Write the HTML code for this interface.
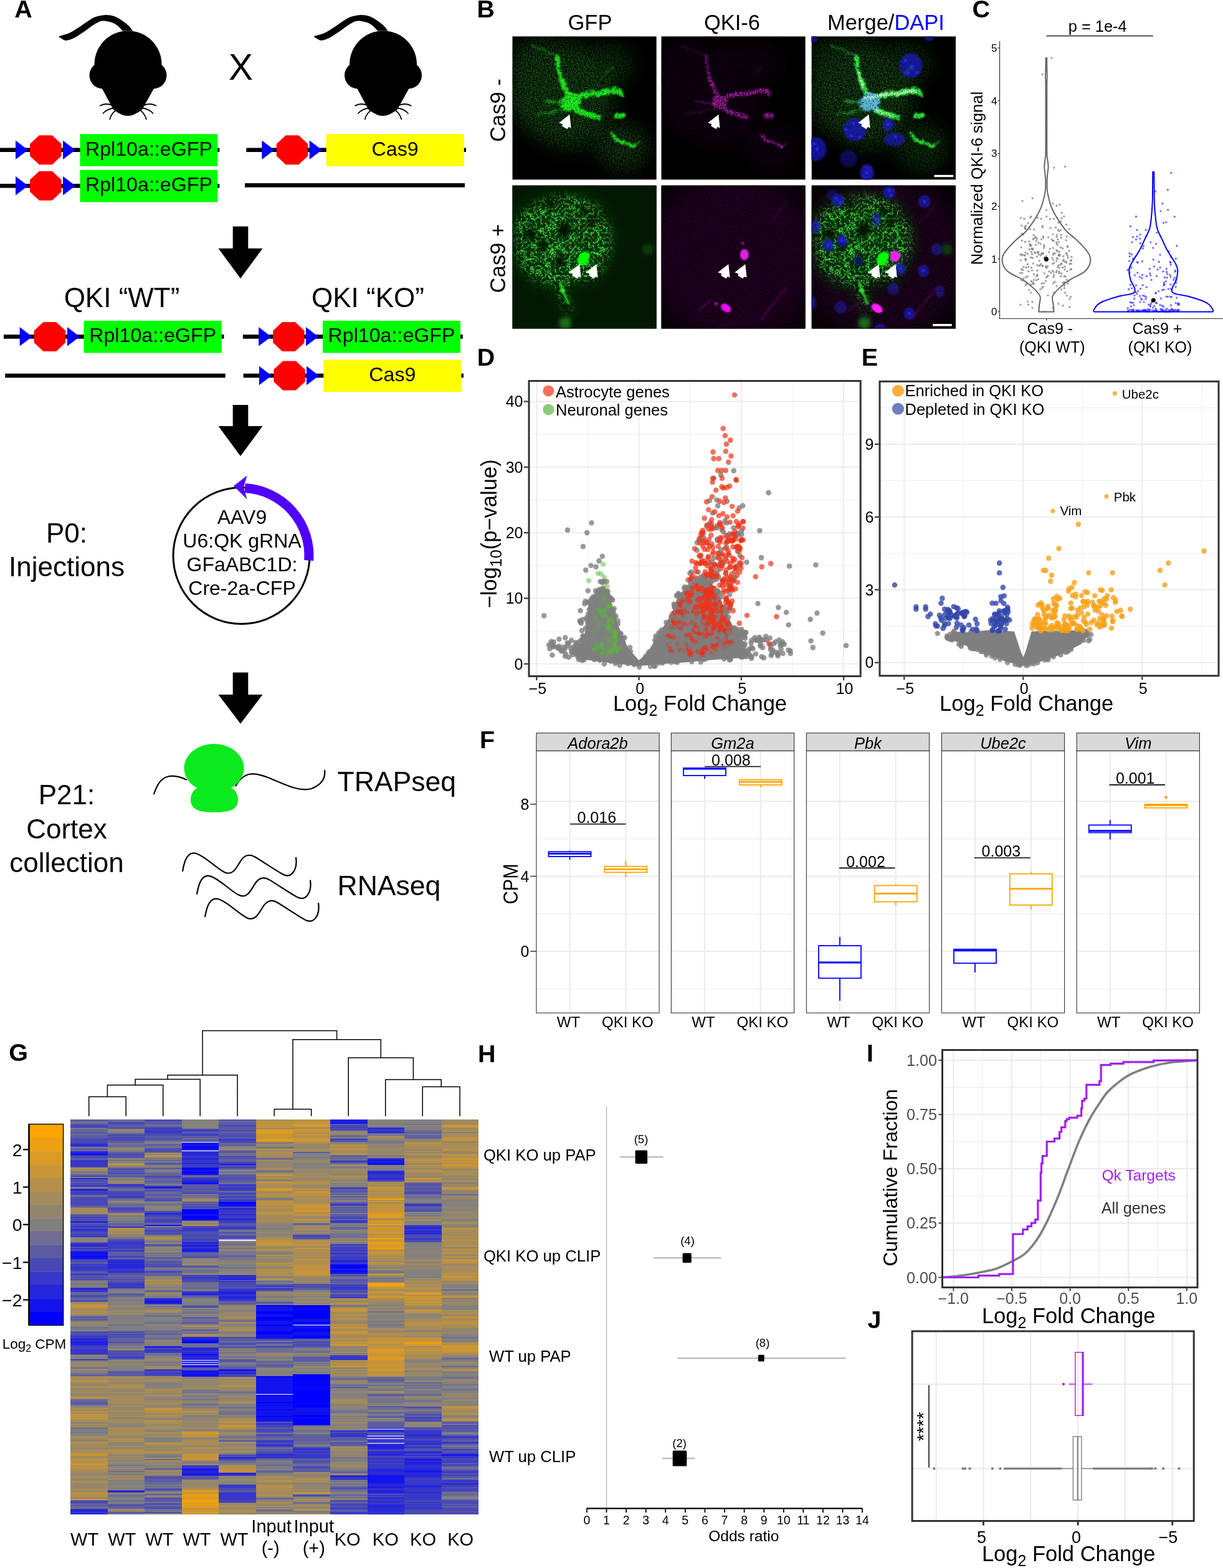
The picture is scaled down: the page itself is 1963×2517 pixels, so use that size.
<!DOCTYPE html>
<html><head><meta charset="utf-8"><title>Figure</title>
<style>html,body{margin:0;padding:0;background:#fff;}svg{display:block;}text{font-family:'Liberation Sans', Arial, Helvetica, sans-serif;}</style>
</head><body>
<svg width="1963" height="2517" viewBox="0 0 1963 2517">
<rect width="1963" height="2517" fill="#fff"/>
<defs>
<filter id="hazeF" x="-30%" y="-30%" width="160%" height="160%">
<feGaussianBlur in="SourceGraphic" stdDeviation="14" result="b"/>
<feTurbulence type="fractalNoise" baseFrequency="0.5" numOctaves="2" seed="4" result="n"/>
<feColorMatrix in="n" type="matrix" values="0 0 0 0 0  0 0 0 0 0  0 0 0 0 0  3.4 0 0 0 -1.15" result="m"/>
<feComposite in="b" in2="m" operator="in" result="c"/>
<feGaussianBlur in="c" stdDeviation="0.35"/>
</filter>
<filter id="softF" x="-30%" y="-30%" width="160%" height="160%">
<feGaussianBlur in="SourceGraphic" stdDeviation="14"/>
</filter>
<filter id="procF" x="-20%" y="-20%" width="140%" height="140%">
<feTurbulence type="fractalNoise" baseFrequency="0.18" numOctaves="2" seed="9" result="n"/>
<feDisplacementMap in="SourceGraphic" in2="n" scale="10" xChannelSelector="R" yChannelSelector="G" result="d"/>
<feGaussianBlur in="d" stdDeviation="1.1" result="bl"/>
<feTurbulence type="fractalNoise" baseFrequency="0.5" numOctaves="1" seed="13" result="n2"/>
<feColorMatrix in="n2" type="matrix" values="0 0 0 0 0  0 0 0 0 0  0 0 0 0 0  4 0 0 0 -0.9" result="m2"/>
<feComposite in="bl" in2="m2" operator="in"/>
</filter>
<filter id="procM" x="-20%" y="-20%" width="140%" height="140%">
<feTurbulence type="fractalNoise" baseFrequency="0.25" numOctaves="2" seed="9" result="n"/>
<feDisplacementMap in="SourceGraphic" in2="n" scale="7" xChannelSelector="R" yChannelSelector="G" result="d"/>
<feGaussianBlur in="d" stdDeviation="1.0" result="bl"/>
<feTurbulence type="fractalNoise" baseFrequency="0.55" numOctaves="1" seed="17" result="n2"/>
<feColorMatrix in="n2" type="matrix" values="0 0 0 0 0  0 0 0 0 0  0 0 0 0 0  5 0 0 0 -1.9" result="m2"/>
<feComposite in="bl" in2="m2" operator="in"/>
</filter>
<filter id="meshF" x="-10%" y="-10%" width="120%" height="120%">
<feGaussianBlur in="SourceGraphic" stdDeviation="7" result="sb"/>
<feTurbulence type="turbulence" baseFrequency="0.13" numOctaves="2" seed="7" result="n"/>
<feColorMatrix in="n" type="matrix" values="0 0 0 0 0  0 0 0 0 0  0 0 0 0 0  -6 0 0 0 1.5" result="m"/>
<feTurbulence type="fractalNoise" baseFrequency="0.45" numOctaves="1" seed="9" result="n2"/>
<feColorMatrix in="n2" type="matrix" values="0 0 0 0 0  0 0 0 0 0  0 0 0 0 0  6 0 0 0 -2.3" result="m2"/>
<feComposite in="m" in2="m2" operator="arithmetic" k1="1" k2="0" k3="0" k4="0" result="mm"/>
<feComposite in="sb" in2="mm" operator="in"/>
<feGaussianBlur stdDeviation="0.45"/>
</filter>
<filter id="nucF" x="-20%" y="-20%" width="140%" height="140%">
<feGaussianBlur in="SourceGraphic" stdDeviation="1.8" result="b"/>
<feTurbulence type="fractalNoise" baseFrequency="0.35" numOctaves="2" seed="21" result="n"/>
<feColorMatrix in="n" type="matrix" values="0 0 0 0 0  0 0 0 0 0  0 0 0 0 0  1.2 0 0 0 0.3" result="m"/>
<feComposite in="b" in2="m" operator="in"/>
</filter>
<filter id="blur1" x="-30%" y="-30%" width="160%" height="160%"><feGaussianBlur stdDeviation="1.2"/></filter>
<filter id="blur3" x="-50%" y="-50%" width="200%" height="200%"><feGaussianBlur stdDeviation="3"/></filter>
</defs>
<!-- panel_a -->
<text x="23.2" y="27.8" font-size="39.5" font-weight="bold">A</text>
<g transform="translate(0,0)"><path d="M95.5,57.8 C96.4,57.6 97.9,57.4 100.7,56.5 C103.5,55.6 107.6,55 112.3,52.6 C117,50.2 124.1,45.5 129.1,42.3 C134,39.1 138.1,35.8 142,33.3 C145.9,30.8 147.8,28.9 152.3,27.4 C156.8,25.8 163.9,24.2 169.1,24 C174.3,23.8 178.8,24.6 183.3,26.1 C187.8,27.7 192.4,30.7 196.3,33.3 C200.2,35.9 203.8,38.9 206.6,41.6 C209.4,44.3 212,48.2 213.1,49.5 L196.3,49.5 C195.4,48.5 193.5,45.7 191.1,43.6 C188.7,41.5 185.5,38.7 182.1,37.1 C178.7,35.5 174.1,34.3 170.4,33.9 C166.7,33.5 163.8,33.3 160.1,34.5 C156.4,35.7 152.8,38.2 148.5,41 C144.2,43.8 139.2,48 134.3,51.3 C129.4,54.6 123.5,58.7 118.8,61 C114,63.3 109.5,65 105.8,64.9 C102.1,64.8 98.3,61.1 96.8,60.4 Q93.5,60.5 95.5,57.8 Z" fill="#000"/><circle cx="205.5" cy="103.5" r="54" fill="#000"/><circle cx="165" cy="121" r="21.5" fill="#000"/><circle cx="246" cy="121" r="21.5" fill="#000"/><path d="M160,135 L251,135 L228,176 Q215,186 205,186 Q195,186 182,176 Z" fill="#000"/><path d="M183,170 Q170,164 160,170 M186,173 Q172,174 165,182.5 M190,174.5 Q179,180 176,192 M228,170 Q241,164 251,170 M225,173 Q239,174 246,182.5 M221,174.5 Q232,180 235,192" fill="none" stroke="#000" stroke-width="1.8"/></g>
<g transform="translate(409.5,0)"><path d="M95.5,57.8 C96.4,57.6 97.9,57.4 100.7,56.5 C103.5,55.6 107.6,55 112.3,52.6 C117,50.2 124.1,45.5 129.1,42.3 C134,39.1 138.1,35.8 142,33.3 C145.9,30.8 147.8,28.9 152.3,27.4 C156.8,25.8 163.9,24.2 169.1,24 C174.3,23.8 178.8,24.6 183.3,26.1 C187.8,27.7 192.4,30.7 196.3,33.3 C200.2,35.9 203.8,38.9 206.6,41.6 C209.4,44.3 212,48.2 213.1,49.5 L196.3,49.5 C195.4,48.5 193.5,45.7 191.1,43.6 C188.7,41.5 185.5,38.7 182.1,37.1 C178.7,35.5 174.1,34.3 170.4,33.9 C166.7,33.5 163.8,33.3 160.1,34.5 C156.4,35.7 152.8,38.2 148.5,41 C144.2,43.8 139.2,48 134.3,51.3 C129.4,54.6 123.5,58.7 118.8,61 C114,63.3 109.5,65 105.8,64.9 C102.1,64.8 98.3,61.1 96.8,60.4 Q93.5,60.5 95.5,57.8 Z" fill="#000"/><circle cx="205.5" cy="103.5" r="54" fill="#000"/><circle cx="165" cy="121" r="21.5" fill="#000"/><circle cx="246" cy="121" r="21.5" fill="#000"/><path d="M160,135 L251,135 L228,176 Q215,186 205,186 Q195,186 182,176 Z" fill="#000"/><path d="M183,170 Q170,164 160,170 M186,173 Q172,174 165,182.5 M190,174.5 Q179,180 176,192 M228,170 Q241,164 251,170 M225,173 Q239,174 246,182.5 M221,174.5 Q232,180 235,192" fill="none" stroke="#000" stroke-width="1.8"/></g>
<text x="386.5" y="128" font-size="58.5" text-anchor="middle">X</text>
<rect x="0" y="237.4" width="352.3" height="6.6" fill="#000"/><polygon points="25,225.4 45,240.7 25,255.9" fill="#0000FF"/><polygon points="62.9,217.2 83.7,217.2 98.5,231 98.5,250.4 83.7,264.2 62.9,264.2 48.1,250.4 48.1,231" fill="#FF0000"/><polygon points="101,225.4 121,240.7 101,255.9" fill="#0000FF"/><rect x="128.5" y="215.2" width="220.8" height="51.6" fill="#00FF00"/><text x="238.9" y="249.6" font-size="32.2" text-anchor="middle">Rpl10a::eGFP</text>
<rect x="0" y="295" width="352.3" height="6.6" fill="#000"/><polygon points="25,283.1 45,298.3 25,313.6" fill="#0000FF"/><polygon points="62.9,274.8 83.7,274.8 98.5,288.6 98.5,308 83.7,321.8 62.9,321.8 48.1,308 48.1,288.6" fill="#FF0000"/><polygon points="101,283.1 121,298.3 101,313.6" fill="#0000FF"/><rect x="128.5" y="272.8" width="220.8" height="51.6" fill="#00FF00"/><text x="238.9" y="307.2" font-size="32.2" text-anchor="middle">Rpl10a::eGFP</text>
<rect x="395.3" y="237.4" width="352.7" height="6.6" fill="#000"/><polygon points="420.4,225.4 440.4,240.7 420.4,255.9" fill="#0000FF"/><polygon points="458.6,217.2 479.4,217.2 494.2,231 494.2,250.4 479.4,264.2 458.6,264.2 443.8,250.4 443.8,231" fill="#FF0000"/><polygon points="496.7,225.4 516.7,240.7 496.7,255.9" fill="#0000FF"/><rect x="523.7" y="215.2" width="221.1" height="51.6" fill="#FFFF00"/><text x="634.2" y="249.6" font-size="32.2" text-anchor="middle">Cas9</text>
<rect x="393" y="294.1" width="353" height="6.6" fill="#000"/>
<polygon points="373.7,363.5 398.3,363.5 398.3,398.7 421.5,398.7 386,446.9 350.5,398.7 373.7,398.7" fill="#000"/>
<text x="195.5" y="492.7" font-size="44" text-anchor="middle">QKI “WT”</text>
<text x="590.5" y="492.7" font-size="44" text-anchor="middle">QKI “KO”</text>
<rect x="5.9" y="537.1" width="353.5" height="6.6" fill="#000"/><polygon points="31.7,525.1 51.7,540.4 31.7,555.6" fill="#0000FF"/><polygon points="69.5,516.9 90.3,516.9 105.1,530.7 105.1,550.1 90.3,563.9 69.5,563.9 54.7,550.1 54.7,530.7" fill="#FF0000"/><polygon points="108,525.1 128,540.4 108,555.6" fill="#0000FF"/><rect x="134.6" y="514.9" width="221.2" height="51.6" fill="#00FF00"/><text x="245.2" y="549.3" font-size="32.2" text-anchor="middle">Rpl10a::eGFP</text>
<rect x="8.2" y="599.7" width="353.5" height="6.6" fill="#000"/>
<rect x="389.9" y="537.1" width="353" height="6.6" fill="#000"/><polygon points="415.2,525.1 435.2,540.4 415.2,555.6" fill="#0000FF"/><polygon points="453,516.9 473.8,516.9 488.6,530.7 488.6,550.1 473.8,563.9 453,563.9 438.2,550.1 438.2,530.7" fill="#FF0000"/><polygon points="491,525.1 511,540.4 491,555.6" fill="#0000FF"/><rect x="518" y="514.9" width="221" height="51.6" fill="#00FF00"/><text x="628.5" y="549.3" font-size="32.2" text-anchor="middle">Rpl10a::eGFP</text>
<rect x="390.6" y="599.7" width="353.4" height="6.6" fill="#000"/><polygon points="416,587.8 436,603 416,618.2" fill="#0000FF"/><polygon points="454.1,579.5 474.9,579.5 489.7,593.3 489.7,612.7 474.9,626.5 454.1,626.5 439.3,612.7 439.3,593.3" fill="#FF0000"/><polygon points="492,587.8 512,603 492,618.2" fill="#0000FF"/><rect x="519.3" y="577.5" width="221.2" height="51.6" fill="#FFFF00"/><text x="629.9" y="611.9" font-size="32.2" text-anchor="middle">Cas9</text>
<polygon points="373.7,650 398.3,650 398.3,684 421.5,684 386,732.3 350.5,684 373.7,684" fill="#000"/>
<circle cx="387.5" cy="892" r="109.5" fill="none" stroke="#000" stroke-width="3"/>
<path d="M393.2,783.6 A108.5,108.5 0 0 1 495.7,899.6" fill="none" stroke="#5000FF" stroke-width="15"/>
<polygon points="375,780 396.5,763.5 391,782 396.5,801.5" fill="#5000FF"/>
<text x="388.5" y="840.8" font-size="32" text-anchor="middle">AAV9</text>
<text x="388.5" y="879" font-size="32" text-anchor="middle">U6:QK gRNA</text>
<text x="388.5" y="917.2" font-size="32" text-anchor="middle">GFaABC1D:</text>
<text x="388.5" y="955.4" font-size="32" text-anchor="middle">Cre-2a-CFP</text>
<text x="107" y="870.8" font-size="44" text-anchor="middle">P0:</text>
<text x="107" y="924.7" font-size="44" text-anchor="middle">Injections</text>
<polygon points="373.7,1079.5 398.3,1079.5 398.3,1115 421.5,1115 386,1161.7 350.5,1115 373.7,1115" fill="#000"/>
<path d="M247,1275 C255,1248 270,1238 300,1252" fill="none" stroke="#000" stroke-width="2.2"/>
<path d="M378,1262 C390,1240 405,1238 430,1248 C455,1258 480,1272 500,1266 C515,1260 523,1250 521,1236" fill="none" stroke="#000" stroke-width="2.2"/>
<ellipse cx="343.5" cy="1233" rx="48" ry="39" fill="#0BEA1F"/>
<path d="M306,1283 C306,1268 320,1258 344,1258 C368,1258 382,1268 382,1283 C382,1298 372,1304 344,1304 C316,1304 306,1298 306,1283 Z" fill="#0BEA1F"/>
<text x="541.5" y="1269.8" font-size="44.5">TRAPseq</text>
<text x="107" y="1291.3" font-size="44" text-anchor="middle">P21:</text>
<text x="107" y="1346" font-size="44" text-anchor="middle">Cortex</text>
<text x="107" y="1399.8" font-size="44" text-anchor="middle">collection</text>
<path transform="translate(0,0)" d="M293,1399 C296,1380 302,1366 315,1370 C330,1375 345,1392 360,1400 C372,1406 378,1396 385,1384 C392,1372 400,1370 410,1376 C425,1385 440,1396 455,1404 C468,1410 478,1396 475,1376" fill="none" stroke="#000" stroke-width="2.2"/>
<path transform="translate(23,36.6)" d="M293,1399 C296,1380 302,1366 315,1370 C330,1375 345,1392 360,1400 C372,1406 378,1396 385,1384 C392,1372 400,1370 410,1376 C425,1385 440,1396 455,1404 C468,1410 478,1396 475,1376" fill="none" stroke="#000" stroke-width="2.2"/>
<path transform="translate(36,73.2)" d="M293,1399 C296,1380 302,1366 315,1370 C330,1375 345,1392 360,1400 C372,1406 378,1396 385,1384 C392,1372 400,1370 410,1376 C425,1385 440,1396 455,1404 C468,1410 478,1396 475,1376" fill="none" stroke="#000" stroke-width="2.2"/>
<text x="541.5" y="1436.5" font-size="44.5">RNAseq</text>
<!-- panel_b -->
<text x="765.6" y="28.2" font-size="39.5" font-weight="bold">B</text>
<text x="947" y="48.4" font-size="34.5" text-anchor="middle">GFP</text>
<text x="1175" y="48.4" font-size="34.5" text-anchor="middle">QKI-6</text>
<text x="1422" y="48.4" font-size="34.5" text-anchor="middle">Merge/<tspan fill="#0000FF">DAPI</tspan></text>
<text x="0" y="0" font-size="34.5" text-anchor="middle" transform="translate(811,177) rotate(-90)">Cas9 -</text>
<text x="0" y="0" font-size="34.5" text-anchor="middle" transform="translate(811,415) rotate(-90)">Cas9 +</text>
<clipPath id="clipB00"><rect x="0" y="0" width="231.5" height="230.3"/></clipPath>
<g transform="translate(822.3,58.3)"><g clip-path="url(#clipB00)">
<rect x="0" y="0" width="231.5" height="230.3" fill="#000"/>
<g filter="url(#hazeF)"><ellipse cx="80" cy="95" rx="85" ry="75" fill="#154c15" opacity="1"/><ellipse cx="30" cy="60" rx="35" ry="50" fill="#154c15" opacity="0.8"/><ellipse cx="150" cy="45" rx="45" ry="35" fill="#154c15" opacity="0.7"/><ellipse cx="178" cy="178" rx="42" ry="40" fill="#154c15" opacity="0.8"/><ellipse cx="95" cy="160" rx="45" ry="25" fill="#154c15" opacity="0.6"/><ellipse cx="60" cy="20" rx="60" ry="20" fill="#154c15" opacity="0.6"/></g>
<g filter="url(#procF)"><polyline points="90,95 84,82 78,70" fill="none" stroke="#1ee81e" stroke-width="9" stroke-linecap="round" stroke-linejoin="round"/><polyline points="78,70 75,56 73.5,45 72.5,33" fill="none" stroke="#1ee81e" stroke-width="6" stroke-linecap="round" stroke-linejoin="round"/><polyline points="106,96 119,93.5 130,93 138.6,92.1 147,90 155.5,88 163,87.5 169.6,88 174,92" fill="none" stroke="#1ee81e" stroke-width="10" stroke-linecap="round" stroke-linejoin="round"/><polyline points="100,116 110,121 119,124.5 128,126.5 137,130" fill="none" stroke="#1ee81e" stroke-width="9" stroke-linecap="round" stroke-linejoin="round"/><polyline points="161,158 166.8,166.8 178,169.6 188,174 195,178" fill="none" stroke="#1ee81e" stroke-width="6" stroke-linecap="round" stroke-linejoin="round"/><polyline points="72.5,33 62,27 54,23 42,19 34,16" fill="none" stroke="#1ee81e" stroke-width="4" stroke-linecap="round" stroke-linejoin="round" opacity="0.3"/><polyline points="82,108 66,106 54,104" fill="none" stroke="#1ee81e" stroke-width="4.5" stroke-linecap="round" stroke-linejoin="round" opacity="0.5"/><polyline points="80,118 62,122 42,125" fill="none" stroke="#1ee81e" stroke-width="3.5" stroke-linecap="round" stroke-linejoin="round" opacity="0.4"/><polyline points="195,178 203,170" fill="none" stroke="#1ee81e" stroke-width="3" stroke-linecap="round" stroke-linejoin="round" opacity="0.6"/><polyline points="150,60 160,50" fill="none" stroke="#1ee81e" stroke-width="3" stroke-linecap="round" stroke-linejoin="round" opacity="0.3"/><ellipse cx="94" cy="106" rx="17" ry="15" fill="#1ee81e"/><ellipse cx="172.4" cy="127.4" rx="9" ry="5" fill="#1ee81e"/></g>
</g></g>
<polygon points="914.3,183.8 916.6,205.5 912.8,203.8 910.3,207.2 902.1,202.2 903.3,199.3 897.2,197.2" fill="#fff"/>
<clipPath id="clipB01"><rect x="0" y="0" width="231.5" height="230.3"/></clipPath>
<g transform="translate(1061.3,58.3)"><g clip-path="url(#clipB01)">
<rect x="0" y="0" width="231.5" height="230.3" fill="#000"/>
<g filter="url(#hazeF)"><ellipse cx="80" cy="95" rx="85" ry="75" fill="#180518" opacity="1"/><ellipse cx="30" cy="60" rx="35" ry="50" fill="#180518" opacity="0.8"/><ellipse cx="150" cy="45" rx="45" ry="35" fill="#180518" opacity="0.7"/><ellipse cx="178" cy="178" rx="42" ry="40" fill="#180518" opacity="0.8"/><ellipse cx="95" cy="160" rx="45" ry="25" fill="#180518" opacity="0.6"/><ellipse cx="60" cy="20" rx="60" ry="20" fill="#180518" opacity="0.6"/></g>
<g filter="url(#procM)"><polyline points="90,95 84,82 78,70" fill="none" stroke="#b41cb4" stroke-width="6.8" stroke-linecap="round" stroke-linejoin="round"/><polyline points="78,70 75,56 73.5,45 72.5,33" fill="none" stroke="#b41cb4" stroke-width="4.5" stroke-linecap="round" stroke-linejoin="round"/><polyline points="106,96 119,93.5 130,93 138.6,92.1 147,90 155.5,88 163,87.5 169.6,88 174,92" fill="none" stroke="#b41cb4" stroke-width="7.5" stroke-linecap="round" stroke-linejoin="round"/><polyline points="100,116 110,121 119,124.5 128,126.5 137,130" fill="none" stroke="#b41cb4" stroke-width="6.8" stroke-linecap="round" stroke-linejoin="round"/><polyline points="161,158 166.8,166.8 178,169.6 188,174 195,178" fill="none" stroke="#b41cb4" stroke-width="4.5" stroke-linecap="round" stroke-linejoin="round"/><polyline points="72.5,33 62,27 54,23 42,19 34,16" fill="none" stroke="#b41cb4" stroke-width="3" stroke-linecap="round" stroke-linejoin="round" opacity="0.3"/><polyline points="82,108 66,106 54,104" fill="none" stroke="#b41cb4" stroke-width="3.4" stroke-linecap="round" stroke-linejoin="round" opacity="0.5"/><polyline points="80,118 62,122 42,125" fill="none" stroke="#b41cb4" stroke-width="2.6" stroke-linecap="round" stroke-linejoin="round" opacity="0.4"/><polyline points="195,178 203,170" fill="none" stroke="#b41cb4" stroke-width="2.2" stroke-linecap="round" stroke-linejoin="round" opacity="0.6"/><polyline points="150,60 160,50" fill="none" stroke="#b41cb4" stroke-width="2.2" stroke-linecap="round" stroke-linejoin="round" opacity="0.3"/><ellipse cx="94" cy="106" rx="12.8" ry="11.2" fill="#b41cb4"/><ellipse cx="172.4" cy="127.4" rx="9" ry="5" fill="#b41cb4"/></g>
</g></g>
<polygon points="1153.3,183.8 1155.6,205.5 1151.8,203.8 1149.3,207.2 1141.1,202.2 1142.3,199.3 1136.2,197.2" fill="#fff"/>
<clipPath id="clipB02"><rect x="0" y="0" width="231.5" height="230.3"/></clipPath>
<g transform="translate(1302.5,58.3)"><g clip-path="url(#clipB02)">
<rect x="0" y="0" width="231.5" height="230.3" fill="#000"/>
<g filter="url(#hazeF)"><ellipse cx="80" cy="95" rx="85" ry="75" fill="#134613" opacity="1"/><ellipse cx="30" cy="60" rx="35" ry="50" fill="#134613" opacity="0.8"/><ellipse cx="150" cy="45" rx="45" ry="35" fill="#134613" opacity="0.7"/><ellipse cx="178" cy="178" rx="42" ry="40" fill="#134613" opacity="0.8"/><ellipse cx="95" cy="160" rx="45" ry="25" fill="#134613" opacity="0.6"/><ellipse cx="60" cy="20" rx="60" ry="20" fill="#134613" opacity="0.6"/></g>
<g filter="url(#nucF)"><ellipse cx="159.5" cy="47" rx="18.3" ry="19.7" fill="#1a1ab4" opacity="0.9"/><ellipse cx="69.4" cy="149.9" rx="18" ry="18" fill="#1a1ab4" opacity="0.9"/><ellipse cx="122.9" cy="141.4" rx="9" ry="10" fill="#1a1ab4" opacity="1"/><ellipse cx="133.5" cy="165.4" rx="17" ry="11" fill="#1a1ab4" opacity="0.8"/><ellipse cx="6" cy="180.9" rx="18" ry="19" fill="#1a1ab4" opacity="0.9"/><ellipse cx="59.5" cy="196.4" rx="14" ry="14" fill="#1a1ab4" opacity="0.5"/><ellipse cx="89.1" cy="219" rx="11" ry="14" fill="#1a1ab4" opacity="1"/><ellipse cx="1.7" cy="3.3" rx="8" ry="6" fill="#1a1ab4" opacity="0.9"/><ellipse cx="189" cy="2" rx="8" ry="6" fill="#1a1ab4" opacity="0.7"/></g><g filter="url(#blur1)"><circle cx="150.5" cy="39" r="2.4" fill="#2a2aff"/><circle cx="161.5" cy="48" r="2.4" fill="#2a2aff"/><circle cx="169.5" cy="58" r="2.4" fill="#2a2aff"/><circle cx="155.5" cy="59" r="2.4" fill="#2a2aff"/><circle cx="67.4" cy="139.9" r="2.4" fill="#2a2aff"/><circle cx="64.4" cy="159.9" r="2.4" fill="#2a2aff"/><circle cx="77.4" cy="161.9" r="2.4" fill="#2a2aff"/><circle cx="55.4" cy="149.9" r="2.4" fill="#2a2aff"/><circle cx="122.9" cy="141.4" r="2.4" fill="#2a2aff"/><circle cx="134.5" cy="161.4" r="2.4" fill="#2a2aff"/><circle cx="9" cy="180.9" r="2.4" fill="#2a2aff"/><circle cx="4" cy="172.9" r="2.4" fill="#2a2aff"/><circle cx="89.1" cy="219" r="2.4" fill="#2a2aff"/></g>
<g filter="url(#procF)"><polyline points="90,95 84,82 78,70" fill="none" stroke="#30e840" stroke-width="9" stroke-linecap="round" stroke-linejoin="round"/><polyline points="78,70 75,56 73.5,45 72.5,33" fill="none" stroke="#30e840" stroke-width="6" stroke-linecap="round" stroke-linejoin="round"/><polyline points="106,96 119,93.5 130,93 138.6,92.1 147,90 155.5,88 163,87.5 169.6,88 174,92" fill="none" stroke="#30e840" stroke-width="10" stroke-linecap="round" stroke-linejoin="round"/><polyline points="100,116 110,121 119,124.5 128,126.5 137,130" fill="none" stroke="#30e840" stroke-width="9" stroke-linecap="round" stroke-linejoin="round"/><polyline points="161,158 166.8,166.8 178,169.6 188,174 195,178" fill="none" stroke="#30e840" stroke-width="6" stroke-linecap="round" stroke-linejoin="round"/><polyline points="72.5,33 62,27 54,23 42,19 34,16" fill="none" stroke="#30e840" stroke-width="4" stroke-linecap="round" stroke-linejoin="round" opacity="0.3"/><polyline points="82,108 66,106 54,104" fill="none" stroke="#30e840" stroke-width="4.5" stroke-linecap="round" stroke-linejoin="round" opacity="0.5"/><polyline points="80,118 62,122 42,125" fill="none" stroke="#30e840" stroke-width="3.5" stroke-linecap="round" stroke-linejoin="round" opacity="0.4"/><polyline points="195,178 203,170" fill="none" stroke="#30e840" stroke-width="3" stroke-linecap="round" stroke-linejoin="round" opacity="0.6"/><polyline points="150,60 160,50" fill="none" stroke="#30e840" stroke-width="3" stroke-linecap="round" stroke-linejoin="round" opacity="0.3"/><ellipse cx="94" cy="106" rx="17" ry="15" fill="#5ab8d8"/><ellipse cx="172.4" cy="127.4" rx="9" ry="5" fill="#30e840"/></g>
<g filter="url(#procM)"><polyline points="86,100 100,97 119,93.5 138,92 156,88 166,88" fill="none" stroke="#eeffee" stroke-width="4.5" stroke-linecap="round" stroke-linejoin="round"/><polyline points="84,82 78,70 76,58" fill="none" stroke="#ddffdd" stroke-width="3.5" stroke-linecap="round" stroke-linejoin="round"/><polyline points="104,118 118,124 130,127" fill="none" stroke="#ddffdd" stroke-width="3.5" stroke-linecap="round" stroke-linejoin="round"/></g>
</g></g>
<polygon points="1394.5,183.8 1396.8,205.5 1393,203.8 1390.5,207.2 1382.3,202.2 1383.5,199.3 1377.4,197.2" fill="#fff"/>
<clipPath id="clipB10"><rect x="0" y="0" width="231.5" height="230.3"/></clipPath>
<g transform="translate(822.3,297.4)"><g clip-path="url(#clipB10)">
<rect x="0" y="0" width="231.5" height="230.3" fill="#000"/>
<rect x="0" y="0" width="231.5" height="230.3" fill="#031803"/><g filter="url(#softF)"><polygon points="6,55 26,34 61,20 82,15 118,20 139,34 160,69 160,104 146,132 132,154 96,154 86,165 92,190 100,205 88,205 76,180 70,158 40,158 20,140 6,110" fill="#0a300a"/></g><g filter="url(#meshF)"><polygon points="6,55 26,34 61,20 82,15 118,20 139,34 160,69 160,104 146,132 132,154 96,154 86,165 92,190 100,205 88,205 76,180 70,158 40,158 20,140 6,110" fill="#3af03a"/></g><g filter="url(#blur3)"><circle cx="29.5" cy="78.4" r="10" fill="#020a02" opacity="0.9"/><circle cx="83.4" cy="72.4" r="11" fill="#020a02" opacity="0.9"/><circle cx="49.5" cy="94.4" r="9" fill="#020a02" opacity="0.9"/><circle cx="75.5" cy="122.3" r="9" fill="#020a02" opacity="0.9"/><circle cx="127.4" cy="58.5" r="7" fill="#020a02" opacity="0.9"/><circle cx="61.5" cy="32.5" r="7" fill="#020a02" opacity="0.9"/><circle cx="113.4" cy="40.5" r="6" fill="#020a02" opacity="0.9"/></g><g filter="url(#blur1)"><polygon points="104,124 108,110 118,106 124,110 122,122 113,128" fill="#00ff00"/><polyline points="76.6,156.4 80.8,169 86,180 89.3,189" fill="none" stroke="#22bb22" stroke-width="4" stroke-linecap="round" stroke-linejoin="round"/><circle cx="80.8" cy="169" r="4" fill="#33dd33"/></g><g filter="url(#blur3)"><circle cx="85" cy="221" r="10" fill="#1a6a1a"/><circle cx="217.5" cy="103" r="9" fill="#0e3a0e"/></g>
</g></g>
<polygon points="930.3,423.9 932.6,445.6 928.8,443.9 926.3,447.3 918.1,442.3 919.3,439.4 913.2,437.3" fill="#fff"/>
<polygon points="957.3,423.9 959.6,445.6 955.8,443.9 953.3,447.3 945.1,442.3 946.3,439.4 940.2,437.3" fill="#fff"/>
<clipPath id="clipB11"><rect x="0" y="0" width="231.5" height="230.3"/></clipPath>
<g transform="translate(1061.3,297.4)"><g clip-path="url(#clipB11)">
<rect x="0" y="0" width="231.5" height="230.3" fill="#000"/>
<rect x="0" y="0" width="231.5" height="230.3" fill="#0a000a"/>
<g filter="url(#hazeF)"><ellipse cx="115" cy="115" rx="130" ry="130" fill="#2a002a" opacity="0.9"/></g><g filter="url(#blur1)"><ellipse cx="133.5" cy="111.3" rx="7" ry="9" fill="#dd22dd"/><circle cx="131" cy="93" r="2" fill="#bb22bb"/><ellipse cx="104" cy="197" rx="9" ry="6" fill="#ee11ee" transform="rotate(35 104 197)"/><circle cx="88" cy="190" r="2.5" fill="#aa11aa"/><polyline points="160,215 200,165" fill="none" stroke="#4a004a" stroke-width="2.5" stroke-linecap="round" stroke-linejoin="round"/><polyline points="175,60 200,30" fill="none" stroke="#3a003a" stroke-width="2" stroke-linecap="round" stroke-linejoin="round"/><polyline points="60,200 80,185" fill="none" stroke="#5a005a" stroke-width="2" stroke-linecap="round" stroke-linejoin="round"/></g>
</g></g>
<polygon points="1169.3,423.9 1171.6,445.6 1167.8,443.9 1165.3,447.3 1157.1,442.3 1158.3,439.4 1152.2,437.3" fill="#fff"/>
<polygon points="1196.3,423.9 1198.6,445.6 1194.8,443.9 1192.3,447.3 1184.1,442.3 1185.3,439.4 1179.2,437.3" fill="#fff"/>
<clipPath id="clipB12"><rect x="0" y="0" width="231.5" height="230.3"/></clipPath>
<g transform="translate(1302.5,297.4)"><g clip-path="url(#clipB12)">
<rect x="0" y="0" width="231.5" height="230.3" fill="#000"/>
<rect x="0" y="0" width="231.5" height="230.3" fill="#060206"/>
<g filter="url(#hazeF)"><ellipse cx="115" cy="115" rx="130" ry="130" fill="#2a002a" opacity="0.9"/></g><g filter="url(#blur1)"><ellipse cx="133.5" cy="111.3" rx="7" ry="9" fill="#dd22dd"/><circle cx="131" cy="93" r="2" fill="#bb22bb"/><ellipse cx="104" cy="197" rx="9" ry="6" fill="#ee11ee" transform="rotate(35 104 197)"/><circle cx="88" cy="190" r="2.5" fill="#aa11aa"/><polyline points="160,215 200,165" fill="none" stroke="#4a004a" stroke-width="2.5" stroke-linecap="round" stroke-linejoin="round"/><polyline points="175,60 200,30" fill="none" stroke="#3a003a" stroke-width="2" stroke-linecap="round" stroke-linejoin="round"/><polyline points="60,200 80,185" fill="none" stroke="#5a005a" stroke-width="2" stroke-linecap="round" stroke-linejoin="round"/></g>
<g filter="url(#softF)"><polygon points="6,55 26,34 61,20 82,15 118,20 139,34 160,69 160,104 146,132 132,154 96,154 86,165 92,190 100,205 88,205 76,180 70,158 40,158 20,140 6,110" fill="#0a300a"/></g><g filter="url(#meshF)"><polygon points="6,55 26,34 61,20 82,15 118,20 139,34 160,69 160,104 146,132 132,154 96,154 86,165 92,190 100,205 88,205 76,180 70,158 40,158 20,140 6,110" fill="#3af03a"/></g><g filter="url(#blur3)"><circle cx="29.5" cy="78.4" r="10" fill="#020a02" opacity="0.9"/><circle cx="83.4" cy="72.4" r="11" fill="#020a02" opacity="0.9"/><circle cx="49.5" cy="94.4" r="9" fill="#020a02" opacity="0.9"/><circle cx="75.5" cy="122.3" r="9" fill="#020a02" opacity="0.9"/><circle cx="127.4" cy="58.5" r="7" fill="#020a02" opacity="0.9"/><circle cx="61.5" cy="32.5" r="7" fill="#020a02" opacity="0.9"/><circle cx="113.4" cy="40.5" r="6" fill="#020a02" opacity="0.9"/></g><g filter="url(#blur1)"><polygon points="104,124 108,110 118,106 124,110 122,122 113,128" fill="#00ff00"/><polyline points="76.6,156.4 80.8,169 86,180 89.3,189" fill="none" stroke="#22bb22" stroke-width="4" stroke-linecap="round" stroke-linejoin="round"/><circle cx="80.8" cy="169" r="4" fill="#33dd33"/></g><g filter="url(#blur3)"><circle cx="85" cy="221" r="10" fill="#1a6a1a"/><circle cx="217.5" cy="103" r="9" fill="#0e3a0e"/></g>
<g filter="url(#nucF)"><ellipse cx="42.3" cy="24" rx="10" ry="10" fill="#1a1ab4" opacity="0.9"/><ellipse cx="124.8" cy="11.3" rx="10" ry="10" fill="#1a1ab4" opacity="0.9"/><ellipse cx="181.1" cy="26.1" rx="10" ry="10" fill="#1a1ab4" opacity="0.8"/><ellipse cx="6" cy="66.2" rx="9" ry="10" fill="#1a1ab4" opacity="0.8"/><ellipse cx="27.1" cy="95.8" rx="9" ry="10" fill="#1a1ab4" opacity="0.9"/><ellipse cx="48.9" cy="88.8" rx="9" ry="10" fill="#1a1ab4" opacity="0.9"/><ellipse cx="104.3" cy="55" rx="7" ry="11" fill="#1a1ab4" opacity="0.7"/><ellipse cx="142.4" cy="133.9" rx="9" ry="10" fill="#1a1ab4" opacity="0.8"/><ellipse cx="179.7" cy="137.4" rx="9" ry="10" fill="#1a1ab4" opacity="0.8"/><ellipse cx="200.9" cy="102.9" rx="9" ry="10" fill="#1a1ab4" opacity="0.6"/><ellipse cx="131.4" cy="166.3" rx="9" ry="10" fill="#1a1ab4" opacity="0.6"/><ellipse cx="157.2" cy="205.8" rx="9" ry="10" fill="#1a1ab4" opacity="0.8"/><ellipse cx="46.8" cy="195.9" rx="10" ry="10" fill="#1a1ab4" opacity="0.6"/><ellipse cx="205.8" cy="170.5" rx="7" ry="10" fill="#1a1ab4" opacity="0.6"/><ellipse cx="1.7" cy="188.9" rx="6" ry="10" fill="#1a1ab4" opacity="0.8"/><ellipse cx="75" cy="121" rx="8" ry="9" fill="#1a1ab4" opacity="0.5"/><ellipse cx="110" cy="230" rx="8" ry="8" fill="#1a1ab4" opacity="0.8"/><ellipse cx="33" cy="15" rx="9" ry="9" fill="#1a1ab4" opacity="0.4"/></g><g filter="url(#blur1)"><circle cx="39.3" cy="21" r="2.4" fill="#2a2aff"/><circle cx="46.3" cy="28" r="2.4" fill="#2a2aff"/><circle cx="124.8" cy="8.3" r="2.4" fill="#2a2aff"/><circle cx="127.8" cy="16.3" r="2.4" fill="#2a2aff"/><circle cx="181.1" cy="26.1" r="2.4" fill="#2a2aff"/><circle cx="27.1" cy="95.8" r="2.4" fill="#2a2aff"/><circle cx="48.9" cy="88.8" r="2.4" fill="#2a2aff"/><circle cx="104.3" cy="55" r="2.4" fill="#2a2aff"/><circle cx="142.4" cy="133.9" r="2.4" fill="#2a2aff"/><circle cx="179.7" cy="137.4" r="2.4" fill="#2a2aff"/><circle cx="157.2" cy="205.8" r="2.4" fill="#2a2aff"/></g>
<g filter="url(#blur1)"><ellipse cx="134" cy="114" rx="8" ry="9" fill="#ee22ee"/><ellipse cx="106" cy="198" rx="9" ry="6" fill="#ff22ff" transform="rotate(35 106 198)"/></g>
</g></g>
<polygon points="1410.5,423.9 1412.8,445.6 1409,443.9 1406.5,447.3 1398.3,442.3 1399.5,439.4 1393.4,437.3" fill="#fff"/>
<polygon points="1437.5,423.9 1439.8,445.6 1436,443.9 1433.5,447.3 1425.3,442.3 1426.5,439.4 1420.4,437.3" fill="#fff"/>
<rect x="1499.5" y="280.8" width="30.7" height="3.4" fill="#fff"/>
<rect x="1497.2" y="520" width="30.6" height="3.5" fill="#fff"/>
<!-- panel_c -->
<text x="1560.6" y="27.5" font-size="39.5" font-weight="bold">C</text>
<text x="1761.7" y="51" font-size="25.4" text-anchor="middle">p = 1e-4</text>
<line x1="1679.4" y1="57.6" x2="1850.7" y2="57.6" stroke="#000" stroke-width="1.3"/>
<line x1="1604.5" y1="66" x2="1604.5" y2="511.5" stroke="#333" stroke-width="1.2"/>
<line x1="1604" y1="511.5" x2="1963" y2="511.5" stroke="#333" stroke-width="1.2"/>
<line x1="1601.5" y1="500.4" x2="1604.5" y2="500.4" stroke="#333" stroke-width="1.2"/>
<text x="1600.5" y="506.4" font-size="17" text-anchor="end">0</text>
<line x1="1601.5" y1="415.7" x2="1604.5" y2="415.7" stroke="#333" stroke-width="1.2"/>
<text x="1600.5" y="421.7" font-size="17" text-anchor="end">1</text>
<line x1="1601.5" y1="331" x2="1604.5" y2="331" stroke="#333" stroke-width="1.2"/>
<text x="1600.5" y="337" font-size="17" text-anchor="end">2</text>
<line x1="1601.5" y1="246.3" x2="1604.5" y2="246.3" stroke="#333" stroke-width="1.2"/>
<text x="1600.5" y="252.3" font-size="17" text-anchor="end">3</text>
<line x1="1601.5" y1="161.6" x2="1604.5" y2="161.6" stroke="#333" stroke-width="1.2"/>
<text x="1600.5" y="167.6" font-size="17" text-anchor="end">4</text>
<line x1="1601.5" y1="76.9" x2="1604.5" y2="76.9" stroke="#333" stroke-width="1.2"/>
<text x="1600.5" y="82.9" font-size="17" text-anchor="end">5</text>
<line x1="1679.9" y1="511.5" x2="1679.9" y2="514.5" stroke="#333" stroke-width="1.2"/>
<line x1="1851.5" y1="511.5" x2="1851.5" y2="514.5" stroke="#333" stroke-width="1.2"/>
<text x="0" y="0" font-size="25.7" text-anchor="middle" transform="translate(1577,286) rotate(-90)">Normalized QKI-6 signal</text>
<text x="1685.3" y="535.8" font-size="25" text-anchor="middle">Cas9 -</text>
<text x="1688.8" y="566.3" font-size="25" text-anchor="middle">(QKI WT)</text>
<text x="1857.4" y="535.8" font-size="25" text-anchor="middle">Cas9 +</text>
<text x="1862" y="566.3" font-size="25" text-anchor="middle">(QKI KO)</text>
<g fill="#808080" fill-opacity="0.75"><circle cx="1691.6" cy="441.4" r="1.7"/><circle cx="1674.7" cy="381.9" r="1.7"/><circle cx="1716.1" cy="402.8" r="1.7"/><circle cx="1699" cy="487.7" r="1.7"/><circle cx="1658.3" cy="423.1" r="1.7"/><circle cx="1713.3" cy="395.3" r="1.7"/><circle cx="1641.1" cy="322.6" r="1.7"/><circle cx="1682" cy="474.1" r="1.7"/><circle cx="1671.5" cy="384.1" r="1.7"/><circle cx="1657.4" cy="400.7" r="1.7"/><circle cx="1642.3" cy="376.5" r="1.7"/><circle cx="1702.8" cy="443.2" r="1.7"/><circle cx="1638.4" cy="417.9" r="1.7"/><circle cx="1683.7" cy="404.8" r="1.7"/><circle cx="1716.4" cy="367.6" r="1.7"/><circle cx="1649.4" cy="424.3" r="1.7"/><circle cx="1654.2" cy="394.8" r="1.7"/><circle cx="1688.5" cy="414.1" r="1.7"/><circle cx="1680" cy="430.1" r="1.7"/><circle cx="1691.3" cy="469.8" r="1.7"/><circle cx="1705.7" cy="429.2" r="1.7"/><circle cx="1652.1" cy="400.3" r="1.7"/><circle cx="1663.4" cy="449.7" r="1.7"/><circle cx="1662.6" cy="393.1" r="1.7"/><circle cx="1641.5" cy="433.2" r="1.7"/><circle cx="1712.1" cy="406.5" r="1.7"/><circle cx="1703.2" cy="377.3" r="1.7"/><circle cx="1697.5" cy="428.9" r="1.7"/><circle cx="1637.9" cy="489.1" r="1.7"/><circle cx="1708.3" cy="462.4" r="1.7"/><circle cx="1700" cy="438.5" r="1.7"/><circle cx="1676.5" cy="500.4" r="1.7"/><circle cx="1699.7" cy="388.6" r="1.7"/><circle cx="1675.4" cy="454.5" r="1.7"/><circle cx="1656.4" cy="434.1" r="1.7"/><circle cx="1646.2" cy="415.5" r="1.7"/><circle cx="1656.9" cy="484.8" r="1.7"/><circle cx="1640.7" cy="438" r="1.7"/><circle cx="1665.6" cy="349.5" r="1.7"/><circle cx="1700.4" cy="404.2" r="1.7"/><circle cx="1695.8" cy="401.5" r="1.7"/><circle cx="1708.4" cy="452.8" r="1.7"/><circle cx="1697.2" cy="403.4" r="1.7"/><circle cx="1659.7" cy="440.4" r="1.7"/><circle cx="1683.9" cy="435.7" r="1.7"/><circle cx="1674" cy="460.3" r="1.7"/><circle cx="1703.6" cy="464.6" r="1.7"/><circle cx="1681.4" cy="427.3" r="1.7"/><circle cx="1659.7" cy="368.4" r="1.7"/><circle cx="1691.3" cy="436.6" r="1.7"/><circle cx="1718.5" cy="476.5" r="1.7"/><circle cx="1655.6" cy="404.5" r="1.7"/><circle cx="1711.3" cy="421.4" r="1.7"/><circle cx="1638.7" cy="350" r="1.7"/><circle cx="1659.3" cy="454.5" r="1.7"/><circle cx="1657.2" cy="453.2" r="1.7"/><circle cx="1699.9" cy="436" r="1.7"/><circle cx="1716.8" cy="423.8" r="1.7"/><circle cx="1700.1" cy="409" r="1.7"/><circle cx="1664.9" cy="405.1" r="1.7"/><circle cx="1711.3" cy="420.3" r="1.7"/><circle cx="1665" cy="441" r="1.7"/><circle cx="1657.5" cy="399.3" r="1.7"/><circle cx="1713.6" cy="455.1" r="1.7"/><circle cx="1690.4" cy="398.1" r="1.7"/><circle cx="1695.6" cy="388.9" r="1.7"/><circle cx="1693.3" cy="407.1" r="1.7"/><circle cx="1719.6" cy="418" r="1.7"/><circle cx="1676.8" cy="413.3" r="1.7"/><circle cx="1707.9" cy="347.4" r="1.7"/><circle cx="1696" cy="380.2" r="1.7"/><circle cx="1709.4" cy="427.9" r="1.7"/><circle cx="1674.1" cy="406.5" r="1.7"/><circle cx="1698.3" cy="368.9" r="1.7"/><circle cx="1685.3" cy="399.5" r="1.7"/><circle cx="1663.3" cy="386.8" r="1.7"/><circle cx="1655.2" cy="451.2" r="1.7"/><circle cx="1689.7" cy="423.5" r="1.7"/><circle cx="1643.9" cy="351.3" r="1.7"/><circle cx="1713.9" cy="396.5" r="1.7"/><circle cx="1649.5" cy="484.1" r="1.7"/><circle cx="1639.7" cy="375.1" r="1.7"/><circle cx="1646.4" cy="417.8" r="1.7"/><circle cx="1715.4" cy="451.6" r="1.7"/><circle cx="1666.4" cy="404.4" r="1.7"/><circle cx="1649.3" cy="443.6" r="1.7"/><circle cx="1639.8" cy="362.1" r="1.7"/><circle cx="1640.9" cy="409.3" r="1.7"/><circle cx="1695.6" cy="437.2" r="1.7"/><circle cx="1690.6" cy="454.8" r="1.7"/><circle cx="1695.9" cy="330.2" r="1.7"/><circle cx="1699.3" cy="410.3" r="1.7"/><circle cx="1642.9" cy="428.8" r="1.7"/><circle cx="1687" cy="438" r="1.7"/><circle cx="1667.9" cy="426.7" r="1.7"/><circle cx="1706.1" cy="490.5" r="1.7"/><circle cx="1706.2" cy="453.9" r="1.7"/><circle cx="1712.3" cy="449.1" r="1.7"/><circle cx="1642.9" cy="447" r="1.7"/><circle cx="1710.3" cy="444" r="1.7"/><circle cx="1714.2" cy="414" r="1.7"/><circle cx="1716.7" cy="492.8" r="1.7"/><circle cx="1646.4" cy="445" r="1.7"/><circle cx="1654.7" cy="393.8" r="1.7"/><circle cx="1646.8" cy="429.5" r="1.7"/><circle cx="1640.3" cy="408.6" r="1.7"/><circle cx="1708.6" cy="458.5" r="1.7"/><circle cx="1705.6" cy="398.7" r="1.7"/><circle cx="1690.7" cy="386.4" r="1.7"/><circle cx="1706.7" cy="411.3" r="1.7"/><circle cx="1690.4" cy="408.8" r="1.7"/><circle cx="1661.5" cy="380.3" r="1.7"/><circle cx="1645.8" cy="366.2" r="1.7"/><circle cx="1645.6" cy="367.6" r="1.7"/><circle cx="1701" cy="410.4" r="1.7"/><circle cx="1654.6" cy="413.2" r="1.7"/><circle cx="1664.2" cy="383.3" r="1.7"/><circle cx="1673" cy="365.1" r="1.7"/><circle cx="1639.2" cy="397" r="1.7"/><circle cx="1659" cy="377.4" r="1.7"/><circle cx="1661.1" cy="406.3" r="1.7"/><circle cx="1697.5" cy="415.5" r="1.7"/><circle cx="1668.3" cy="418.6" r="1.7"/><circle cx="1664.3" cy="411.9" r="1.7"/><circle cx="1718.4" cy="418.3" r="1.7"/><circle cx="1679.7" cy="347.6" r="1.7"/><circle cx="1708.9" cy="432.6" r="1.7"/><circle cx="1689.3" cy="434.7" r="1.7"/><circle cx="1640" cy="450.3" r="1.7"/><circle cx="1672.1" cy="455" r="1.7"/><circle cx="1674.1" cy="407.4" r="1.7"/><circle cx="1702.3" cy="369.4" r="1.7"/><circle cx="1666.5" cy="448.3" r="1.7"/><circle cx="1696.6" cy="414.4" r="1.7"/><circle cx="1682.6" cy="380.9" r="1.7"/><circle cx="1655.6" cy="398.9" r="1.7"/><circle cx="1709.8" cy="469.9" r="1.7"/><circle cx="1645" cy="409.9" r="1.7"/><circle cx="1706.3" cy="418.5" r="1.7"/><circle cx="1651.7" cy="465.4" r="1.7"/><circle cx="1637.5" cy="438.1" r="1.7"/><circle cx="1654.4" cy="456.9" r="1.7"/><circle cx="1701.4" cy="425" r="1.7"/><circle cx="1719.5" cy="431.8" r="1.7"/><circle cx="1637.8" cy="408.7" r="1.7"/><circle cx="1678.6" cy="451" r="1.7"/><circle cx="1678.7" cy="427.6" r="1.7"/><circle cx="1704.3" cy="341.4" r="1.7"/><circle cx="1652.9" cy="393.5" r="1.7"/><circle cx="1678.9" cy="429.1" r="1.7"/><circle cx="1666.6" cy="405.3" r="1.7"/><circle cx="1707.3" cy="417.1" r="1.7"/><circle cx="1659.3" cy="382.9" r="1.7"/><circle cx="1716.7" cy="480" r="1.7"/><circle cx="1661.2" cy="404.9" r="1.7"/><circle cx="1655.4" cy="429.7" r="1.7"/><circle cx="1696.2" cy="390.9" r="1.7"/><circle cx="1679.3" cy="445.5" r="1.7"/><circle cx="1646.6" cy="457.6" r="1.7"/><circle cx="1690.9" cy="444.4" r="1.7"/><circle cx="1644.2" cy="409.7" r="1.7"/><circle cx="1703.6" cy="423.9" r="1.7"/><circle cx="1696" cy="459.1" r="1.7"/><circle cx="1703.5" cy="438.8" r="1.7"/><circle cx="1690.1" cy="376.1" r="1.7"/><circle cx="1667.3" cy="408.5" r="1.7"/><circle cx="1671.1" cy="351.1" r="1.7"/><circle cx="1670.5" cy="410.1" r="1.7"/><circle cx="1712.2" cy="474.6" r="1.7"/><circle cx="1644.6" cy="364.5" r="1.7"/><circle cx="1712" cy="379.4" r="1.7"/><circle cx="1639.5" cy="432.3" r="1.7"/><circle cx="1654.7" cy="469.6" r="1.7"/><circle cx="1659.5" cy="449.4" r="1.7"/><circle cx="1713.1" cy="435.5" r="1.7"/><circle cx="1679.5" cy="337.1" r="1.7"/><circle cx="1669.3" cy="425.6" r="1.7"/><circle cx="1711.7" cy="360.8" r="1.7"/><circle cx="1657" cy="494.1" r="1.7"/><circle cx="1676.1" cy="438.7" r="1.7"/><circle cx="1682" cy="442.8" r="1.7"/><circle cx="1700.8" cy="328.6" r="1.7"/><circle cx="1700.7" cy="430" r="1.7"/><circle cx="1691.7" cy="422.1" r="1.7"/><circle cx="1666.7" cy="389.8" r="1.7"/><circle cx="1664.8" cy="442.2" r="1.7"/><circle cx="1650.4" cy="357.9" r="1.7"/><circle cx="1708.2" cy="455.4" r="1.7"/><circle cx="1693" cy="452.2" r="1.7"/><circle cx="1699.7" cy="371.1" r="1.7"/><circle cx="1651.6" cy="387.4" r="1.7"/><circle cx="1674.3" cy="379.4" r="1.7"/><circle cx="1702.4" cy="397.2" r="1.7"/><circle cx="1686.1" cy="366" r="1.7"/><circle cx="1648" cy="455.3" r="1.7"/><circle cx="1676.2" cy="395.1" r="1.7"/><circle cx="1711.8" cy="408" r="1.7"/><circle cx="1657.4" cy="413.9" r="1.7"/><circle cx="1653.5" cy="391.8" r="1.7"/><circle cx="1662.7" cy="381.7" r="1.7"/><circle cx="1696.5" cy="376.9" r="1.7"/><circle cx="1708.3" cy="443.5" r="1.7"/><circle cx="1650.4" cy="488.9" r="1.7"/><circle cx="1650.5" cy="428.4" r="1.7"/><circle cx="1658.2" cy="384" r="1.7"/><circle cx="1664.8" cy="425.8" r="1.7"/><circle cx="1681.3" cy="443.5" r="1.7"/><circle cx="1650.9" cy="435.4" r="1.7"/><circle cx="1665" cy="434.2" r="1.7"/><circle cx="1653.3" cy="367.8" r="1.7"/><circle cx="1719.3" cy="423.2" r="1.7"/><circle cx="1698.6" cy="426.4" r="1.7"/><circle cx="1646" cy="416.5" r="1.7"/><circle cx="1718.2" cy="432.9" r="1.7"/><circle cx="1645.9" cy="405.5" r="1.7"/><circle cx="1669.7" cy="464.5" r="1.7"/><circle cx="1720" cy="412.5" r="1.7"/><circle cx="1704.2" cy="350.2" r="1.7"/><circle cx="1699" cy="357.3" r="1.7"/><circle cx="1673.9" cy="426.7" r="1.7"/><circle cx="1653.9" cy="349.4" r="1.7"/><circle cx="1691" cy="406.1" r="1.7"/><circle cx="1646.4" cy="362.5" r="1.7"/><circle cx="1654.7" cy="347.8" r="1.7"/><circle cx="1670" cy="391.2" r="1.7"/><circle cx="1640.3" cy="386.2" r="1.7"/><circle cx="1670.9" cy="423.9" r="1.7"/><circle cx="1703.8" cy="422.9" r="1.7"/><circle cx="1695.6" cy="419" r="1.7"/><circle cx="1679.4" cy="411.3" r="1.7"/><circle cx="1690.5" cy="416.9" r="1.7"/><circle cx="1676.3" cy="414.2" r="1.7"/><circle cx="1649.3" cy="407.5" r="1.7"/><circle cx="1688.1" cy="384.5" r="1.7"/><circle cx="1671.4" cy="407.3" r="1.7"/><circle cx="1699.6" cy="408.6" r="1.7"/><circle cx="1713.7" cy="410.8" r="1.7"/><circle cx="1673.5" cy="362.7" r="1.7"/><circle cx="1685.6" cy="351.9" r="1.7"/><circle cx="1700.3" cy="408.9" r="1.7"/><circle cx="1672.8" cy="462.5" r="1.7"/><circle cx="1656.6" cy="408.3" r="1.7"/><circle cx="1698.1" cy="384.5" r="1.7"/><circle cx="1711.3" cy="385.7" r="1.7"/><circle cx="1702.4" cy="355.1" r="1.7"/><circle cx="1696.2" cy="434.8" r="1.7"/><circle cx="1709" cy="419.9" r="1.7"/><circle cx="1694.5" cy="365" r="1.7"/><circle cx="1691.3" cy="351.1" r="1.7"/><circle cx="1675.5" cy="393.7" r="1.7"/><circle cx="1663.7" cy="443.5" r="1.7"/><circle cx="1690.2" cy="494.2" r="1.7"/><circle cx="1645.6" cy="388.2" r="1.7"/><circle cx="1672.6" cy="407" r="1.7"/><circle cx="1703.1" cy="381.5" r="1.7"/><circle cx="1697.3" cy="393.1" r="1.7"/><circle cx="1690.3" cy="386.8" r="1.7"/><circle cx="1658.4" cy="456" r="1.7"/><circle cx="1673" cy="427.2" r="1.7"/><circle cx="1675.6" cy="398" r="1.7"/><circle cx="1687.9" cy="93" r="1.7"/><circle cx="1673.1" cy="119.2" r="1.7"/><circle cx="1691.7" cy="269.2" r="1.7"/><circle cx="1709.5" cy="267.5" r="1.7"/><circle cx="1657.2" cy="318.3" r="1.7"/><circle cx="1690.2" cy="326.8" r="1.7"/></g>
<g fill="#3333ff" fill-opacity="0.7"><circle cx="1879.4" cy="490.2" r="1.7"/><circle cx="1874.5" cy="476.2" r="1.7"/><circle cx="1833.4" cy="419.5" r="1.7"/><circle cx="1812.9" cy="437.6" r="1.7"/><circle cx="1881" cy="495.7" r="1.7"/><circle cx="1860.3" cy="420.3" r="1.7"/><circle cx="1813.3" cy="411.4" r="1.7"/><circle cx="1829.8" cy="376.6" r="1.7"/><circle cx="1818.6" cy="414.9" r="1.7"/><circle cx="1875.8" cy="403.8" r="1.7"/><circle cx="1827" cy="498.1" r="1.7"/><circle cx="1886.1" cy="436.1" r="1.7"/><circle cx="1872.3" cy="431.5" r="1.7"/><circle cx="1816.5" cy="486" r="1.7"/><circle cx="1867.7" cy="357.7" r="1.7"/><circle cx="1842.4" cy="496.1" r="1.7"/><circle cx="1872.1" cy="476.1" r="1.7"/><circle cx="1878.9" cy="421.5" r="1.7"/><circle cx="1832.9" cy="446.5" r="1.7"/><circle cx="1816.9" cy="388.9" r="1.7"/><circle cx="1888.8" cy="394.7" r="1.7"/><circle cx="1844.9" cy="497.2" r="1.7"/><circle cx="1887.4" cy="415.2" r="1.7"/><circle cx="1867.4" cy="492.4" r="1.7"/><circle cx="1871.3" cy="451.8" r="1.7"/><circle cx="1879" cy="425" r="1.7"/><circle cx="1862.1" cy="489.8" r="1.7"/><circle cx="1847.3" cy="487.6" r="1.7"/><circle cx="1813.9" cy="497.3" r="1.7"/><circle cx="1868" cy="458.3" r="1.7"/><circle cx="1845.3" cy="431.4" r="1.7"/><circle cx="1852.3" cy="427.8" r="1.7"/><circle cx="1887.3" cy="486.5" r="1.7"/><circle cx="1820" cy="489.9" r="1.7"/><circle cx="1873.3" cy="495.6" r="1.7"/><circle cx="1813" cy="406.8" r="1.7"/><circle cx="1868.3" cy="464.9" r="1.7"/><circle cx="1877" cy="497.6" r="1.7"/><circle cx="1831.2" cy="479.1" r="1.7"/><circle cx="1855.2" cy="470" r="1.7"/><circle cx="1890.7" cy="487.5" r="1.7"/><circle cx="1862.9" cy="338.9" r="1.7"/><circle cx="1855" cy="495.4" r="1.7"/><circle cx="1830.3" cy="390.4" r="1.7"/><circle cx="1814.3" cy="485.2" r="1.7"/><circle cx="1839.4" cy="498.3" r="1.7"/><circle cx="1843.9" cy="489.3" r="1.7"/><circle cx="1826.2" cy="421.4" r="1.7"/><circle cx="1835.4" cy="395.1" r="1.7"/><circle cx="1820.8" cy="479.2" r="1.7"/><circle cx="1868.7" cy="456.6" r="1.7"/><circle cx="1865.6" cy="465.5" r="1.7"/><circle cx="1829.3" cy="475.1" r="1.7"/><circle cx="1829.6" cy="383" r="1.7"/><circle cx="1852.6" cy="491.2" r="1.7"/><circle cx="1846.7" cy="442.1" r="1.7"/><circle cx="1887.9" cy="453.9" r="1.7"/><circle cx="1838.8" cy="480.1" r="1.7"/><circle cx="1834.4" cy="398.8" r="1.7"/><circle cx="1883.6" cy="449.3" r="1.7"/><circle cx="1821.2" cy="441.7" r="1.7"/><circle cx="1856.6" cy="486.3" r="1.7"/><circle cx="1837.3" cy="475.2" r="1.7"/><circle cx="1877.8" cy="441.5" r="1.7"/><circle cx="1855.4" cy="391.5" r="1.7"/><circle cx="1873.2" cy="445.6" r="1.7"/><circle cx="1823.5" cy="347.8" r="1.7"/><circle cx="1865.3" cy="490.7" r="1.7"/><circle cx="1859.6" cy="467.6" r="1.7"/><circle cx="1848" cy="449.3" r="1.7"/><circle cx="1873.7" cy="439.4" r="1.7"/><circle cx="1879.1" cy="464" r="1.7"/><circle cx="1818.9" cy="486" r="1.7"/><circle cx="1833.6" cy="441.3" r="1.7"/><circle cx="1839.6" cy="477" r="1.7"/><circle cx="1826.6" cy="467.5" r="1.7"/><circle cx="1814.4" cy="457.3" r="1.7"/><circle cx="1832.9" cy="481" r="1.7"/><circle cx="1825.9" cy="437.7" r="1.7"/><circle cx="1868.2" cy="453.6" r="1.7"/><circle cx="1846.9" cy="388.9" r="1.7"/><circle cx="1818.8" cy="416.9" r="1.7"/><circle cx="1836.6" cy="497.7" r="1.7"/><circle cx="1848.7" cy="485.1" r="1.7"/><circle cx="1839.8" cy="379" r="1.7"/><circle cx="1823.4" cy="458.1" r="1.7"/><circle cx="1815.3" cy="492" r="1.7"/><circle cx="1810.2" cy="494.8" r="1.7"/><circle cx="1892.6" cy="488.6" r="1.7"/><circle cx="1872.3" cy="436.4" r="1.7"/><circle cx="1816.4" cy="408.3" r="1.7"/><circle cx="1869.5" cy="445.2" r="1.7"/><circle cx="1891.6" cy="486.8" r="1.7"/><circle cx="1856.6" cy="443.2" r="1.7"/><circle cx="1818.4" cy="380.5" r="1.7"/><circle cx="1850.4" cy="494.1" r="1.7"/><circle cx="1845.8" cy="438.9" r="1.7"/><circle cx="1825.2" cy="379.8" r="1.7"/><circle cx="1854.9" cy="471.1" r="1.7"/><circle cx="1810" cy="433.3" r="1.7"/><circle cx="1886.5" cy="434.5" r="1.7"/><circle cx="1863.4" cy="479.1" r="1.7"/><circle cx="1862" cy="429.5" r="1.7"/><circle cx="1887.9" cy="449.3" r="1.7"/><circle cx="1864.1" cy="496.1" r="1.7"/><circle cx="1830.4" cy="463.4" r="1.7"/><circle cx="1830" cy="484.9" r="1.7"/><circle cx="1820.9" cy="474.4" r="1.7"/><circle cx="1811.6" cy="464.3" r="1.7"/><circle cx="1874.4" cy="304.7" r="1.7"/><circle cx="1879.8" cy="413.1" r="1.7"/><circle cx="1834.2" cy="457.7" r="1.7"/><circle cx="1824.9" cy="369.2" r="1.7"/><circle cx="1862.9" cy="496.3" r="1.7"/><circle cx="1880.3" cy="476.7" r="1.7"/><circle cx="1887.1" cy="460.7" r="1.7"/><circle cx="1823.5" cy="384.5" r="1.7"/><circle cx="1875.2" cy="463.9" r="1.7"/><circle cx="1879.1" cy="456.8" r="1.7"/><circle cx="1871.7" cy="356.9" r="1.7"/><circle cx="1836.7" cy="497.8" r="1.7"/><circle cx="1824.8" cy="471.6" r="1.7"/><circle cx="1878.6" cy="476.4" r="1.7"/><circle cx="1836.2" cy="484.9" r="1.7"/><circle cx="1840.3" cy="461" r="1.7"/><circle cx="1855.6" cy="486.5" r="1.7"/><circle cx="1840.3" cy="443.2" r="1.7"/><circle cx="1879.1" cy="444.6" r="1.7"/><circle cx="1829.4" cy="444.5" r="1.7"/><circle cx="1812.8" cy="418.9" r="1.7"/><circle cx="1856.9" cy="373.6" r="1.7"/><circle cx="1862.1" cy="408.9" r="1.7"/><circle cx="1878.2" cy="420.5" r="1.7"/><circle cx="1868.6" cy="456.1" r="1.7"/><circle cx="1885.3" cy="445.9" r="1.7"/><circle cx="1888.7" cy="478.1" r="1.7"/><circle cx="1850.8" cy="397.9" r="1.7"/><circle cx="1851.3" cy="416.7" r="1.7"/><circle cx="1822.5" cy="411.8" r="1.7"/><circle cx="1834.5" cy="474.4" r="1.7"/><circle cx="1858.1" cy="432.6" r="1.7"/><circle cx="1816" cy="429.4" r="1.7"/><circle cx="1867.1" cy="435.8" r="1.7"/><circle cx="1823" cy="469.3" r="1.7"/><circle cx="1846.5" cy="492.1" r="1.7"/><circle cx="1890.8" cy="489.7" r="1.7"/><circle cx="1816.8" cy="462.6" r="1.7"/><circle cx="1812.7" cy="431.2" r="1.7"/><circle cx="1846.2" cy="490" r="1.7"/><circle cx="1825.3" cy="421" r="1.7"/><circle cx="1870" cy="500.4" r="1.7"/><circle cx="1879.9" cy="497.5" r="1.7"/><circle cx="1875.4" cy="499" r="1.7"/><circle cx="1833.1" cy="498.2" r="1.7"/><circle cx="1852.5" cy="499" r="1.7"/><circle cx="1837.7" cy="498.9" r="1.7"/><circle cx="1865.3" cy="497.6" r="1.7"/><circle cx="1885.2" cy="499.8" r="1.7"/><circle cx="1834.1" cy="498.9" r="1.7"/><circle cx="1856.6" cy="499.2" r="1.7"/><circle cx="1825.7" cy="500.1" r="1.7"/><circle cx="1836.5" cy="498.8" r="1.7"/><circle cx="1890.9" cy="497.3" r="1.7"/><circle cx="1882" cy="497.1" r="1.7"/><circle cx="1890.1" cy="498.3" r="1.7"/><circle cx="1877.4" cy="500.2" r="1.7"/><circle cx="1866.1" cy="498.3" r="1.7"/><circle cx="1834.3" cy="498.5" r="1.7"/><circle cx="1889.3" cy="498.8" r="1.7"/><circle cx="1863.7" cy="499.4" r="1.7"/><circle cx="1838.1" cy="497.4" r="1.7"/><circle cx="1811.6" cy="499.8" r="1.7"/><circle cx="1866.3" cy="498.9" r="1.7"/><circle cx="1816.5" cy="498.2" r="1.7"/><circle cx="1840.5" cy="498.4" r="1.7"/><circle cx="1844.3" cy="498.6" r="1.7"/><circle cx="1856.7" cy="499.1" r="1.7"/><circle cx="1818.9" cy="499.8" r="1.7"/><circle cx="1884.1" cy="498.5" r="1.7"/><circle cx="1818.7" cy="497.5" r="1.7"/><circle cx="1830.6" cy="500.1" r="1.7"/><circle cx="1853.9" cy="499.5" r="1.7"/><circle cx="1850.4" cy="498.5" r="1.7"/><circle cx="1828.3" cy="498.5" r="1.7"/><circle cx="1818.8" cy="498.7" r="1.7"/><circle cx="1858.7" cy="500.1" r="1.7"/><circle cx="1843.6" cy="500.2" r="1.7"/><circle cx="1846.2" cy="497.5" r="1.7"/><circle cx="1855.5" cy="498" r="1.7"/><circle cx="1872.9" cy="500" r="1.7"/><circle cx="1892.5" cy="498" r="1.7"/><circle cx="1817.9" cy="497.6" r="1.7"/><circle cx="1842.2" cy="499.8" r="1.7"/><circle cx="1889.9" cy="498.5" r="1.7"/><circle cx="1874.4" cy="499.9" r="1.7"/><circle cx="1874.5" cy="500.2" r="1.7"/><circle cx="1829.2" cy="499.1" r="1.7"/><circle cx="1810.6" cy="498.4" r="1.7"/><circle cx="1827.2" cy="499.4" r="1.7"/><circle cx="1868.7" cy="499" r="1.7"/><circle cx="1883.9" cy="498.3" r="1.7"/><circle cx="1882.6" cy="498.5" r="1.7"/><circle cx="1886.4" cy="497.4" r="1.7"/><circle cx="1823.4" cy="497.9" r="1.7"/><circle cx="1838" cy="497.8" r="1.7"/><circle cx="1866.5" cy="497.6" r="1.7"/><circle cx="1819.6" cy="499.1" r="1.7"/><circle cx="1871.2" cy="497.2" r="1.7"/><circle cx="1869.9" cy="500.3" r="1.7"/><circle cx="1860" cy="500.1" r="1.7"/><circle cx="1855.4" cy="497.7" r="1.7"/><circle cx="1818.8" cy="497.3" r="1.7"/><circle cx="1866" cy="499.5" r="1.7"/><circle cx="1825.5" cy="498.9" r="1.7"/><circle cx="1879.7" cy="498.4" r="1.7"/><circle cx="1818.8" cy="500.3" r="1.7"/><circle cx="1818.6" cy="497.7" r="1.7"/><circle cx="1824.9" cy="498.5" r="1.7"/><circle cx="1833.7" cy="498.1" r="1.7"/><circle cx="1841.3" cy="499.9" r="1.7"/><circle cx="1879.8" cy="277.6" r="1.7"/><circle cx="1854.2" cy="307.3" r="1.7"/><circle cx="1865.7" cy="326.8" r="1.7"/><circle cx="1874.7" cy="336.9" r="1.7"/><circle cx="1885.4" cy="347.9" r="1.7"/><circle cx="1814.3" cy="363.2" r="1.7"/><circle cx="1839.3" cy="369.1" r="1.7"/></g>
<path d="M1691.5,500.4 C1691.4,498.6 1691,493.5 1690.7,489.4 C1690.4,485.3 1688,480.2 1689.4,475.8 C1690.9,471.5 1694.9,467.5 1699.4,463.1 C1703.9,458.8 1709.7,454 1716.4,449.6 C1723.1,445.2 1734.4,441.1 1739.8,436.9 C1745.3,432.6 1747.6,428.5 1749.1,424.2 C1750.7,419.8 1750.6,415 1749.1,410.6 C1747.7,406.2 1744.1,402.3 1740.4,397.9 C1736.8,393.5 1731.9,388.7 1727.2,384.4 C1722.5,380 1716.6,376 1712.4,371.7 C1708.2,367.3 1705.1,362.5 1702,358.1 C1698.9,353.7 1696.4,349.8 1694,345.4 C1691.6,341 1689.2,336.4 1687.4,331.8 C1685.6,327.3 1684.5,322.7 1683.4,318.3 C1682.3,313.9 1681.4,310.5 1680.9,305.6 C1680.4,300.6 1680.5,293.2 1680.6,288.6 C1680.7,284.1 1681.1,282 1681.4,278.5 C1681.7,275 1682.6,271.1 1682.6,267.5 C1682.6,263.8 1681.8,260 1681.4,256.5 C1681,252.9 1680.6,255.1 1680.4,246.3 C1680.2,237.5 1680.3,222.3 1680.3,203.9 C1680.3,185.6 1680.2,149.6 1680.3,136.2 C1680.4,122.8 1680.7,127.7 1680.7,123.5 C1680.7,119.2 1680.5,115.9 1680.4,110.8 C1680.3,105.7 1680.2,96 1680.2,93 L1678.6,93 C1678.6,96 1678.5,105.7 1678.4,110.8 C1678.3,115.9 1678.1,119.2 1678.1,123.5 C1678.1,127.7 1678.4,122.8 1678.5,136.2 C1678.6,149.6 1678.5,185.6 1678.5,203.9 C1678.5,222.3 1678.6,237.5 1678.4,246.3 C1678.2,255.1 1677.8,252.9 1677.4,256.5 C1677,260 1676.2,263.8 1676.2,267.5 C1676.2,271.1 1677.1,275 1677.4,278.5 C1677.7,282 1678.1,284.1 1678.2,288.6 C1678.3,293.2 1678.4,300.6 1677.9,305.6 C1677.4,310.5 1676.5,313.9 1675.4,318.3 C1674.3,322.7 1673.2,327.3 1671.4,331.8 C1669.6,336.4 1667.2,341 1664.8,345.4 C1662.4,349.8 1659.9,353.7 1656.8,358.1 C1653.7,362.5 1650.6,367.3 1646.4,371.7 C1642.2,376 1636.3,380 1631.6,384.4 C1626.9,388.7 1622.1,393.5 1618.4,397.9 C1614.8,402.3 1611.2,406.2 1609.7,410.6 C1608.2,415 1608.2,419.8 1609.7,424.2 C1611.2,428.5 1613.5,432.6 1619,436.9 C1624.5,441.1 1635.7,445.2 1642.4,449.6 C1649.1,454 1654.9,458.8 1659.4,463.1 C1663.9,467.5 1668,471.5 1669.4,475.8 C1670.9,480.2 1668.5,485.3 1668.1,489.4 C1667.8,493.5 1667.4,498.6 1667.3,500.4 Z" fill="none" stroke="#666" stroke-width="2"/>
<path d="M1946.3,500.4 C1946.5,500.1 1947.3,499.4 1947.3,498.7 C1947.3,498 1947.3,497.7 1946.3,496.2 C1945.3,494.6 1943.8,491.5 1941.3,489.4 C1938.8,487.3 1937,485.7 1931.3,483.5 C1925.6,481.2 1915.1,478 1907.3,475.8 C1899.5,473.7 1888.6,472.9 1884.3,470.8 C1880,468.6 1880.7,466.7 1881.3,463.1 C1881.9,459.6 1886.3,454.4 1887.8,449.6 C1889.3,444.8 1890.4,438.6 1890.3,434.3 C1890.2,430.1 1890,429.4 1887.3,424.2 C1884.6,418.9 1878,409.6 1874.3,403 C1870.6,396.4 1868.1,390.4 1865.3,384.4 C1862.5,378.3 1859.1,373.1 1857.3,366.6 C1855.5,360.1 1855,352.7 1854.3,345.4 C1853.5,338.1 1853.1,330.6 1852.8,322.5 C1852.5,314.5 1852.6,304.9 1852.5,297.1 C1852.4,289.4 1852.3,279.5 1852.3,275.9 L1850.3,275.9 C1850.3,279.5 1850.2,289.4 1850.1,297.1 C1850,304.9 1850.1,314.5 1849.8,322.5 C1849.5,330.6 1849,338.1 1848.3,345.4 C1847.5,352.7 1847.1,360.1 1845.3,366.6 C1843.5,373.1 1840.1,378.3 1837.3,384.4 C1834.5,390.4 1832,396.4 1828.3,403 C1824.6,409.6 1818,418.9 1815.3,424.2 C1812.6,429.4 1812.4,430.1 1812.3,434.3 C1812.2,438.6 1813.3,444.8 1814.8,449.6 C1816.3,454.4 1820.7,459.6 1821.3,463.1 C1821.9,466.7 1822.6,468.6 1818.3,470.8 C1814,472.9 1803.1,473.7 1795.3,475.8 C1787.5,478 1777,481.2 1771.3,483.5 C1765.6,485.7 1763.8,487.3 1761.3,489.4 C1758.8,491.5 1757.3,494.6 1756.3,496.2 C1755.3,497.7 1755.3,498 1755.3,498.7 C1755.3,499.4 1756.1,500.1 1756.3,500.4 Z" fill="none" stroke="#0000FF" stroke-width="2"/>
<circle cx="1679.4" cy="416.1" r="3.6" fill="#000"/>
<circle cx="1851.3" cy="482" r="3.6" fill="#000"/>
<!-- panel_de -->
<rect x="849" y="611.5" width="532.2" height="474" fill="#fff"/>
<line x1="943.5" y1="611.5" x2="943.5" y2="1085.5" stroke="#EBEBEB" stroke-width="0.9"/>
<line x1="1107.7" y1="611.5" x2="1107.7" y2="1085.5" stroke="#EBEBEB" stroke-width="0.9"/>
<line x1="1272" y1="611.5" x2="1272" y2="1085.5" stroke="#EBEBEB" stroke-width="0.9"/>
<line x1="849" y1="1013.1" x2="1381.2" y2="1013.1" stroke="#EBEBEB" stroke-width="0.9"/>
<line x1="849" y1="907.8" x2="1381.2" y2="907.8" stroke="#EBEBEB" stroke-width="0.9"/>
<line x1="849" y1="802.5" x2="1381.2" y2="802.5" stroke="#EBEBEB" stroke-width="0.9"/>
<line x1="849" y1="697.2" x2="1381.2" y2="697.2" stroke="#EBEBEB" stroke-width="0.9"/>
<line x1="861.3" y1="611.5" x2="861.3" y2="1085.5" stroke="#EBEBEB" stroke-width="1.8"/>
<line x1="1025.6" y1="611.5" x2="1025.6" y2="1085.5" stroke="#EBEBEB" stroke-width="1.8"/>
<line x1="1189.8" y1="611.5" x2="1189.8" y2="1085.5" stroke="#EBEBEB" stroke-width="1.8"/>
<line x1="1354.1" y1="611.5" x2="1354.1" y2="1085.5" stroke="#EBEBEB" stroke-width="1.8"/>
<line x1="849" y1="1065.7" x2="1381.2" y2="1065.7" stroke="#EBEBEB" stroke-width="1.8"/>
<line x1="849" y1="960.4" x2="1381.2" y2="960.4" stroke="#EBEBEB" stroke-width="1.8"/>
<line x1="849" y1="855.1" x2="1381.2" y2="855.1" stroke="#EBEBEB" stroke-width="1.8"/>
<line x1="849" y1="749.8" x2="1381.2" y2="749.8" stroke="#EBEBEB" stroke-width="1.8"/>
<line x1="849" y1="644.5" x2="1381.2" y2="644.5" stroke="#EBEBEB" stroke-width="1.8"/>
<clipPath id="clipD"><rect x="849" y="611.5" width="532.2" height="474"/></clipPath>
<g clip-path="url(#clipD)">
<path d="M1025.6,1060.1 L1007.9,1040.1 L1000,1022.5 L992.1,1003.6 L985.5,984.6 L980.9,963.6 L976,950.9 L966.5,947.8 L958.6,949.9 L952,957.2 L945.4,971.4 L941.5,995.1 L938.2,1019.4 L935.3,1032 L920.8,1036.2 L919.2,1049.7 L931.3,1057.7 L959.9,1061.7 L992.1,1065.7 L1024,1068.9 Z" fill="#7f7f7f"/>
<path d="M1025.6,1060.1 L1040.1,1046.5 L1055.8,1019.4 L1071.9,995.1 L1083.1,973 L1088,955.1 L1101.2,944.6 L1114.3,934.1 L1127.4,928.8 L1140.6,934.1 L1153.7,955.1 L1167.2,986.7 L1183.9,1019.4 L1192.1,1036.2 L1200.7,1049.9 L1183.9,1056.5 L1134,1059.9 L1100.5,1063.2 L1058.4,1066.2 L1027.2,1068.9 Z" fill="#7f7f7f"/>
<g fill="#ee2a14" fill-opacity="0.5"><circle cx="1118.9" cy="1014.6" r="4.2"/><circle cx="1093.1" cy="1008.4" r="4.2"/><circle cx="1110.3" cy="1024" r="4.2"/><circle cx="1164.1" cy="1008.5" r="4.2"/><circle cx="1168.6" cy="1003.9" r="4.2"/><circle cx="1163.5" cy="1029" r="4.2"/><circle cx="1080.6" cy="995.7" r="4.2"/><circle cx="1129.8" cy="1022.6" r="4.2"/><circle cx="1152" cy="1029.4" r="4.2"/><circle cx="1115.3" cy="1030.2" r="4.2"/><circle cx="1116.1" cy="1013.6" r="4.2"/><circle cx="1106.7" cy="1049" r="4.2"/><circle cx="1150.6" cy="1025.3" r="4.2"/><circle cx="1092.1" cy="983.1" r="4.2"/><circle cx="1150.2" cy="1015.7" r="4.2"/><circle cx="1082.2" cy="988.9" r="4.2"/><circle cx="1130.3" cy="1038.7" r="4.2"/><circle cx="1163.8" cy="1005.7" r="4.2"/><circle cx="1096.3" cy="976.8" r="4.2"/><circle cx="1154.5" cy="1033.1" r="4.2"/><circle cx="1097.7" cy="976.2" r="4.2"/><circle cx="1109.2" cy="960.9" r="4.2"/><circle cx="1157.1" cy="994.1" r="4.2"/><circle cx="1144.4" cy="1010.9" r="4.2"/><circle cx="1137.4" cy="1015" r="4.2"/><circle cx="1138.4" cy="963.4" r="4.2"/><circle cx="1119" cy="976" r="4.2"/><circle cx="1127.4" cy="994" r="4.2"/><circle cx="1152.9" cy="1007.7" r="4.2"/><circle cx="1127.7" cy="959.6" r="4.2"/><circle cx="1107.3" cy="1018.8" r="4.2"/><circle cx="1160.6" cy="994.2" r="4.2"/><circle cx="1077.7" cy="989" r="4.2"/><circle cx="1092.3" cy="967.8" r="4.2"/><circle cx="1153.1" cy="1011.8" r="4.2"/><circle cx="1127.5" cy="1002" r="4.2"/><circle cx="1141" cy="957.2" r="4.2"/><circle cx="1158.7" cy="974.7" r="4.2"/><circle cx="1093.8" cy="971.6" r="4.2"/><circle cx="1082.8" cy="974.7" r="4.2"/><circle cx="1135.1" cy="974.8" r="4.2"/><circle cx="1134.5" cy="979.1" r="4.2"/><circle cx="1171.4" cy="1011.3" r="4.2"/><circle cx="1172.2" cy="1030.9" r="4.2"/><circle cx="1109" cy="1047.7" r="4.2"/><circle cx="1119" cy="976.7" r="4.2"/><circle cx="1148.4" cy="961.3" r="4.2"/><circle cx="1132.2" cy="993.9" r="4.2"/><circle cx="1127.2" cy="1050.3" r="4.2"/><circle cx="1134.8" cy="948.1" r="4.2"/><circle cx="1136.7" cy="976.2" r="4.2"/><circle cx="1143.7" cy="984" r="4.2"/><circle cx="1148.1" cy="1010.5" r="4.2"/><circle cx="1149.8" cy="1034.7" r="4.2"/><circle cx="1166.1" cy="1012" r="4.2"/><circle cx="1122.5" cy="1017.3" r="4.2"/><circle cx="1135.4" cy="1002.4" r="4.2"/><circle cx="1124.8" cy="980" r="4.2"/><circle cx="1097.8" cy="967.6" r="4.2"/><circle cx="1077.6" cy="1045.5" r="4.2"/><circle cx="1115.8" cy="991.6" r="4.2"/><circle cx="1164.4" cy="982.7" r="4.2"/><circle cx="1144" cy="1012.5" r="4.2"/><circle cx="1074.7" cy="1021.3" r="4.2"/><circle cx="1126.8" cy="1048.5" r="4.2"/><circle cx="1168.8" cy="1008.5" r="4.2"/><circle cx="1118.8" cy="961.6" r="4.2"/><circle cx="1100" cy="1034.8" r="4.2"/><circle cx="1152.4" cy="1036.3" r="4.2"/><circle cx="1094.9" cy="983.9" r="4.2"/><circle cx="1154.8" cy="994.6" r="4.2"/><circle cx="1097.5" cy="1001.2" r="4.2"/><circle cx="1129.8" cy="942.1" r="4.2"/><circle cx="1169" cy="1017.5" r="4.2"/><circle cx="1084.2" cy="988.7" r="4.2"/><circle cx="1128.6" cy="955.4" r="4.2"/><circle cx="1132.5" cy="958.5" r="4.2"/><circle cx="1150.1" cy="971.7" r="4.2"/><circle cx="1091.9" cy="971.7" r="4.2"/><circle cx="1144" cy="1038" r="4.2"/><circle cx="1126" cy="1050.7" r="4.2"/><circle cx="1092.2" cy="1044.2" r="4.2"/><circle cx="1127.7" cy="961.3" r="4.2"/><circle cx="1071.6" cy="1021.3" r="4.2"/><circle cx="1174.5" cy="1032.4" r="4.2"/><circle cx="1165.7" cy="1019.9" r="4.2"/><circle cx="1104.7" cy="1040.2" r="4.2"/><circle cx="1135.1" cy="1041.4" r="4.2"/><circle cx="1149.6" cy="1042.1" r="4.2"/><circle cx="1135.3" cy="984.7" r="4.2"/><circle cx="1075.1" cy="1041.1" r="4.2"/><circle cx="1150" cy="1011.3" r="4.2"/><circle cx="1140.4" cy="1036.2" r="4.2"/><circle cx="1144.6" cy="952.3" r="4.2"/><circle cx="1147.4" cy="1034.5" r="4.2"/><circle cx="1154.7" cy="967.6" r="4.2"/><circle cx="1163.1" cy="1025.8" r="4.2"/><circle cx="1098" cy="1044.3" r="4.2"/><circle cx="1128" cy="991.6" r="4.2"/><circle cx="1112.9" cy="998.2" r="4.2"/><circle cx="1119.3" cy="956.8" r="4.2"/><circle cx="1156.9" cy="1027.8" r="4.2"/><circle cx="1113.4" cy="1010" r="4.2"/><circle cx="1132.5" cy="1010" r="4.2"/><circle cx="1161.8" cy="1014.1" r="4.2"/><circle cx="1106.7" cy="972.3" r="4.2"/><circle cx="1137.5" cy="951.7" r="4.2"/><circle cx="1112.5" cy="1034.5" r="4.2"/><circle cx="1150.5" cy="966.3" r="4.2"/><circle cx="1128" cy="984.9" r="4.2"/><circle cx="1107.8" cy="1051" r="4.2"/><circle cx="1087.5" cy="1023.9" r="4.2"/><circle cx="1139.4" cy="987" r="4.2"/><circle cx="1127.4" cy="1043" r="4.2"/><circle cx="1158.5" cy="975.2" r="4.2"/><circle cx="1157.6" cy="1010.5" r="4.2"/><circle cx="1139.3" cy="961" r="4.2"/><circle cx="1157.6" cy="1037.4" r="4.2"/><circle cx="1132.2" cy="964.7" r="4.2"/><circle cx="1119.3" cy="1045.9" r="4.2"/><circle cx="1086.6" cy="983" r="4.2"/><circle cx="1149.6" cy="976.3" r="4.2"/><circle cx="1144.4" cy="1038.2" r="4.2"/><circle cx="1112.1" cy="1027.5" r="4.2"/><circle cx="1153" cy="961.8" r="4.2"/><circle cx="1153.2" cy="1027.7" r="4.2"/><circle cx="1138" cy="979.1" r="4.2"/><circle cx="1090.1" cy="998.7" r="4.2"/><circle cx="1133.5" cy="1039.6" r="4.2"/><circle cx="1141.4" cy="949.5" r="4.2"/><circle cx="1137" cy="980.7" r="4.2"/><circle cx="1166.9" cy="1030.3" r="4.2"/><circle cx="1130.2" cy="1048.7" r="4.2"/><circle cx="1081.1" cy="1022.7" r="4.2"/><circle cx="1136.9" cy="1017.4" r="4.2"/><circle cx="1162" cy="993.8" r="4.2"/><circle cx="1086.9" cy="970.1" r="4.2"/><circle cx="1130.3" cy="966.5" r="4.2"/><circle cx="1139.6" cy="1000.6" r="4.2"/><circle cx="1120.9" cy="1008.3" r="4.2"/><circle cx="1164.3" cy="1037.2" r="4.2"/><circle cx="1102.1" cy="1019.9" r="4.2"/><circle cx="1088.1" cy="980.9" r="4.2"/><circle cx="1128.7" cy="977.6" r="4.2"/><circle cx="1088" cy="1034.4" r="4.2"/><circle cx="1137.5" cy="946.4" r="4.2"/><circle cx="1095.8" cy="963.8" r="4.2"/><circle cx="1140.9" cy="950.5" r="4.2"/><circle cx="1113.3" cy="1007.1" r="4.2"/><circle cx="1082.4" cy="999.1" r="4.2"/><circle cx="1131.1" cy="1020.9" r="4.2"/><circle cx="1149.4" cy="987.6" r="4.2"/><circle cx="1123.1" cy="1016.2" r="4.2"/><circle cx="1078.9" cy="1006.3" r="4.2"/><circle cx="1091.4" cy="996.9" r="4.2"/><circle cx="1164.5" cy="1012.2" r="4.2"/><circle cx="1169.6" cy="1006" r="4.2"/><circle cx="1119.5" cy="1025.4" r="4.2"/><circle cx="1154.9" cy="989.2" r="4.2"/><circle cx="1110.2" cy="999.6" r="4.2"/><circle cx="1105.3" cy="1003.4" r="4.2"/><circle cx="1123.6" cy="961.1" r="4.2"/><circle cx="1113.9" cy="983.4" r="4.2"/><circle cx="1146.6" cy="971" r="4.2"/><circle cx="1166.7" cy="1008.2" r="4.2"/><circle cx="1114.5" cy="1013.9" r="4.2"/><circle cx="1142.8" cy="1048.3" r="4.2"/><circle cx="1173.2" cy="1018.1" r="4.2"/><circle cx="1097.1" cy="988.5" r="4.2"/><circle cx="1139.7" cy="973.2" r="4.2"/><circle cx="1144" cy="1013.1" r="4.2"/><circle cx="1088.6" cy="982.5" r="4.2"/><circle cx="1141.2" cy="1017.8" r="4.2"/><circle cx="1073.1" cy="1034.8" r="4.2"/><circle cx="1172.5" cy="1026.6" r="4.2"/><circle cx="1151.7" cy="1016.2" r="4.2"/><circle cx="1148.7" cy="992.6" r="4.2"/><circle cx="1132.8" cy="1023.1" r="4.2"/><circle cx="1079" cy="985.1" r="4.2"/><circle cx="1161.5" cy="1040.6" r="4.2"/><circle cx="1139.6" cy="951" r="4.2"/><circle cx="1081.9" cy="999.7" r="4.2"/><circle cx="1157.2" cy="1031.8" r="4.2"/><circle cx="1147.7" cy="1000.4" r="4.2"/><circle cx="1128.6" cy="1019" r="4.2"/><circle cx="1085.1" cy="1006.6" r="4.2"/><circle cx="1168.1" cy="1021.9" r="4.2"/><circle cx="1106.5" cy="1042" r="4.2"/><circle cx="1160.8" cy="991.8" r="4.2"/><circle cx="1117" cy="972.4" r="4.2"/><circle cx="1125.8" cy="966.6" r="4.2"/><circle cx="1147.3" cy="1005.1" r="4.2"/><circle cx="1117.6" cy="1003.6" r="4.2"/><circle cx="1162.8" cy="1003.3" r="4.2"/><circle cx="1166.9" cy="1017.3" r="4.2"/><circle cx="1152.3" cy="989.6" r="4.2"/><circle cx="1113.6" cy="982" r="4.2"/><circle cx="1103.3" cy="981.6" r="4.2"/><circle cx="1161.7" cy="1033.5" r="4.2"/><circle cx="1113.8" cy="980" r="4.2"/></g>
<g fill="#7f7f7f" fill-opacity="0.6"><circle cx="1084.7" cy="1013" r="4.2"/><circle cx="1084.9" cy="1062.1" r="4.2"/><circle cx="1189.8" cy="1031.9" r="4.2"/><circle cx="1188.3" cy="1054.3" r="4.2"/><circle cx="1162.2" cy="995.1" r="4.2"/><circle cx="1096.9" cy="974.8" r="4.2"/><circle cx="1085.6" cy="1039.7" r="4.2"/><circle cx="1110.3" cy="1035" r="4.2"/><circle cx="1124" cy="936.5" r="4.2"/><circle cx="1130.5" cy="971.9" r="4.2"/><circle cx="1097.8" cy="1039.6" r="4.2"/><circle cx="1103.3" cy="988.9" r="4.2"/><circle cx="1104.5" cy="976.7" r="4.2"/><circle cx="1182.4" cy="1029" r="4.2"/><circle cx="1106.5" cy="977.4" r="4.2"/><circle cx="1169.9" cy="1049.6" r="4.2"/><circle cx="1065.1" cy="1058.2" r="4.2"/><circle cx="1111.2" cy="972.7" r="4.2"/><circle cx="1182.3" cy="1043" r="4.2"/><circle cx="1158.8" cy="1024.8" r="4.2"/><circle cx="1113" cy="975.1" r="4.2"/><circle cx="1059.2" cy="1026.5" r="4.2"/><circle cx="1116.4" cy="1023.5" r="4.2"/><circle cx="1150.2" cy="1028.9" r="4.2"/><circle cx="1171.7" cy="1023.4" r="4.2"/><circle cx="1151.1" cy="995" r="4.2"/><circle cx="1142.8" cy="1054.1" r="4.2"/><circle cx="1032.9" cy="1062.2" r="4.2"/><circle cx="1139.1" cy="944.9" r="4.2"/><circle cx="1128.4" cy="949.7" r="4.2"/><circle cx="1188.4" cy="1043.1" r="4.2"/><circle cx="1161.6" cy="1041.1" r="4.2"/><circle cx="1077.5" cy="1033.9" r="4.2"/><circle cx="1151.5" cy="971" r="4.2"/><circle cx="1133.8" cy="1052.8" r="4.2"/><circle cx="1146" cy="986.8" r="4.2"/><circle cx="1074.6" cy="1033.2" r="4.2"/><circle cx="1148.2" cy="1029.2" r="4.2"/><circle cx="1127.4" cy="929" r="4.2"/><circle cx="1054.4" cy="1051" r="4.2"/><circle cx="1162.7" cy="1021" r="4.2"/><circle cx="1085.1" cy="988.4" r="4.2"/><circle cx="1113.8" cy="954.8" r="4.2"/><circle cx="1124.2" cy="983.3" r="4.2"/><circle cx="1104.8" cy="954.1" r="4.2"/><circle cx="1160.7" cy="1040.4" r="4.2"/><circle cx="1110.6" cy="965.1" r="4.2"/><circle cx="1105.7" cy="968.8" r="4.2"/><circle cx="1171.3" cy="1017.8" r="4.2"/><circle cx="1101.8" cy="961.6" r="4.2"/><circle cx="1123.4" cy="1055.3" r="4.2"/><circle cx="1132.3" cy="1027.9" r="4.2"/><circle cx="1122.6" cy="1002.1" r="4.2"/><circle cx="1128.2" cy="933.2" r="4.2"/><circle cx="1093.8" cy="994.7" r="4.2"/><circle cx="1144.7" cy="981.1" r="4.2"/><circle cx="1079.8" cy="1051.7" r="4.2"/><circle cx="1148.3" cy="1013.8" r="4.2"/><circle cx="1128.1" cy="977.6" r="4.2"/><circle cx="1074" cy="1003.3" r="4.2"/><circle cx="1120.2" cy="952.8" r="4.2"/><circle cx="1114" cy="954.4" r="4.2"/><circle cx="1096.6" cy="1032.7" r="4.2"/><circle cx="1152.1" cy="988.3" r="4.2"/><circle cx="1087.8" cy="1022.8" r="4.2"/><circle cx="1150.5" cy="1050.3" r="4.2"/><circle cx="1123.6" cy="946.8" r="4.2"/><circle cx="1089.9" cy="1029.8" r="4.2"/><circle cx="1103.3" cy="1026.9" r="4.2"/><circle cx="1117.2" cy="979.1" r="4.2"/><circle cx="1105.8" cy="1007" r="4.2"/><circle cx="1110.1" cy="1005.9" r="4.2"/><circle cx="1173.9" cy="1051.7" r="4.2"/><circle cx="1115.1" cy="984.7" r="4.2"/><circle cx="1134.2" cy="982.1" r="4.2"/><circle cx="1130.7" cy="997.3" r="4.2"/><circle cx="1124.5" cy="1010.9" r="4.2"/><circle cx="1099.1" cy="969.1" r="4.2"/><circle cx="1128.8" cy="1022.5" r="4.2"/><circle cx="1149" cy="1017.8" r="4.2"/><circle cx="1143" cy="943.8" r="4.2"/><circle cx="1137.6" cy="1027.6" r="4.2"/><circle cx="1063.8" cy="1024.7" r="4.2"/><circle cx="1166.8" cy="1037" r="4.2"/><circle cx="1126.3" cy="1033.5" r="4.2"/><circle cx="1036.5" cy="1052.7" r="4.2"/><circle cx="1122.4" cy="940.6" r="4.2"/><circle cx="1133.3" cy="980" r="4.2"/><circle cx="1120.4" cy="1024.7" r="4.2"/><circle cx="1133.8" cy="1056.7" r="4.2"/><circle cx="1128.1" cy="966.6" r="4.2"/><circle cx="1139.4" cy="999.8" r="4.2"/><circle cx="1113.9" cy="996.8" r="4.2"/><circle cx="1165.2" cy="1046.5" r="4.2"/><circle cx="1137.6" cy="1037.2" r="4.2"/><circle cx="1093.9" cy="1056.2" r="4.2"/><circle cx="1149.2" cy="961.5" r="4.2"/><circle cx="1107.6" cy="1038.4" r="4.2"/><circle cx="1158.1" cy="1018.3" r="4.2"/><circle cx="1058.8" cy="1032.7" r="4.2"/><circle cx="1145" cy="976.8" r="4.2"/><circle cx="1070.4" cy="1026.9" r="4.2"/><circle cx="1117.6" cy="966.5" r="4.2"/><circle cx="1129.3" cy="964.1" r="4.2"/><circle cx="1117.4" cy="1011" r="4.2"/><circle cx="1057.8" cy="1024.1" r="4.2"/><circle cx="1185.3" cy="1039.9" r="4.2"/><circle cx="1084.8" cy="1039.7" r="4.2"/><circle cx="1069.2" cy="1039.7" r="4.2"/><circle cx="1156.1" cy="1027.8" r="4.2"/><circle cx="1092.4" cy="1035.5" r="4.2"/><circle cx="1109.9" cy="989.1" r="4.2"/><circle cx="1150.2" cy="977.5" r="4.2"/><circle cx="1077.3" cy="1063.7" r="4.2"/><circle cx="1156.4" cy="971.2" r="4.2"/><circle cx="1137.7" cy="953.7" r="4.2"/><circle cx="1097.2" cy="1046.3" r="4.2"/><circle cx="1175.3" cy="1035.4" r="4.2"/><circle cx="1087.6" cy="1024.6" r="4.2"/><circle cx="1104.2" cy="969.1" r="4.2"/><circle cx="1035.8" cy="1055.2" r="4.2"/><circle cx="1114" cy="1035.6" r="4.2"/><circle cx="1142.1" cy="986.5" r="4.2"/><circle cx="1127.1" cy="1005.8" r="4.2"/><circle cx="1140.1" cy="1012.4" r="4.2"/><circle cx="1156.4" cy="1032.7" r="4.2"/><circle cx="1084.7" cy="992.8" r="4.2"/><circle cx="1093.4" cy="1048.4" r="4.2"/><circle cx="1108.7" cy="940.4" r="4.2"/><circle cx="1099.4" cy="972.2" r="4.2"/><circle cx="1070.7" cy="1004.8" r="4.2"/><circle cx="1145.6" cy="1029.8" r="4.2"/><circle cx="1061.4" cy="1037.7" r="4.2"/><circle cx="1116.1" cy="992.5" r="4.2"/><circle cx="1099.4" cy="990.5" r="4.2"/><circle cx="1082.8" cy="1008.3" r="4.2"/><circle cx="1056.5" cy="1065.3" r="4.2"/><circle cx="1144.9" cy="1048.7" r="4.2"/><circle cx="1152.8" cy="1041.1" r="4.2"/><circle cx="1100.4" cy="1027.8" r="4.2"/><circle cx="1187.8" cy="1046.5" r="4.2"/><circle cx="1111.9" cy="991.5" r="4.2"/><circle cx="1108.4" cy="1003.5" r="4.2"/><circle cx="1048.1" cy="1040.5" r="4.2"/><circle cx="1078.1" cy="1051.8" r="4.2"/><circle cx="1153.2" cy="959.6" r="4.2"/><circle cx="1151.9" cy="1018" r="4.2"/><circle cx="1114.3" cy="964.6" r="4.2"/><circle cx="1063" cy="1047.9" r="4.2"/><circle cx="1122.1" cy="993.6" r="4.2"/><circle cx="1145.3" cy="959.6" r="4.2"/><circle cx="1119.4" cy="936" r="4.2"/><circle cx="1156.7" cy="1036.6" r="4.2"/><circle cx="1105.5" cy="960.2" r="4.2"/><circle cx="1190.9" cy="1039.3" r="4.2"/><circle cx="1150.3" cy="977.7" r="4.2"/><circle cx="1155.9" cy="1003" r="4.2"/><circle cx="1162.2" cy="1027.5" r="4.2"/><circle cx="1168.4" cy="1006.3" r="4.2"/><circle cx="1168.5" cy="1014.4" r="4.2"/></g>
<g fill="#55bb33" fill-opacity="0.5"><circle cx="960.6" cy="1002.6" r="4.2"/><circle cx="984.9" cy="1012.5" r="4.2"/><circle cx="989.4" cy="1045.6" r="4.2"/><circle cx="970.1" cy="987.8" r="4.2"/><circle cx="987.9" cy="1030.3" r="4.2"/><circle cx="977" cy="1008.2" r="4.2"/><circle cx="982.3" cy="1021.1" r="4.2"/><circle cx="974.4" cy="962" r="4.2"/><circle cx="951.8" cy="1029.5" r="4.2"/><circle cx="983.6" cy="998.8" r="4.2"/><circle cx="978" cy="1005.5" r="4.2"/><circle cx="954.5" cy="1016.8" r="4.2"/><circle cx="966.1" cy="989.8" r="4.2"/><circle cx="975.6" cy="969.8" r="4.2"/><circle cx="976.3" cy="1003.2" r="4.2"/><circle cx="954.4" cy="1035.7" r="4.2"/><circle cx="958.8" cy="1008.4" r="4.2"/><circle cx="987.3" cy="1017.8" r="4.2"/><circle cx="972.7" cy="1024.4" r="4.2"/><circle cx="986.5" cy="1021.5" r="4.2"/><circle cx="982.5" cy="1046.2" r="4.2"/><circle cx="971.1" cy="950.7" r="4.2"/><circle cx="964" cy="967.5" r="4.2"/><circle cx="986.7" cy="1023.1" r="4.2"/><circle cx="970.4" cy="955.8" r="4.2"/><circle cx="978.8" cy="973.5" r="4.2"/><circle cx="958.7" cy="957.9" r="4.2"/><circle cx="973.6" cy="1036.3" r="4.2"/><circle cx="966.5" cy="1049.2" r="4.2"/><circle cx="983.2" cy="1028" r="4.2"/><circle cx="967.9" cy="957.4" r="4.2"/><circle cx="956.4" cy="1010" r="4.2"/><circle cx="980.6" cy="1016.6" r="4.2"/><circle cx="975.7" cy="1044.8" r="4.2"/><circle cx="956" cy="1030.1" r="4.2"/><circle cx="954.3" cy="1026.6" r="4.2"/><circle cx="976.4" cy="1010.8" r="4.2"/><circle cx="968.4" cy="953.1" r="4.2"/><circle cx="966.9" cy="982.5" r="4.2"/><circle cx="964.8" cy="979.6" r="4.2"/><circle cx="970.5" cy="962.6" r="4.2"/><circle cx="994.5" cy="1039.5" r="4.2"/><circle cx="980.1" cy="1042.6" r="4.2"/><circle cx="988.5" cy="1020.1" r="4.2"/><circle cx="963.2" cy="955" r="4.2"/><circle cx="963.2" cy="999.6" r="4.2"/><circle cx="986.9" cy="1038" r="4.2"/><circle cx="981.9" cy="1024.1" r="4.2"/><circle cx="988.6" cy="1042.2" r="4.2"/><circle cx="976.6" cy="979.7" r="4.2"/><circle cx="969.5" cy="980.9" r="4.2"/><circle cx="972.8" cy="990.6" r="4.2"/><circle cx="958.1" cy="995.7" r="4.2"/><circle cx="987.6" cy="1026.7" r="4.2"/><circle cx="975.3" cy="976.9" r="4.2"/><circle cx="973.5" cy="990.8" r="4.2"/><circle cx="968.7" cy="1035.2" r="4.2"/><circle cx="975.7" cy="1051.6" r="4.2"/><circle cx="966.7" cy="1034.7" r="4.2"/><circle cx="977.6" cy="1038.8" r="4.2"/><circle cx="980.1" cy="1043.4" r="4.2"/><circle cx="974.4" cy="1003.5" r="4.2"/><circle cx="979.4" cy="1013.3" r="4.2"/><circle cx="963.5" cy="967.1" r="4.2"/><circle cx="969.1" cy="1040.3" r="4.2"/><circle cx="970.2" cy="995.5" r="4.2"/><circle cx="961.3" cy="993.5" r="4.2"/><circle cx="970.8" cy="993.4" r="4.2"/><circle cx="963.2" cy="997.6" r="4.2"/><circle cx="980.3" cy="1015.9" r="4.2"/><circle cx="954.1" cy="981.3" r="4.2"/><circle cx="987.1" cy="1013.5" r="4.2"/><circle cx="954.8" cy="1043.1" r="4.2"/><circle cx="954.7" cy="994.3" r="4.2"/><circle cx="974.6" cy="1034.6" r="4.2"/><circle cx="976.1" cy="994" r="4.2"/><circle cx="989.3" cy="1045.3" r="4.2"/><circle cx="982.7" cy="991.5" r="4.2"/><circle cx="985.8" cy="1032.7" r="4.2"/><circle cx="974.3" cy="997.8" r="4.2"/><circle cx="984.4" cy="989.1" r="4.2"/><circle cx="951.9" cy="1015" r="4.2"/><circle cx="958.5" cy="1040.6" r="4.2"/><circle cx="965.8" cy="982" r="4.2"/><circle cx="959.2" cy="989.9" r="4.2"/><circle cx="968.2" cy="987.1" r="4.2"/><circle cx="972.5" cy="958.7" r="4.2"/><circle cx="980.2" cy="973.7" r="4.2"/><circle cx="981.6" cy="1047.5" r="4.2"/><circle cx="970.2" cy="978.9" r="4.2"/><circle cx="966.4" cy="970.7" r="4.2"/><circle cx="975.9" cy="1036.9" r="4.2"/><circle cx="977.2" cy="1030.1" r="4.2"/><circle cx="974.6" cy="996.5" r="4.2"/><circle cx="963.5" cy="984.7" r="4.2"/><circle cx="954" cy="1020.4" r="4.2"/><circle cx="950.6" cy="1041.6" r="4.2"/><circle cx="950.8" cy="1031.9" r="4.2"/><circle cx="968.1" cy="985.4" r="4.2"/><circle cx="966.2" cy="965.5" r="4.2"/><circle cx="983.3" cy="992.3" r="4.2"/><circle cx="980.5" cy="974.6" r="4.2"/><circle cx="958.9" cy="979.8" r="4.2"/><circle cx="972.8" cy="965.5" r="4.2"/><circle cx="963" cy="1039.4" r="4.2"/><circle cx="978.3" cy="1026.4" r="4.2"/><circle cx="968.2" cy="1000" r="4.2"/><circle cx="979" cy="1044.2" r="4.2"/><circle cx="971" cy="958.6" r="4.2"/><circle cx="963.8" cy="967.4" r="4.2"/><circle cx="968.1" cy="905.6" r="4.2"/><circle cx="959.9" cy="920.4" r="4.2"/><circle cx="964.8" cy="921.4" r="4.2"/><circle cx="969.8" cy="926.7" r="4.2"/><circle cx="945.1" cy="932" r="4.2"/><circle cx="969.8" cy="938.3" r="4.2"/><circle cx="966.5" cy="944.6" r="4.2"/><circle cx="974.7" cy="941.4" r="4.2"/><circle cx="959.9" cy="958.3" r="4.2"/></g>
<g fill="#7f7f7f" fill-opacity="0.5"><circle cx="974.5" cy="968.8" r="4.2"/><circle cx="979" cy="1035.6" r="4.2"/><circle cx="976.9" cy="981.1" r="4.2"/><circle cx="955" cy="1055.3" r="4.2"/><circle cx="964.2" cy="1013.8" r="4.2"/><circle cx="967.5" cy="983.6" r="4.2"/><circle cx="984.2" cy="1028.5" r="4.2"/><circle cx="986.4" cy="1047.9" r="4.2"/><circle cx="987.3" cy="1006.1" r="4.2"/><circle cx="959.8" cy="957.2" r="4.2"/><circle cx="960.8" cy="992.9" r="4.2"/><circle cx="981.5" cy="1020.2" r="4.2"/><circle cx="966.5" cy="968.8" r="4.2"/><circle cx="973.7" cy="989" r="4.2"/><circle cx="978.7" cy="1052.7" r="4.2"/><circle cx="973.4" cy="1023.8" r="4.2"/><circle cx="953.5" cy="1009.6" r="4.2"/><circle cx="979.3" cy="1015" r="4.2"/><circle cx="956.3" cy="999.7" r="4.2"/><circle cx="994.9" cy="1035.6" r="4.2"/><circle cx="966.4" cy="966.2" r="4.2"/><circle cx="993.5" cy="1030.5" r="4.2"/><circle cx="978.2" cy="1042.2" r="4.2"/><circle cx="957.6" cy="996.1" r="4.2"/><circle cx="960.5" cy="1043.1" r="4.2"/><circle cx="968.9" cy="973.8" r="4.2"/><circle cx="980.6" cy="1016.9" r="4.2"/><circle cx="970.5" cy="1035.9" r="4.2"/><circle cx="973.6" cy="1000.9" r="4.2"/><circle cx="976.5" cy="1013.8" r="4.2"/><circle cx="980.7" cy="991.2" r="4.2"/><circle cx="956.2" cy="1054.7" r="4.2"/><circle cx="978.3" cy="1025.2" r="4.2"/><circle cx="973.6" cy="1037.1" r="4.2"/><circle cx="974.3" cy="1034.1" r="4.2"/><circle cx="960.1" cy="1048.7" r="4.2"/><circle cx="973.7" cy="1027.5" r="4.2"/><circle cx="969.9" cy="1058.6" r="4.2"/><circle cx="977.8" cy="984.5" r="4.2"/><circle cx="962.5" cy="967.2" r="4.2"/></g>
<g fill="#7f7f7f" fill-opacity="0.8"><circle cx="885.3" cy="1034" r="4.3"/><circle cx="916.2" cy="1041.1" r="4.3"/><circle cx="888.7" cy="1030.6" r="4.3"/><circle cx="927.6" cy="1040" r="4.3"/><circle cx="907.7" cy="1049.3" r="4.3"/><circle cx="912.9" cy="1054.9" r="4.3"/><circle cx="926.6" cy="1049.5" r="4.3"/><circle cx="932" cy="1036.5" r="4.3"/><circle cx="907.2" cy="1053.4" r="4.3"/><circle cx="937" cy="1044.9" r="4.3"/><circle cx="884.7" cy="1029.7" r="4.3"/><circle cx="904.3" cy="1038.7" r="4.3"/><circle cx="897" cy="1040.9" r="4.3"/><circle cx="931.4" cy="1049.4" r="4.3"/><circle cx="925.8" cy="1050.2" r="4.3"/><circle cx="924.1" cy="1031.6" r="4.3"/><circle cx="912.6" cy="1032.7" r="4.3"/><circle cx="882.5" cy="1041.2" r="4.3"/><circle cx="928.8" cy="1050.5" r="4.3"/><circle cx="901.4" cy="1045" r="4.3"/><circle cx="904.1" cy="1044.3" r="4.3"/><circle cx="907.1" cy="1040.7" r="4.3"/><circle cx="910.7" cy="1032.1" r="4.3"/><circle cx="889.1" cy="1036.8" r="4.3"/><circle cx="911.1" cy="1036.3" r="4.3"/><circle cx="886.4" cy="1051.5" r="4.3"/><circle cx="897.4" cy="1026" r="4.3"/><circle cx="897.3" cy="1037.2" r="4.3"/><circle cx="946.5" cy="1042.1" r="4.3"/><circle cx="966.3" cy="969.8" r="4.3"/><circle cx="950.1" cy="1023.9" r="4.3"/><circle cx="971" cy="994.1" r="4.3"/><circle cx="943.9" cy="1018.5" r="4.3"/><circle cx="952.4" cy="1033.6" r="4.3"/><circle cx="934" cy="1012.4" r="4.3"/><circle cx="969.5" cy="994.6" r="4.3"/><circle cx="958" cy="963.1" r="4.3"/><circle cx="931.8" cy="1028.4" r="4.3"/><circle cx="974.4" cy="954.7" r="4.3"/><circle cx="976.7" cy="979.2" r="4.3"/><circle cx="952.7" cy="981.7" r="4.3"/><circle cx="958.4" cy="1020.3" r="4.3"/><circle cx="966.4" cy="934.6" r="4.3"/><circle cx="931.6" cy="980.2" r="4.3"/><circle cx="964.2" cy="947.6" r="4.3"/><circle cx="961" cy="1022.7" r="4.3"/><circle cx="935.3" cy="1043.3" r="4.3"/><circle cx="931.7" cy="998.7" r="4.3"/><circle cx="958.6" cy="1014.2" r="4.3"/><circle cx="956.3" cy="1027.4" r="4.3"/><circle cx="939.1" cy="1031.9" r="4.3"/><circle cx="950.2" cy="965.5" r="4.3"/><circle cx="967.7" cy="944.7" r="4.3"/><circle cx="971" cy="955.3" r="4.3"/><circle cx="930.7" cy="996.6" r="4.3"/><circle cx="939.5" cy="965.3" r="4.3"/><circle cx="943.6" cy="967.1" r="4.3"/><circle cx="950.8" cy="1016.1" r="4.3"/><circle cx="956.8" cy="985.8" r="4.3"/><circle cx="961.9" cy="991" r="4.3"/><circle cx="968.9" cy="933" r="4.3"/><circle cx="946.6" cy="966.8" r="4.3"/><circle cx="958" cy="984.3" r="4.3"/><circle cx="936" cy="1045.6" r="4.3"/><circle cx="970.3" cy="998.6" r="4.3"/><circle cx="964.2" cy="999.2" r="4.3"/><circle cx="957.5" cy="1006" r="4.3"/><circle cx="951.4" cy="1026.7" r="4.3"/><circle cx="932.9" cy="1000.3" r="4.3"/><circle cx="943.3" cy="966.2" r="4.3"/><circle cx="973.3" cy="963.7" r="4.3"/><circle cx="954.3" cy="1025.3" r="4.3"/><circle cx="950.6" cy="993.7" r="4.3"/><circle cx="963.5" cy="933.5" r="4.3"/><circle cx="934.8" cy="994.6" r="4.3"/><circle cx="956.2" cy="964.5" r="4.3"/><circle cx="977.1" cy="956.7" r="4.3"/><circle cx="963.3" cy="959.3" r="4.3"/><circle cx="965.4" cy="946.6" r="4.3"/><circle cx="967.1" cy="968.9" r="4.3"/><circle cx="950.6" cy="977.5" r="4.3"/><circle cx="973.7" cy="933.4" r="4.3"/><circle cx="946.8" cy="1015.8" r="4.3"/><circle cx="950.9" cy="1036.8" r="4.3"/><circle cx="969.4" cy="996.7" r="4.3"/><circle cx="948" cy="974.1" r="4.3"/><circle cx="943.7" cy="948.3" r="4.3"/><circle cx="938.4" cy="969.1" r="4.3"/><circle cx="1188.5" cy="1026.2" r="4.3"/><circle cx="1197.3" cy="1051.2" r="4.3"/><circle cx="1225.9" cy="1055.9" r="4.3"/><circle cx="1256" cy="1030.3" r="4.3"/><circle cx="1187.2" cy="1037.7" r="4.3"/><circle cx="1253.6" cy="1041.6" r="4.3"/><circle cx="1187.4" cy="1045.6" r="4.3"/><circle cx="1237.7" cy="1052.2" r="4.3"/><circle cx="1256.5" cy="1048.9" r="4.3"/><circle cx="1185.7" cy="1019.6" r="4.3"/><circle cx="1206.1" cy="1056.6" r="4.3"/><circle cx="1206.1" cy="1053.8" r="4.3"/><circle cx="1212.7" cy="1027.3" r="4.3"/><circle cx="1239" cy="1049.1" r="4.3"/><circle cx="1222.6" cy="1054.2" r="4.3"/><circle cx="1194.3" cy="1036.1" r="4.3"/><circle cx="1221" cy="1034.3" r="4.3"/><circle cx="1182.7" cy="1012.5" r="4.3"/><circle cx="1240.8" cy="1044" r="4.3"/><circle cx="1190.5" cy="1021" r="4.3"/><circle cx="1237.2" cy="1039.8" r="4.3"/><circle cx="1191.1" cy="1014.9" r="4.3"/><circle cx="1236.6" cy="1034.7" r="4.3"/><circle cx="1230.5" cy="1027.1" r="4.3"/><circle cx="1202.3" cy="1042.1" r="4.3"/><circle cx="1172.1" cy="1050.5" r="4.3"/><circle cx="1190.8" cy="1054.9" r="4.3"/><circle cx="1188.9" cy="1020.2" r="4.3"/><circle cx="1176.1" cy="1047.2" r="4.3"/><circle cx="1177.3" cy="1049.5" r="4.3"/><circle cx="1250.5" cy="1027.3" r="4.3"/><circle cx="1244.9" cy="1030.2" r="4.3"/><circle cx="1172.6" cy="1044.5" r="4.3"/><circle cx="1248.5" cy="1052.7" r="4.3"/><circle cx="1179" cy="1022.5" r="4.3"/><circle cx="1218.2" cy="1028.7" r="4.3"/><circle cx="1188.4" cy="1032.3" r="4.3"/><circle cx="1213" cy="1049.7" r="4.3"/><circle cx="1190.1" cy="1010.3" r="4.3"/><circle cx="1224.1" cy="1039.4" r="4.3"/><circle cx="1241.8" cy="1033.2" r="4.3"/><circle cx="1198.8" cy="1053.9" r="4.3"/><circle cx="1172.1" cy="1023.9" r="4.3"/><circle cx="1197.1" cy="1015.3" r="4.3"/><circle cx="1203.8" cy="1051.6" r="4.3"/><circle cx="1185.2" cy="1016.6" r="4.3"/><circle cx="1245.9" cy="1047.1" r="4.3"/><circle cx="1184.9" cy="1029.1" r="4.3"/><circle cx="1170.2" cy="1043.2" r="4.3"/><circle cx="1235.7" cy="1024.3" r="4.3"/><circle cx="1214.6" cy="1027.6" r="4.3"/><circle cx="1248.1" cy="1050.5" r="4.3"/><circle cx="1249.6" cy="1048.2" r="4.3"/><circle cx="1200.8" cy="1046.1" r="4.3"/><circle cx="1172.4" cy="1056.8" r="4.3"/><circle cx="1192.9" cy="1041.3" r="4.3"/><circle cx="1177.1" cy="1018.8" r="4.3"/><circle cx="1195.1" cy="1020.7" r="4.3"/><circle cx="1168.5" cy="1044.3" r="4.3"/><circle cx="1206.1" cy="1039.4" r="4.3"/><circle cx="1192.2" cy="1050.5" r="4.3"/><circle cx="1255.8" cy="1034.1" r="4.3"/><circle cx="1189" cy="1031.2" r="4.3"/><circle cx="1179.1" cy="1041.6" r="4.3"/><circle cx="1253.1" cy="1033.3" r="4.3"/><circle cx="1205.6" cy="1032.1" r="4.3"/><circle cx="1211.5" cy="1023.5" r="4.3"/><circle cx="1195.6" cy="1033.6" r="4.3"/><circle cx="1195" cy="1015.3" r="4.3"/><circle cx="1188.6" cy="1024.4" r="4.3"/><circle cx="1182.6" cy="1014.1" r="4.3"/><circle cx="1220.3" cy="1037" r="4.3"/><circle cx="1196.8" cy="1049.3" r="4.3"/><circle cx="1208.4" cy="1041.1" r="4.3"/><circle cx="1218.6" cy="1022.9" r="4.3"/><circle cx="1226.7" cy="1026.7" r="4.3"/><circle cx="1196.1" cy="1024.4" r="4.3"/><circle cx="1181.2" cy="1026.3" r="4.3"/><circle cx="1193.3" cy="1022.3" r="4.3"/><circle cx="1184.7" cy="1030.2" r="4.3"/><circle cx="1182.4" cy="1046.1" r="4.3"/><circle cx="1181" cy="1041" r="4.3"/><circle cx="1189.3" cy="1013.2" r="4.3"/><circle cx="1236.9" cy="1042.9" r="4.3"/><circle cx="1183.9" cy="1021.8" r="4.3"/><circle cx="1182.9" cy="1010" r="4.3"/><circle cx="1268.4" cy="1044.7" r="4.3"/><circle cx="1220" cy="1025.5" r="4.3"/><circle cx="1175.6" cy="1039.2" r="4.3"/><circle cx="1185.1" cy="1019.1" r="4.3"/><circle cx="873.2" cy="988.4" r="4.3"/><circle cx="911" cy="850.9" r="4.3"/><circle cx="949.4" cy="839.3" r="4.3"/><circle cx="942.2" cy="855.1" r="4.3"/><circle cx="935.9" cy="877.2" r="4.3"/><circle cx="966.8" cy="893" r="4.3"/><circle cx="961.5" cy="900.4" r="4.3"/><circle cx="948.4" cy="907.8" r="4.3"/><circle cx="940.2" cy="915.1" r="4.3"/><circle cx="956.6" cy="909.9" r="4.3"/><circle cx="1233.5" cy="790.9" r="4.3"/><circle cx="1192.1" cy="811.9" r="4.3"/><circle cx="1219.4" cy="851.9" r="4.3"/><circle cx="1182" cy="878.3" r="4.3"/><circle cx="1198.4" cy="902.5" r="4.3"/><circle cx="1222" cy="895.1" r="4.3"/><circle cx="1267" cy="908.8" r="4.3"/><circle cx="1309.4" cy="906.7" r="4.3"/><circle cx="1311.4" cy="984.1" r="4.3"/><circle cx="1300.6" cy="994.1" r="4.3"/><circle cx="1320.6" cy="1016.2" r="4.3"/><circle cx="1358" cy="1036.2" r="4.3"/><circle cx="1249.3" cy="975.1" r="4.3"/><circle cx="1262.1" cy="983" r="4.3"/><circle cx="1265.7" cy="1003" r="4.3"/><circle cx="1216.5" cy="968.8" r="4.3"/><circle cx="1229.3" cy="1021.5" r="4.3"/><circle cx="1252.3" cy="1036.2" r="4.3"/><circle cx="1265.4" cy="1043.6" r="4.3"/><circle cx="1268.7" cy="1048.9" r="4.3"/><circle cx="1301.5" cy="1028.8" r="4.3"/><circle cx="1304.8" cy="1039.4" r="4.3"/><circle cx="1206.3" cy="1027.8" r="4.3"/><circle cx="1196.4" cy="1015.2" r="4.3"/><circle cx="1222.7" cy="1027.8" r="4.3"/><circle cx="1258.8" cy="1034.1" r="4.3"/><circle cx="881.1" cy="1035.2" r="4.3"/><circle cx="887.6" cy="1038.3" r="4.3"/><circle cx="894.2" cy="1039.4" r="4.3"/><circle cx="900.8" cy="1044.6" r="4.3"/><circle cx="907.3" cy="1023.6" r="4.3"/><circle cx="917.2" cy="1027.8" r="4.3"/><circle cx="1151.1" cy="865.5" r="4.3"/><circle cx="1165.7" cy="839.5" r="4.3"/><circle cx="1128.8" cy="855" r="4.3"/><circle cx="1126.6" cy="974.3" r="4.3"/><circle cx="1176.6" cy="867.3" r="4.3"/><circle cx="1132.1" cy="938.5" r="4.3"/><circle cx="1171" cy="954.5" r="4.3"/><circle cx="1153.1" cy="887.8" r="4.3"/><circle cx="1154.2" cy="983.4" r="4.3"/><circle cx="1131.6" cy="940.8" r="4.3"/><circle cx="1172.2" cy="975.3" r="4.3"/><circle cx="1120.6" cy="918.2" r="4.3"/><circle cx="1150.3" cy="980.5" r="4.3"/><circle cx="1127.9" cy="991.6" r="4.3"/><circle cx="1149.1" cy="1009.1" r="4.3"/><circle cx="1117.2" cy="952.6" r="4.3"/><circle cx="1165.1" cy="919.7" r="4.3"/><circle cx="1170.7" cy="942" r="4.3"/><circle cx="1145.9" cy="931.5" r="4.3"/><circle cx="1123.5" cy="937.7" r="4.3"/><circle cx="1168.6" cy="976.7" r="4.3"/><circle cx="1124.1" cy="893.6" r="4.3"/><circle cx="1118.7" cy="976.8" r="4.3"/><circle cx="1130" cy="932.4" r="4.3"/><circle cx="1157.3" cy="988.4" r="4.3"/><circle cx="1125.5" cy="864.2" r="4.3"/><circle cx="1144" cy="912.9" r="4.3"/><circle cx="1161.2" cy="1004.4" r="4.3"/><circle cx="1140.9" cy="997.2" r="4.3"/><circle cx="1122.1" cy="987.3" r="4.3"/><circle cx="1177.4" cy="847.2" r="4.3"/><circle cx="1148.4" cy="968.6" r="4.3"/><circle cx="1189.9" cy="852.4" r="4.3"/><circle cx="1119.3" cy="937.8" r="4.3"/><circle cx="1129.6" cy="863.5" r="4.3"/><circle cx="1139.5" cy="839.5" r="4.3"/><circle cx="1153.5" cy="925.8" r="4.3"/><circle cx="1128" cy="972.9" r="4.3"/><circle cx="1134.2" cy="985.9" r="4.3"/><circle cx="1156" cy="904.1" r="4.3"/><circle cx="1154.3" cy="976.8" r="4.3"/><circle cx="1142" cy="902.6" r="4.3"/><circle cx="1184.1" cy="855.9" r="4.3"/><circle cx="1182.3" cy="909.1" r="4.3"/><circle cx="1135.8" cy="871.7" r="4.3"/><circle cx="1179.3" cy="917.1" r="4.3"/><circle cx="1167" cy="861.9" r="4.3"/><circle cx="1190.3" cy="857.9" r="4.3"/><circle cx="1150.8" cy="920.8" r="4.3"/><circle cx="1165.2" cy="999.9" r="4.3"/><circle cx="1132.1" cy="927.9" r="4.3"/><circle cx="1119" cy="871.1" r="4.3"/><circle cx="1159.5" cy="907.9" r="4.3"/><circle cx="1157.2" cy="882.5" r="4.3"/><circle cx="1178.3" cy="929.1" r="4.3"/><circle cx="1180.5" cy="860.8" r="4.3"/><circle cx="1159.9" cy="976.8" r="4.3"/><circle cx="1148.5" cy="965.8" r="4.3"/><circle cx="1123.7" cy="977.4" r="4.3"/><circle cx="1109.6" cy="918.2" r="4.3"/><circle cx="1178.9" cy="926.8" r="4.3"/><circle cx="1150.4" cy="929.7" r="4.3"/><circle cx="1151.3" cy="867.5" r="4.3"/><circle cx="1183.9" cy="884.9" r="4.3"/><circle cx="1161.1" cy="854" r="4.3"/><circle cx="1146.8" cy="906" r="4.3"/><circle cx="1144.8" cy="896.8" r="4.3"/><circle cx="1124.9" cy="953.5" r="4.3"/><circle cx="1125.2" cy="971.5" r="4.3"/><circle cx="1169.3" cy="981.2" r="4.3"/><circle cx="1118.7" cy="883.4" r="4.3"/><circle cx="1148.8" cy="923.7" r="4.3"/><circle cx="1145.5" cy="972.9" r="4.3"/><circle cx="1150.9" cy="847.1" r="4.3"/><circle cx="1158.7" cy="850.1" r="4.3"/><circle cx="1116.1" cy="957" r="4.3"/><circle cx="1167.3" cy="934.2" r="4.3"/><circle cx="1187.6" cy="891.7" r="4.3"/><circle cx="1111.2" cy="974" r="4.3"/><circle cx="1124" cy="941.5" r="4.3"/><circle cx="1157.7" cy="902.4" r="4.3"/><circle cx="1160.8" cy="903.1" r="4.3"/><circle cx="1188.5" cy="906.8" r="4.3"/><circle cx="1107.1" cy="957.9" r="4.3"/><circle cx="1152" cy="893.4" r="4.3"/><circle cx="1185.3" cy="858.4" r="4.3"/><circle cx="1151.3" cy="916.4" r="4.3"/><circle cx="1169.2" cy="968.2" r="4.3"/><circle cx="1121.6" cy="868.4" r="4.3"/><circle cx="1146.4" cy="926.6" r="4.3"/><circle cx="1139.1" cy="927.8" r="4.3"/><circle cx="1159.2" cy="931.8" r="4.3"/><circle cx="1181.3" cy="858" r="4.3"/><circle cx="1140.6" cy="913" r="4.3"/><circle cx="1107.4" cy="920.2" r="4.3"/><circle cx="1115.9" cy="956.1" r="4.3"/><circle cx="1136.5" cy="922.7" r="4.3"/><circle cx="1140.1" cy="987.1" r="4.3"/><circle cx="1109.2" cy="929.5" r="4.3"/><circle cx="1166.4" cy="878.4" r="4.3"/><circle cx="1172.4" cy="970.5" r="4.3"/><circle cx="1150.8" cy="844.3" r="4.3"/><circle cx="1157.5" cy="890.7" r="4.3"/><circle cx="1127.3" cy="934.6" r="4.3"/><circle cx="1123.4" cy="953.2" r="4.3"/><circle cx="1148.5" cy="983.3" r="4.3"/><circle cx="1113.6" cy="959.3" r="4.3"/><circle cx="1151.3" cy="994" r="4.3"/><circle cx="1171.4" cy="856.7" r="4.3"/><circle cx="1122.6" cy="964.7" r="4.3"/><circle cx="1163.6" cy="974.1" r="4.3"/><circle cx="1147.5" cy="962.5" r="4.3"/><circle cx="1177.7" cy="755.6" r="4.3"/><circle cx="1157" cy="762.4" r="4.3"/><circle cx="1145.8" cy="767.7" r="4.3"/><circle cx="1138.9" cy="803.5" r="4.3"/><circle cx="1150.4" cy="802.5" r="4.3"/><circle cx="1166.9" cy="804.6" r="4.3"/><circle cx="1152.1" cy="811.9" r="4.3"/><circle cx="1186.6" cy="815.1" r="4.3"/><circle cx="1143.9" cy="823.5" r="4.3"/><circle cx="1163.6" cy="836.1" r="4.3"/><circle cx="1134" cy="844.6" r="4.3"/></g>
<g fill="#ee3318" fill-opacity="0.7"><circle cx="1107" cy="955.3" r="4.3"/><circle cx="1158.6" cy="863.2" r="4.3"/><circle cx="1179.7" cy="911.2" r="4.3"/><circle cx="1131" cy="868.1" r="4.3"/><circle cx="1155" cy="867.4" r="4.3"/><circle cx="1190.9" cy="895.2" r="4.3"/><circle cx="1125" cy="891.3" r="4.3"/><circle cx="1188.7" cy="867.9" r="4.3"/><circle cx="1155.7" cy="869.9" r="4.3"/><circle cx="1176.9" cy="932.4" r="4.3"/><circle cx="1140" cy="969.1" r="4.3"/><circle cx="1179.6" cy="853.3" r="4.3"/><circle cx="1123.6" cy="904.9" r="4.3"/><circle cx="1142.4" cy="980.1" r="4.3"/><circle cx="1142.4" cy="920.2" r="4.3"/><circle cx="1173.2" cy="970.3" r="4.3"/><circle cx="1190" cy="866.8" r="4.3"/><circle cx="1155.7" cy="863.3" r="4.3"/><circle cx="1169.8" cy="946.8" r="4.3"/><circle cx="1176.3" cy="877.7" r="4.3"/><circle cx="1173" cy="929.4" r="4.3"/><circle cx="1176.7" cy="900.8" r="4.3"/><circle cx="1102.5" cy="953.2" r="4.3"/><circle cx="1104.6" cy="930.8" r="4.3"/><circle cx="1164.7" cy="896.7" r="4.3"/><circle cx="1170.4" cy="865.5" r="4.3"/><circle cx="1176.1" cy="947.5" r="4.3"/><circle cx="1119.1" cy="983.9" r="4.3"/><circle cx="1140.2" cy="955.7" r="4.3"/><circle cx="1173.6" cy="867" r="4.3"/><circle cx="1138.1" cy="865.7" r="4.3"/><circle cx="1165.6" cy="961.4" r="4.3"/><circle cx="1174.4" cy="858.4" r="4.3"/><circle cx="1147.3" cy="960.4" r="4.3"/><circle cx="1145.6" cy="998" r="4.3"/><circle cx="1145.3" cy="919" r="4.3"/><circle cx="1164.7" cy="967.1" r="4.3"/><circle cx="1152.3" cy="950.7" r="4.3"/><circle cx="1176.5" cy="867.6" r="4.3"/><circle cx="1189.4" cy="911.9" r="4.3"/><circle cx="1133.8" cy="966.6" r="4.3"/><circle cx="1186.7" cy="841" r="4.3"/><circle cx="1137" cy="972" r="4.3"/><circle cx="1185.5" cy="843.6" r="4.3"/><circle cx="1166.5" cy="869" r="4.3"/><circle cx="1135.3" cy="908.2" r="4.3"/><circle cx="1154.8" cy="939.4" r="4.3"/><circle cx="1182.9" cy="923.6" r="4.3"/><circle cx="1125.7" cy="944.1" r="4.3"/><circle cx="1139.4" cy="996.4" r="4.3"/><circle cx="1159.5" cy="975.4" r="4.3"/><circle cx="1190.4" cy="866.3" r="4.3"/><circle cx="1107.3" cy="965.6" r="4.3"/><circle cx="1152.9" cy="888.5" r="4.3"/><circle cx="1109.9" cy="952.9" r="4.3"/><circle cx="1151.1" cy="980.9" r="4.3"/><circle cx="1146.5" cy="944.8" r="4.3"/><circle cx="1128.3" cy="876.9" r="4.3"/><circle cx="1150.6" cy="1002.5" r="4.3"/><circle cx="1145.1" cy="885.7" r="4.3"/><circle cx="1164" cy="938.9" r="4.3"/><circle cx="1144.9" cy="956.9" r="4.3"/><circle cx="1141.6" cy="908.5" r="4.3"/><circle cx="1157.2" cy="1006.5" r="4.3"/><circle cx="1174.5" cy="921.4" r="4.3"/><circle cx="1145.4" cy="847.9" r="4.3"/><circle cx="1124.5" cy="971.1" r="4.3"/><circle cx="1165.8" cy="979.5" r="4.3"/><circle cx="1126.7" cy="900.4" r="4.3"/><circle cx="1137.7" cy="953.2" r="4.3"/><circle cx="1114.9" cy="880.6" r="4.3"/><circle cx="1136.8" cy="895.1" r="4.3"/><circle cx="1155" cy="1000.1" r="4.3"/><circle cx="1185.5" cy="877.8" r="4.3"/><circle cx="1172.3" cy="904.3" r="4.3"/><circle cx="1161.4" cy="947.3" r="4.3"/><circle cx="1141" cy="917.1" r="4.3"/><circle cx="1166" cy="949" r="4.3"/><circle cx="1124.9" cy="903.6" r="4.3"/><circle cx="1128.1" cy="851.2" r="4.3"/><circle cx="1134.8" cy="947.2" r="4.3"/><circle cx="1144" cy="980" r="4.3"/><circle cx="1159.5" cy="846.9" r="4.3"/><circle cx="1172.4" cy="910.1" r="4.3"/><circle cx="1103.7" cy="951" r="4.3"/><circle cx="1159.4" cy="982.6" r="4.3"/><circle cx="1139.5" cy="948.9" r="4.3"/><circle cx="1187" cy="918.3" r="4.3"/><circle cx="1128.5" cy="948.4" r="4.3"/><circle cx="1155.1" cy="1003.3" r="4.3"/><circle cx="1120.9" cy="963.1" r="4.3"/><circle cx="1120.9" cy="946" r="4.3"/><circle cx="1171.7" cy="926.3" r="4.3"/><circle cx="1146.3" cy="970" r="4.3"/><circle cx="1142.3" cy="984.6" r="4.3"/><circle cx="1118.7" cy="904.8" r="4.3"/><circle cx="1175" cy="868.7" r="4.3"/><circle cx="1170.3" cy="891" r="4.3"/><circle cx="1161.1" cy="977" r="4.3"/><circle cx="1173.9" cy="942.7" r="4.3"/><circle cx="1147.7" cy="924.9" r="4.3"/><circle cx="1174.1" cy="945.5" r="4.3"/><circle cx="1138.8" cy="876.4" r="4.3"/><circle cx="1183.4" cy="876.7" r="4.3"/><circle cx="1150.8" cy="950.3" r="4.3"/><circle cx="1145.5" cy="944.3" r="4.3"/><circle cx="1118" cy="974.3" r="4.3"/><circle cx="1164.7" cy="920.8" r="4.3"/><circle cx="1103.2" cy="962.4" r="4.3"/><circle cx="1135.1" cy="842.6" r="4.3"/><circle cx="1116.8" cy="903.1" r="4.3"/><circle cx="1151.1" cy="925.4" r="4.3"/><circle cx="1130.1" cy="971.8" r="4.3"/><circle cx="1115.7" cy="974.7" r="4.3"/><circle cx="1129.4" cy="978.7" r="4.3"/><circle cx="1182.8" cy="879.1" r="4.3"/><circle cx="1131.9" cy="904.2" r="4.3"/><circle cx="1157.7" cy="899" r="4.3"/><circle cx="1156.8" cy="1005.8" r="4.3"/><circle cx="1165.6" cy="959.7" r="4.3"/><circle cx="1125.4" cy="974.9" r="4.3"/><circle cx="1160.6" cy="952.5" r="4.3"/><circle cx="1170" cy="932.3" r="4.3"/><circle cx="1173.3" cy="940.4" r="4.3"/><circle cx="1171.5" cy="939.1" r="4.3"/><circle cx="1127.8" cy="927" r="4.3"/><circle cx="1131.8" cy="924.6" r="4.3"/><circle cx="1130.2" cy="989.9" r="4.3"/><circle cx="1180.6" cy="865.1" r="4.3"/><circle cx="1127.9" cy="983.1" r="4.3"/><circle cx="1143.9" cy="997.2" r="4.3"/><circle cx="1159.5" cy="889.2" r="4.3"/><circle cx="1165.9" cy="859.3" r="4.3"/><circle cx="1157.9" cy="907.9" r="4.3"/><circle cx="1169.2" cy="888.5" r="4.3"/><circle cx="1122.5" cy="864.4" r="4.3"/><circle cx="1123.6" cy="871.6" r="4.3"/><circle cx="1167.1" cy="901.1" r="4.3"/><circle cx="1189.6" cy="904.2" r="4.3"/><circle cx="1137.6" cy="849.3" r="4.3"/><circle cx="1166.4" cy="1001.5" r="4.3"/><circle cx="1144" cy="889.3" r="4.3"/><circle cx="1159.6" cy="980" r="4.3"/><circle cx="1167.5" cy="927" r="4.3"/><circle cx="1120.6" cy="944.8" r="4.3"/><circle cx="1146.1" cy="1007.3" r="4.3"/><circle cx="1148.7" cy="973.4" r="4.3"/><circle cx="1133.2" cy="949.8" r="4.3"/><circle cx="1130.3" cy="990.5" r="4.3"/><circle cx="1181.9" cy="837.4" r="4.3"/><circle cx="1165.5" cy="914.7" r="4.3"/><circle cx="1125" cy="858.4" r="4.3"/><circle cx="1136.9" cy="893.6" r="4.3"/><circle cx="1175.2" cy="964.7" r="4.3"/><circle cx="1176" cy="896.1" r="4.3"/><circle cx="1136.1" cy="881.9" r="4.3"/><circle cx="1158.8" cy="974.7" r="4.3"/><circle cx="1168.6" cy="883.7" r="4.3"/><circle cx="1156.8" cy="912.9" r="4.3"/><circle cx="1154.7" cy="842.3" r="4.3"/><circle cx="1134.1" cy="871" r="4.3"/><circle cx="1159.4" cy="904.8" r="4.3"/><circle cx="1142" cy="840.9" r="4.3"/><circle cx="1185.9" cy="884.7" r="4.3"/><circle cx="1134.7" cy="924.1" r="4.3"/><circle cx="1137.8" cy="954.5" r="4.3"/><circle cx="1116.8" cy="941.2" r="4.3"/><circle cx="1165.6" cy="962" r="4.3"/><circle cx="1122.2" cy="891.9" r="4.3"/><circle cx="1130.9" cy="882" r="4.3"/><circle cx="1140.4" cy="936.1" r="4.3"/><circle cx="1136.1" cy="1001.2" r="4.3"/><circle cx="1129.1" cy="871.1" r="4.3"/><circle cx="1176.4" cy="932.8" r="4.3"/><circle cx="1171" cy="910.9" r="4.3"/><circle cx="1118.3" cy="928.2" r="4.3"/><circle cx="1124.5" cy="962.9" r="4.3"/><circle cx="1171.2" cy="945.8" r="4.3"/><circle cx="1117.5" cy="917.7" r="4.3"/><circle cx="1152.7" cy="877" r="4.3"/><circle cx="1154" cy="907.4" r="4.3"/><circle cx="1126.2" cy="854.1" r="4.3"/><circle cx="1131.7" cy="917.7" r="4.3"/><circle cx="1108.1" cy="932.3" r="4.3"/><circle cx="1168.2" cy="869.5" r="4.3"/><circle cx="1149.6" cy="908.8" r="4.3"/><circle cx="1138.7" cy="975.9" r="4.3"/><circle cx="1155.2" cy="838.7" r="4.3"/><circle cx="1125" cy="903.1" r="4.3"/><circle cx="1116.3" cy="911.2" r="4.3"/><circle cx="1143" cy="979.8" r="4.3"/><circle cx="1107.6" cy="955.7" r="4.3"/><circle cx="1153" cy="895.9" r="4.3"/><circle cx="1131.2" cy="904.2" r="4.3"/><circle cx="1160" cy="933.3" r="4.3"/><circle cx="1168.7" cy="965.8" r="4.3"/><circle cx="1141.5" cy="849.7" r="4.3"/><circle cx="1133.9" cy="921.3" r="4.3"/><circle cx="1165" cy="990.5" r="4.3"/><circle cx="1177" cy="857" r="4.3"/><circle cx="1110.7" cy="900.7" r="4.3"/><circle cx="1158.1" cy="1006.8" r="4.3"/><circle cx="1164.9" cy="871.7" r="4.3"/><circle cx="1164.5" cy="892.4" r="4.3"/><circle cx="1142.2" cy="846" r="4.3"/><circle cx="1134.1" cy="952.1" r="4.3"/><circle cx="1183.7" cy="934.7" r="4.3"/><circle cx="1163.7" cy="880.4" r="4.3"/><circle cx="1161.9" cy="995.3" r="4.3"/><circle cx="1182.2" cy="913.6" r="4.3"/><circle cx="1146.9" cy="905.9" r="4.3"/><circle cx="1167" cy="999.2" r="4.3"/><circle cx="1137.2" cy="977" r="4.3"/><circle cx="1130.4" cy="900.2" r="4.3"/><circle cx="1162.4" cy="929.1" r="4.3"/><circle cx="1132.1" cy="976.9" r="4.3"/><circle cx="1159.4" cy="991.4" r="4.3"/><circle cx="1117.8" cy="935.9" r="4.3"/><circle cx="1142.3" cy="926.6" r="4.3"/><circle cx="1171.5" cy="974.1" r="4.3"/><circle cx="1138.6" cy="922.9" r="4.3"/><circle cx="1159.1" cy="940.1" r="4.3"/><circle cx="1145.2" cy="1007.5" r="4.3"/><circle cx="1128.5" cy="924.1" r="4.3"/><circle cx="1138.1" cy="992.7" r="4.3"/><circle cx="1179.6" cy="860.9" r="4.3"/><circle cx="1141.3" cy="859.3" r="4.3"/><circle cx="1110.1" cy="944.8" r="4.3"/><circle cx="1184.4" cy="845.4" r="4.3"/><circle cx="1115.7" cy="940.5" r="4.3"/><circle cx="1179.1" cy="897.9" r="4.3"/><circle cx="1144.1" cy="878.7" r="4.3"/><circle cx="1180.5" cy="945.2" r="4.3"/><circle cx="1149.7" cy="969.8" r="4.3"/><circle cx="1109.6" cy="927.5" r="4.3"/><circle cx="1112" cy="924.5" r="4.3"/><circle cx="1188.2" cy="880.6" r="4.3"/><circle cx="1137.8" cy="902.6" r="4.3"/><circle cx="1170.8" cy="968.4" r="4.3"/><circle cx="1186.7" cy="878.4" r="4.3"/><circle cx="1140.7" cy="945.4" r="4.3"/><circle cx="1135.9" cy="972.4" r="4.3"/><circle cx="1139" cy="989.2" r="4.3"/><circle cx="1160.3" cy="931.6" r="4.3"/><circle cx="1132.4" cy="969.8" r="4.3"/><circle cx="1146.1" cy="990.7" r="4.3"/><circle cx="1132" cy="958.3" r="4.3"/><circle cx="1142.6" cy="873.2" r="4.3"/><circle cx="1127.6" cy="857.5" r="4.3"/><circle cx="1141.6" cy="914.5" r="4.3"/><circle cx="1163.9" cy="699.3" r="4.3"/><circle cx="1172.4" cy="706.6" r="4.3"/><circle cx="1165.9" cy="712.9" r="4.3"/><circle cx="1144.5" cy="725.6" r="4.3"/><circle cx="1145.5" cy="736.1" r="4.3"/><circle cx="1153.7" cy="736.1" r="4.3"/><circle cx="1164.9" cy="724.5" r="4.3"/><circle cx="1173.4" cy="731.9" r="4.3"/><circle cx="1169.2" cy="741.9" r="4.3"/><circle cx="1152.1" cy="755.1" r="4.3"/><circle cx="1158.3" cy="755.1" r="4.3"/><circle cx="1164.9" cy="755.1" r="4.3"/><circle cx="1143.9" cy="767.7" r="4.3"/><circle cx="1143.5" cy="774" r="4.3"/><circle cx="1159" cy="767.7" r="4.3"/><circle cx="1181.3" cy="769.8" r="4.3"/><circle cx="1158.6" cy="781.4" r="4.3"/><circle cx="1161.3" cy="783.5" r="4.3"/><circle cx="1166.5" cy="782.4" r="4.3"/><circle cx="1171.1" cy="780.3" r="4.3"/><circle cx="1149.1" cy="786.7" r="4.3"/><circle cx="1142.9" cy="797.2" r="4.3"/><circle cx="1164.2" cy="799.3" r="4.3"/><circle cx="1134" cy="805.6" r="4.3"/><circle cx="1155.4" cy="804.6" r="4.3"/><circle cx="1161.9" cy="806.7" r="4.3"/><circle cx="1175.1" cy="813" r="4.3"/><circle cx="1183.9" cy="820.4" r="4.3"/><circle cx="1192.5" cy="837.2" r="4.3"/><circle cx="1192.5" cy="847.7" r="4.3"/><circle cx="1137.3" cy="818.2" r="4.3"/><circle cx="1147.1" cy="821.4" r="4.3"/><circle cx="1153.7" cy="827.7" r="4.3"/><circle cx="1160.3" cy="824.6" r="4.3"/><circle cx="1166.9" cy="829.8" r="4.3"/><circle cx="1130.7" cy="831.9" r="4.3"/><circle cx="1142.2" cy="834" r="4.3"/><circle cx="1157" cy="841.4" r="4.3"/><circle cx="1171.8" cy="838.3" r="4.3"/><circle cx="1176.7" cy="827.7" r="4.3"/><circle cx="1179" cy="634" r="4.3"/><circle cx="1160.6" cy="687.7" r="4.3"/><circle cx="1182" cy="770.9" r="4.3"/><circle cx="1192.8" cy="837.2" r="4.3"/><circle cx="1192.8" cy="866.7" r="4.3"/><circle cx="1237.2" cy="904.6" r="4.3"/><circle cx="1222.7" cy="909.9" r="4.3"/><circle cx="1212.8" cy="925.7" r="4.3"/><circle cx="1246.4" cy="989.9" r="4.3"/><circle cx="1234.2" cy="1033.1" r="4.3"/><circle cx="1199" cy="987.8" r="4.3"/><circle cx="1186.6" cy="903.5" r="4.3"/><circle cx="1180" cy="909.9" r="4.3"/><circle cx="1186.6" cy="1000.4" r="4.3"/><circle cx="1176.7" cy="980.4" r="4.3"/><circle cx="1140.6" cy="923.5" r="4.3"/></g>
<g fill="#7f7f7f" fill-opacity="0.8"><circle cx="1012.1" cy="1045.8" r="4.2"/><circle cx="1011.1" cy="1039.3" r="4.2"/><circle cx="1000.4" cy="1024.1" r="4.2"/><circle cx="1002.7" cy="1023.5" r="4.2"/><circle cx="1005.2" cy="1042.4" r="4.2"/><circle cx="1000.2" cy="1030.4" r="4.2"/><circle cx="991.6" cy="1001.6" r="4.2"/><circle cx="995" cy="1016.3" r="4.2"/><circle cx="996.7" cy="1017.5" r="4.2"/><circle cx="995.4" cy="1018.1" r="4.2"/><circle cx="985.2" cy="984.6" r="4.2"/><circle cx="986.3" cy="991.1" r="4.2"/><circle cx="988.7" cy="989.3" r="4.2"/><circle cx="991.9" cy="996.6" r="4.2"/><circle cx="983.8" cy="978.9" r="4.2"/><circle cx="983.2" cy="963.3" r="4.2"/><circle cx="984.1" cy="980.6" r="4.2"/><circle cx="985.9" cy="976.9" r="4.2"/><circle cx="978.3" cy="960" r="4.2"/><circle cx="975.6" cy="949.1" r="4.2"/><circle cx="979.8" cy="959.6" r="4.2"/><circle cx="982" cy="961.6" r="4.2"/><circle cx="972.9" cy="949.3" r="4.2"/><circle cx="973.4" cy="950.1" r="4.2"/><circle cx="969.7" cy="946.8" r="4.2"/><circle cx="974.8" cy="952.4" r="4.2"/><circle cx="961.6" cy="946.3" r="4.2"/><circle cx="958.7" cy="951" r="4.2"/><circle cx="964.2" cy="951.9" r="4.2"/><circle cx="960.5" cy="949.5" r="4.2"/><circle cx="952.4" cy="957.8" r="4.2"/><circle cx="959.2" cy="951.8" r="4.2"/><circle cx="957.5" cy="953.8" r="4.2"/><circle cx="955.9" cy="948.2" r="4.2"/><circle cx="947.9" cy="967.4" r="4.2"/><circle cx="949.3" cy="962.3" r="4.2"/><circle cx="950.1" cy="960.6" r="4.2"/><circle cx="952.4" cy="959" r="4.2"/><circle cx="943.9" cy="985.6" r="4.2"/><circle cx="945.7" cy="978.5" r="4.2"/><circle cx="942.9" cy="993.7" r="4.2"/><circle cx="940.9" cy="992" r="4.2"/><circle cx="935.8" cy="1020.8" r="4.2"/><circle cx="943.4" cy="1000.2" r="4.2"/><circle cx="940.1" cy="1008" r="4.2"/><circle cx="942.6" cy="996.4" r="4.2"/><circle cx="933.7" cy="1028.3" r="4.2"/><circle cx="935.9" cy="1027.9" r="4.2"/><circle cx="935.6" cy="1022" r="4.2"/><circle cx="936.3" cy="1021.6" r="4.2"/><circle cx="927.7" cy="1031.5" r="4.2"/><circle cx="924.4" cy="1036.2" r="4.2"/><circle cx="930" cy="1036.3" r="4.2"/><circle cx="925.4" cy="1035.1" r="4.2"/><circle cx="918.2" cy="1046.5" r="4.2"/><circle cx="918.3" cy="1045.1" r="4.2"/><circle cx="919.9" cy="1038.4" r="4.2"/><circle cx="917.3" cy="1047.2" r="4.2"/><circle cx="928.7" cy="1058.8" r="4.2"/><circle cx="927.2" cy="1054.2" r="4.2"/><circle cx="928.4" cy="1052.5" r="4.2"/><circle cx="919.4" cy="1051" r="4.2"/><circle cx="937.5" cy="1059.2" r="4.2"/><circle cx="931.9" cy="1056.7" r="4.2"/><circle cx="953.8" cy="1058.7" r="4.2"/><circle cx="934.4" cy="1060.4" r="4.2"/><circle cx="969.8" cy="1065.9" r="4.2"/><circle cx="987.6" cy="1065.1" r="4.2"/><circle cx="980.7" cy="1061.4" r="4.2"/><circle cx="962.7" cy="1060" r="4.2"/><circle cx="994.7" cy="1068" r="4.2"/><circle cx="1016.7" cy="1065.2" r="4.2"/><circle cx="1017.9" cy="1067" r="4.2"/><circle cx="1007.9" cy="1065.4" r="4.2"/><circle cx="1024.7" cy="1065.9" r="4.2"/><circle cx="1024.1" cy="1063.7" r="4.2"/><circle cx="1040.6" cy="1048.4" r="4.2"/><circle cx="1042.3" cy="1046" r="4.2"/><circle cx="1052.4" cy="1029.9" r="4.2"/><circle cx="1051.1" cy="1027.6" r="4.2"/><circle cx="1052.4" cy="1021.2" r="4.2"/><circle cx="1054.7" cy="1021.8" r="4.2"/><circle cx="1069.2" cy="998.9" r="4.2"/><circle cx="1057.3" cy="1016.1" r="4.2"/><circle cx="1062.1" cy="1010.9" r="4.2"/><circle cx="1059.7" cy="1014.7" r="4.2"/><circle cx="1077.5" cy="989.5" r="4.2"/><circle cx="1082.1" cy="972.3" r="4.2"/><circle cx="1082.9" cy="975.4" r="4.2"/><circle cx="1084.3" cy="974.6" r="4.2"/><circle cx="1083.5" cy="971.3" r="4.2"/><circle cx="1085.7" cy="956.3" r="4.2"/><circle cx="1090.4" cy="955" r="4.2"/><circle cx="1081.8" cy="969.6" r="4.2"/><circle cx="1098.3" cy="944.9" r="4.2"/><circle cx="1088.8" cy="952.4" r="4.2"/><circle cx="1098.7" cy="942.3" r="4.2"/><circle cx="1087.7" cy="955.3" r="4.2"/><circle cx="1103.2" cy="942.7" r="4.2"/><circle cx="1108.3" cy="936.8" r="4.2"/><circle cx="1112.6" cy="936.3" r="4.2"/><circle cx="1103.7" cy="943.8" r="4.2"/><circle cx="1124" cy="926.6" r="4.2"/><circle cx="1120.9" cy="932.1" r="4.2"/><circle cx="1114.6" cy="932.6" r="4.2"/><circle cx="1118.1" cy="930" r="4.2"/><circle cx="1130.7" cy="931.7" r="4.2"/><circle cx="1127.6" cy="926.7" r="4.2"/><circle cx="1136.9" cy="930.2" r="4.2"/><circle cx="1137.6" cy="934.3" r="4.2"/><circle cx="1154.2" cy="951.7" r="4.2"/><circle cx="1152" cy="948.2" r="4.2"/><circle cx="1141.1" cy="933.8" r="4.2"/><circle cx="1149.6" cy="948.2" r="4.2"/><circle cx="1163.1" cy="977.3" r="4.2"/><circle cx="1165.7" cy="984" r="4.2"/><circle cx="1157.7" cy="958.2" r="4.2"/><circle cx="1163.8" cy="984.6" r="4.2"/><circle cx="1169.3" cy="990.8" r="4.2"/><circle cx="1181.8" cy="1018" r="4.2"/><circle cx="1179.3" cy="1008.5" r="4.2"/><circle cx="1178" cy="1007.9" r="4.2"/><circle cx="1192.1" cy="1033.4" r="4.2"/><circle cx="1190.4" cy="1034.2" r="4.2"/><circle cx="1187.1" cy="1030.5" r="4.2"/><circle cx="1182.6" cy="1020.5" r="4.2"/><circle cx="1200.6" cy="1044.5" r="4.2"/><circle cx="1197.7" cy="1047.8" r="4.2"/><circle cx="1194.2" cy="1037.5" r="4.2"/><circle cx="1195.8" cy="1045.3" r="4.2"/><circle cx="1186.2" cy="1052.3" r="4.2"/><circle cx="1193.6" cy="1054" r="4.2"/><circle cx="1191.7" cy="1052.8" r="4.2"/><circle cx="1195" cy="1053.4" r="4.2"/><circle cx="1166" cy="1055.2" r="4.2"/><circle cx="1170.7" cy="1059.3" r="4.2"/><circle cx="1162" cy="1057.7" r="4.2"/><circle cx="1172.5" cy="1058.8" r="4.2"/><circle cx="1110.3" cy="1062.3" r="4.2"/><circle cx="1129.6" cy="1058.6" r="4.2"/><circle cx="1124.7" cy="1062.7" r="4.2"/><circle cx="1131.5" cy="1058.1" r="4.2"/><circle cx="1063.3" cy="1064.2" r="4.2"/><circle cx="1061" cy="1062.9" r="4.2"/><circle cx="1083.4" cy="1062" r="4.2"/><circle cx="1087" cy="1063.3" r="4.2"/><circle cx="1044" cy="1069.7" r="4.2"/><circle cx="1050" cy="1068.1" r="4.2"/><circle cx="1051.2" cy="1069.6" r="4.2"/><circle cx="1049.8" cy="1069.4" r="4.2"/><circle cx="1025.1" cy="1065.9" r="4.2"/><circle cx="1026" cy="1070.7" r="4.2"/></g>
</g>
<rect x="849" y="611.5" width="532.2" height="474" fill="none" stroke="#333" stroke-width="3"/>
<line x1="841" y1="1065.7" x2="847.5" y2="1065.7" stroke="#333" stroke-width="2.2"/>
<text x="839.5" y="1074.5" font-size="25" text-anchor="end">0</text>
<line x1="841" y1="960.4" x2="847.5" y2="960.4" stroke="#333" stroke-width="2.2"/>
<text x="839.5" y="969.2" font-size="25" text-anchor="end">10</text>
<line x1="841" y1="855.1" x2="847.5" y2="855.1" stroke="#333" stroke-width="2.2"/>
<text x="839.5" y="863.9" font-size="25" text-anchor="end">20</text>
<line x1="841" y1="749.8" x2="847.5" y2="749.8" stroke="#333" stroke-width="2.2"/>
<text x="839.5" y="758.6" font-size="25" text-anchor="end">30</text>
<line x1="841" y1="644.5" x2="847.5" y2="644.5" stroke="#333" stroke-width="2.2"/>
<text x="839.5" y="653.3" font-size="25" text-anchor="end">40</text>
<line x1="861.3" y1="1087" x2="861.3" y2="1092" stroke="#333" stroke-width="2.2"/>
<text x="862.8" y="1114" font-size="25" text-anchor="middle">−5</text>
<line x1="1025.6" y1="1087" x2="1025.6" y2="1092" stroke="#333" stroke-width="2.2"/>
<text x="1027.1" y="1114" font-size="25" text-anchor="middle">0</text>
<line x1="1189.8" y1="1087" x2="1189.8" y2="1092" stroke="#333" stroke-width="2.2"/>
<text x="1191.3" y="1114" font-size="25" text-anchor="middle">5</text>
<line x1="1354.1" y1="1087" x2="1354.1" y2="1092" stroke="#333" stroke-width="2.2"/>
<text x="1355.6" y="1114" font-size="25" text-anchor="middle">10</text>
<text x="1123.5" y="1141.1" font-size="34.6" text-anchor="middle">Log<tspan font-size="25" dy="8">2</tspan><tspan dy="-8"> Fold Change</tspan></text>
<text transform="translate(796.5,856.9) rotate(-90)" font-size="34.6" text-anchor="middle">−log<tspan font-size="25" dy="8.7">10</tspan><tspan dy="-8.7">(p−value)</tspan></text>
<circle cx="880.3" cy="627.5" r="9" fill="#F2705A"/>
<circle cx="880.3" cy="657.4" r="9" fill="#8FCB77"/>
<text x="892" y="637.6" font-size="25.5">Astrocyte genes</text>
<text x="892" y="666.6" font-size="25.5">Neuronal genes</text>
<text x="765.8" y="586.6" font-size="39.5" font-weight="bold">D</text>
<rect x="1412" y="612.3" width="544" height="472.5" fill="#fff"/>
<line x1="1546.8" y1="612.3" x2="1546.8" y2="1084.8" stroke="#EBEBEB" stroke-width="0.9"/>
<line x1="1737.8" y1="612.3" x2="1737.8" y2="1084.8" stroke="#EBEBEB" stroke-width="0.9"/>
<line x1="1928.8" y1="612.3" x2="1928.8" y2="1084.8" stroke="#EBEBEB" stroke-width="0.9"/>
<line x1="1412" y1="1005.2" x2="1956" y2="1005.2" stroke="#EBEBEB" stroke-width="0.9"/>
<line x1="1412" y1="888.3" x2="1956" y2="888.3" stroke="#EBEBEB" stroke-width="0.9"/>
<line x1="1412" y1="771.5" x2="1956" y2="771.5" stroke="#EBEBEB" stroke-width="0.9"/>
<line x1="1412" y1="654.6" x2="1956" y2="654.6" stroke="#EBEBEB" stroke-width="0.9"/>
<line x1="1451.3" y1="612.3" x2="1451.3" y2="1084.8" stroke="#EBEBEB" stroke-width="1.8"/>
<line x1="1642.3" y1="612.3" x2="1642.3" y2="1084.8" stroke="#EBEBEB" stroke-width="1.8"/>
<line x1="1833.3" y1="612.3" x2="1833.3" y2="1084.8" stroke="#EBEBEB" stroke-width="1.8"/>
<line x1="1412" y1="1063.6" x2="1956" y2="1063.6" stroke="#EBEBEB" stroke-width="1.8"/>
<line x1="1412" y1="946.7" x2="1956" y2="946.7" stroke="#EBEBEB" stroke-width="1.8"/>
<line x1="1412" y1="829.9" x2="1956" y2="829.9" stroke="#EBEBEB" stroke-width="1.8"/>
<line x1="1412" y1="713" x2="1956" y2="713" stroke="#EBEBEB" stroke-width="1.8"/>
<clipPath id="clipE"><rect x="1412" y="612.3" width="544" height="472.5"/></clipPath>
<g clip-path="url(#clipE)">
<path d="M1642.3,1055 L1638.5,1046.1 L1627.8,1013.4 L1585.8,1011.4 L1551,1014.9 L1530.4,1013.4 L1519.7,1023.5 L1544.1,1034 L1561.3,1041 L1578.9,1048 L1613.6,1061.7 L1642.3,1068.7 L1666,1063.6 L1700.7,1051.5 L1735.5,1034 L1745.4,1018.4 L1738.9,1011.4 L1655.7,1013.4 L1646.1,1046.1 Z" fill="#7f7f7f"/>
<g fill="#7f7f7f" fill-opacity="0.8"><circle cx="1521.6" cy="1024" r="4.2"/><circle cx="1520.3" cy="1022.5" r="4.2"/><circle cx="1530.2" cy="1014.8" r="4.2"/><circle cx="1521.8" cy="1023.8" r="4.2"/><circle cx="1525" cy="1018.1" r="4.2"/><circle cx="1520.4" cy="1023.8" r="4.2"/><circle cx="1520.6" cy="1024" r="4.2"/><circle cx="1528.7" cy="1026.8" r="4.2"/><circle cx="1527.3" cy="1026.2" r="4.2"/><circle cx="1523.2" cy="1025.6" r="4.2"/><circle cx="1558.6" cy="1040.8" r="4.2"/><circle cx="1557.1" cy="1039.3" r="4.2"/><circle cx="1542.2" cy="1035.1" r="4.2"/><circle cx="1559.2" cy="1039.9" r="4.2"/><circle cx="1562.1" cy="1041" r="4.2"/><circle cx="1567.7" cy="1042.6" r="4.2"/><circle cx="1564.4" cy="1040.8" r="4.2"/><circle cx="1574.3" cy="1045.6" r="4.2"/><circle cx="1562.2" cy="1041.3" r="4.2"/><circle cx="1576.7" cy="1046.1" r="4.2"/><circle cx="1597" cy="1056" r="4.2"/><circle cx="1583.1" cy="1051.5" r="4.2"/><circle cx="1605.1" cy="1058.5" r="4.2"/><circle cx="1582.8" cy="1048.6" r="4.2"/><circle cx="1591.8" cy="1053.3" r="4.2"/><circle cx="1637.1" cy="1067.7" r="4.2"/><circle cx="1617.2" cy="1063.5" r="4.2"/><circle cx="1629.3" cy="1066.3" r="4.2"/><circle cx="1636.7" cy="1066.4" r="4.2"/><circle cx="1634.4" cy="1067.4" r="4.2"/><circle cx="1647.4" cy="1068.5" r="4.2"/><circle cx="1655.3" cy="1065.3" r="4.2"/><circle cx="1665.2" cy="1063.8" r="4.2"/><circle cx="1659.5" cy="1065.6" r="4.2"/><circle cx="1650.2" cy="1067" r="4.2"/><circle cx="1702.5" cy="1051.3" r="4.2"/><circle cx="1682.6" cy="1058.9" r="4.2"/><circle cx="1676.7" cy="1059.2" r="4.2"/><circle cx="1679.9" cy="1058.4" r="4.2"/><circle cx="1690.9" cy="1054.4" r="4.2"/><circle cx="1714.3" cy="1045.8" r="4.2"/><circle cx="1718.9" cy="1042.4" r="4.2"/><circle cx="1713" cy="1045.9" r="4.2"/><circle cx="1718.7" cy="1041.2" r="4.2"/><circle cx="1710.2" cy="1047.2" r="4.2"/><circle cx="1744.3" cy="1020.3" r="4.2"/><circle cx="1739.6" cy="1027.8" r="4.2"/><circle cx="1743" cy="1020" r="4.2"/><circle cx="1745" cy="1019" r="4.2"/><circle cx="1745.1" cy="1019" r="4.2"/><circle cx="1745.9" cy="1015.9" r="4.2"/><circle cx="1743.2" cy="1014.4" r="4.2"/><circle cx="1739.2" cy="1012.4" r="4.2"/><circle cx="1742.4" cy="1014.6" r="4.2"/><circle cx="1742.6" cy="1013.6" r="4.2"/><circle cx="1504.8" cy="1016.9" r="4.2"/><circle cx="1520.1" cy="1020.8" r="4.2"/><circle cx="1525.8" cy="1026.6" r="4.2"/><circle cx="1539.2" cy="1034.4" r="4.2"/><circle cx="1543" cy="1037.5" r="4.2"/><circle cx="1751.2" cy="1018.8" r="4.2"/><circle cx="1749.3" cy="1026.6" r="4.2"/><circle cx="1747.3" cy="1028.5" r="4.2"/><circle cx="1531.5" cy="1013" r="4.2"/><circle cx="1558.3" cy="1013.7" r="4.2"/></g>
<g fill="#f7a11a" fill-opacity="0.8"><circle cx="1669.6" cy="970.5" r="4.3"/><circle cx="1710" cy="1001.9" r="4.3"/><circle cx="1738.9" cy="965" r="4.3"/><circle cx="1719.2" cy="995.3" r="4.3"/><circle cx="1790.1" cy="966.6" r="4.3"/><circle cx="1728" cy="990.7" r="4.3"/><circle cx="1770.7" cy="993.8" r="4.3"/><circle cx="1661" cy="993.3" r="4.3"/><circle cx="1757.8" cy="979.2" r="4.3"/><circle cx="1728.9" cy="987.2" r="4.3"/><circle cx="1741.8" cy="949.7" r="4.3"/><circle cx="1772.1" cy="961.3" r="4.3"/><circle cx="1760.4" cy="1002.5" r="4.3"/><circle cx="1662.1" cy="1004.5" r="4.3"/><circle cx="1666.3" cy="1008.5" r="4.3"/><circle cx="1694.4" cy="970" r="4.3"/><circle cx="1766.1" cy="972.7" r="4.3"/><circle cx="1669.1" cy="1003.2" r="4.3"/><circle cx="1755.8" cy="995.6" r="4.3"/><circle cx="1707.8" cy="994.7" r="4.3"/><circle cx="1745.9" cy="985.8" r="4.3"/><circle cx="1669.9" cy="1010.4" r="4.3"/><circle cx="1726.4" cy="953.7" r="4.3"/><circle cx="1718.7" cy="976.7" r="4.3"/><circle cx="1678.4" cy="1000.6" r="4.3"/><circle cx="1678" cy="993.2" r="4.3"/><circle cx="1679.4" cy="990.6" r="4.3"/><circle cx="1762.9" cy="1000.2" r="4.3"/><circle cx="1659.3" cy="995" r="4.3"/><circle cx="1709.2" cy="988.7" r="4.3"/><circle cx="1656.6" cy="1008.2" r="4.3"/><circle cx="1716" cy="1009.5" r="4.3"/><circle cx="1707.1" cy="1005.7" r="4.3"/><circle cx="1663.6" cy="994" r="4.3"/><circle cx="1714.1" cy="1008.3" r="4.3"/><circle cx="1715.6" cy="989.1" r="4.3"/><circle cx="1682.1" cy="973.3" r="4.3"/><circle cx="1733.8" cy="1006.4" r="4.3"/><circle cx="1688.6" cy="1004" r="4.3"/><circle cx="1776.2" cy="988.6" r="4.3"/><circle cx="1667.7" cy="993.9" r="4.3"/><circle cx="1718.7" cy="968" r="4.3"/><circle cx="1662.7" cy="997.4" r="4.3"/><circle cx="1710.6" cy="1005.3" r="4.3"/><circle cx="1711.9" cy="1002.8" r="4.3"/><circle cx="1737.6" cy="1010.8" r="4.3"/><circle cx="1689.7" cy="979.6" r="4.3"/><circle cx="1704.3" cy="1012" r="4.3"/><circle cx="1777.3" cy="956.3" r="4.3"/><circle cx="1772.6" cy="1003.8" r="4.3"/><circle cx="1687.4" cy="991.4" r="4.3"/><circle cx="1691.2" cy="985.6" r="4.3"/><circle cx="1727.8" cy="1010" r="4.3"/><circle cx="1742" cy="998.6" r="4.3"/><circle cx="1702.3" cy="1010.9" r="4.3"/><circle cx="1755.6" cy="972.3" r="4.3"/><circle cx="1667.1" cy="1006.2" r="4.3"/><circle cx="1696.1" cy="957.2" r="4.3"/><circle cx="1764.3" cy="965.4" r="4.3"/><circle cx="1713.5" cy="1012.7" r="4.3"/><circle cx="1786.1" cy="996.4" r="4.3"/><circle cx="1688.7" cy="1008.1" r="4.3"/><circle cx="1683.2" cy="1010.6" r="4.3"/><circle cx="1738.4" cy="966" r="4.3"/><circle cx="1757.2" cy="956.2" r="4.3"/><circle cx="1670.5" cy="997.9" r="4.3"/><circle cx="1669.3" cy="1001.1" r="4.3"/><circle cx="1670.8" cy="1007.9" r="4.3"/><circle cx="1764.9" cy="1006.4" r="4.3"/><circle cx="1735.6" cy="983.7" r="4.3"/><circle cx="1672.9" cy="975.6" r="4.3"/><circle cx="1771.7" cy="968.1" r="4.3"/><circle cx="1732" cy="1009" r="4.3"/><circle cx="1690.6" cy="961.1" r="4.3"/><circle cx="1695.5" cy="1005.5" r="4.3"/><circle cx="1708.8" cy="1011.7" r="4.3"/><circle cx="1720.8" cy="976.2" r="4.3"/><circle cx="1756.7" cy="973.4" r="4.3"/><circle cx="1749.2" cy="1010.2" r="4.3"/><circle cx="1717.6" cy="991.9" r="4.3"/><circle cx="1697.8" cy="961" r="4.3"/><circle cx="1680.6" cy="977.3" r="4.3"/><circle cx="1785.9" cy="997.7" r="4.3"/><circle cx="1743.8" cy="1002.3" r="4.3"/><circle cx="1660.2" cy="998.6" r="4.3"/><circle cx="1769.7" cy="1001.1" r="4.3"/><circle cx="1668.9" cy="1004.3" r="4.3"/><circle cx="1691.1" cy="968.7" r="4.3"/><circle cx="1735.9" cy="956" r="4.3"/><circle cx="1726.4" cy="958" r="4.3"/><circle cx="1745.5" cy="951.2" r="4.3"/><circle cx="1729.3" cy="1010" r="4.3"/><circle cx="1706.5" cy="1011.3" r="4.3"/><circle cx="1801" cy="989.5" r="4.3"/><circle cx="1676" cy="985.6" r="4.3"/><circle cx="1738.9" cy="996.8" r="4.3"/><circle cx="1664.5" cy="1006.1" r="4.3"/><circle cx="1675.9" cy="1008.9" r="4.3"/><circle cx="1738.2" cy="1012.2" r="4.3"/><circle cx="1745.6" cy="965.3" r="4.3"/><circle cx="1669.3" cy="1007.8" r="4.3"/><circle cx="1693.7" cy="989.7" r="4.3"/><circle cx="1724.1" cy="1000.9" r="4.3"/><circle cx="1685.9" cy="1006.1" r="4.3"/><circle cx="1751.4" cy="999.3" r="4.3"/><circle cx="1698.9" cy="1004.6" r="4.3"/><circle cx="1768.9" cy="986.8" r="4.3"/><circle cx="1694" cy="981.2" r="4.3"/><circle cx="1669.8" cy="1007.9" r="4.3"/><circle cx="1716" cy="945.2" r="4.3"/><circle cx="1730.1" cy="1004.8" r="4.3"/><circle cx="1688.9" cy="1010.9" r="4.3"/><circle cx="1698.3" cy="1004.6" r="4.3"/><circle cx="1672.6" cy="971.1" r="4.3"/><circle cx="1798.8" cy="979.6" r="4.3"/><circle cx="1774.9" cy="971.8" r="4.3"/><circle cx="1740.1" cy="974" r="4.3"/><circle cx="1765.1" cy="993" r="4.3"/><circle cx="1767.2" cy="965.8" r="4.3"/><circle cx="1675.3" cy="999.9" r="4.3"/><circle cx="1671.1" cy="967.8" r="4.3"/><circle cx="1675.2" cy="980.2" r="4.3"/><circle cx="1772.7" cy="1000.6" r="4.3"/><circle cx="1769.1" cy="947.8" r="4.3"/><circle cx="1734.4" cy="975.7" r="4.3"/><circle cx="1689.4" cy="991.6" r="4.3"/><circle cx="1729.8" cy="979.1" r="4.3"/><circle cx="1677.4" cy="1008.5" r="4.3"/><circle cx="1768.3" cy="1004.7" r="4.3"/><circle cx="1665.4" cy="986.5" r="4.3"/><circle cx="1710" cy="1006" r="4.3"/><circle cx="1787.2" cy="959.3" r="4.3"/><circle cx="1683.7" cy="987.5" r="4.3"/><circle cx="1709" cy="1001.8" r="4.3"/><circle cx="1656.7" cy="1001.4" r="4.3"/><circle cx="1671.1" cy="1012.5" r="4.3"/><circle cx="1667.4" cy="1001.2" r="4.3"/><circle cx="1745.1" cy="971.1" r="4.3"/><circle cx="1666.1" cy="971.1" r="4.3"/><circle cx="1753.5" cy="966.7" r="4.3"/><circle cx="1763.1" cy="981.2" r="4.3"/><circle cx="1701.2" cy="960.2" r="4.3"/><circle cx="1732" cy="1006.5" r="4.3"/><circle cx="1790.4" cy="963.4" r="4.3"/><circle cx="1677.9" cy="991.3" r="4.3"/><circle cx="1691.5" cy="990.4" r="4.3"/><circle cx="1698.6" cy="1005.5" r="4.3"/><circle cx="1783.9" cy="1008.4" r="4.3"/><circle cx="1718.4" cy="1002.7" r="4.3"/><circle cx="1784.9" cy="989.1" r="4.3"/><circle cx="1744.4" cy="967" r="4.3"/><circle cx="1721.3" cy="955.8" r="4.3"/><circle cx="1697.5" cy="961.8" r="4.3"/><circle cx="1722.8" cy="1000.4" r="4.3"/><circle cx="1681.8" cy="976" r="4.3"/><circle cx="1696.5" cy="999.5" r="4.3"/><circle cx="1792.7" cy="981.6" r="4.3"/><circle cx="1722.5" cy="990.7" r="4.3"/><circle cx="1776" cy="961.6" r="4.3"/><circle cx="1695.9" cy="972" r="4.3"/><circle cx="1771.6" cy="995.7" r="4.3"/><circle cx="1660.4" cy="1003.5" r="4.3"/><circle cx="1800.4" cy="988.7" r="4.3"/><circle cx="1770.8" cy="993.1" r="4.3"/><circle cx="1695.4" cy="1007.9" r="4.3"/><circle cx="1761.5" cy="974.7" r="4.3"/><circle cx="1740" cy="991" r="4.3"/><circle cx="1693.9" cy="977.3" r="4.3"/><circle cx="1667.5" cy="993.7" r="4.3"/><circle cx="1699.1" cy="1001.3" r="4.3"/><circle cx="1683.2" cy="896.1" r="4.3"/><circle cx="1699.6" cy="880.5" r="4.3"/><circle cx="1730.9" cy="841.6" r="4.3"/><circle cx="1674.8" cy="915.6" r="4.3"/><circle cx="1678.6" cy="915.6" r="4.3"/><circle cx="1688.1" cy="923.4" r="4.3"/><circle cx="1686.2" cy="933.1" r="4.3"/><circle cx="1932.6" cy="884.4" r="4.3"/><circle cx="1875.3" cy="903.9" r="4.3"/><circle cx="1862" cy="915.6" r="4.3"/><circle cx="1869.6" cy="939" r="4.3"/><circle cx="1814.2" cy="977.9" r="4.3"/><circle cx="1785.5" cy="919.5" r="4.3"/><circle cx="1783.6" cy="946.7" r="4.3"/><circle cx="1747.3" cy="919.5" r="4.3"/><circle cx="1724.4" cy="935.1" r="4.3"/><circle cx="1720.6" cy="942.9" r="4.3"/><circle cx="1766.5" cy="946.7" r="4.3"/><circle cx="1714.9" cy="948.7" r="4.3"/></g>
<g fill="#3347aa" fill-opacity="0.8"><circle cx="1542.6" cy="1003.2" r="4.3"/><circle cx="1516.1" cy="1004.2" r="4.3"/><circle cx="1548.5" cy="987.9" r="4.3"/><circle cx="1520" cy="981.7" r="4.3"/><circle cx="1507.9" cy="987.6" r="4.3"/><circle cx="1535.3" cy="975.6" r="4.3"/><circle cx="1545.9" cy="983.4" r="4.3"/><circle cx="1504.9" cy="1005" r="4.3"/><circle cx="1533.7" cy="989.6" r="4.3"/><circle cx="1524.9" cy="992.6" r="4.3"/><circle cx="1537.9" cy="977" r="4.3"/><circle cx="1521.6" cy="989" r="4.3"/><circle cx="1544.2" cy="984.9" r="4.3"/><circle cx="1522.3" cy="1001" r="4.3"/><circle cx="1534.1" cy="987.2" r="4.3"/><circle cx="1547.1" cy="1007.2" r="4.3"/><circle cx="1532.3" cy="989" r="4.3"/><circle cx="1513.6" cy="1008.6" r="4.3"/><circle cx="1568.2" cy="1012.1" r="4.3"/><circle cx="1536.2" cy="1000.3" r="4.3"/><circle cx="1501.4" cy="1001.4" r="4.3"/><circle cx="1511.1" cy="995.8" r="4.3"/><circle cx="1566.8" cy="1009.6" r="4.3"/><circle cx="1525.2" cy="983.2" r="4.3"/><circle cx="1545.6" cy="1012.1" r="4.3"/><circle cx="1516.1" cy="1000.9" r="4.3"/><circle cx="1565.7" cy="994" r="4.3"/><circle cx="1518.2" cy="992.4" r="4.3"/><circle cx="1535.2" cy="1006.6" r="4.3"/><circle cx="1548.7" cy="982.1" r="4.3"/><circle cx="1534.6" cy="989.9" r="4.3"/><circle cx="1544.7" cy="1011.1" r="4.3"/><circle cx="1536.7" cy="984.6" r="4.3"/><circle cx="1523.7" cy="983.6" r="4.3"/><circle cx="1526.4" cy="986.6" r="4.3"/><circle cx="1544.8" cy="984.3" r="4.3"/><circle cx="1551.9" cy="982.8" r="4.3"/><circle cx="1516.2" cy="986.7" r="4.3"/><circle cx="1545.3" cy="1010.4" r="4.3"/><circle cx="1555.2" cy="1003.2" r="4.3"/><circle cx="1535.7" cy="990.5" r="4.3"/><circle cx="1532" cy="988.7" r="4.3"/><circle cx="1547.6" cy="989.8" r="4.3"/><circle cx="1510" cy="992.1" r="4.3"/><circle cx="1544.9" cy="983" r="4.3"/><circle cx="1560.8" cy="1010.2" r="4.3"/><circle cx="1530.8" cy="973.8" r="4.3"/><circle cx="1523.9" cy="980" r="4.3"/><circle cx="1538.7" cy="984.4" r="4.3"/><circle cx="1535.8" cy="991.8" r="4.3"/><circle cx="1548" cy="988.9" r="4.3"/><circle cx="1522.8" cy="991.6" r="4.3"/><circle cx="1502.2" cy="1004.8" r="4.3"/><circle cx="1568.2" cy="1001.1" r="4.3"/><circle cx="1521.3" cy="978.2" r="4.3"/><circle cx="1606" cy="992.5" r="4.3"/><circle cx="1601.5" cy="1013" r="4.3"/><circle cx="1592.9" cy="993.4" r="4.3"/><circle cx="1596.9" cy="994.7" r="4.3"/><circle cx="1606.1" cy="1005.6" r="4.3"/><circle cx="1597.7" cy="1004" r="4.3"/><circle cx="1603.9" cy="1012.8" r="4.3"/><circle cx="1609.1" cy="994" r="4.3"/><circle cx="1604" cy="980.5" r="4.3"/><circle cx="1606" cy="993.8" r="4.3"/><circle cx="1596.7" cy="986.6" r="4.3"/><circle cx="1611.8" cy="980.3" r="4.3"/><circle cx="1613.9" cy="980.5" r="4.3"/><circle cx="1592.8" cy="1011.1" r="4.3"/><circle cx="1603.2" cy="1012.3" r="4.3"/><circle cx="1600.4" cy="998.4" r="4.3"/><circle cx="1606.7" cy="999.9" r="4.3"/><circle cx="1606.3" cy="1008.7" r="4.3"/><circle cx="1598.6" cy="968.5" r="4.3"/><circle cx="1613.6" cy="1009.8" r="4.3"/><circle cx="1595.3" cy="998.4" r="4.3"/><circle cx="1607.8" cy="1001.7" r="4.3"/><circle cx="1606.6" cy="964.1" r="4.3"/><circle cx="1606.3" cy="957.7" r="4.3"/><circle cx="1589.9" cy="995.5" r="4.3"/><circle cx="1600.8" cy="1002.3" r="4.3"/><circle cx="1607.6" cy="989.7" r="4.3"/><circle cx="1590.7" cy="1000.7" r="4.3"/><circle cx="1617.1" cy="974.7" r="4.3"/><circle cx="1615.9" cy="986.3" r="4.3"/><circle cx="1595.7" cy="1005.9" r="4.3"/><circle cx="1600.9" cy="987.3" r="4.3"/><circle cx="1618.2" cy="982.3" r="4.3"/><circle cx="1601.3" cy="994.4" r="4.3"/><circle cx="1611.3" cy="981.6" r="4.3"/><circle cx="1615.5" cy="1000.9" r="4.3"/><circle cx="1593.2" cy="1011.7" r="4.3"/><circle cx="1600.1" cy="997.1" r="4.3"/><circle cx="1601.3" cy="985.8" r="4.3"/><circle cx="1612.7" cy="995.1" r="4.3"/><circle cx="1611.4" cy="968.7" r="4.3"/><circle cx="1620.3" cy="995.1" r="4.3"/><circle cx="1616.5" cy="992.9" r="4.3"/><circle cx="1613.3" cy="983.6" r="4.3"/><circle cx="1613.2" cy="996.6" r="4.3"/><circle cx="1603.8" cy="983.6" r="4.3"/><circle cx="1617.4" cy="977.1" r="4.3"/><circle cx="1616.9" cy="978.9" r="4.3"/><circle cx="1604.1" cy="903.9" r="4.3"/><circle cx="1604.1" cy="919.5" r="4.3"/><circle cx="1436" cy="939" r="4.3"/><circle cx="1470.4" cy="974" r="4.3"/><circle cx="1470.4" cy="977.9" r="4.3"/><circle cx="1485.7" cy="974" r="4.3"/><circle cx="1485.7" cy="977.9" r="4.3"/><circle cx="1512.4" cy="960.4" r="4.3"/><circle cx="1510.5" cy="968.2" r="4.3"/><circle cx="1609.8" cy="942.9" r="4.3"/><circle cx="1611.7" cy="956.5" r="4.3"/><circle cx="1592.6" cy="968.2" r="4.3"/><circle cx="1596.5" cy="985.7" r="4.3"/><circle cx="1550.6" cy="981.8" r="4.3"/><circle cx="1493.3" cy="985.7" r="4.3"/><circle cx="1489.5" cy="989.6" r="4.3"/><circle cx="1516.2" cy="977.9" r="4.3"/></g>
<g fill="#f7a11a" fill-opacity="0.8"><circle cx="1690" cy="820.2" r="3.6"/><circle cx="1776" cy="796.8" r="3.6"/><circle cx="1789.4" cy="631.3" r="3.6"/></g>
</g>
<rect x="1412" y="612.3" width="544" height="472.5" fill="none" stroke="#333" stroke-width="3"/>
<line x1="1404" y1="1063.6" x2="1410.5" y2="1063.6" stroke="#333" stroke-width="2.2"/>
<text x="1402.5" y="1072.4" font-size="25" text-anchor="end">0</text>
<line x1="1404" y1="946.7" x2="1410.5" y2="946.7" stroke="#333" stroke-width="2.2"/>
<text x="1402.5" y="955.5" font-size="25" text-anchor="end">3</text>
<line x1="1404" y1="829.9" x2="1410.5" y2="829.9" stroke="#333" stroke-width="2.2"/>
<text x="1402.5" y="838.7" font-size="25" text-anchor="end">6</text>
<line x1="1404" y1="713" x2="1410.5" y2="713" stroke="#333" stroke-width="2.2"/>
<text x="1402.5" y="721.8" font-size="25" text-anchor="end">9</text>
<line x1="1451.3" y1="1086.3" x2="1451.3" y2="1091.3" stroke="#333" stroke-width="2.2"/>
<text x="1452.8" y="1114" font-size="25" text-anchor="middle">−5</text>
<line x1="1642.3" y1="1086.3" x2="1642.3" y2="1091.3" stroke="#333" stroke-width="2.2"/>
<text x="1643.8" y="1114" font-size="25" text-anchor="middle">0</text>
<line x1="1833.3" y1="1086.3" x2="1833.3" y2="1091.3" stroke="#333" stroke-width="2.2"/>
<text x="1834.8" y="1114" font-size="25" text-anchor="middle">5</text>
<text x="1647.7" y="1141.1" font-size="34.6" text-anchor="middle">Log<tspan font-size="25" dy="8">2</tspan><tspan dy="-8"> Fold Change</tspan></text>
<circle cx="1441.4" cy="627.3" r="9.5" fill="#F7B040"/>
<circle cx="1441.4" cy="656.2" r="9.5" fill="#6F7CC0"/>
<text x="1452.5" y="636.4" font-size="25.5">Enriched in QKI KO</text>
<text x="1452.5" y="666" font-size="25.5">Depleted in QKI KO</text>
<text x="1800.7" y="639.8" font-size="20.5">Ube2c</text>
<text x="1787.8" y="804.8" font-size="20.5">Pbk</text>
<text x="1701.5" y="826.7" font-size="20.5">Vim</text>
<text x="1382.8" y="586.6" font-size="39.5" font-weight="bold">E</text>
<!-- panel_f -->
<text x="769.9" y="1200.5" font-size="39.5" font-weight="bold">F</text>
<rect x="860.9" y="1205.2" width="197.2" height="420.8" fill="#fff"/>
<line x1="860.9" y1="1587.2" x2="1058.1" y2="1587.2" stroke="#EBEBEB" stroke-width="1.1"/>
<line x1="860.9" y1="1466.8" x2="1058.1" y2="1466.8" stroke="#EBEBEB" stroke-width="1.1"/>
<line x1="860.9" y1="1346.5" x2="1058.1" y2="1346.5" stroke="#EBEBEB" stroke-width="1.1"/>
<line x1="860.9" y1="1527" x2="1058.1" y2="1527" stroke="#EBEBEB" stroke-width="2.2"/>
<line x1="860.9" y1="1406.6" x2="1058.1" y2="1406.6" stroke="#EBEBEB" stroke-width="2.2"/>
<line x1="860.9" y1="1286.3" x2="1058.1" y2="1286.3" stroke="#EBEBEB" stroke-width="2.2"/>
<line x1="914.5" y1="1205.2" x2="914.5" y2="1626" stroke="#EBEBEB" stroke-width="2.2"/>
<line x1="1004.3" y1="1205.2" x2="1004.3" y2="1626" stroke="#EBEBEB" stroke-width="2.2"/>
<line x1="914.5" y1="1365.5" x2="914.5" y2="1367.2" stroke="#0000FF" stroke-width="1.8"/>
<line x1="914.5" y1="1374.9" x2="914.5" y2="1380.2" stroke="#0000FF" stroke-width="1.8"/>
<rect x="880.5" y="1367.2" width="68" height="7.7" fill="#fff" stroke="#0000FF" stroke-width="1.8"/>
<line x1="880.5" y1="1370.3" x2="948.5" y2="1370.3" stroke="#0000FF" stroke-width="2.8"/>
<line x1="1004.3" y1="1382" x2="1004.3" y2="1390.8" stroke="#FFA500" stroke-width="1.8"/>
<line x1="1004.3" y1="1400.3" x2="1004.3" y2="1408.4" stroke="#FFA500" stroke-width="1.8"/>
<rect x="970.3" y="1390.8" width="68" height="9.5" fill="#fff" stroke="#FFA500" stroke-width="1.8"/>
<line x1="970.3" y1="1395.4" x2="1038.3" y2="1395.4" stroke="#FFA500" stroke-width="2.8"/>
<line x1="915.2" y1="1322.8" x2="1004.6" y2="1322.8" stroke="#000" stroke-width="1.6"/>
<text x="957.8" y="1321.2" font-size="25" text-anchor="middle">0.016</text>
<rect x="860.9" y="1205.2" width="197.2" height="420.8" fill="none" stroke="#333" stroke-width="1.1"/>
<rect x="860.9" y="1176.7" width="197.2" height="28.5" fill="#D9D9D9" stroke="#333" stroke-width="1.1"/>
<text x="959.5" y="1201.8" font-size="25.5" text-anchor="middle" font-style="italic">Adora2b</text>
<text x="912.4" y="1649" font-size="24" text-anchor="middle">WT</text>
<text x="1007.4" y="1649" font-size="24" text-anchor="middle">QKI KO</text>
<rect x="1077.4" y="1205.2" width="197.2" height="420.8" fill="#fff"/>
<line x1="1077.4" y1="1587.2" x2="1274.6" y2="1587.2" stroke="#EBEBEB" stroke-width="1.1"/>
<line x1="1077.4" y1="1466.8" x2="1274.6" y2="1466.8" stroke="#EBEBEB" stroke-width="1.1"/>
<line x1="1077.4" y1="1346.5" x2="1274.6" y2="1346.5" stroke="#EBEBEB" stroke-width="1.1"/>
<line x1="1077.4" y1="1527" x2="1274.6" y2="1527" stroke="#EBEBEB" stroke-width="2.2"/>
<line x1="1077.4" y1="1406.6" x2="1274.6" y2="1406.6" stroke="#EBEBEB" stroke-width="2.2"/>
<line x1="1077.4" y1="1286.3" x2="1274.6" y2="1286.3" stroke="#EBEBEB" stroke-width="2.2"/>
<line x1="1131" y1="1205.2" x2="1131" y2="1626" stroke="#EBEBEB" stroke-width="2.2"/>
<line x1="1220.8" y1="1205.2" x2="1220.8" y2="1626" stroke="#EBEBEB" stroke-width="2.2"/>
<line x1="1131" y1="1232.9" x2="1131" y2="1232.9" stroke="#0000FF" stroke-width="1.8"/>
<line x1="1131" y1="1244.9" x2="1131" y2="1250.2" stroke="#0000FF" stroke-width="1.8"/>
<rect x="1097" y="1232.9" width="68" height="12" fill="#fff" stroke="#0000FF" stroke-width="1.8"/>
<line x1="1097" y1="1234" x2="1165" y2="1234" stroke="#0000FF" stroke-width="2.8"/>
<line x1="1220.8" y1="1250.5" x2="1220.8" y2="1251.6" stroke="#FFA500" stroke-width="1.8"/>
<line x1="1220.8" y1="1260" x2="1220.8" y2="1264" stroke="#FFA500" stroke-width="1.8"/>
<rect x="1186.8" y="1251.6" width="68" height="8.4" fill="#fff" stroke="#FFA500" stroke-width="1.8"/>
<line x1="1186.8" y1="1255.1" x2="1254.8" y2="1255.1" stroke="#FFA500" stroke-width="2.8"/>
<line x1="1131.1" y1="1230.5" x2="1221" y2="1230.5" stroke="#000" stroke-width="1.6"/>
<text x="1173.4" y="1228.9" font-size="25" text-anchor="middle">0.008</text>
<rect x="1077.4" y="1205.2" width="197.2" height="420.8" fill="none" stroke="#333" stroke-width="1.1"/>
<rect x="1077.4" y="1176.7" width="197.2" height="28.5" fill="#D9D9D9" stroke="#333" stroke-width="1.1"/>
<text x="1176" y="1201.8" font-size="25.5" text-anchor="middle" font-style="italic">Gm2a</text>
<text x="1128.9" y="1649" font-size="24" text-anchor="middle">WT</text>
<text x="1223.9" y="1649" font-size="24" text-anchor="middle">QKI KO</text>
<rect x="1294.4" y="1205.2" width="197.2" height="420.8" fill="#fff"/>
<line x1="1294.4" y1="1587.2" x2="1491.6" y2="1587.2" stroke="#EBEBEB" stroke-width="1.1"/>
<line x1="1294.4" y1="1466.8" x2="1491.6" y2="1466.8" stroke="#EBEBEB" stroke-width="1.1"/>
<line x1="1294.4" y1="1346.5" x2="1491.6" y2="1346.5" stroke="#EBEBEB" stroke-width="1.1"/>
<line x1="1294.4" y1="1527" x2="1491.6" y2="1527" stroke="#EBEBEB" stroke-width="2.2"/>
<line x1="1294.4" y1="1406.6" x2="1491.6" y2="1406.6" stroke="#EBEBEB" stroke-width="2.2"/>
<line x1="1294.4" y1="1286.3" x2="1491.6" y2="1286.3" stroke="#EBEBEB" stroke-width="2.2"/>
<line x1="1348" y1="1205.2" x2="1348" y2="1626" stroke="#EBEBEB" stroke-width="2.2"/>
<line x1="1437.8" y1="1205.2" x2="1437.8" y2="1626" stroke="#EBEBEB" stroke-width="2.2"/>
<line x1="1348" y1="1504.1" x2="1348" y2="1518.1" stroke="#0000FF" stroke-width="1.8"/>
<line x1="1348" y1="1570.3" x2="1348" y2="1606.4" stroke="#0000FF" stroke-width="1.8"/>
<rect x="1314" y="1518.1" width="68" height="52.2" fill="#fff" stroke="#0000FF" stroke-width="1.8"/>
<line x1="1314" y1="1545" x2="1382" y2="1545" stroke="#0000FF" stroke-width="2.8"/>
<line x1="1437.8" y1="1418.7" x2="1437.8" y2="1421.5" stroke="#FFA500" stroke-width="1.8"/>
<line x1="1437.8" y1="1447.6" x2="1437.8" y2="1452.8" stroke="#FFA500" stroke-width="1.8"/>
<rect x="1403.8" y="1421.5" width="68" height="26.1" fill="#fff" stroke="#FFA500" stroke-width="1.8"/>
<line x1="1403.8" y1="1434.3" x2="1471.8" y2="1434.3" stroke="#FFA500" stroke-width="2.8"/>
<line x1="1347" y1="1393.4" x2="1436.4" y2="1393.4" stroke="#000" stroke-width="1.6"/>
<text x="1389.5" y="1391.8" font-size="25" text-anchor="middle">0.002</text>
<rect x="1294.4" y="1205.2" width="197.2" height="420.8" fill="none" stroke="#333" stroke-width="1.1"/>
<rect x="1294.4" y="1176.7" width="197.2" height="28.5" fill="#D9D9D9" stroke="#333" stroke-width="1.1"/>
<text x="1393" y="1201.8" font-size="25.5" text-anchor="middle" font-style="italic">Pbk</text>
<text x="1345.9" y="1649" font-size="24" text-anchor="middle">WT</text>
<text x="1440.9" y="1649" font-size="24" text-anchor="middle">QKI KO</text>
<rect x="1511.4" y="1205.2" width="197.2" height="420.8" fill="#fff"/>
<line x1="1511.4" y1="1587.2" x2="1708.6" y2="1587.2" stroke="#EBEBEB" stroke-width="1.1"/>
<line x1="1511.4" y1="1466.8" x2="1708.6" y2="1466.8" stroke="#EBEBEB" stroke-width="1.1"/>
<line x1="1511.4" y1="1346.5" x2="1708.6" y2="1346.5" stroke="#EBEBEB" stroke-width="1.1"/>
<line x1="1511.4" y1="1527" x2="1708.6" y2="1527" stroke="#EBEBEB" stroke-width="2.2"/>
<line x1="1511.4" y1="1406.6" x2="1708.6" y2="1406.6" stroke="#EBEBEB" stroke-width="2.2"/>
<line x1="1511.4" y1="1286.3" x2="1708.6" y2="1286.3" stroke="#EBEBEB" stroke-width="2.2"/>
<line x1="1565" y1="1205.2" x2="1565" y2="1626" stroke="#EBEBEB" stroke-width="2.2"/>
<line x1="1654.8" y1="1205.2" x2="1654.8" y2="1626" stroke="#EBEBEB" stroke-width="2.2"/>
<line x1="1565" y1="1523.8" x2="1565" y2="1523.8" stroke="#0000FF" stroke-width="1.8"/>
<line x1="1565" y1="1546.2" x2="1565" y2="1561" stroke="#0000FF" stroke-width="1.8"/>
<rect x="1531" y="1523.8" width="68" height="22.4" fill="#fff" stroke="#0000FF" stroke-width="1.8"/>
<line x1="1531" y1="1525.8" x2="1599" y2="1525.8" stroke="#0000FF" stroke-width="2.8"/>
<line x1="1654.8" y1="1399.4" x2="1654.8" y2="1402.6" stroke="#FFA500" stroke-width="1.8"/>
<line x1="1654.8" y1="1452.8" x2="1654.8" y2="1460" stroke="#FFA500" stroke-width="1.8"/>
<rect x="1620.8" y="1402.6" width="68" height="50.2" fill="#fff" stroke="#FFA500" stroke-width="1.8"/>
<line x1="1620.8" y1="1426.7" x2="1688.8" y2="1426.7" stroke="#FFA500" stroke-width="2.8"/>
<line x1="1564" y1="1377" x2="1653.8" y2="1377" stroke="#000" stroke-width="1.6"/>
<text x="1606.9" y="1375.4" font-size="25" text-anchor="middle">0.003</text>
<rect x="1511.4" y="1205.2" width="197.2" height="420.8" fill="none" stroke="#333" stroke-width="1.1"/>
<rect x="1511.4" y="1176.7" width="197.2" height="28.5" fill="#D9D9D9" stroke="#333" stroke-width="1.1"/>
<text x="1610" y="1201.8" font-size="25.5" text-anchor="middle" font-style="italic">Ube2c</text>
<text x="1562.9" y="1649" font-size="24" text-anchor="middle">WT</text>
<text x="1657.9" y="1649" font-size="24" text-anchor="middle">QKI KO</text>
<rect x="1728.2" y="1205.2" width="197.2" height="420.8" fill="#fff"/>
<line x1="1728.2" y1="1587.2" x2="1925.4" y2="1587.2" stroke="#EBEBEB" stroke-width="1.1"/>
<line x1="1728.2" y1="1466.8" x2="1925.4" y2="1466.8" stroke="#EBEBEB" stroke-width="1.1"/>
<line x1="1728.2" y1="1346.5" x2="1925.4" y2="1346.5" stroke="#EBEBEB" stroke-width="1.1"/>
<line x1="1728.2" y1="1527" x2="1925.4" y2="1527" stroke="#EBEBEB" stroke-width="2.2"/>
<line x1="1728.2" y1="1406.6" x2="1925.4" y2="1406.6" stroke="#EBEBEB" stroke-width="2.2"/>
<line x1="1728.2" y1="1286.3" x2="1925.4" y2="1286.3" stroke="#EBEBEB" stroke-width="2.2"/>
<line x1="1781.8" y1="1205.2" x2="1781.8" y2="1626" stroke="#EBEBEB" stroke-width="2.2"/>
<line x1="1871.6" y1="1205.2" x2="1871.6" y2="1626" stroke="#EBEBEB" stroke-width="2.2"/>
<line x1="1781.8" y1="1316.4" x2="1781.8" y2="1324.4" stroke="#0000FF" stroke-width="1.8"/>
<line x1="1781.8" y1="1336.5" x2="1781.8" y2="1347.7" stroke="#0000FF" stroke-width="1.8"/>
<rect x="1747.8" y="1324.4" width="68" height="12.1" fill="#fff" stroke="#0000FF" stroke-width="1.8"/>
<line x1="1747.8" y1="1333.7" x2="1815.8" y2="1333.7" stroke="#0000FF" stroke-width="2.8"/>
<line x1="1871.6" y1="1291.1" x2="1871.6" y2="1291.1" stroke="#FFA500" stroke-width="1.8"/>
<line x1="1871.6" y1="1296.8" x2="1871.6" y2="1296.8" stroke="#FFA500" stroke-width="1.8"/>
<rect x="1837.6" y="1291.1" width="68" height="5.7" fill="#fff" stroke="#FFA500" stroke-width="1.8"/>
<line x1="1837.6" y1="1292.7" x2="1905.6" y2="1292.7" stroke="#FFA500" stroke-width="2.8"/>
<circle cx="1871.6" cy="1279.9" r="2.4" fill="#FFA500"/>
<line x1="1780.5" y1="1259.9" x2="1870" y2="1259.9" stroke="#000" stroke-width="1.6"/>
<text x="1822.2" y="1258.3" font-size="25" text-anchor="middle">0.001</text>
<rect x="1728.2" y="1205.2" width="197.2" height="420.8" fill="none" stroke="#333" stroke-width="1.1"/>
<rect x="1728.2" y="1176.7" width="197.2" height="28.5" fill="#D9D9D9" stroke="#333" stroke-width="1.1"/>
<text x="1826.8" y="1201.8" font-size="25.5" text-anchor="middle" font-style="italic">Vim</text>
<text x="1779.7" y="1649" font-size="24" text-anchor="middle">WT</text>
<text x="1874.7" y="1649" font-size="24" text-anchor="middle">QKI KO</text>
<line x1="851.2" y1="1527" x2="860.9" y2="1527" stroke="#333" stroke-width="1.5"/>
<text x="849.5" y="1536" font-size="25" text-anchor="end">0</text>
<line x1="851.2" y1="1406.6" x2="860.9" y2="1406.6" stroke="#333" stroke-width="1.5"/>
<text x="849.5" y="1415.6" font-size="25" text-anchor="end">4</text>
<line x1="851.2" y1="1290.9" x2="860.9" y2="1290.9" stroke="#333" stroke-width="1.5"/>
<text x="849.5" y="1299.9" font-size="25" text-anchor="end">8</text>
<text x="0" y="0" font-size="32.6" text-anchor="middle" transform="translate(831.3,1419) rotate(-90) scale(0.9,1)">CPM</text>
<!-- panel_g -->
<path fill="#ffa500" shape-rendering="crispEdges" d="M291.7 2409.6h59.7v1.5h-59.7zM589.5 1923.7h59.7v2.8h-59.7zM589.5 2060h59.7v2.8h-59.7zM589.5 2064.1h59.7v1.5h-59.7z"/>
<path fill="#eda012" shape-rendering="crispEdges" d="M291.7 2392.1h59.7v1.5h-59.7zM291.7 2398.8h59.7v2.8h-59.7zM291.7 2406.9h59.7v2.8h-59.7zM291.7 2411h59.7v1.5h-59.7zM291.7 2413.7h59.7v2.8h-59.7zM291.7 2417.7h59.7v1.5h-59.7zM410.8 1817h59.7v1.5h-59.7zM410.8 1829.2h59.7v1.5h-59.7zM410.8 1908.8h59.7v1.5h-59.7zM589.5 1950.7h59.7v1.5h-59.7zM589.5 1987.1h59.7v1.5h-59.7zM589.5 1993.9h59.7v2.8h-59.7zM589.5 2003.3h59.7v2.8h-59.7zM589.5 2058.7h59.7v1.5h-59.7zM589.5 2062.7h59.7v1.5h-59.7zM589.5 2181.5h59.7v1.5h-59.7zM649 2154.5h59.7v2.8h-59.7z"/>
<path fill="#db9a25" shape-rendering="crispEdges" d="M113.1 2406.9h59.7v1.5h-59.7zM291.7 2300.3h59.7v1.5h-59.7zM291.7 2393.4h59.7v1.5h-59.7zM291.7 2397.5h59.7v1.5h-59.7zM291.7 2401.5h59.7v5.5h-59.7zM291.7 2412.3h59.7v1.5h-59.7zM291.7 2416.4h59.7v1.5h-59.7zM291.7 2419.1h59.7v1.5h-59.7zM291.7 2427.2h59.7v2.8h-59.7zM410.8 1813h59.7v4.2h-59.7zM410.8 1818.4h59.7v1.5h-59.7zM410.8 1822.4h59.7v1.5h-59.7zM410.8 1827.8h59.7v1.5h-59.7zM410.8 1831.9h59.7v1.5h-59.7zM410.8 1885.9h59.7v1.5h-59.7zM410.8 1896.7h59.7v1.5h-59.7zM410.8 1996.6h59.7v1.5h-59.7zM470.4 1806.2h59.7v1.5h-59.7zM470.4 1821.1h59.7v1.5h-59.7zM470.4 1826.5h59.7v1.5h-59.7zM470.4 1831.9h59.7v1.5h-59.7zM470.4 1943.9h59.7v1.5h-59.7zM589.5 1935.8h59.7v1.5h-59.7zM589.5 1946.6h59.7v4.2h-59.7zM589.5 1952h59.7v2.8h-59.7zM589.5 1960.1h59.7v1.5h-59.7zM589.5 1964.2h59.7v2.8h-59.7zM589.5 1969.6h59.7v2.8h-59.7zM589.5 1977.7h59.7v1.5h-59.7zM589.5 1983.1h59.7v1.5h-59.7zM589.5 1988.5h59.7v1.5h-59.7zM589.5 1996.6h59.7v1.5h-59.7zM589.5 1999.3h59.7v4.2h-59.7zM589.5 2081.6h59.7v1.5h-59.7zM589.5 2154.5h59.7v1.5h-59.7zM589.5 2165.3h59.7v6.9h-59.7zM589.5 2177.4h59.7v4.2h-59.7zM589.5 2197.7h59.7v1.5h-59.7zM589.5 2205.8h59.7v1.5h-59.7zM649 2074.9h59.7v2.8h-59.7zM649 2093.8h59.7v1.5h-59.7zM649 2153.1h59.7v1.5h-59.7zM649 2157.2h59.7v1.5h-59.7zM708.6 1807.6h59.7v1.5h-59.7zM708.6 2161.2h59.7v1.5h-59.7z"/>
<path fill="#c99537" shape-rendering="crispEdges" d="M113.1 2093.8h59.7v4.2h-59.7zM113.1 2243.6h59.7v1.5h-59.7zM113.1 2270.6h59.7v1.5h-59.7zM113.1 2273.3h59.7v1.5h-59.7zM113.1 2276h59.7v1.5h-59.7zM113.1 2332.7h59.7v4.2h-59.7zM113.1 2348.9h59.7v2.8h-59.7zM113.1 2355.6h59.7v1.5h-59.7zM113.1 2405.6h59.7v1.5h-59.7zM172.6 1869.7h59.7v1.5h-59.7zM232.2 2261.1h59.7v1.5h-59.7zM291.7 2297.6h59.7v2.8h-59.7zM291.7 2301.6h59.7v1.5h-59.7zM291.7 2304.3h59.7v2.8h-59.7zM291.7 2334h59.7v2.8h-59.7zM291.7 2338.1h59.7v5.5h-59.7zM291.7 2394.8h59.7v2.8h-59.7zM291.7 2420.4h59.7v6.9h-59.7zM351.3 2288.1h59.7v2.8h-59.7zM351.3 2358.3h59.7v2.8h-59.7zM410.8 1799.5h59.7v1.5h-59.7zM410.8 1803.5h59.7v1.5h-59.7zM410.8 1806.2h59.7v1.5h-59.7zM410.8 1808.9h59.7v1.5h-59.7zM410.8 1819.7h59.7v2.8h-59.7zM410.8 1823.8h59.7v4.2h-59.7zM410.8 1830.5h59.7v1.5h-59.7zM410.8 1884.5h59.7v1.5h-59.7zM410.8 1898h59.7v1.5h-59.7zM410.8 1907.5h59.7v1.5h-59.7zM410.8 1910.2h59.7v1.5h-59.7zM410.8 1927.7h59.7v1.5h-59.7zM410.8 1930.4h59.7v1.5h-59.7zM410.8 1946.6h59.7v2.8h-59.7zM410.8 1992.5h59.7v1.5h-59.7zM410.8 1995.2h59.7v1.5h-59.7zM410.8 2027.6h59.7v1.5h-59.7zM470.4 1799.5h59.7v1.5h-59.7zM470.4 1802.2h59.7v4.2h-59.7zM470.4 1807.6h59.7v1.5h-59.7zM470.4 1811.6h59.7v5.5h-59.7zM470.4 1827.8h59.7v4.2h-59.7zM470.4 1899.4h59.7v1.5h-59.7zM470.4 1907.5h59.7v1.5h-59.7zM470.4 1911.5h59.7v4.2h-59.7zM470.4 1933.1h59.7v5.5h-59.7zM470.4 1939.9h59.7v4.2h-59.7zM470.4 1948h59.7v1.5h-59.7zM470.4 1950.7h59.7v1.5h-59.7zM470.4 1956.1h59.7v1.5h-59.7zM470.4 1996.6h59.7v1.5h-59.7zM470.4 2003.3h59.7v1.5h-59.7zM470.4 2031.7h59.7v1.5h-59.7zM470.4 2034.4h59.7v2.8h-59.7zM470.4 2038.4h59.7v5.5h-59.7zM470.4 2045.2h59.7v1.5h-59.7zM470.4 2396.1h59.7v1.5h-59.7zM529.9 1842.7h59.7v1.5h-59.7zM529.9 2100.5h59.7v4.2h-59.7zM529.9 2116.7h59.7v1.5h-59.7zM529.9 2130.2h59.7v2.8h-59.7zM529.9 2136.9h59.7v4.2h-59.7zM529.9 2149.1h59.7v1.5h-59.7zM529.9 2157.2h59.7v4.2h-59.7zM529.9 2188.2h59.7v1.5h-59.7zM529.9 2192.3h59.7v1.5h-59.7zM589.5 1896.7h59.7v1.5h-59.7zM589.5 1906.1h59.7v1.5h-59.7zM589.5 1908.8h59.7v1.5h-59.7zM589.5 1927.7h59.7v2.8h-59.7zM589.5 1933.1h59.7v1.5h-59.7zM589.5 1938.5h59.7v1.5h-59.7zM589.5 1941.2h59.7v1.5h-59.7zM589.5 1943.9h59.7v2.8h-59.7zM589.5 1954.7h59.7v1.5h-59.7zM589.5 1958.8h59.7v1.5h-59.7zM589.5 1961.5h59.7v1.5h-59.7zM589.5 1972.3h59.7v5.5h-59.7zM589.5 1979h59.7v1.5h-59.7zM589.5 1985.8h59.7v1.5h-59.7zM589.5 1989.8h59.7v4.2h-59.7zM589.5 1997.9h59.7v1.5h-59.7zM589.5 2007.4h59.7v1.5h-59.7zM589.5 2010.1h59.7v2.8h-59.7zM589.5 2029h59.7v1.5h-59.7zM589.5 2045.2h59.7v1.5h-59.7zM589.5 2065.4h59.7v2.8h-59.7zM589.5 2072.2h59.7v4.2h-59.7zM589.5 2080.3h59.7v1.5h-59.7zM589.5 2083h59.7v1.5h-59.7zM589.5 2146.4h59.7v4.2h-59.7zM589.5 2151.8h59.7v2.8h-59.7zM589.5 2155.8h59.7v1.5h-59.7zM589.5 2161.2h59.7v1.5h-59.7zM589.5 2163.9h59.7v1.5h-59.7zM589.5 2172h59.7v5.5h-59.7zM589.5 2182.8h59.7v4.2h-59.7zM589.5 2188.2h59.7v9.6h-59.7zM589.5 2199h59.7v2.8h-59.7zM589.5 2208.5h59.7v1.5h-59.7zM649 1834.6h59.7v1.5h-59.7zM649 1861.6h59.7v2.8h-59.7zM649 1871h59.7v1.5h-59.7zM649 1891.3h59.7v1.5h-59.7zM649 1895.3h59.7v1.5h-59.7zM649 2073.5h59.7v1.5h-59.7zM649 2077.6h59.7v1.5h-59.7zM649 2080.3h59.7v6.9h-59.7zM649 2088.4h59.7v2.8h-59.7zM649 2092.4h59.7v1.5h-59.7zM649 2103.2h59.7v1.5h-59.7zM649 2146.4h59.7v4.2h-59.7zM649 2151.8h59.7v1.5h-59.7zM649 2158.5h59.7v2.8h-59.7zM649 2166.6h59.7v2.8h-59.7zM708.6 1806.2h59.7v1.5h-59.7zM708.6 1808.9h59.7v1.5h-59.7zM708.6 1826.5h59.7v1.5h-59.7zM708.6 1829.2h59.7v1.5h-59.7zM708.6 1853.5h59.7v1.5h-59.7zM708.6 1858.9h59.7v2.8h-59.7zM708.6 1864.3h59.7v1.5h-59.7zM708.6 1868.3h59.7v4.2h-59.7zM708.6 1906.1h59.7v2.8h-59.7zM708.6 2022.2h59.7v1.5h-59.7zM708.6 2024.9h59.7v1.5h-59.7zM708.6 2049.2h59.7v1.5h-59.7zM708.6 2080.3h59.7v1.5h-59.7zM708.6 2112.7h59.7v1.5h-59.7zM708.6 2122.1h59.7v1.5h-59.7zM708.6 2124.8h59.7v1.5h-59.7zM708.6 2158.5h59.7v2.8h-59.7zM708.6 2162.6h59.7v8.2h-59.7zM708.6 2258.4h59.7v2.8h-59.7zM708.6 2277.3h59.7v2.8h-59.7z"/>
<path fill="#b69049" shape-rendering="crispEdges" d="M113.1 1873.7h59.7v1.5h-59.7zM113.1 1938.5h59.7v1.5h-59.7zM113.1 2097.8h59.7v2.8h-59.7zM113.1 2104.6h59.7v2.8h-59.7zM113.1 2108.6h59.7v1.5h-59.7zM113.1 2123.4h59.7v1.5h-59.7zM113.1 2197.7h59.7v1.5h-59.7zM113.1 2213.9h59.7v5.5h-59.7zM113.1 2226h59.7v1.5h-59.7zM113.1 2231.4h59.7v1.5h-59.7zM113.1 2242.2h59.7v1.5h-59.7zM113.1 2261.1h59.7v1.5h-59.7zM113.1 2265.2h59.7v1.5h-59.7zM113.1 2269.2h59.7v1.5h-59.7zM113.1 2271.9h59.7v1.5h-59.7zM113.1 2277.3h59.7v1.5h-59.7zM113.1 2285.4h59.7v1.5h-59.7zM113.1 2304.3h59.7v1.5h-59.7zM113.1 2313.8h59.7v2.8h-59.7zM113.1 2328.6h59.7v1.5h-59.7zM113.1 2331.3h59.7v1.5h-59.7zM113.1 2340.8h59.7v8.2h-59.7zM113.1 2351.6h59.7v4.2h-59.7zM113.1 2357h59.7v1.5h-59.7zM113.1 2359.7h59.7v1.5h-59.7zM113.1 2377.2h59.7v1.5h-59.7zM113.1 2389.4h59.7v2.8h-59.7zM113.1 2394.8h59.7v4.2h-59.7zM113.1 2400.2h59.7v2.8h-59.7zM172.6 1867h59.7v2.8h-59.7zM172.6 1970.9h59.7v2.8h-59.7zM172.6 2108.6h59.7v1.5h-59.7zM172.6 2224.7h59.7v2.8h-59.7zM172.6 2251.7h59.7v1.5h-59.7zM172.6 2263.8h59.7v1.5h-59.7zM172.6 2293.5h59.7v1.5h-59.7zM172.6 2297.6h59.7v1.5h-59.7zM172.6 2301.6h59.7v1.5h-59.7zM172.6 2308.4h59.7v2.8h-59.7zM172.6 2312.4h59.7v2.8h-59.7zM172.6 2327.3h59.7v2.8h-59.7zM172.6 2331.3h59.7v1.5h-59.7zM172.6 2336.7h59.7v1.5h-59.7zM172.6 2373.2h59.7v1.5h-59.7zM232.2 1853.5h59.7v4.2h-59.7zM232.2 1987.1h59.7v1.5h-59.7zM232.2 2054.6h59.7v2.8h-59.7zM232.2 2058.7h59.7v2.8h-59.7zM232.2 2239.5h59.7v1.5h-59.7zM232.2 2249h59.7v1.5h-59.7zM232.2 2251.7h59.7v1.5h-59.7zM232.2 2259.8h59.7v1.5h-59.7zM232.2 2262.5h59.7v5.5h-59.7zM232.2 2271.9h59.7v1.5h-59.7zM232.2 2280h59.7v2.8h-59.7zM232.2 2298.9h59.7v1.5h-59.7zM232.2 2315.1h59.7v4.2h-59.7zM232.2 2330h59.7v2.8h-59.7zM291.7 1965.5h59.7v1.5h-59.7zM291.7 2029h59.7v1.5h-59.7zM291.7 2127.5h59.7v2.8h-59.7zM291.7 2143.7h59.7v1.5h-59.7zM291.7 2265.2h59.7v2.8h-59.7zM291.7 2303h59.7v1.5h-59.7zM291.7 2312.4h59.7v1.5h-59.7zM291.7 2316.5h59.7v1.5h-59.7zM291.7 2323.2h59.7v2.8h-59.7zM291.7 2331.3h59.7v1.5h-59.7zM291.7 2336.7h59.7v1.5h-59.7zM291.7 2389.4h59.7v2.8h-59.7zM291.7 2429.9h59.7v1.5h-59.7zM351.3 2134.2h59.7v1.5h-59.7zM351.3 2209.8h59.7v1.5h-59.7zM351.3 2223.3h59.7v4.2h-59.7zM351.3 2250.3h59.7v1.5h-59.7zM351.3 2277.3h59.7v1.5h-59.7zM351.3 2280h59.7v4.2h-59.7zM351.3 2286.8h59.7v1.5h-59.7zM351.3 2290.8h59.7v2.8h-59.7zM351.3 2308.4h59.7v1.5h-59.7zM351.3 2328.6h59.7v1.5h-59.7zM351.3 2351.6h59.7v6.9h-59.7zM351.3 2361h59.7v2.8h-59.7zM351.3 2416.4h59.7v1.5h-59.7zM351.3 2424.5h59.7v2.8h-59.7zM410.8 1798.1h59.7v1.5h-59.7zM410.8 1800.8h59.7v2.8h-59.7zM410.8 1804.9h59.7v1.5h-59.7zM410.8 1807.6h59.7v1.5h-59.7zM410.8 1844h59.7v2.8h-59.7zM410.8 1849.4h59.7v2.8h-59.7zM410.8 1875.1h59.7v1.5h-59.7zM410.8 1891.3h59.7v1.5h-59.7zM410.8 1899.4h59.7v1.5h-59.7zM410.8 1902.1h59.7v1.5h-59.7zM410.8 1906.1h59.7v1.5h-59.7zM410.8 1915.6h59.7v5.5h-59.7zM410.8 1926.4h59.7v1.5h-59.7zM410.8 1929.1h59.7v1.5h-59.7zM410.8 1931.8h59.7v4.2h-59.7zM410.8 1937.2h59.7v2.8h-59.7zM410.8 1945.3h59.7v1.5h-59.7zM410.8 1953.4h59.7v1.5h-59.7zM410.8 1987.1h59.7v1.5h-59.7zM410.8 1989.8h59.7v2.8h-59.7zM410.8 1993.9h59.7v1.5h-59.7zM410.8 1997.9h59.7v2.8h-59.7zM410.8 2004.7h59.7v2.8h-59.7zM410.8 2014.1h59.7v1.5h-59.7zM410.8 2030.3h59.7v2.8h-59.7zM410.8 2037.1h59.7v2.8h-59.7zM410.8 2041.1h59.7v1.5h-59.7zM410.8 2046.5h59.7v1.5h-59.7zM410.8 2051.9h59.7v2.8h-59.7zM410.8 2073.5h59.7v1.5h-59.7zM410.8 2370.5h59.7v1.5h-59.7zM410.8 2375.9h59.7v2.8h-59.7zM410.8 2384h59.7v5.5h-59.7zM410.8 2390.7h59.7v2.8h-59.7zM410.8 2400.2h59.7v1.5h-59.7zM410.8 2417.7h59.7v1.5h-59.7zM470.4 1796.8h59.7v2.8h-59.7zM470.4 1800.8h59.7v1.5h-59.7zM470.4 1808.9h59.7v1.5h-59.7zM470.4 1817h59.7v4.2h-59.7zM470.4 1822.4h59.7v4.2h-59.7zM470.4 1834.6h59.7v1.5h-59.7zM470.4 1896.7h59.7v2.8h-59.7zM470.4 1908.8h59.7v1.5h-59.7zM470.4 1915.6h59.7v5.5h-59.7zM470.4 1922.3h59.7v2.8h-59.7zM470.4 1930.4h59.7v1.5h-59.7zM470.4 1938.5h59.7v1.5h-59.7zM470.4 1945.3h59.7v1.5h-59.7zM470.4 1949.3h59.7v1.5h-59.7zM470.4 1957.4h59.7v2.8h-59.7zM470.4 1961.5h59.7v1.5h-59.7zM470.4 1975h59.7v1.5h-59.7zM470.4 1991.2h59.7v5.5h-59.7zM470.4 1997.9h59.7v2.8h-59.7zM470.4 2004.7h59.7v1.5h-59.7zM470.4 2008.7h59.7v2.8h-59.7zM470.4 2012.8h59.7v1.5h-59.7zM470.4 2015.5h59.7v2.8h-59.7zM470.4 2019.5h59.7v5.5h-59.7zM470.4 2026.3h59.7v1.5h-59.7zM470.4 2029h59.7v2.8h-59.7zM470.4 2033h59.7v1.5h-59.7zM470.4 2037.1h59.7v1.5h-59.7zM470.4 2043.8h59.7v1.5h-59.7zM470.4 2046.5h59.7v2.8h-59.7zM470.4 2056h59.7v1.5h-59.7zM470.4 2373.2h59.7v1.5h-59.7zM470.4 2394.8h59.7v1.5h-59.7zM470.4 2405.6h59.7v1.5h-59.7zM470.4 2421.8h59.7v2.8h-59.7zM470.4 2429.9h59.7v1.5h-59.7zM529.9 1837.3h59.7v4.2h-59.7zM529.9 1844h59.7v2.8h-59.7zM529.9 1850.8h59.7v1.5h-59.7zM529.9 1869.7h59.7v1.5h-59.7zM529.9 1887.2h59.7v1.5h-59.7zM529.9 2084.3h59.7v1.5h-59.7zM529.9 2091.1h59.7v2.8h-59.7zM529.9 2099.2h59.7v1.5h-59.7zM529.9 2104.6h59.7v1.5h-59.7zM529.9 2110h59.7v2.8h-59.7zM529.9 2115.3h59.7v1.5h-59.7zM529.9 2124.8h59.7v5.5h-59.7zM529.9 2135.6h59.7v1.5h-59.7zM529.9 2141h59.7v1.5h-59.7zM529.9 2147.7h59.7v1.5h-59.7zM529.9 2151.8h59.7v5.5h-59.7zM529.9 2169.3h59.7v1.5h-59.7zM529.9 2190.9h59.7v1.5h-59.7zM529.9 2193.6h59.7v1.5h-59.7zM529.9 2197.7h59.7v1.5h-59.7zM529.9 2282.7h59.7v1.5h-59.7zM589.5 1899.4h59.7v1.5h-59.7zM589.5 1904.8h59.7v1.5h-59.7zM589.5 1907.5h59.7v1.5h-59.7zM589.5 1910.2h59.7v1.5h-59.7zM589.5 1912.9h59.7v2.8h-59.7zM589.5 1918.3h59.7v5.5h-59.7zM589.5 1926.4h59.7v1.5h-59.7zM589.5 1931.8h59.7v1.5h-59.7zM589.5 1934.5h59.7v1.5h-59.7zM589.5 1937.2h59.7v1.5h-59.7zM589.5 1939.9h59.7v1.5h-59.7zM589.5 1942.6h59.7v1.5h-59.7zM589.5 1957.4h59.7v1.5h-59.7zM589.5 1962.8h59.7v1.5h-59.7zM589.5 1966.9h59.7v2.8h-59.7zM589.5 1980.4h59.7v2.8h-59.7zM589.5 1984.4h59.7v1.5h-59.7zM589.5 2008.7h59.7v1.5h-59.7zM589.5 2012.8h59.7v2.8h-59.7zM589.5 2018.2h59.7v1.5h-59.7zM589.5 2020.9h59.7v1.5h-59.7zM589.5 2026.3h59.7v2.8h-59.7zM589.5 2037.1h59.7v1.5h-59.7zM589.5 2068.1h59.7v1.5h-59.7zM589.5 2076.2h59.7v1.5h-59.7zM589.5 2078.9h59.7v1.5h-59.7zM589.5 2131.5h59.7v1.5h-59.7zM589.5 2141h59.7v2.8h-59.7zM589.5 2150.4h59.7v1.5h-59.7zM589.5 2157.2h59.7v4.2h-59.7zM589.5 2162.6h59.7v1.5h-59.7zM589.5 2186.9h59.7v1.5h-59.7zM589.5 2201.7h59.7v4.2h-59.7zM589.5 2207.1h59.7v1.5h-59.7zM649 1833.2h59.7v1.5h-59.7zM649 1837.3h59.7v1.5h-59.7zM649 1848.1h59.7v1.5h-59.7zM649 1850.8h59.7v2.8h-59.7zM649 1858.9h59.7v2.8h-59.7zM649 1865.6h59.7v1.5h-59.7zM649 1873.7h59.7v1.5h-59.7zM649 1877.8h59.7v4.2h-59.7zM649 1892.6h59.7v1.5h-59.7zM649 1896.7h59.7v1.5h-59.7zM649 1957.4h59.7v1.5h-59.7zM649 2034.4h59.7v1.5h-59.7zM649 2051.9h59.7v1.5h-59.7zM649 2061.4h59.7v2.8h-59.7zM649 2065.4h59.7v4.2h-59.7zM649 2087h59.7v1.5h-59.7zM649 2091.1h59.7v1.5h-59.7zM649 2101.9h59.7v1.5h-59.7zM649 2104.6h59.7v2.8h-59.7zM649 2122.1h59.7v6.9h-59.7zM649 2150.4h59.7v1.5h-59.7zM649 2162.6h59.7v4.2h-59.7zM649 2169.3h59.7v5.5h-59.7zM649 2178.8h59.7v1.5h-59.7zM649 2197.7h59.7v1.5h-59.7zM649 2216.6h59.7v1.5h-59.7zM708.6 1804.9h59.7v1.5h-59.7zM708.6 1815.7h59.7v1.5h-59.7zM708.6 1825.1h59.7v1.5h-59.7zM708.6 1827.8h59.7v1.5h-59.7zM708.6 1834.6h59.7v1.5h-59.7zM708.6 1838.6h59.7v1.5h-59.7zM708.6 1842.7h59.7v4.2h-59.7zM708.6 1852.1h59.7v1.5h-59.7zM708.6 1854.8h59.7v4.2h-59.7zM708.6 1861.6h59.7v2.8h-59.7zM708.6 1865.6h59.7v2.8h-59.7zM708.6 1872.4h59.7v4.2h-59.7zM708.6 1880.5h59.7v1.5h-59.7zM708.6 1885.9h59.7v1.5h-59.7zM708.6 1895.3h59.7v1.5h-59.7zM708.6 1904.8h59.7v1.5h-59.7zM708.6 1908.8h59.7v1.5h-59.7zM708.6 1961.5h59.7v2.8h-59.7zM708.6 1970.9h59.7v4.2h-59.7zM708.6 1983.1h59.7v1.5h-59.7zM708.6 1985.8h59.7v1.5h-59.7zM708.6 1988.5h59.7v4.2h-59.7zM708.6 1993.9h59.7v1.5h-59.7zM708.6 1997.9h59.7v2.8h-59.7zM708.6 2003.3h59.7v4.2h-59.7zM708.6 2008.7h59.7v4.2h-59.7zM708.6 2016.8h59.7v1.5h-59.7zM708.6 2020.9h59.7v1.5h-59.7zM708.6 2023.6h59.7v1.5h-59.7zM708.6 2026.3h59.7v1.5h-59.7zM708.6 2031.7h59.7v1.5h-59.7zM708.6 2034.4h59.7v1.5h-59.7zM708.6 2042.5h59.7v6.9h-59.7zM708.6 2050.6h59.7v5.5h-59.7zM708.6 2060h59.7v1.5h-59.7zM708.6 2081.6h59.7v1.5h-59.7zM708.6 2091.1h59.7v1.5h-59.7zM708.6 2103.2h59.7v1.5h-59.7zM708.6 2107.3h59.7v1.5h-59.7zM708.6 2114h59.7v2.8h-59.7zM708.6 2119.4h59.7v2.8h-59.7zM708.6 2123.4h59.7v1.5h-59.7zM708.6 2127.5h59.7v1.5h-59.7zM708.6 2154.5h59.7v4.2h-59.7zM708.6 2170.7h59.7v1.5h-59.7zM708.6 2173.4h59.7v1.5h-59.7zM708.6 2197.7h59.7v2.8h-59.7zM708.6 2257.1h59.7v1.5h-59.7zM708.6 2263.8h59.7v1.5h-59.7zM708.6 2266.5h59.7v1.5h-59.7zM708.6 2269.2h59.7v1.5h-59.7zM708.6 2280h59.7v1.5h-59.7z"/>
<path fill="#a48b5b" shape-rendering="crispEdges" d="M113.1 1875.1h59.7v4.2h-59.7zM113.1 1939.9h59.7v8.2h-59.7zM113.1 2091.1h59.7v2.8h-59.7zM113.1 2100.5h59.7v1.5h-59.7zM113.1 2103.2h59.7v1.5h-59.7zM113.1 2107.3h59.7v1.5h-59.7zM113.1 2186.9h59.7v1.5h-59.7zM113.1 2190.9h59.7v1.5h-59.7zM113.1 2208.5h59.7v4.2h-59.7zM113.1 2219.3h59.7v1.5h-59.7zM113.1 2224.7h59.7v1.5h-59.7zM113.1 2227.4h59.7v1.5h-59.7zM113.1 2234.1h59.7v2.8h-59.7zM113.1 2240.9h59.7v1.5h-59.7zM113.1 2258.4h59.7v2.8h-59.7zM113.1 2263.8h59.7v1.5h-59.7zM113.1 2266.5h59.7v2.8h-59.7zM113.1 2274.6h59.7v1.5h-59.7zM113.1 2278.7h59.7v4.2h-59.7zM113.1 2286.8h59.7v1.5h-59.7zM113.1 2289.5h59.7v1.5h-59.7zM113.1 2305.7h59.7v4.2h-59.7zM113.1 2316.5h59.7v6.9h-59.7zM113.1 2325.9h59.7v2.8h-59.7zM113.1 2330h59.7v1.5h-59.7zM113.1 2336.7h59.7v4.2h-59.7zM113.1 2358.3h59.7v1.5h-59.7zM113.1 2361h59.7v2.8h-59.7zM113.1 2369.1h59.7v4.2h-59.7zM113.1 2378.6h59.7v2.8h-59.7zM113.1 2382.6h59.7v1.5h-59.7zM113.1 2385.3h59.7v1.5h-59.7zM113.1 2393.4h59.7v1.5h-59.7zM113.1 2398.8h59.7v1.5h-59.7zM172.6 1895.3h59.7v1.5h-59.7zM172.6 1948h59.7v2.8h-59.7zM172.6 1973.6h59.7v8.2h-59.7zM172.6 2083h59.7v1.5h-59.7zM172.6 2096.5h59.7v1.5h-59.7zM172.6 2104.6h59.7v1.5h-59.7zM172.6 2165.3h59.7v1.5h-59.7zM172.6 2208.5h59.7v5.5h-59.7zM172.6 2215.2h59.7v2.8h-59.7zM172.6 2220.6h59.7v4.2h-59.7zM172.6 2227.4h59.7v1.5h-59.7zM172.6 2234.1h59.7v2.8h-59.7zM172.6 2239.5h59.7v12.3h-59.7zM172.6 2255.7h59.7v2.8h-59.7zM172.6 2259.8h59.7v1.5h-59.7zM172.6 2265.2h59.7v1.5h-59.7zM172.6 2269.2h59.7v1.5h-59.7zM172.6 2271.9h59.7v2.8h-59.7zM172.6 2278.7h59.7v5.5h-59.7zM172.6 2290.8h59.7v2.8h-59.7zM172.6 2296.2h59.7v1.5h-59.7zM172.6 2298.9h59.7v2.8h-59.7zM172.6 2303h59.7v1.5h-59.7zM172.6 2311.1h59.7v1.5h-59.7zM172.6 2316.5h59.7v1.5h-59.7zM172.6 2320.5h59.7v2.8h-59.7zM172.6 2325.9h59.7v1.5h-59.7zM172.6 2330h59.7v1.5h-59.7zM172.6 2332.7h59.7v2.8h-59.7zM172.6 2340.8h59.7v1.5h-59.7zM172.6 2347.5h59.7v1.5h-59.7zM172.6 2355.6h59.7v2.8h-59.7zM172.6 2369.1h59.7v1.5h-59.7zM172.6 2423.1h59.7v1.5h-59.7zM232.2 1850.8h59.7v1.5h-59.7zM232.2 1984.4h59.7v2.8h-59.7zM232.2 1988.5h59.7v1.5h-59.7zM232.2 2002h59.7v1.5h-59.7zM232.2 2053.3h59.7v1.5h-59.7zM232.2 2062.7h59.7v1.5h-59.7zM232.2 2074.9h59.7v1.5h-59.7zM232.2 2093.8h59.7v1.5h-59.7zM232.2 2103.2h59.7v4.2h-59.7zM232.2 2151.8h59.7v1.5h-59.7zM232.2 2178.8h59.7v1.5h-59.7zM232.2 2181.5h59.7v2.8h-59.7zM232.2 2192.3h59.7v1.5h-59.7zM232.2 2195h59.7v2.8h-59.7zM232.2 2208.5h59.7v2.8h-59.7zM232.2 2213.9h59.7v4.2h-59.7zM232.2 2228.7h59.7v6.9h-59.7zM232.2 2238.2h59.7v1.5h-59.7zM232.2 2253h59.7v1.5h-59.7zM232.2 2258.4h59.7v1.5h-59.7zM232.2 2267.9h59.7v4.2h-59.7zM232.2 2273.3h59.7v2.8h-59.7zM232.2 2278.7h59.7v1.5h-59.7zM232.2 2282.7h59.7v4.2h-59.7zM232.2 2288.1h59.7v5.5h-59.7zM232.2 2300.3h59.7v2.8h-59.7zM232.2 2304.3h59.7v2.8h-59.7zM232.2 2319.2h59.7v1.5h-59.7zM232.2 2321.9h59.7v1.5h-59.7zM232.2 2324.6h59.7v2.8h-59.7zM232.2 2328.6h59.7v1.5h-59.7zM232.2 2339.4h59.7v2.8h-59.7zM232.2 2343.5h59.7v2.8h-59.7zM232.2 2361h59.7v1.5h-59.7zM232.2 2365.1h59.7v1.5h-59.7zM232.2 2393.4h59.7v1.5h-59.7zM291.7 1925h59.7v2.8h-59.7zM291.7 1960.1h59.7v1.5h-59.7zM291.7 1966.9h59.7v1.5h-59.7zM291.7 2019.5h59.7v1.5h-59.7zM291.7 2108.6h59.7v1.5h-59.7zM291.7 2141h59.7v2.8h-59.7zM291.7 2145h59.7v1.5h-59.7zM291.7 2213.9h59.7v1.5h-59.7zM291.7 2217.9h59.7v1.5h-59.7zM291.7 2223.3h59.7v2.8h-59.7zM291.7 2227.4h59.7v2.8h-59.7zM291.7 2261.1h59.7v1.5h-59.7zM291.7 2263.8h59.7v1.5h-59.7zM291.7 2269.2h59.7v1.5h-59.7zM291.7 2281.4h59.7v1.5h-59.7zM291.7 2285.4h59.7v1.5h-59.7zM291.7 2292.2h59.7v1.5h-59.7zM291.7 2311.1h59.7v1.5h-59.7zM291.7 2313.8h59.7v2.8h-59.7zM291.7 2317.8h59.7v2.8h-59.7zM291.7 2327.3h59.7v2.8h-59.7zM291.7 2332.7h59.7v1.5h-59.7zM291.7 2343.5h59.7v1.5h-59.7zM291.7 2350.2h59.7v1.5h-59.7zM291.7 2377.2h59.7v1.5h-59.7zM291.7 2379.9h59.7v1.5h-59.7zM291.7 2384h59.7v1.5h-59.7zM291.7 2386.7h59.7v2.8h-59.7zM351.3 2004.7h59.7v1.5h-59.7zM351.3 2097.8h59.7v1.5h-59.7zM351.3 2108.6h59.7v1.5h-59.7zM351.3 2111.3h59.7v5.5h-59.7zM351.3 2122.1h59.7v2.8h-59.7zM351.3 2130.2h59.7v2.8h-59.7zM351.3 2135.6h59.7v1.5h-59.7zM351.3 2211.2h59.7v2.8h-59.7zM351.3 2215.2h59.7v2.8h-59.7zM351.3 2219.3h59.7v1.5h-59.7zM351.3 2222h59.7v1.5h-59.7zM351.3 2228.7h59.7v1.5h-59.7zM351.3 2240.9h59.7v1.5h-59.7zM351.3 2251.7h59.7v1.5h-59.7zM351.3 2276h59.7v1.5h-59.7zM351.3 2278.7h59.7v1.5h-59.7zM351.3 2284.1h59.7v2.8h-59.7zM351.3 2293.5h59.7v1.5h-59.7zM351.3 2298.9h59.7v2.8h-59.7zM351.3 2315.1h59.7v2.8h-59.7zM351.3 2323.2h59.7v2.8h-59.7zM351.3 2330h59.7v1.5h-59.7zM351.3 2374.5h59.7v1.5h-59.7zM351.3 2415h59.7v1.5h-59.7zM351.3 2417.7h59.7v2.8h-59.7zM351.3 2421.8h59.7v2.8h-59.7zM351.3 2427.2h59.7v1.5h-59.7zM410.8 1796.8h59.7v1.5h-59.7zM410.8 1810.3h59.7v2.8h-59.7zM410.8 1837.3h59.7v1.5h-59.7zM410.8 1840h59.7v1.5h-59.7zM410.8 1848.1h59.7v1.5h-59.7zM410.8 1852.1h59.7v2.8h-59.7zM410.8 1856.2h59.7v1.5h-59.7zM410.8 1861.6h59.7v2.8h-59.7zM410.8 1868.3h59.7v1.5h-59.7zM410.8 1876.4h59.7v1.5h-59.7zM410.8 1883.2h59.7v1.5h-59.7zM410.8 1887.2h59.7v4.2h-59.7zM410.8 1900.7h59.7v1.5h-59.7zM410.8 1903.4h59.7v2.8h-59.7zM410.8 1911.5h59.7v4.2h-59.7zM410.8 1921h59.7v1.5h-59.7zM410.8 1935.8h59.7v1.5h-59.7zM410.8 1939.9h59.7v5.5h-59.7zM410.8 1949.3h59.7v4.2h-59.7zM410.8 1956.1h59.7v5.5h-59.7zM410.8 1979h59.7v1.5h-59.7zM410.8 1988.5h59.7v1.5h-59.7zM410.8 2000.6h59.7v1.5h-59.7zM410.8 2003.3h59.7v1.5h-59.7zM410.8 2007.4h59.7v1.5h-59.7zM410.8 2018.2h59.7v1.5h-59.7zM410.8 2026.3h59.7v1.5h-59.7zM410.8 2029h59.7v1.5h-59.7zM410.8 2039.8h59.7v1.5h-59.7zM410.8 2042.5h59.7v4.2h-59.7zM410.8 2047.9h59.7v1.5h-59.7zM410.8 2173.4h59.7v1.5h-59.7zM410.8 2369.1h59.7v1.5h-59.7zM410.8 2371.8h59.7v2.8h-59.7zM410.8 2378.6h59.7v1.5h-59.7zM410.8 2382.6h59.7v1.5h-59.7zM410.8 2389.4h59.7v1.5h-59.7zM410.8 2393.4h59.7v6.9h-59.7zM410.8 2409.6h59.7v4.2h-59.7zM410.8 2416.4h59.7v1.5h-59.7zM410.8 2420.4h59.7v1.5h-59.7zM410.8 2429.9h59.7v1.5h-59.7zM470.4 1810.3h59.7v1.5h-59.7zM470.4 1833.2h59.7v1.5h-59.7zM470.4 1838.6h59.7v1.5h-59.7zM470.4 1844h59.7v5.5h-59.7zM470.4 1861.6h59.7v1.5h-59.7zM470.4 1877.8h59.7v1.5h-59.7zM470.4 1883.2h59.7v1.5h-59.7zM470.4 1885.9h59.7v5.5h-59.7zM470.4 1894h59.7v2.8h-59.7zM470.4 1900.7h59.7v1.5h-59.7zM470.4 1903.4h59.7v1.5h-59.7zM470.4 1906.1h59.7v1.5h-59.7zM470.4 1910.2h59.7v1.5h-59.7zM470.4 1921h59.7v1.5h-59.7zM470.4 1925h59.7v5.5h-59.7zM470.4 1931.8h59.7v1.5h-59.7zM470.4 1946.6h59.7v1.5h-59.7zM470.4 1952h59.7v1.5h-59.7zM470.4 1960.1h59.7v1.5h-59.7zM470.4 1968.2h59.7v1.5h-59.7zM470.4 1970.9h59.7v2.8h-59.7zM470.4 1977.7h59.7v1.5h-59.7zM470.4 2000.6h59.7v2.8h-59.7zM470.4 2006h59.7v2.8h-59.7zM470.4 2011.4h59.7v1.5h-59.7zM470.4 2014.1h59.7v1.5h-59.7zM470.4 2018.2h59.7v1.5h-59.7zM470.4 2024.9h59.7v1.5h-59.7zM470.4 2027.6h59.7v1.5h-59.7zM470.4 2050.6h59.7v1.5h-59.7zM470.4 2060h59.7v1.5h-59.7zM470.4 2074.9h59.7v1.5h-59.7zM470.4 2078.9h59.7v1.5h-59.7zM470.4 2083h59.7v1.5h-59.7zM470.4 2089.7h59.7v1.5h-59.7zM470.4 2092.4h59.7v2.8h-59.7zM470.4 2193.6h59.7v1.5h-59.7zM470.4 2289.5h59.7v1.5h-59.7zM470.4 2362.4h59.7v2.8h-59.7zM470.4 2374.5h59.7v5.5h-59.7zM470.4 2390.7h59.7v1.5h-59.7zM470.4 2406.9h59.7v2.8h-59.7zM470.4 2415h59.7v2.8h-59.7zM529.9 1818.4h59.7v1.5h-59.7zM529.9 1841.3h59.7v1.5h-59.7zM529.9 1846.7h59.7v4.2h-59.7zM529.9 1852.1h59.7v1.5h-59.7zM529.9 1871h59.7v1.5h-59.7zM529.9 1876.4h59.7v2.8h-59.7zM529.9 1880.5h59.7v1.5h-59.7zM529.9 1888.6h59.7v4.2h-59.7zM529.9 1896.7h59.7v1.5h-59.7zM529.9 1926.4h59.7v1.5h-59.7zM529.9 1992.5h59.7v1.5h-59.7zM529.9 2085.7h59.7v2.8h-59.7zM529.9 2089.7h59.7v1.5h-59.7zM529.9 2093.8h59.7v1.5h-59.7zM529.9 2105.9h59.7v4.2h-59.7zM529.9 2114h59.7v1.5h-59.7zM529.9 2118h59.7v2.8h-59.7zM529.9 2132.9h59.7v2.8h-59.7zM529.9 2142.3h59.7v5.5h-59.7zM529.9 2150.4h59.7v1.5h-59.7zM529.9 2162.6h59.7v1.5h-59.7zM529.9 2173.4h59.7v1.5h-59.7zM529.9 2182.8h59.7v5.5h-59.7zM529.9 2200.4h59.7v4.2h-59.7zM529.9 2205.8h59.7v2.8h-59.7zM529.9 2216.6h59.7v1.5h-59.7zM529.9 2246.3h59.7v5.5h-59.7zM529.9 2253h59.7v1.5h-59.7zM529.9 2270.6h59.7v1.5h-59.7zM529.9 2278.7h59.7v1.5h-59.7zM529.9 2321.9h59.7v2.8h-59.7zM529.9 2327.3h59.7v1.5h-59.7zM529.9 2351.6h59.7v2.8h-59.7zM529.9 2366.4h59.7v1.5h-59.7zM589.5 1822.4h59.7v5.5h-59.7zM589.5 1842.7h59.7v1.5h-59.7zM589.5 1845.4h59.7v1.5h-59.7zM589.5 1852.1h59.7v1.5h-59.7zM589.5 1898h59.7v1.5h-59.7zM589.5 1900.7h59.7v4.2h-59.7zM589.5 1911.5h59.7v1.5h-59.7zM589.5 1915.6h59.7v2.8h-59.7zM589.5 1930.4h59.7v1.5h-59.7zM589.5 1956.1h59.7v1.5h-59.7zM589.5 2006h59.7v1.5h-59.7zM589.5 2015.5h59.7v2.8h-59.7zM589.5 2022.2h59.7v1.5h-59.7zM589.5 2024.9h59.7v1.5h-59.7zM589.5 2031.7h59.7v1.5h-59.7zM589.5 2043.8h59.7v1.5h-59.7zM589.5 2046.5h59.7v1.5h-59.7zM589.5 2069.5h59.7v1.5h-59.7zM589.5 2077.6h59.7v1.5h-59.7zM589.5 2084.3h59.7v5.5h-59.7zM589.5 2091.1h59.7v1.5h-59.7zM589.5 2096.5h59.7v2.8h-59.7zM589.5 2101.9h59.7v1.5h-59.7zM589.5 2132.9h59.7v2.8h-59.7zM589.5 2138.3h59.7v2.8h-59.7zM589.5 2143.7h59.7v2.8h-59.7zM589.5 2226h59.7v1.5h-59.7zM589.5 2232.8h59.7v2.8h-59.7zM649 1835.9h59.7v1.5h-59.7zM649 1838.6h59.7v6.9h-59.7zM649 1846.7h59.7v1.5h-59.7zM649 1854.8h59.7v1.5h-59.7zM649 1864.3h59.7v1.5h-59.7zM649 1867h59.7v1.5h-59.7zM649 1869.7h59.7v1.5h-59.7zM649 1872.4h59.7v1.5h-59.7zM649 1876.4h59.7v1.5h-59.7zM649 1881.8h59.7v1.5h-59.7zM649 1884.5h59.7v2.8h-59.7zM649 1889.9h59.7v1.5h-59.7zM649 1894h59.7v1.5h-59.7zM649 1953.4h59.7v1.5h-59.7zM649 1958.8h59.7v1.5h-59.7zM649 2022.2h59.7v2.8h-59.7zM649 2027.6h59.7v2.8h-59.7zM649 2054.6h59.7v6.9h-59.7zM649 2064.1h59.7v1.5h-59.7zM649 2069.5h59.7v4.2h-59.7zM649 2078.9h59.7v1.5h-59.7zM649 2095.1h59.7v2.8h-59.7zM649 2100.5h59.7v1.5h-59.7zM649 2107.3h59.7v1.5h-59.7zM649 2111.3h59.7v1.5h-59.7zM649 2115.3h59.7v1.5h-59.7zM649 2118h59.7v4.2h-59.7zM649 2128.8h59.7v6.9h-59.7zM649 2138.3h59.7v6.9h-59.7zM649 2161.2h59.7v1.5h-59.7zM649 2174.7h59.7v4.2h-59.7zM649 2180.1h59.7v1.5h-59.7zM649 2189.6h59.7v1.5h-59.7zM649 2196.3h59.7v1.5h-59.7zM649 2204.4h59.7v1.5h-59.7zM649 2207.1h59.7v1.5h-59.7zM649 2242.2h59.7v1.5h-59.7zM708.6 1796.8h59.7v4.2h-59.7zM708.6 1802.2h59.7v1.5h-59.7zM708.6 1811.6h59.7v4.2h-59.7zM708.6 1818.4h59.7v6.9h-59.7zM708.6 1830.5h59.7v1.5h-59.7zM708.6 1835.9h59.7v2.8h-59.7zM708.6 1840h59.7v2.8h-59.7zM708.6 1846.7h59.7v2.8h-59.7zM708.6 1877.8h59.7v2.8h-59.7zM708.6 1881.8h59.7v4.2h-59.7zM708.6 1889.9h59.7v1.5h-59.7zM708.6 1894h59.7v1.5h-59.7zM708.6 1900.7h59.7v1.5h-59.7zM708.6 1919.6h59.7v1.5h-59.7zM708.6 1922.3h59.7v2.8h-59.7zM708.6 1945.3h59.7v1.5h-59.7zM708.6 1953.4h59.7v1.5h-59.7zM708.6 1969.6h59.7v1.5h-59.7zM708.6 1975h59.7v6.9h-59.7zM708.6 1984.4h59.7v1.5h-59.7zM708.6 1987.1h59.7v1.5h-59.7zM708.6 1995.2h59.7v2.8h-59.7zM708.6 2000.6h59.7v1.5h-59.7zM708.6 2007.4h59.7v1.5h-59.7zM708.6 2012.8h59.7v1.5h-59.7zM708.6 2015.5h59.7v1.5h-59.7zM708.6 2018.2h59.7v1.5h-59.7zM708.6 2027.6h59.7v1.5h-59.7zM708.6 2033h59.7v1.5h-59.7zM708.6 2035.7h59.7v6.9h-59.7zM708.6 2057.3h59.7v1.5h-59.7zM708.6 2078.9h59.7v1.5h-59.7zM708.6 2085.7h59.7v1.5h-59.7zM708.6 2105.9h59.7v1.5h-59.7zM708.6 2108.6h59.7v1.5h-59.7zM708.6 2111.3h59.7v1.5h-59.7zM708.6 2116.7h59.7v2.8h-59.7zM708.6 2126.1h59.7v1.5h-59.7zM708.6 2128.8h59.7v2.8h-59.7zM708.6 2172h59.7v1.5h-59.7zM708.6 2186.9h59.7v1.5h-59.7zM708.6 2189.6h59.7v1.5h-59.7zM708.6 2200.4h59.7v1.5h-59.7zM708.6 2216.6h59.7v1.5h-59.7zM708.6 2261.1h59.7v2.8h-59.7zM708.6 2267.9h59.7v1.5h-59.7zM708.6 2276h59.7v1.5h-59.7z"/>
<path fill="#92856e" shape-rendering="crispEdges" d="M113.1 1879.1h59.7v1.5h-59.7zM113.1 1889.9h59.7v1.5h-59.7zM113.1 1948h59.7v1.5h-59.7zM113.1 1987.1h59.7v2.8h-59.7zM113.1 1991.2h59.7v1.5h-59.7zM113.1 2058.7h59.7v1.5h-59.7zM113.1 2061.4h59.7v1.5h-59.7zM113.1 2089.7h59.7v1.5h-59.7zM113.1 2101.9h59.7v1.5h-59.7zM113.1 2110h59.7v1.5h-59.7zM113.1 2122.1h59.7v1.5h-59.7zM113.1 2126.1h59.7v2.8h-59.7zM113.1 2135.6h59.7v1.5h-59.7zM113.1 2174.7h59.7v2.8h-59.7zM113.1 2185.5h59.7v1.5h-59.7zM113.1 2188.2h59.7v2.8h-59.7zM113.1 2192.3h59.7v1.5h-59.7zM113.1 2196.3h59.7v1.5h-59.7zM113.1 2199h59.7v1.5h-59.7zM113.1 2201.7h59.7v1.5h-59.7zM113.1 2212.5h59.7v1.5h-59.7zM113.1 2220.6h59.7v4.2h-59.7zM113.1 2228.7h59.7v2.8h-59.7zM113.1 2232.8h59.7v1.5h-59.7zM113.1 2238.2h59.7v1.5h-59.7zM113.1 2255.7h59.7v1.5h-59.7zM113.1 2284.1h59.7v1.5h-59.7zM113.1 2288.1h59.7v1.5h-59.7zM113.1 2309.7h59.7v2.8h-59.7zM113.1 2323.2h59.7v1.5h-59.7zM113.1 2363.7h59.7v5.5h-59.7zM113.1 2373.2h59.7v1.5h-59.7zM113.1 2375.9h59.7v1.5h-59.7zM113.1 2381.3h59.7v1.5h-59.7zM113.1 2384h59.7v1.5h-59.7zM113.1 2386.7h59.7v2.8h-59.7zM113.1 2392.1h59.7v1.5h-59.7zM113.1 2402.9h59.7v2.8h-59.7zM172.6 1811.6h59.7v4.2h-59.7zM172.6 1817h59.7v1.5h-59.7zM172.6 1842.7h59.7v4.2h-59.7zM172.6 1848.1h59.7v1.5h-59.7zM172.6 1858.9h59.7v2.8h-59.7zM172.6 1871h59.7v1.5h-59.7zM172.6 1891.3h59.7v1.5h-59.7zM172.6 1894h59.7v1.5h-59.7zM172.6 1896.7h59.7v2.8h-59.7zM172.6 1927.7h59.7v2.8h-59.7zM172.6 1946.6h59.7v1.5h-59.7zM172.6 1983.1h59.7v2.8h-59.7zM172.6 2074.9h59.7v1.5h-59.7zM172.6 2091.1h59.7v1.5h-59.7zM172.6 2095.1h59.7v1.5h-59.7zM172.6 2097.8h59.7v1.5h-59.7zM172.6 2100.5h59.7v1.5h-59.7zM172.6 2103.2h59.7v1.5h-59.7zM172.6 2105.9h59.7v2.8h-59.7zM172.6 2120.7h59.7v1.5h-59.7zM172.6 2182.8h59.7v2.8h-59.7zM172.6 2188.2h59.7v4.2h-59.7zM172.6 2193.6h59.7v1.5h-59.7zM172.6 2213.9h59.7v1.5h-59.7zM172.6 2217.9h59.7v2.8h-59.7zM172.6 2228.7h59.7v5.5h-59.7zM172.6 2236.8h59.7v2.8h-59.7zM172.6 2253h59.7v2.8h-59.7zM172.6 2258.4h59.7v1.5h-59.7zM172.6 2261.1h59.7v2.8h-59.7zM172.6 2266.5h59.7v2.8h-59.7zM172.6 2270.6h59.7v1.5h-59.7zM172.6 2276h59.7v2.8h-59.7zM172.6 2284.1h59.7v4.2h-59.7zM172.6 2289.5h59.7v1.5h-59.7zM172.6 2294.9h59.7v1.5h-59.7zM172.6 2304.3h59.7v4.2h-59.7zM172.6 2319.2h59.7v1.5h-59.7zM172.6 2323.2h59.7v2.8h-59.7zM172.6 2338.1h59.7v2.8h-59.7zM172.6 2342.1h59.7v2.8h-59.7zM172.6 2346.2h59.7v1.5h-59.7zM172.6 2352.9h59.7v1.5h-59.7zM172.6 2359.7h59.7v1.5h-59.7zM172.6 2362.4h59.7v1.5h-59.7zM172.6 2367.8h59.7v1.5h-59.7zM172.6 2370.5h59.7v1.5h-59.7zM172.6 2385.3h59.7v1.5h-59.7zM172.6 2389.4h59.7v2.8h-59.7zM172.6 2396.1h59.7v2.8h-59.7zM172.6 2421.8h59.7v1.5h-59.7zM172.6 2424.5h59.7v1.5h-59.7zM232.2 1849.4h59.7v1.5h-59.7zM232.2 1852.1h59.7v1.5h-59.7zM232.2 1871h59.7v1.5h-59.7zM232.2 1934.5h59.7v1.5h-59.7zM232.2 1937.2h59.7v2.8h-59.7zM232.2 1989.8h59.7v1.5h-59.7zM232.2 1995.2h59.7v1.5h-59.7zM232.2 2003.3h59.7v1.5h-59.7zM232.2 2007.4h59.7v2.8h-59.7zM232.2 2012.8h59.7v1.5h-59.7zM232.2 2015.5h59.7v1.5h-59.7zM232.2 2049.2h59.7v2.8h-59.7zM232.2 2057.3h59.7v1.5h-59.7zM232.2 2061.4h59.7v1.5h-59.7zM232.2 2064.1h59.7v1.5h-59.7zM232.2 2066.8h59.7v2.8h-59.7zM232.2 2076.2h59.7v4.2h-59.7zM232.2 2100.5h59.7v2.8h-59.7zM232.2 2116.7h59.7v1.5h-59.7zM232.2 2126.1h59.7v1.5h-59.7zM232.2 2150.4h59.7v1.5h-59.7zM232.2 2155.8h59.7v1.5h-59.7zM232.2 2193.6h59.7v1.5h-59.7zM232.2 2211.2h59.7v2.8h-59.7zM232.2 2217.9h59.7v1.5h-59.7zM232.2 2224.7h59.7v1.5h-59.7zM232.2 2227.4h59.7v1.5h-59.7zM232.2 2235.5h59.7v2.8h-59.7zM232.2 2240.9h59.7v4.2h-59.7zM232.2 2247.6h59.7v1.5h-59.7zM232.2 2250.3h59.7v1.5h-59.7zM232.2 2254.4h59.7v4.2h-59.7zM232.2 2276h59.7v1.5h-59.7zM232.2 2293.5h59.7v2.8h-59.7zM232.2 2297.6h59.7v1.5h-59.7zM232.2 2303h59.7v1.5h-59.7zM232.2 2320.5h59.7v1.5h-59.7zM232.2 2323.2h59.7v1.5h-59.7zM232.2 2327.3h59.7v1.5h-59.7zM232.2 2332.7h59.7v2.8h-59.7zM232.2 2346.2h59.7v5.5h-59.7zM232.2 2359.7h59.7v1.5h-59.7zM232.2 2362.4h59.7v2.8h-59.7zM232.2 2366.4h59.7v2.8h-59.7zM232.2 2394.8h59.7v1.5h-59.7zM232.2 2401.5h59.7v2.8h-59.7zM232.2 2429.9h59.7v1.5h-59.7zM291.7 1800.8h59.7v1.5h-59.7zM291.7 1803.5h59.7v2.8h-59.7zM291.7 1807.6h59.7v1.5h-59.7zM291.7 1922.3h59.7v2.8h-59.7zM291.7 1927.7h59.7v1.5h-59.7zM291.7 1961.5h59.7v4.2h-59.7zM291.7 2022.2h59.7v1.5h-59.7zM291.7 2024.9h59.7v2.8h-59.7zM291.7 2043.8h59.7v1.5h-59.7zM291.7 2069.5h59.7v2.8h-59.7zM291.7 2087h59.7v1.5h-59.7zM291.7 2100.5h59.7v1.5h-59.7zM291.7 2112.7h59.7v1.5h-59.7zM291.7 2126.1h59.7v1.5h-59.7zM291.7 2131.5h59.7v1.5h-59.7zM291.7 2209.8h59.7v1.5h-59.7zM291.7 2215.2h59.7v1.5h-59.7zM291.7 2219.3h59.7v4.2h-59.7zM291.7 2226h59.7v1.5h-59.7zM291.7 2230.1h59.7v1.5h-59.7zM291.7 2236.8h59.7v2.8h-59.7zM291.7 2247.6h59.7v5.5h-59.7zM291.7 2262.5h59.7v1.5h-59.7zM291.7 2267.9h59.7v1.5h-59.7zM291.7 2270.6h59.7v1.5h-59.7zM291.7 2276h59.7v5.5h-59.7zM291.7 2282.7h59.7v2.8h-59.7zM291.7 2286.8h59.7v5.5h-59.7zM291.7 2296.2h59.7v1.5h-59.7zM291.7 2307h59.7v4.2h-59.7zM291.7 2320.5h59.7v2.8h-59.7zM291.7 2325.9h59.7v1.5h-59.7zM291.7 2330h59.7v1.5h-59.7zM291.7 2374.5h59.7v2.8h-59.7zM291.7 2381.3h59.7v2.8h-59.7zM291.7 2385.3h59.7v1.5h-59.7zM351.3 1841.3h59.7v5.5h-59.7zM351.3 1996.6h59.7v1.5h-59.7zM351.3 2000.6h59.7v2.8h-59.7zM351.3 2006h59.7v1.5h-59.7zM351.3 2011.4h59.7v1.5h-59.7zM351.3 2026.3h59.7v2.8h-59.7zM351.3 2041.1h59.7v2.8h-59.7zM351.3 2045.2h59.7v1.5h-59.7zM351.3 2095.1h59.7v2.8h-59.7zM351.3 2099.2h59.7v4.2h-59.7zM351.3 2105.9h59.7v2.8h-59.7zM351.3 2110h59.7v1.5h-59.7zM351.3 2116.7h59.7v1.5h-59.7zM351.3 2124.8h59.7v1.5h-59.7zM351.3 2127.5h59.7v2.8h-59.7zM351.3 2132.9h59.7v1.5h-59.7zM351.3 2141h59.7v5.5h-59.7zM351.3 2163.9h59.7v1.5h-59.7zM351.3 2168h59.7v1.5h-59.7zM351.3 2174.7h59.7v2.8h-59.7zM351.3 2217.9h59.7v1.5h-59.7zM351.3 2220.6h59.7v1.5h-59.7zM351.3 2227.4h59.7v1.5h-59.7zM351.3 2230.1h59.7v2.8h-59.7zM351.3 2239.5h59.7v1.5h-59.7zM351.3 2242.2h59.7v8.2h-59.7zM351.3 2253h59.7v1.5h-59.7zM351.3 2263.8h59.7v1.5h-59.7zM351.3 2270.6h59.7v2.8h-59.7zM351.3 2301.6h59.7v2.8h-59.7zM351.3 2319.2h59.7v4.2h-59.7zM351.3 2325.9h59.7v2.8h-59.7zM351.3 2331.3h59.7v1.5h-59.7zM351.3 2369.1h59.7v2.8h-59.7zM351.3 2373.2h59.7v1.5h-59.7zM351.3 2375.9h59.7v2.8h-59.7zM351.3 2379.9h59.7v1.5h-59.7zM351.3 2412.3h59.7v2.8h-59.7zM351.3 2420.4h59.7v1.5h-59.7zM351.3 2428.5h59.7v1.5h-59.7zM410.8 1835.9h59.7v1.5h-59.7zM410.8 1846.7h59.7v1.5h-59.7zM410.8 1854.8h59.7v1.5h-59.7zM410.8 1857.5h59.7v1.5h-59.7zM410.8 1864.3h59.7v4.2h-59.7zM410.8 1871h59.7v4.2h-59.7zM410.8 1881.8h59.7v1.5h-59.7zM410.8 1895.3h59.7v1.5h-59.7zM410.8 1922.3h59.7v1.5h-59.7zM410.8 1954.7h59.7v1.5h-59.7zM410.8 1961.5h59.7v4.2h-59.7zM410.8 1968.2h59.7v1.5h-59.7zM410.8 1975h59.7v4.2h-59.7zM410.8 1981.7h59.7v5.5h-59.7zM410.8 2002h59.7v1.5h-59.7zM410.8 2008.7h59.7v1.5h-59.7zM410.8 2015.5h59.7v2.8h-59.7zM410.8 2019.5h59.7v6.9h-59.7zM410.8 2033h59.7v4.2h-59.7zM410.8 2050.6h59.7v1.5h-59.7zM410.8 2054.6h59.7v1.5h-59.7zM410.8 2074.9h59.7v5.5h-59.7zM410.8 2083h59.7v2.8h-59.7zM410.8 2092.4h59.7v1.5h-59.7zM410.8 2172h59.7v1.5h-59.7zM410.8 2174.7h59.7v2.8h-59.7zM410.8 2182.8h59.7v1.5h-59.7zM410.8 2196.3h59.7v2.8h-59.7zM410.8 2357h59.7v1.5h-59.7zM410.8 2365.1h59.7v1.5h-59.7zM410.8 2367.8h59.7v1.5h-59.7zM410.8 2374.5h59.7v1.5h-59.7zM410.8 2379.9h59.7v2.8h-59.7zM410.8 2401.5h59.7v2.8h-59.7zM410.8 2406.9h59.7v1.5h-59.7zM410.8 2413.7h59.7v2.8h-59.7zM410.8 2421.8h59.7v1.5h-59.7zM410.8 2427.2h59.7v1.5h-59.7zM470.4 1835.9h59.7v2.8h-59.7zM470.4 1840h59.7v4.2h-59.7zM470.4 1860.2h59.7v1.5h-59.7zM470.4 1862.9h59.7v4.2h-59.7zM470.4 1871h59.7v1.5h-59.7zM470.4 1875.1h59.7v2.8h-59.7zM470.4 1879.1h59.7v2.8h-59.7zM470.4 1884.5h59.7v1.5h-59.7zM470.4 1891.3h59.7v2.8h-59.7zM470.4 1902.1h59.7v1.5h-59.7zM470.4 1904.8h59.7v1.5h-59.7zM470.4 1953.4h59.7v2.8h-59.7zM470.4 1969.6h59.7v1.5h-59.7zM470.4 1973.6h59.7v1.5h-59.7zM470.4 1979h59.7v1.5h-59.7zM470.4 1988.5h59.7v2.8h-59.7zM470.4 2049.2h59.7v1.5h-59.7zM470.4 2051.9h59.7v2.8h-59.7zM470.4 2057.3h59.7v1.5h-59.7zM470.4 2073.5h59.7v1.5h-59.7zM470.4 2076.2h59.7v2.8h-59.7zM470.4 2084.3h59.7v5.5h-59.7zM470.4 2172h59.7v2.8h-59.7zM470.4 2195h59.7v1.5h-59.7zM470.4 2197.7h59.7v2.8h-59.7zM470.4 2292.2h59.7v1.5h-59.7zM470.4 2365.1h59.7v2.8h-59.7zM470.4 2369.1h59.7v4.2h-59.7zM470.4 2379.9h59.7v1.5h-59.7zM470.4 2382.6h59.7v8.2h-59.7zM470.4 2392.1h59.7v2.8h-59.7zM470.4 2402.9h59.7v1.5h-59.7zM470.4 2409.6h59.7v1.5h-59.7zM470.4 2417.7h59.7v4.2h-59.7zM470.4 2424.5h59.7v1.5h-59.7zM529.9 1814.3h59.7v4.2h-59.7zM529.9 1819.7h59.7v2.8h-59.7zM529.9 1834.6h59.7v2.8h-59.7zM529.9 1853.5h59.7v1.5h-59.7zM529.9 1868.3h59.7v1.5h-59.7zM529.9 1875.1h59.7v1.5h-59.7zM529.9 1879.1h59.7v1.5h-59.7zM529.9 1881.8h59.7v2.8h-59.7zM529.9 1885.9h59.7v1.5h-59.7zM529.9 1892.6h59.7v1.5h-59.7zM529.9 1895.3h59.7v1.5h-59.7zM529.9 1898h59.7v1.5h-59.7zM529.9 1900.7h59.7v1.5h-59.7zM529.9 1975h59.7v1.5h-59.7zM529.9 1987.1h59.7v2.8h-59.7zM529.9 1991.2h59.7v1.5h-59.7zM529.9 2088.4h59.7v1.5h-59.7zM529.9 2097.8h59.7v1.5h-59.7zM529.9 2112.7h59.7v1.5h-59.7zM529.9 2120.7h59.7v4.2h-59.7zM529.9 2163.9h59.7v4.2h-59.7zM529.9 2170.7h59.7v1.5h-59.7zM529.9 2189.6h59.7v1.5h-59.7zM529.9 2195h59.7v2.8h-59.7zM529.9 2199h59.7v1.5h-59.7zM529.9 2204.4h59.7v1.5h-59.7zM529.9 2209.8h59.7v1.5h-59.7zM529.9 2215.2h59.7v1.5h-59.7zM529.9 2217.9h59.7v4.2h-59.7zM529.9 2232.8h59.7v2.8h-59.7zM529.9 2240.9h59.7v1.5h-59.7zM529.9 2243.6h59.7v2.8h-59.7zM529.9 2251.7h59.7v1.5h-59.7zM529.9 2257.1h59.7v4.2h-59.7zM529.9 2269.2h59.7v1.5h-59.7zM529.9 2276h59.7v1.5h-59.7zM529.9 2280h59.7v1.5h-59.7zM529.9 2284.1h59.7v2.8h-59.7zM529.9 2288.1h59.7v2.8h-59.7zM529.9 2292.2h59.7v1.5h-59.7zM529.9 2294.9h59.7v1.5h-59.7zM529.9 2324.6h59.7v2.8h-59.7zM529.9 2330h59.7v9.6h-59.7zM529.9 2346.2h59.7v5.5h-59.7zM529.9 2354.3h59.7v1.5h-59.7zM529.9 2365.1h59.7v1.5h-59.7zM529.9 2375.9h59.7v1.5h-59.7zM529.9 2379.9h59.7v1.5h-59.7zM529.9 2394.8h59.7v1.5h-59.7zM529.9 2401.5h59.7v1.5h-59.7zM529.9 2405.6h59.7v1.5h-59.7zM589.5 1798.1h59.7v1.5h-59.7zM589.5 1827.8h59.7v1.5h-59.7zM589.5 1835.9h59.7v6.9h-59.7zM589.5 1844h59.7v1.5h-59.7zM589.5 1846.7h59.7v5.5h-59.7zM589.5 1854.8h59.7v1.5h-59.7zM589.5 1857.5h59.7v1.5h-59.7zM589.5 1872.4h59.7v1.5h-59.7zM589.5 2019.5h59.7v1.5h-59.7zM589.5 2023.6h59.7v1.5h-59.7zM589.5 2030.3h59.7v1.5h-59.7zM589.5 2033h59.7v1.5h-59.7zM589.5 2035.7h59.7v1.5h-59.7zM589.5 2047.9h59.7v2.8h-59.7zM589.5 2070.8h59.7v1.5h-59.7zM589.5 2092.4h59.7v1.5h-59.7zM589.5 2100.5h59.7v1.5h-59.7zM589.5 2103.2h59.7v1.5h-59.7zM589.5 2107.3h59.7v2.8h-59.7zM589.5 2116.7h59.7v2.8h-59.7zM589.5 2122.1h59.7v1.5h-59.7zM589.5 2124.8h59.7v1.5h-59.7zM589.5 2127.5h59.7v1.5h-59.7zM589.5 2135.6h59.7v1.5h-59.7zM589.5 2235.5h59.7v1.5h-59.7zM589.5 2251.7h59.7v1.5h-59.7zM589.5 2255.7h59.7v1.5h-59.7zM589.5 2276h59.7v1.5h-59.7zM589.5 2280h59.7v1.5h-59.7zM649 1806.2h59.7v1.5h-59.7zM649 1829.2h59.7v2.8h-59.7zM649 1845.4h59.7v1.5h-59.7zM649 1849.4h59.7v1.5h-59.7zM649 1853.5h59.7v1.5h-59.7zM649 1856.2h59.7v2.8h-59.7zM649 1868.3h59.7v1.5h-59.7zM649 1875.1h59.7v1.5h-59.7zM649 1883.2h59.7v1.5h-59.7zM649 1887.2h59.7v2.8h-59.7zM649 1929.1h59.7v1.5h-59.7zM649 1952h59.7v1.5h-59.7zM649 1956.1h59.7v1.5h-59.7zM649 1962.8h59.7v1.5h-59.7zM649 2002h59.7v1.5h-59.7zM649 2004.7h59.7v1.5h-59.7zM649 2008.7h59.7v1.5h-59.7zM649 2011.4h59.7v1.5h-59.7zM649 2018.2h59.7v4.2h-59.7zM649 2024.9h59.7v1.5h-59.7zM649 2030.3h59.7v2.8h-59.7zM649 2035.7h59.7v1.5h-59.7zM649 2038.4h59.7v1.5h-59.7zM649 2042.5h59.7v1.5h-59.7zM649 2053.3h59.7v1.5h-59.7zM649 2097.8h59.7v2.8h-59.7zM649 2108.6h59.7v1.5h-59.7zM649 2114h59.7v1.5h-59.7zM649 2116.7h59.7v1.5h-59.7zM649 2136.9h59.7v1.5h-59.7zM649 2145h59.7v1.5h-59.7zM649 2182.8h59.7v1.5h-59.7zM649 2185.5h59.7v4.2h-59.7zM649 2190.9h59.7v5.5h-59.7zM649 2199h59.7v1.5h-59.7zM649 2201.7h59.7v2.8h-59.7zM649 2253h59.7v5.5h-59.7zM649 2282.7h59.7v4.2h-59.7zM649 2288.1h59.7v2.8h-59.7zM708.6 1800.8h59.7v1.5h-59.7zM708.6 1803.5h59.7v1.5h-59.7zM708.6 1810.3h59.7v1.5h-59.7zM708.6 1831.9h59.7v2.8h-59.7zM708.6 1849.4h59.7v2.8h-59.7zM708.6 1876.4h59.7v1.5h-59.7zM708.6 1887.2h59.7v2.8h-59.7zM708.6 1891.3h59.7v2.8h-59.7zM708.6 1896.7h59.7v2.8h-59.7zM708.6 1902.1h59.7v2.8h-59.7zM708.6 1910.2h59.7v2.8h-59.7zM708.6 1914.2h59.7v2.8h-59.7zM708.6 1921h59.7v1.5h-59.7zM708.6 1927.7h59.7v1.5h-59.7zM708.6 1931.8h59.7v1.5h-59.7zM708.6 1935.8h59.7v4.2h-59.7zM708.6 1942.6h59.7v1.5h-59.7zM708.6 1948h59.7v5.5h-59.7zM708.6 1954.7h59.7v2.8h-59.7zM708.6 1960.1h59.7v1.5h-59.7zM708.6 1964.2h59.7v1.5h-59.7zM708.6 1966.9h59.7v1.5h-59.7zM708.6 1981.7h59.7v1.5h-59.7zM708.6 1992.5h59.7v1.5h-59.7zM708.6 2002h59.7v1.5h-59.7zM708.6 2014.1h59.7v1.5h-59.7zM708.6 2019.5h59.7v1.5h-59.7zM708.6 2029h59.7v2.8h-59.7zM708.6 2056h59.7v1.5h-59.7zM708.6 2058.7h59.7v1.5h-59.7zM708.6 2068.1h59.7v1.5h-59.7zM708.6 2072.2h59.7v4.2h-59.7zM708.6 2077.6h59.7v1.5h-59.7zM708.6 2083h59.7v1.5h-59.7zM708.6 2087h59.7v4.2h-59.7zM708.6 2092.4h59.7v2.8h-59.7zM708.6 2104.6h59.7v1.5h-59.7zM708.6 2110h59.7v1.5h-59.7zM708.6 2131.5h59.7v10.9h-59.7zM708.6 2143.7h59.7v1.5h-59.7zM708.6 2174.7h59.7v4.2h-59.7zM708.6 2185.5h59.7v1.5h-59.7zM708.6 2188.2h59.7v1.5h-59.7zM708.6 2195h59.7v2.8h-59.7zM708.6 2204.4h59.7v1.5h-59.7zM708.6 2213.9h59.7v2.8h-59.7zM708.6 2220.6h59.7v1.5h-59.7zM708.6 2224.7h59.7v1.5h-59.7zM708.6 2235.5h59.7v8.2h-59.7zM708.6 2246.3h59.7v4.2h-59.7zM708.6 2251.7h59.7v1.5h-59.7zM708.6 2255.7h59.7v1.5h-59.7zM708.6 2265.2h59.7v1.5h-59.7zM708.6 2270.6h59.7v2.8h-59.7zM708.6 2274.6h59.7v1.5h-59.7zM708.6 2285.4h59.7v1.5h-59.7z"/>
<path fill="#808080" shape-rendering="crispEdges" d="M113.1 1811.6h59.7v1.5h-59.7zM113.1 1814.3h59.7v1.5h-59.7zM113.1 1841.3h59.7v1.5h-59.7zM113.1 1881.8h59.7v2.8h-59.7zM113.1 1906.1h59.7v1.5h-59.7zM113.1 1985.8h59.7v1.5h-59.7zM113.1 1989.8h59.7v1.5h-59.7zM113.1 1992.5h59.7v1.5h-59.7zM113.1 2056h59.7v2.8h-59.7zM113.1 2062.7h59.7v4.2h-59.7zM113.1 2111.3h59.7v1.5h-59.7zM113.1 2119.4h59.7v2.8h-59.7zM113.1 2124.8h59.7v1.5h-59.7zM113.1 2128.8h59.7v1.5h-59.7zM113.1 2131.5h59.7v1.5h-59.7zM113.1 2134.2h59.7v1.5h-59.7zM113.1 2177.4h59.7v4.2h-59.7zM113.1 2184.2h59.7v1.5h-59.7zM113.1 2193.6h59.7v1.5h-59.7zM113.1 2200.4h59.7v1.5h-59.7zM113.1 2203.1h59.7v1.5h-59.7zM113.1 2236.8h59.7v1.5h-59.7zM113.1 2239.5h59.7v1.5h-59.7zM113.1 2244.9h59.7v1.5h-59.7zM113.1 2257.1h59.7v1.5h-59.7zM113.1 2262.5h59.7v1.5h-59.7zM113.1 2282.7h59.7v1.5h-59.7zM113.1 2290.8h59.7v1.5h-59.7zM113.1 2293.5h59.7v5.5h-59.7zM113.1 2300.3h59.7v4.2h-59.7zM113.1 2312.4h59.7v1.5h-59.7zM113.1 2324.6h59.7v1.5h-59.7zM113.1 2374.5h59.7v1.5h-59.7zM172.6 1815.7h59.7v1.5h-59.7zM172.6 1834.6h59.7v1.5h-59.7zM172.6 1841.3h59.7v1.5h-59.7zM172.6 1862.9h59.7v4.2h-59.7zM172.6 1872.4h59.7v1.5h-59.7zM172.6 1889.9h59.7v1.5h-59.7zM172.6 1899.4h59.7v1.5h-59.7zM172.6 1926.4h59.7v1.5h-59.7zM172.6 1930.4h59.7v1.5h-59.7zM172.6 1935.8h59.7v1.5h-59.7zM172.6 1952h59.7v8.2h-59.7zM172.6 1961.5h59.7v1.5h-59.7zM172.6 1981.7h59.7v1.5h-59.7zM172.6 2069.5h59.7v5.5h-59.7zM172.6 2084.3h59.7v1.5h-59.7zM172.6 2087h59.7v4.2h-59.7zM172.6 2092.4h59.7v2.8h-59.7zM172.6 2099.2h59.7v1.5h-59.7zM172.6 2101.9h59.7v1.5h-59.7zM172.6 2110h59.7v10.9h-59.7zM172.6 2122.1h59.7v4.2h-59.7zM172.6 2127.5h59.7v8.2h-59.7zM172.6 2159.9h59.7v2.8h-59.7zM172.6 2163.9h59.7v1.5h-59.7zM172.6 2185.5h59.7v2.8h-59.7zM172.6 2192.3h59.7v1.5h-59.7zM172.6 2195h59.7v5.5h-59.7zM172.6 2274.6h59.7v1.5h-59.7zM172.6 2288.1h59.7v1.5h-59.7zM172.6 2315.1h59.7v1.5h-59.7zM172.6 2317.8h59.7v1.5h-59.7zM172.6 2335.4h59.7v1.5h-59.7zM172.6 2344.8h59.7v1.5h-59.7zM172.6 2348.9h59.7v2.8h-59.7zM172.6 2354.3h59.7v1.5h-59.7zM172.6 2358.3h59.7v1.5h-59.7zM172.6 2363.7h59.7v4.2h-59.7zM172.6 2371.8h59.7v1.5h-59.7zM172.6 2374.5h59.7v10.9h-59.7zM172.6 2386.7h59.7v2.8h-59.7zM172.6 2402.9h59.7v5.5h-59.7zM172.6 2411h59.7v2.8h-59.7zM172.6 2425.8h59.7v1.5h-59.7zM172.6 2429.9h59.7v1.5h-59.7zM232.2 1831.9h59.7v4.2h-59.7zM232.2 1857.5h59.7v1.5h-59.7zM232.2 1860.2h59.7v1.5h-59.7zM232.2 1864.3h59.7v1.5h-59.7zM232.2 1869.7h59.7v1.5h-59.7zM232.2 1872.4h59.7v1.5h-59.7zM232.2 1876.4h59.7v4.2h-59.7zM232.2 1881.8h59.7v1.5h-59.7zM232.2 1900.7h59.7v2.8h-59.7zM232.2 1921h59.7v1.5h-59.7zM232.2 1929.1h59.7v2.8h-59.7zM232.2 1935.8h59.7v1.5h-59.7zM232.2 1939.9h59.7v4.2h-59.7zM232.2 1968.2h59.7v1.5h-59.7zM232.2 1983.1h59.7v1.5h-59.7zM232.2 1991.2h59.7v1.5h-59.7zM232.2 1993.9h59.7v1.5h-59.7zM232.2 2000.6h59.7v1.5h-59.7zM232.2 2004.7h59.7v2.8h-59.7zM232.2 2010.1h59.7v1.5h-59.7zM232.2 2034.4h59.7v1.5h-59.7zM232.2 2037.1h59.7v1.5h-59.7zM232.2 2047.9h59.7v1.5h-59.7zM232.2 2051.9h59.7v1.5h-59.7zM232.2 2065.4h59.7v1.5h-59.7zM232.2 2069.5h59.7v1.5h-59.7zM232.2 2073.5h59.7v1.5h-59.7zM232.2 2080.3h59.7v1.5h-59.7zM232.2 2083h59.7v1.5h-59.7zM232.2 2095.1h59.7v1.5h-59.7zM232.2 2097.8h59.7v2.8h-59.7zM232.2 2107.3h59.7v4.2h-59.7zM232.2 2114h59.7v2.8h-59.7zM232.2 2118h59.7v2.8h-59.7zM232.2 2122.1h59.7v1.5h-59.7zM232.2 2124.8h59.7v1.5h-59.7zM232.2 2127.5h59.7v8.2h-59.7zM232.2 2142.3h59.7v1.5h-59.7zM232.2 2145h59.7v1.5h-59.7zM232.2 2153.1h59.7v2.8h-59.7zM232.2 2157.2h59.7v4.2h-59.7zM232.2 2172h59.7v1.5h-59.7zM232.2 2176.1h59.7v2.8h-59.7zM232.2 2180.1h59.7v1.5h-59.7zM232.2 2184.2h59.7v2.8h-59.7zM232.2 2188.2h59.7v2.8h-59.7zM232.2 2219.3h59.7v5.5h-59.7zM232.2 2226h59.7v1.5h-59.7zM232.2 2244.9h59.7v2.8h-59.7zM232.2 2277.3h59.7v1.5h-59.7zM232.2 2286.8h59.7v1.5h-59.7zM232.2 2296.2h59.7v1.5h-59.7zM232.2 2307h59.7v8.2h-59.7zM232.2 2335.4h59.7v1.5h-59.7zM232.2 2338.1h59.7v1.5h-59.7zM232.2 2351.6h59.7v5.5h-59.7zM232.2 2358.3h59.7v1.5h-59.7zM232.2 2384h59.7v1.5h-59.7zM232.2 2388h59.7v1.5h-59.7zM232.2 2396.1h59.7v1.5h-59.7zM232.2 2400.2h59.7v1.5h-59.7zM232.2 2411h59.7v1.5h-59.7zM232.2 2425.8h59.7v1.5h-59.7zM232.2 2428.5h59.7v1.5h-59.7zM291.7 1796.8h59.7v4.2h-59.7zM291.7 1802.2h59.7v1.5h-59.7zM291.7 1806.2h59.7v1.5h-59.7zM291.7 1808.9h59.7v2.8h-59.7zM291.7 1916.9h59.7v1.5h-59.7zM291.7 2020.9h59.7v1.5h-59.7zM291.7 2023.6h59.7v1.5h-59.7zM291.7 2027.6h59.7v1.5h-59.7zM291.7 2030.3h59.7v1.5h-59.7zM291.7 2034.4h59.7v4.2h-59.7zM291.7 2042.5h59.7v1.5h-59.7zM291.7 2045.2h59.7v1.5h-59.7zM291.7 2084.3h59.7v2.8h-59.7zM291.7 2088.4h59.7v6.9h-59.7zM291.7 2099.2h59.7v1.5h-59.7zM291.7 2103.2h59.7v1.5h-59.7zM291.7 2105.9h59.7v1.5h-59.7zM291.7 2110h59.7v2.8h-59.7zM291.7 2130.2h59.7v1.5h-59.7zM291.7 2132.9h59.7v1.5h-59.7zM291.7 2136.9h59.7v1.5h-59.7zM291.7 2211.2h59.7v2.8h-59.7zM291.7 2216.6h59.7v1.5h-59.7zM291.7 2232.8h59.7v1.5h-59.7zM291.7 2235.5h59.7v1.5h-59.7zM291.7 2240.9h59.7v5.5h-59.7zM291.7 2255.7h59.7v5.5h-59.7zM291.7 2271.9h59.7v4.2h-59.7zM291.7 2293.5h59.7v2.8h-59.7zM291.7 2344.8h59.7v5.5h-59.7zM291.7 2378.6h59.7v1.5h-59.7zM351.3 1840h59.7v1.5h-59.7zM351.3 1853.5h59.7v1.5h-59.7zM351.3 1877.8h59.7v2.8h-59.7zM351.3 1883.2h59.7v1.5h-59.7zM351.3 1975h59.7v1.5h-59.7zM351.3 1991.2h59.7v4.2h-59.7zM351.3 1999.3h59.7v1.5h-59.7zM351.3 2007.4h59.7v2.8h-59.7zM351.3 2019.5h59.7v1.5h-59.7zM351.3 2022.2h59.7v4.2h-59.7zM351.3 2029h59.7v5.5h-59.7zM351.3 2035.7h59.7v5.5h-59.7zM351.3 2043.8h59.7v1.5h-59.7zM351.3 2103.2h59.7v2.8h-59.7zM351.3 2118h59.7v1.5h-59.7zM351.3 2126.1h59.7v1.5h-59.7zM351.3 2136.9h59.7v4.2h-59.7zM351.3 2165.3h59.7v1.5h-59.7zM351.3 2169.3h59.7v1.5h-59.7zM351.3 2172h59.7v2.8h-59.7zM351.3 2178.8h59.7v2.8h-59.7zM351.3 2186.9h59.7v2.8h-59.7zM351.3 2213.9h59.7v1.5h-59.7zM351.3 2232.8h59.7v1.5h-59.7zM351.3 2235.5h59.7v4.2h-59.7zM351.3 2254.4h59.7v4.2h-59.7zM351.3 2261.1h59.7v2.8h-59.7zM351.3 2266.5h59.7v1.5h-59.7zM351.3 2273.3h59.7v2.8h-59.7zM351.3 2294.9h59.7v4.2h-59.7zM351.3 2304.3h59.7v1.5h-59.7zM351.3 2309.7h59.7v1.5h-59.7zM351.3 2313.8h59.7v1.5h-59.7zM351.3 2317.8h59.7v1.5h-59.7zM351.3 2332.7h59.7v1.5h-59.7zM351.3 2348.9h59.7v2.8h-59.7zM351.3 2371.8h59.7v1.5h-59.7zM351.3 2378.6h59.7v1.5h-59.7zM351.3 2381.3h59.7v1.5h-59.7zM351.3 2429.9h59.7v1.5h-59.7zM410.8 1833.2h59.7v2.8h-59.7zM410.8 1838.6h59.7v1.5h-59.7zM410.8 1842.7h59.7v1.5h-59.7zM410.8 1869.7h59.7v1.5h-59.7zM410.8 1877.8h59.7v1.5h-59.7zM410.8 1892.6h59.7v2.8h-59.7zM410.8 1925h59.7v1.5h-59.7zM410.8 1965.5h59.7v2.8h-59.7zM410.8 1969.6h59.7v5.5h-59.7zM410.8 1980.4h59.7v1.5h-59.7zM410.8 2010.1h59.7v4.2h-59.7zM410.8 2049.2h59.7v1.5h-59.7zM410.8 2058.7h59.7v2.8h-59.7zM410.8 2080.3h59.7v1.5h-59.7zM410.8 2085.7h59.7v4.2h-59.7zM410.8 2170.7h59.7v1.5h-59.7zM410.8 2177.4h59.7v1.5h-59.7zM410.8 2180.1h59.7v2.8h-59.7zM410.8 2199h59.7v9.6h-59.7zM410.8 2344.8h59.7v2.8h-59.7zM410.8 2348.9h59.7v1.5h-59.7zM410.8 2354.3h59.7v1.5h-59.7zM410.8 2358.3h59.7v1.5h-59.7zM410.8 2366.4h59.7v1.5h-59.7zM410.8 2408.3h59.7v1.5h-59.7zM410.8 2419.1h59.7v1.5h-59.7zM410.8 2425.8h59.7v1.5h-59.7zM410.8 2428.5h59.7v1.5h-59.7zM470.4 1850.8h59.7v6.9h-59.7zM470.4 1858.9h59.7v1.5h-59.7zM470.4 1867h59.7v4.2h-59.7zM470.4 1872.4h59.7v2.8h-59.7zM470.4 1881.8h59.7v1.5h-59.7zM470.4 1962.8h59.7v1.5h-59.7zM470.4 1965.5h59.7v2.8h-59.7zM470.4 1976.3h59.7v1.5h-59.7zM470.4 1980.4h59.7v1.5h-59.7zM470.4 2054.6h59.7v1.5h-59.7zM470.4 2058.7h59.7v1.5h-59.7zM470.4 2070.8h59.7v2.8h-59.7zM470.4 2080.3h59.7v2.8h-59.7zM470.4 2091.1h59.7v1.5h-59.7zM470.4 2163.9h59.7v4.2h-59.7zM470.4 2174.7h59.7v2.8h-59.7zM470.4 2185.5h59.7v2.8h-59.7zM470.4 2189.6h59.7v4.2h-59.7zM470.4 2196.3h59.7v1.5h-59.7zM470.4 2200.4h59.7v5.5h-59.7zM470.4 2293.5h59.7v1.5h-59.7zM470.4 2298.9h59.7v2.8h-59.7zM470.4 2319.2h59.7v2.8h-59.7zM470.4 2367.8h59.7v1.5h-59.7zM470.4 2381.3h59.7v1.5h-59.7zM470.4 2397.5h59.7v1.5h-59.7zM470.4 2404.2h59.7v1.5h-59.7zM470.4 2413.7h59.7v1.5h-59.7zM470.4 2427.2h59.7v2.8h-59.7zM529.9 1825.1h59.7v1.5h-59.7zM529.9 1833.2h59.7v1.5h-59.7zM529.9 1872.4h59.7v1.5h-59.7zM529.9 1884.5h59.7v1.5h-59.7zM529.9 1894h59.7v1.5h-59.7zM529.9 1899.4h59.7v1.5h-59.7zM529.9 1902.1h59.7v4.2h-59.7zM529.9 1918.3h59.7v1.5h-59.7zM529.9 1923.7h59.7v1.5h-59.7zM529.9 1927.7h59.7v1.5h-59.7zM529.9 1935.8h59.7v1.5h-59.7zM529.9 1946.6h59.7v1.5h-59.7zM529.9 1964.2h59.7v2.8h-59.7zM529.9 1968.2h59.7v1.5h-59.7zM529.9 1973.6h59.7v1.5h-59.7zM529.9 1976.3h59.7v4.2h-59.7zM529.9 1983.1h59.7v1.5h-59.7zM529.9 1989.8h59.7v1.5h-59.7zM529.9 1993.9h59.7v2.8h-59.7zM529.9 2096.5h59.7v1.5h-59.7zM529.9 2161.2h59.7v1.5h-59.7zM529.9 2168h59.7v1.5h-59.7zM529.9 2172h59.7v1.5h-59.7zM529.9 2208.5h59.7v1.5h-59.7zM529.9 2224.7h59.7v1.5h-59.7zM529.9 2227.4h59.7v5.5h-59.7zM529.9 2235.5h59.7v5.5h-59.7zM529.9 2242.2h59.7v1.5h-59.7zM529.9 2254.4h59.7v2.8h-59.7zM529.9 2261.1h59.7v2.8h-59.7zM529.9 2267.9h59.7v1.5h-59.7zM529.9 2271.9h59.7v4.2h-59.7zM529.9 2277.3h59.7v1.5h-59.7zM529.9 2281.4h59.7v1.5h-59.7zM529.9 2290.8h59.7v1.5h-59.7zM529.9 2293.5h59.7v1.5h-59.7zM529.9 2312.4h59.7v1.5h-59.7zM529.9 2320.5h59.7v1.5h-59.7zM529.9 2328.6h59.7v1.5h-59.7zM529.9 2340.8h59.7v4.2h-59.7zM529.9 2355.6h59.7v4.2h-59.7zM529.9 2361h59.7v1.5h-59.7zM529.9 2378.6h59.7v1.5h-59.7zM529.9 2382.6h59.7v2.8h-59.7zM529.9 2396.1h59.7v2.8h-59.7zM529.9 2404.2h59.7v1.5h-59.7zM529.9 2406.9h59.7v1.5h-59.7zM589.5 1796.8h59.7v1.5h-59.7zM589.5 1799.5h59.7v10.9h-59.7zM589.5 1819.7h59.7v1.5h-59.7zM589.5 1829.2h59.7v4.2h-59.7zM589.5 1834.6h59.7v1.5h-59.7zM589.5 1856.2h59.7v1.5h-59.7zM589.5 1869.7h59.7v2.8h-59.7zM589.5 1873.7h59.7v5.5h-59.7zM589.5 2034.4h59.7v1.5h-59.7zM589.5 2038.4h59.7v2.8h-59.7zM589.5 2042.5h59.7v1.5h-59.7zM589.5 2053.3h59.7v1.5h-59.7zM589.5 2056h59.7v2.8h-59.7zM589.5 2089.7h59.7v1.5h-59.7zM589.5 2093.8h59.7v2.8h-59.7zM589.5 2099.2h59.7v1.5h-59.7zM589.5 2110h59.7v6.9h-59.7zM589.5 2119.4h59.7v1.5h-59.7zM589.5 2123.4h59.7v1.5h-59.7zM589.5 2128.8h59.7v2.8h-59.7zM589.5 2136.9h59.7v1.5h-59.7zM589.5 2219.3h59.7v4.2h-59.7zM589.5 2224.7h59.7v1.5h-59.7zM589.5 2227.4h59.7v2.8h-59.7zM589.5 2231.4h59.7v1.5h-59.7zM589.5 2242.2h59.7v1.5h-59.7zM589.5 2244.9h59.7v1.5h-59.7zM589.5 2247.6h59.7v1.5h-59.7zM589.5 2253h59.7v2.8h-59.7zM589.5 2262.5h59.7v4.2h-59.7zM589.5 2269.2h59.7v2.8h-59.7zM589.5 2277.3h59.7v2.8h-59.7zM649 1796.8h59.7v6.9h-59.7zM649 1807.6h59.7v6.9h-59.7zM649 1821.1h59.7v1.5h-59.7zM649 1827.8h59.7v1.5h-59.7zM649 1831.9h59.7v1.5h-59.7zM649 1923.7h59.7v5.5h-59.7zM649 1945.3h59.7v5.5h-59.7zM649 1954.7h59.7v1.5h-59.7zM649 1960.1h59.7v2.8h-59.7zM649 1964.2h59.7v2.8h-59.7zM649 1993.9h59.7v8.2h-59.7zM649 2003.3h59.7v1.5h-59.7zM649 2006h59.7v2.8h-59.7zM649 2010.1h59.7v1.5h-59.7zM649 2012.8h59.7v5.5h-59.7zM649 2026.3h59.7v1.5h-59.7zM649 2033h59.7v1.5h-59.7zM649 2037.1h59.7v1.5h-59.7zM649 2039.8h59.7v2.8h-59.7zM649 2043.8h59.7v8.2h-59.7zM649 2110h59.7v1.5h-59.7zM649 2112.7h59.7v1.5h-59.7zM649 2181.5h59.7v1.5h-59.7zM649 2184.2h59.7v1.5h-59.7zM649 2200.4h59.7v1.5h-59.7zM649 2205.8h59.7v1.5h-59.7zM649 2208.5h59.7v4.2h-59.7zM649 2213.9h59.7v2.8h-59.7zM649 2222h59.7v1.5h-59.7zM649 2226h59.7v1.5h-59.7zM649 2228.7h59.7v4.2h-59.7zM649 2234.1h59.7v1.5h-59.7zM649 2240.9h59.7v1.5h-59.7zM649 2243.6h59.7v4.2h-59.7zM649 2250.3h59.7v2.8h-59.7zM649 2262.5h59.7v2.8h-59.7zM649 2281.4h59.7v1.5h-59.7zM649 2286.8h59.7v1.5h-59.7zM708.6 1817h59.7v1.5h-59.7zM708.6 1899.4h59.7v1.5h-59.7zM708.6 1912.9h59.7v1.5h-59.7zM708.6 1918.3h59.7v1.5h-59.7zM708.6 1925h59.7v2.8h-59.7zM708.6 1929.1h59.7v2.8h-59.7zM708.6 1933.1h59.7v2.8h-59.7zM708.6 1939.9h59.7v2.8h-59.7zM708.6 1943.9h59.7v1.5h-59.7zM708.6 1946.6h59.7v1.5h-59.7zM708.6 1957.4h59.7v2.8h-59.7zM708.6 1965.5h59.7v1.5h-59.7zM708.6 1968.2h59.7v1.5h-59.7zM708.6 2061.4h59.7v6.9h-59.7zM708.6 2076.2h59.7v1.5h-59.7zM708.6 2084.3h59.7v1.5h-59.7zM708.6 2095.1h59.7v8.2h-59.7zM708.6 2142.3h59.7v1.5h-59.7zM708.6 2145h59.7v1.5h-59.7zM708.6 2147.7h59.7v6.9h-59.7zM708.6 2182.8h59.7v2.8h-59.7zM708.6 2190.9h59.7v1.5h-59.7zM708.6 2203.1h59.7v1.5h-59.7zM708.6 2205.8h59.7v4.2h-59.7zM708.6 2212.5h59.7v1.5h-59.7zM708.6 2217.9h59.7v2.8h-59.7zM708.6 2223.3h59.7v1.5h-59.7zM708.6 2226h59.7v4.2h-59.7zM708.6 2231.4h59.7v4.2h-59.7zM708.6 2243.6h59.7v2.8h-59.7zM708.6 2250.3h59.7v1.5h-59.7zM708.6 2253h59.7v2.8h-59.7zM708.6 2273.3h59.7v1.5h-59.7zM708.6 2298.9h59.7v2.8h-59.7zM708.6 2321.9h59.7v1.5h-59.7zM708.6 2401.5h59.7v4.2h-59.7z"/>
<path fill="#6e6e92" shape-rendering="crispEdges" d="M113.1 1799.5h59.7v4.2h-59.7zM113.1 1810.3h59.7v1.5h-59.7zM113.1 1819.7h59.7v2.8h-59.7zM113.1 1845.4h59.7v2.8h-59.7zM113.1 1880.5h59.7v1.5h-59.7zM113.1 1885.9h59.7v1.5h-59.7zM113.1 1888.6h59.7v1.5h-59.7zM113.1 1904.8h59.7v1.5h-59.7zM113.1 1918.3h59.7v2.8h-59.7zM113.1 1937.2h59.7v1.5h-59.7zM113.1 1952h59.7v1.5h-59.7zM113.1 1962.8h59.7v1.5h-59.7zM113.1 2047.9h59.7v1.5h-59.7zM113.1 2054.6h59.7v1.5h-59.7zM113.1 2060h59.7v1.5h-59.7zM113.1 2073.5h59.7v1.5h-59.7zM113.1 2076.2h59.7v1.5h-59.7zM113.1 2084.3h59.7v1.5h-59.7zM113.1 2115.3h59.7v1.5h-59.7zM113.1 2130.2h59.7v1.5h-59.7zM113.1 2132.9h59.7v1.5h-59.7zM113.1 2195h59.7v1.5h-59.7zM113.1 2204.4h59.7v2.8h-59.7zM113.1 2246.3h59.7v1.5h-59.7zM113.1 2249h59.7v1.5h-59.7zM113.1 2254.4h59.7v1.5h-59.7zM113.1 2292.2h59.7v1.5h-59.7zM113.1 2298.9h59.7v1.5h-59.7zM113.1 2413.7h59.7v1.5h-59.7zM113.1 2417.7h59.7v4.2h-59.7zM172.6 1798.1h59.7v1.5h-59.7zM172.6 1818.4h59.7v1.5h-59.7zM172.6 1835.9h59.7v2.8h-59.7zM172.6 1840h59.7v1.5h-59.7zM172.6 1846.7h59.7v1.5h-59.7zM172.6 1873.7h59.7v1.5h-59.7zM172.6 1884.5h59.7v1.5h-59.7zM172.6 1892.6h59.7v1.5h-59.7zM172.6 1907.5h59.7v4.2h-59.7zM172.6 1923.7h59.7v2.8h-59.7zM172.6 1933.1h59.7v1.5h-59.7zM172.6 1950.7h59.7v1.5h-59.7zM172.6 1960.1h59.7v1.5h-59.7zM172.6 1962.8h59.7v1.5h-59.7zM172.6 1965.5h59.7v2.8h-59.7zM172.6 1985.8h59.7v2.8h-59.7zM172.6 2047.9h59.7v1.5h-59.7zM172.6 2068.1h59.7v1.5h-59.7zM172.6 2080.3h59.7v2.8h-59.7zM172.6 2085.7h59.7v1.5h-59.7zM172.6 2126.1h59.7v1.5h-59.7zM172.6 2135.6h59.7v1.5h-59.7zM172.6 2139.6h59.7v1.5h-59.7zM172.6 2149.1h59.7v1.5h-59.7zM172.6 2151.8h59.7v1.5h-59.7zM172.6 2155.8h59.7v4.2h-59.7zM172.6 2162.6h59.7v1.5h-59.7zM172.6 2166.6h59.7v1.5h-59.7zM172.6 2181.5h59.7v1.5h-59.7zM172.6 2200.4h59.7v1.5h-59.7zM172.6 2351.6h59.7v1.5h-59.7zM172.6 2361h59.7v1.5h-59.7zM172.6 2398.8h59.7v4.2h-59.7zM172.6 2408.3h59.7v2.8h-59.7zM172.6 2417.7h59.7v1.5h-59.7zM172.6 2420.4h59.7v1.5h-59.7zM232.2 1804.9h59.7v2.8h-59.7zM232.2 1835.9h59.7v1.5h-59.7zM232.2 1838.6h59.7v4.2h-59.7zM232.2 1858.9h59.7v1.5h-59.7zM232.2 1862.9h59.7v1.5h-59.7zM232.2 1873.7h59.7v1.5h-59.7zM232.2 1880.5h59.7v1.5h-59.7zM232.2 1884.5h59.7v2.8h-59.7zM232.2 1892.6h59.7v2.8h-59.7zM232.2 1898h59.7v2.8h-59.7zM232.2 1914.2h59.7v1.5h-59.7zM232.2 1927.7h59.7v1.5h-59.7zM232.2 1931.8h59.7v2.8h-59.7zM232.2 1964.2h59.7v1.5h-59.7zM232.2 1981.7h59.7v1.5h-59.7zM232.2 1992.5h59.7v1.5h-59.7zM232.2 2011.4h59.7v1.5h-59.7zM232.2 2014.1h59.7v1.5h-59.7zM232.2 2016.8h59.7v1.5h-59.7zM232.2 2020.9h59.7v2.8h-59.7zM232.2 2035.7h59.7v1.5h-59.7zM232.2 2038.4h59.7v1.5h-59.7zM232.2 2043.8h59.7v1.5h-59.7zM232.2 2070.8h59.7v1.5h-59.7zM232.2 2081.6h59.7v1.5h-59.7zM232.2 2096.5h59.7v1.5h-59.7zM232.2 2111.3h59.7v2.8h-59.7zM232.2 2120.7h59.7v1.5h-59.7zM232.2 2123.4h59.7v1.5h-59.7zM232.2 2136.9h59.7v4.2h-59.7zM232.2 2143.7h59.7v1.5h-59.7zM232.2 2146.4h59.7v4.2h-59.7zM232.2 2173.4h59.7v2.8h-59.7zM232.2 2186.9h59.7v1.5h-59.7zM232.2 2190.9h59.7v1.5h-59.7zM232.2 2336.7h59.7v1.5h-59.7zM232.2 2342.1h59.7v1.5h-59.7zM232.2 2378.6h59.7v1.5h-59.7zM232.2 2381.3h59.7v2.8h-59.7zM232.2 2385.3h59.7v2.8h-59.7zM232.2 2405.6h59.7v1.5h-59.7zM232.2 2416.4h59.7v1.5h-59.7zM232.2 2421.8h59.7v4.2h-59.7zM291.7 1826.5h59.7v2.8h-59.7zM291.7 1887.2h59.7v1.5h-59.7zM291.7 1918.3h59.7v4.2h-59.7zM291.7 1931.8h59.7v1.5h-59.7zM291.7 2011.4h59.7v1.5h-59.7zM291.7 2038.4h59.7v4.2h-59.7zM291.7 2057.3h59.7v9.6h-59.7zM291.7 2068.1h59.7v1.5h-59.7zM291.7 2081.6h59.7v2.8h-59.7zM291.7 2101.9h59.7v1.5h-59.7zM291.7 2104.6h59.7v1.5h-59.7zM291.7 2107.3h59.7v1.5h-59.7zM291.7 2116.7h59.7v5.5h-59.7zM291.7 2124.8h59.7v1.5h-59.7zM291.7 2135.6h59.7v1.5h-59.7zM291.7 2138.3h59.7v2.8h-59.7zM291.7 2157.2h59.7v5.5h-59.7zM291.7 2197.7h59.7v1.5h-59.7zM291.7 2231.4h59.7v1.5h-59.7zM291.7 2234.1h59.7v1.5h-59.7zM291.7 2239.5h59.7v1.5h-59.7zM291.7 2246.3h59.7v1.5h-59.7zM291.7 2253h59.7v2.8h-59.7zM351.3 1799.5h59.7v1.5h-59.7zM351.3 1834.6h59.7v2.8h-59.7zM351.3 1838.6h59.7v1.5h-59.7zM351.3 1850.8h59.7v2.8h-59.7zM351.3 1861.6h59.7v1.5h-59.7zM351.3 1871h59.7v1.5h-59.7zM351.3 1876.4h59.7v1.5h-59.7zM351.3 1880.5h59.7v2.8h-59.7zM351.3 1884.5h59.7v1.5h-59.7zM351.3 1898h59.7v2.8h-59.7zM351.3 1911.5h59.7v2.8h-59.7zM351.3 1922.3h59.7v1.5h-59.7zM351.3 1973.6h59.7v1.5h-59.7zM351.3 1976.3h59.7v1.5h-59.7zM351.3 1980.4h59.7v2.8h-59.7zM351.3 1995.2h59.7v1.5h-59.7zM351.3 2003.3h59.7v1.5h-59.7zM351.3 2010.1h59.7v1.5h-59.7zM351.3 2012.8h59.7v2.8h-59.7zM351.3 2016.8h59.7v2.8h-59.7zM351.3 2020.9h59.7v1.5h-59.7zM351.3 2034.4h59.7v1.5h-59.7zM351.3 2054.6h59.7v1.5h-59.7zM351.3 2066.8h59.7v1.5h-59.7zM351.3 2089.7h59.7v1.5h-59.7zM351.3 2093.8h59.7v1.5h-59.7zM351.3 2119.4h59.7v2.8h-59.7zM351.3 2153.1h59.7v1.5h-59.7zM351.3 2158.5h59.7v2.8h-59.7zM351.3 2166.6h59.7v1.5h-59.7zM351.3 2170.7h59.7v1.5h-59.7zM351.3 2177.4h59.7v1.5h-59.7zM351.3 2189.6h59.7v4.2h-59.7zM351.3 2234.1h59.7v1.5h-59.7zM351.3 2258.4h59.7v2.8h-59.7zM351.3 2265.2h59.7v1.5h-59.7zM351.3 2267.9h59.7v2.8h-59.7zM351.3 2305.7h59.7v2.8h-59.7zM351.3 2311.1h59.7v1.5h-59.7zM351.3 2334h59.7v1.5h-59.7zM351.3 2344.8h59.7v4.2h-59.7zM410.8 1841.3h59.7v1.5h-59.7zM410.8 1860.2h59.7v1.5h-59.7zM410.8 1879.1h59.7v2.8h-59.7zM410.8 1923.7h59.7v1.5h-59.7zM410.8 2056h59.7v2.8h-59.7zM410.8 2065.4h59.7v1.5h-59.7zM410.8 2072.2h59.7v1.5h-59.7zM410.8 2081.6h59.7v1.5h-59.7zM410.8 2093.8h59.7v1.5h-59.7zM410.8 2151.8h59.7v2.8h-59.7zM410.8 2157.2h59.7v2.8h-59.7zM410.8 2163.9h59.7v6.9h-59.7zM410.8 2178.8h59.7v1.5h-59.7zM410.8 2184.2h59.7v1.5h-59.7zM410.8 2186.9h59.7v2.8h-59.7zM410.8 2193.6h59.7v2.8h-59.7zM410.8 2300.3h59.7v1.5h-59.7zM410.8 2305.7h59.7v1.5h-59.7zM410.8 2308.4h59.7v2.8h-59.7zM410.8 2323.2h59.7v2.8h-59.7zM410.8 2342.1h59.7v2.8h-59.7zM410.8 2347.5h59.7v1.5h-59.7zM410.8 2350.2h59.7v4.2h-59.7zM410.8 2355.6h59.7v1.5h-59.7zM410.8 2359.7h59.7v1.5h-59.7zM410.8 2362.4h59.7v2.8h-59.7zM410.8 2404.2h59.7v1.5h-59.7zM410.8 2423.1h59.7v2.8h-59.7zM470.4 1857.5h59.7v1.5h-59.7zM470.4 2069.5h59.7v1.5h-59.7zM470.4 2149.1h59.7v1.5h-59.7zM470.4 2151.8h59.7v1.5h-59.7zM470.4 2162.6h59.7v1.5h-59.7zM470.4 2168h59.7v4.2h-59.7zM470.4 2177.4h59.7v1.5h-59.7zM470.4 2188.2h59.7v1.5h-59.7zM470.4 2288.1h59.7v1.5h-59.7zM470.4 2290.8h59.7v1.5h-59.7zM470.4 2294.9h59.7v4.2h-59.7zM470.4 2301.6h59.7v1.5h-59.7zM470.4 2304.3h59.7v1.5h-59.7zM470.4 2308.4h59.7v1.5h-59.7zM470.4 2312.4h59.7v1.5h-59.7zM470.4 2315.1h59.7v1.5h-59.7zM470.4 2317.8h59.7v1.5h-59.7zM470.4 2350.2h59.7v2.8h-59.7zM470.4 2401.5h59.7v1.5h-59.7zM470.4 2411h59.7v2.8h-59.7zM470.4 2425.8h59.7v1.5h-59.7zM529.9 1822.4h59.7v1.5h-59.7zM529.9 1826.5h59.7v1.5h-59.7zM529.9 1856.2h59.7v1.5h-59.7zM529.9 1858.9h59.7v2.8h-59.7zM529.9 1867h59.7v1.5h-59.7zM529.9 1873.7h59.7v1.5h-59.7zM529.9 1914.2h59.7v1.5h-59.7zM529.9 1921h59.7v2.8h-59.7zM529.9 1925h59.7v1.5h-59.7zM529.9 1929.1h59.7v1.5h-59.7zM529.9 1939.9h59.7v1.5h-59.7zM529.9 1943.9h59.7v1.5h-59.7zM529.9 1948h59.7v1.5h-59.7zM529.9 1962.8h59.7v1.5h-59.7zM529.9 1966.9h59.7v1.5h-59.7zM529.9 1972.3h59.7v1.5h-59.7zM529.9 1980.4h59.7v2.8h-59.7zM529.9 1984.4h59.7v2.8h-59.7zM529.9 2049.2h59.7v4.2h-59.7zM529.9 2060h59.7v1.5h-59.7zM529.9 2074.9h59.7v1.5h-59.7zM529.9 2095.1h59.7v1.5h-59.7zM529.9 2211.2h59.7v2.8h-59.7zM529.9 2222h59.7v2.8h-59.7zM529.9 2263.8h59.7v4.2h-59.7zM529.9 2286.8h59.7v1.5h-59.7zM529.9 2313.8h59.7v1.5h-59.7zM529.9 2316.5h59.7v1.5h-59.7zM529.9 2339.4h59.7v1.5h-59.7zM529.9 2344.8h59.7v1.5h-59.7zM529.9 2359.7h59.7v1.5h-59.7zM529.9 2363.7h59.7v1.5h-59.7zM529.9 2377.2h59.7v1.5h-59.7zM529.9 2381.3h59.7v1.5h-59.7zM529.9 2385.3h59.7v1.5h-59.7zM529.9 2390.7h59.7v4.2h-59.7zM529.9 2400.2h59.7v1.5h-59.7zM529.9 2411h59.7v1.5h-59.7zM589.5 1818.4h59.7v1.5h-59.7zM589.5 1821.1h59.7v1.5h-59.7zM589.5 1833.2h59.7v1.5h-59.7zM589.5 1853.5h59.7v1.5h-59.7zM589.5 2041.1h59.7v1.5h-59.7zM589.5 2050.6h59.7v2.8h-59.7zM589.5 2054.6h59.7v1.5h-59.7zM589.5 2104.6h59.7v2.8h-59.7zM589.5 2120.7h59.7v1.5h-59.7zM589.5 2126.1h59.7v1.5h-59.7zM589.5 2211.2h59.7v1.5h-59.7zM589.5 2216.6h59.7v1.5h-59.7zM589.5 2223.3h59.7v1.5h-59.7zM589.5 2230.1h59.7v1.5h-59.7zM589.5 2236.8h59.7v1.5h-59.7zM589.5 2240.9h59.7v1.5h-59.7zM589.5 2243.6h59.7v1.5h-59.7zM589.5 2246.3h59.7v1.5h-59.7zM589.5 2249h59.7v2.8h-59.7zM589.5 2258.4h59.7v4.2h-59.7zM589.5 2271.9h59.7v1.5h-59.7zM589.5 2281.4h59.7v1.5h-59.7zM649 1803.5h59.7v2.8h-59.7zM649 1814.3h59.7v2.8h-59.7zM649 1818.4h59.7v2.8h-59.7zM649 1823.8h59.7v1.5h-59.7zM649 1826.5h59.7v1.5h-59.7zM649 1916.9h59.7v6.9h-59.7zM649 1930.4h59.7v1.5h-59.7zM649 1938.5h59.7v1.5h-59.7zM649 1950.7h59.7v1.5h-59.7zM649 2135.6h59.7v1.5h-59.7zM649 2212.5h59.7v1.5h-59.7zM649 2217.9h59.7v4.2h-59.7zM649 2223.3h59.7v2.8h-59.7zM649 2227.4h59.7v1.5h-59.7zM649 2232.8h59.7v1.5h-59.7zM649 2235.5h59.7v5.5h-59.7zM649 2247.6h59.7v2.8h-59.7zM649 2261.1h59.7v1.5h-59.7zM649 2265.2h59.7v2.8h-59.7zM649 2271.9h59.7v1.5h-59.7zM708.6 2070.8h59.7v1.5h-59.7zM708.6 2146.4h59.7v1.5h-59.7zM708.6 2178.8h59.7v4.2h-59.7zM708.6 2192.3h59.7v2.8h-59.7zM708.6 2201.7h59.7v1.5h-59.7zM708.6 2209.8h59.7v2.8h-59.7zM708.6 2222h59.7v1.5h-59.7zM708.6 2230.1h59.7v1.5h-59.7zM708.6 2281.4h59.7v1.5h-59.7zM708.6 2293.5h59.7v1.5h-59.7zM708.6 2301.6h59.7v2.8h-59.7zM708.6 2319.2h59.7v2.8h-59.7zM708.6 2324.6h59.7v1.5h-59.7zM708.6 2354.3h59.7v4.2h-59.7zM708.6 2371.8h59.7v2.8h-59.7zM708.6 2394.8h59.7v2.8h-59.7zM708.6 2398.8h59.7v2.8h-59.7zM708.6 2405.6h59.7v2.8h-59.7zM708.6 2417.7h59.7v1.5h-59.7z"/>
<path fill="#5b5ba4" shape-rendering="crispEdges" d="M113.1 1796.8h59.7v2.8h-59.7zM113.1 1803.5h59.7v1.5h-59.7zM113.1 1813h59.7v1.5h-59.7zM113.1 1815.7h59.7v4.2h-59.7zM113.1 1822.4h59.7v4.2h-59.7zM113.1 1842.7h59.7v2.8h-59.7zM113.1 1858.9h59.7v2.8h-59.7zM113.1 1884.5h59.7v1.5h-59.7zM113.1 1894h59.7v1.5h-59.7zM113.1 1896.7h59.7v2.8h-59.7zM113.1 1900.7h59.7v1.5h-59.7zM113.1 1921h59.7v1.5h-59.7zM113.1 1934.5h59.7v1.5h-59.7zM113.1 1949.3h59.7v1.5h-59.7zM113.1 1954.7h59.7v1.5h-59.7zM113.1 1958.8h59.7v1.5h-59.7zM113.1 1993.9h59.7v1.5h-59.7zM113.1 2002h59.7v1.5h-59.7zM113.1 2006h59.7v1.5h-59.7zM113.1 2026.3h59.7v2.8h-59.7zM113.1 2041.1h59.7v2.8h-59.7zM113.1 2050.6h59.7v2.8h-59.7zM113.1 2074.9h59.7v1.5h-59.7zM113.1 2077.6h59.7v1.5h-59.7zM113.1 2081.6h59.7v2.8h-59.7zM113.1 2085.7h59.7v1.5h-59.7zM113.1 2088.4h59.7v1.5h-59.7zM113.1 2112.7h59.7v2.8h-59.7zM113.1 2116.7h59.7v2.8h-59.7zM113.1 2139.6h59.7v1.5h-59.7zM113.1 2173.4h59.7v1.5h-59.7zM113.1 2182.8h59.7v1.5h-59.7zM113.1 2207.1h59.7v1.5h-59.7zM113.1 2247.6h59.7v1.5h-59.7zM113.1 2250.3h59.7v4.2h-59.7zM113.1 2408.3h59.7v1.5h-59.7zM113.1 2412.3h59.7v1.5h-59.7zM113.1 2415h59.7v2.8h-59.7zM172.6 1796.8h59.7v1.5h-59.7zM172.6 1799.5h59.7v1.5h-59.7zM172.6 1804.9h59.7v5.5h-59.7zM172.6 1819.7h59.7v1.5h-59.7zM172.6 1823.8h59.7v1.5h-59.7zM172.6 1830.5h59.7v4.2h-59.7zM172.6 1838.6h59.7v1.5h-59.7zM172.6 1849.4h59.7v2.8h-59.7zM172.6 1854.8h59.7v1.5h-59.7zM172.6 1857.5h59.7v1.5h-59.7zM172.6 1861.6h59.7v1.5h-59.7zM172.6 1875.1h59.7v1.5h-59.7zM172.6 1877.8h59.7v2.8h-59.7zM172.6 1881.8h59.7v1.5h-59.7zM172.6 1885.9h59.7v4.2h-59.7zM172.6 1906.1h59.7v1.5h-59.7zM172.6 1931.8h59.7v1.5h-59.7zM172.6 1934.5h59.7v1.5h-59.7zM172.6 1937.2h59.7v1.5h-59.7zM172.6 1942.6h59.7v1.5h-59.7zM172.6 1945.3h59.7v1.5h-59.7zM172.6 1964.2h59.7v1.5h-59.7zM172.6 1988.5h59.7v1.5h-59.7zM172.6 2004.7h59.7v1.5h-59.7zM172.6 2008.7h59.7v6.9h-59.7zM172.6 2018.2h59.7v4.2h-59.7zM172.6 2043.8h59.7v4.2h-59.7zM172.6 2049.2h59.7v4.2h-59.7zM172.6 2054.6h59.7v2.8h-59.7zM172.6 2076.2h59.7v4.2h-59.7zM172.6 2136.9h59.7v1.5h-59.7zM172.6 2143.7h59.7v1.5h-59.7zM172.6 2146.4h59.7v2.8h-59.7zM172.6 2150.4h59.7v1.5h-59.7zM172.6 2153.1h59.7v1.5h-59.7zM172.6 2168h59.7v1.5h-59.7zM172.6 2170.7h59.7v1.5h-59.7zM172.6 2174.7h59.7v1.5h-59.7zM172.6 2180.1h59.7v1.5h-59.7zM172.6 2203.1h59.7v5.5h-59.7zM172.6 2413.7h59.7v2.8h-59.7zM172.6 2419.1h59.7v1.5h-59.7zM172.6 2427.2h59.7v2.8h-59.7zM232.2 1799.5h59.7v5.5h-59.7zM232.2 1807.6h59.7v2.8h-59.7zM232.2 1822.4h59.7v4.2h-59.7zM232.2 1829.2h59.7v2.8h-59.7zM232.2 1837.3h59.7v1.5h-59.7zM232.2 1842.7h59.7v1.5h-59.7zM232.2 1846.7h59.7v1.5h-59.7zM232.2 1861.6h59.7v1.5h-59.7zM232.2 1865.6h59.7v4.2h-59.7zM232.2 1875.1h59.7v1.5h-59.7zM232.2 1883.2h59.7v1.5h-59.7zM232.2 1889.9h59.7v2.8h-59.7zM232.2 1895.3h59.7v2.8h-59.7zM232.2 1907.5h59.7v2.8h-59.7zM232.2 1911.5h59.7v2.8h-59.7zM232.2 1915.6h59.7v5.5h-59.7zM232.2 1922.3h59.7v1.5h-59.7zM232.2 1925h59.7v1.5h-59.7zM232.2 1953.4h59.7v2.8h-59.7zM232.2 1962.8h59.7v1.5h-59.7zM232.2 1969.6h59.7v4.2h-59.7zM232.2 1977.7h59.7v1.5h-59.7zM232.2 1980.4h59.7v1.5h-59.7zM232.2 1996.6h59.7v1.5h-59.7zM232.2 1999.3h59.7v1.5h-59.7zM232.2 2018.2h59.7v2.8h-59.7zM232.2 2023.6h59.7v1.5h-59.7zM232.2 2026.3h59.7v2.8h-59.7zM232.2 2030.3h59.7v1.5h-59.7zM232.2 2033h59.7v1.5h-59.7zM232.2 2042.5h59.7v1.5h-59.7zM232.2 2045.2h59.7v2.8h-59.7zM232.2 2072.2h59.7v1.5h-59.7zM232.2 2135.6h59.7v1.5h-59.7zM232.2 2141h59.7v1.5h-59.7zM232.2 2357h59.7v1.5h-59.7zM232.2 2369.1h59.7v1.5h-59.7zM232.2 2373.2h59.7v5.5h-59.7zM232.2 2379.9h59.7v1.5h-59.7zM232.2 2392.1h59.7v1.5h-59.7zM232.2 2397.5h59.7v2.8h-59.7zM232.2 2408.3h59.7v2.8h-59.7zM232.2 2412.3h59.7v1.5h-59.7zM232.2 2415h59.7v1.5h-59.7zM232.2 2419.1h59.7v1.5h-59.7zM291.7 1817h59.7v2.8h-59.7zM291.7 1822.4h59.7v4.2h-59.7zM291.7 1829.2h59.7v4.2h-59.7zM291.7 1888.6h59.7v1.5h-59.7zM291.7 1900.7h59.7v6.9h-59.7zM291.7 1908.8h59.7v5.5h-59.7zM291.7 1915.6h59.7v1.5h-59.7zM291.7 1929.1h59.7v2.8h-59.7zM291.7 1934.5h59.7v2.8h-59.7zM291.7 1939.9h59.7v1.5h-59.7zM291.7 1979h59.7v1.5h-59.7zM291.7 1985.8h59.7v1.5h-59.7zM291.7 2010.1h59.7v1.5h-59.7zM291.7 2012.8h59.7v4.2h-59.7zM291.7 2018.2h59.7v1.5h-59.7zM291.7 2033h59.7v1.5h-59.7zM291.7 2066.8h59.7v1.5h-59.7zM291.7 2078.9h59.7v2.8h-59.7zM291.7 2095.1h59.7v1.5h-59.7zM291.7 2114h59.7v2.8h-59.7zM291.7 2122.1h59.7v2.8h-59.7zM291.7 2134.2h59.7v1.5h-59.7zM291.7 2155.8h59.7v1.5h-59.7zM291.7 2195h59.7v2.8h-59.7zM291.7 2369.1h59.7v2.8h-59.7zM291.7 2373.2h59.7v1.5h-59.7zM351.3 1798.1h59.7v1.5h-59.7zM351.3 1800.8h59.7v5.5h-59.7zM351.3 1808.9h59.7v5.5h-59.7zM351.3 1815.7h59.7v4.2h-59.7zM351.3 1821.1h59.7v1.5h-59.7zM351.3 1825.1h59.7v1.5h-59.7zM351.3 1837.3h59.7v1.5h-59.7zM351.3 1848.1h59.7v2.8h-59.7zM351.3 1854.8h59.7v1.5h-59.7zM351.3 1857.5h59.7v1.5h-59.7zM351.3 1860.2h59.7v1.5h-59.7zM351.3 1862.9h59.7v2.8h-59.7zM351.3 1875.1h59.7v1.5h-59.7zM351.3 1887.2h59.7v1.5h-59.7zM351.3 1889.9h59.7v1.5h-59.7zM351.3 1892.6h59.7v5.5h-59.7zM351.3 1918.3h59.7v1.5h-59.7zM351.3 1964.2h59.7v2.8h-59.7zM351.3 1979h59.7v1.5h-59.7zM351.3 1989.8h59.7v1.5h-59.7zM351.3 1997.9h59.7v1.5h-59.7zM351.3 2015.5h59.7v1.5h-59.7zM351.3 2064.1h59.7v1.5h-59.7zM351.3 2088.4h59.7v1.5h-59.7zM351.3 2091.1h59.7v2.8h-59.7zM351.3 2147.7h59.7v5.5h-59.7zM351.3 2154.5h59.7v1.5h-59.7zM351.3 2161.2h59.7v1.5h-59.7zM351.3 2181.5h59.7v1.5h-59.7zM351.3 2184.2h59.7v2.8h-59.7zM351.3 2193.6h59.7v4.2h-59.7zM351.3 2312.4h59.7v1.5h-59.7zM351.3 2336.7h59.7v1.5h-59.7zM351.3 2343.5h59.7v1.5h-59.7zM351.3 2392.1h59.7v2.8h-59.7zM410.8 1858.9h59.7v1.5h-59.7zM410.8 2061.4h59.7v1.5h-59.7zM410.8 2091.1h59.7v1.5h-59.7zM410.8 2150.4h59.7v1.5h-59.7zM410.8 2155.8h59.7v1.5h-59.7zM410.8 2159.9h59.7v1.5h-59.7zM410.8 2162.6h59.7v1.5h-59.7zM410.8 2185.5h59.7v1.5h-59.7zM410.8 2189.6h59.7v4.2h-59.7zM410.8 2281.4h59.7v1.5h-59.7zM410.8 2290.8h59.7v2.8h-59.7zM410.8 2298.9h59.7v1.5h-59.7zM410.8 2301.6h59.7v1.5h-59.7zM410.8 2307h59.7v1.5h-59.7zM410.8 2311.1h59.7v1.5h-59.7zM410.8 2320.5h59.7v1.5h-59.7zM410.8 2325.9h59.7v4.2h-59.7zM410.8 2340.8h59.7v1.5h-59.7zM410.8 2361h59.7v1.5h-59.7zM410.8 2405.6h59.7v1.5h-59.7zM470.4 1849.4h59.7v1.5h-59.7zM470.4 1964.2h59.7v1.5h-59.7zM470.4 1985.8h59.7v1.5h-59.7zM470.4 2064.1h59.7v1.5h-59.7zM470.4 2066.8h59.7v2.8h-59.7zM470.4 2150.4h59.7v1.5h-59.7zM470.4 2155.8h59.7v1.5h-59.7zM470.4 2161.2h59.7v1.5h-59.7zM470.4 2180.1h59.7v5.5h-59.7zM470.4 2303h59.7v1.5h-59.7zM470.4 2305.7h59.7v2.8h-59.7zM470.4 2309.7h59.7v2.8h-59.7zM470.4 2313.8h59.7v1.5h-59.7zM470.4 2316.5h59.7v1.5h-59.7zM470.4 2321.9h59.7v1.5h-59.7zM470.4 2340.8h59.7v2.8h-59.7zM470.4 2344.8h59.7v1.5h-59.7zM470.4 2347.5h59.7v2.8h-59.7zM470.4 2352.9h59.7v1.5h-59.7zM470.4 2357h59.7v5.5h-59.7zM470.4 2398.8h59.7v1.5h-59.7zM529.9 1803.5h59.7v2.8h-59.7zM529.9 1823.8h59.7v1.5h-59.7zM529.9 1830.5h59.7v1.5h-59.7zM529.9 1857.5h59.7v1.5h-59.7zM529.9 1861.6h59.7v1.5h-59.7zM529.9 1865.6h59.7v1.5h-59.7zM529.9 1907.5h59.7v5.5h-59.7zM529.9 1915.6h59.7v2.8h-59.7zM529.9 1930.4h59.7v1.5h-59.7zM529.9 1937.2h59.7v2.8h-59.7zM529.9 1941.2h59.7v2.8h-59.7zM529.9 1945.3h59.7v1.5h-59.7zM529.9 1949.3h59.7v4.2h-59.7zM529.9 1956.1h59.7v2.8h-59.7zM529.9 1969.6h59.7v2.8h-59.7zM529.9 2000.6h59.7v1.5h-59.7zM529.9 2045.2h59.7v1.5h-59.7zM529.9 2047.9h59.7v1.5h-59.7zM529.9 2053.3h59.7v1.5h-59.7zM529.9 2056h59.7v4.2h-59.7zM529.9 2070.8h59.7v1.5h-59.7zM529.9 2076.2h59.7v2.8h-59.7zM529.9 2213.9h59.7v1.5h-59.7zM529.9 2226h59.7v1.5h-59.7zM529.9 2298.9h59.7v1.5h-59.7zM529.9 2307h59.7v5.5h-59.7zM529.9 2319.2h59.7v1.5h-59.7zM529.9 2362.4h59.7v1.5h-59.7zM529.9 2386.7h59.7v1.5h-59.7zM529.9 2389.4h59.7v1.5h-59.7zM529.9 2398.8h59.7v1.5h-59.7zM529.9 2402.9h59.7v1.5h-59.7zM529.9 2412.3h59.7v1.5h-59.7zM529.9 2419.1h59.7v1.5h-59.7zM529.9 2423.1h59.7v4.2h-59.7zM589.5 2209.8h59.7v1.5h-59.7zM589.5 2212.5h59.7v4.2h-59.7zM589.5 2217.9h59.7v1.5h-59.7zM589.5 2238.2h59.7v2.8h-59.7zM589.5 2257.1h59.7v1.5h-59.7zM589.5 2266.5h59.7v2.8h-59.7zM589.5 2273.3h59.7v2.8h-59.7zM589.5 2282.7h59.7v9.6h-59.7zM589.5 2300.3h59.7v1.5h-59.7zM589.5 2338.1h59.7v1.5h-59.7zM649 1817h59.7v1.5h-59.7zM649 1822.4h59.7v1.5h-59.7zM649 1825.1h59.7v1.5h-59.7zM649 1898h59.7v2.8h-59.7zM649 1902.1h59.7v5.5h-59.7zM649 1908.8h59.7v4.2h-59.7zM649 1937.2h59.7v1.5h-59.7zM649 1941.2h59.7v1.5h-59.7zM649 1985.8h59.7v1.5h-59.7zM649 2259.8h59.7v1.5h-59.7zM649 2267.9h59.7v2.8h-59.7zM649 2273.3h59.7v1.5h-59.7zM649 2277.3h59.7v1.5h-59.7zM649 2293.5h59.7v1.5h-59.7zM649 2324.6h59.7v1.5h-59.7zM649 2327.3h59.7v1.5h-59.7zM649 2334h59.7v1.5h-59.7zM649 2429.9h59.7v1.5h-59.7zM708.6 1916.9h59.7v1.5h-59.7zM708.6 2069.5h59.7v1.5h-59.7zM708.6 2282.7h59.7v2.8h-59.7zM708.6 2286.8h59.7v1.5h-59.7zM708.6 2289.5h59.7v2.8h-59.7zM708.6 2296.2h59.7v2.8h-59.7zM708.6 2308.4h59.7v1.5h-59.7zM708.6 2311.1h59.7v2.8h-59.7zM708.6 2317.8h59.7v1.5h-59.7zM708.6 2323.2h59.7v1.5h-59.7zM708.6 2328.6h59.7v2.8h-59.7zM708.6 2347.5h59.7v2.8h-59.7zM708.6 2358.3h59.7v1.5h-59.7zM708.6 2365.1h59.7v1.5h-59.7zM708.6 2369.1h59.7v1.5h-59.7zM708.6 2386.7h59.7v1.5h-59.7zM708.6 2393.4h59.7v1.5h-59.7zM708.6 2397.5h59.7v1.5h-59.7zM708.6 2413.7h59.7v2.8h-59.7zM708.6 2419.1h59.7v1.5h-59.7zM708.6 2425.8h59.7v1.5h-59.7z"/>
<path fill="#4949b6" shape-rendering="crispEdges" d="M113.1 1804.9h59.7v4.2h-59.7zM113.1 1826.5h59.7v8.2h-59.7zM113.1 1854.8h59.7v4.2h-59.7zM113.1 1861.6h59.7v1.5h-59.7zM113.1 1872.4h59.7v1.5h-59.7zM113.1 1887.2h59.7v1.5h-59.7zM113.1 1892.6h59.7v1.5h-59.7zM113.1 1895.3h59.7v1.5h-59.7zM113.1 1899.4h59.7v1.5h-59.7zM113.1 1911.5h59.7v2.8h-59.7zM113.1 1915.6h59.7v1.5h-59.7zM113.1 1922.3h59.7v12.3h-59.7zM113.1 1935.8h59.7v1.5h-59.7zM113.1 1950.7h59.7v1.5h-59.7zM113.1 1956.1h59.7v2.8h-59.7zM113.1 1964.2h59.7v4.2h-59.7zM113.1 1969.6h59.7v2.8h-59.7zM113.1 1976.3h59.7v5.5h-59.7zM113.1 1983.1h59.7v1.5h-59.7zM113.1 2000.6h59.7v1.5h-59.7zM113.1 2004.7h59.7v1.5h-59.7zM113.1 2022.2h59.7v4.2h-59.7zM113.1 2030.3h59.7v1.5h-59.7zM113.1 2038.4h59.7v2.8h-59.7zM113.1 2043.8h59.7v1.5h-59.7zM113.1 2046.5h59.7v1.5h-59.7zM113.1 2049.2h59.7v1.5h-59.7zM113.1 2053.3h59.7v1.5h-59.7zM113.1 2078.9h59.7v2.8h-59.7zM113.1 2087h59.7v1.5h-59.7zM113.1 2136.9h59.7v2.8h-59.7zM113.1 2141h59.7v2.8h-59.7zM113.1 2146.4h59.7v1.5h-59.7zM113.1 2159.9h59.7v1.5h-59.7zM113.1 2162.6h59.7v2.8h-59.7zM113.1 2411h59.7v1.5h-59.7zM172.6 1800.8h59.7v4.2h-59.7zM172.6 1810.3h59.7v1.5h-59.7zM172.6 1821.1h59.7v2.8h-59.7zM172.6 1825.1h59.7v5.5h-59.7zM172.6 1852.1h59.7v2.8h-59.7zM172.6 1856.2h59.7v1.5h-59.7zM172.6 1876.4h59.7v1.5h-59.7zM172.6 1880.5h59.7v1.5h-59.7zM172.6 1883.2h59.7v1.5h-59.7zM172.6 1903.4h59.7v2.8h-59.7zM172.6 1911.5h59.7v4.2h-59.7zM172.6 1916.9h59.7v2.8h-59.7zM172.6 1922.3h59.7v1.5h-59.7zM172.6 1939.9h59.7v2.8h-59.7zM172.6 1943.9h59.7v1.5h-59.7zM172.6 1968.2h59.7v1.5h-59.7zM172.6 1989.8h59.7v2.8h-59.7zM172.6 1997.9h59.7v1.5h-59.7zM172.6 2000.6h59.7v1.5h-59.7zM172.6 2003.3h59.7v1.5h-59.7zM172.6 2006h59.7v1.5h-59.7zM172.6 2015.5h59.7v1.5h-59.7zM172.6 2038.4h59.7v1.5h-59.7zM172.6 2053.3h59.7v1.5h-59.7zM172.6 2057.3h59.7v2.8h-59.7zM172.6 2064.1h59.7v1.5h-59.7zM172.6 2138.3h59.7v1.5h-59.7zM172.6 2141h59.7v2.8h-59.7zM172.6 2145h59.7v1.5h-59.7zM172.6 2154.5h59.7v1.5h-59.7zM172.6 2169.3h59.7v1.5h-59.7zM172.6 2172h59.7v2.8h-59.7zM172.6 2176.1h59.7v2.8h-59.7zM172.6 2201.7h59.7v1.5h-59.7zM172.6 2416.4h59.7v1.5h-59.7zM232.2 1796.8h59.7v2.8h-59.7zM232.2 1811.6h59.7v2.8h-59.7zM232.2 1818.4h59.7v4.2h-59.7zM232.2 1826.5h59.7v2.8h-59.7zM232.2 1844h59.7v2.8h-59.7zM232.2 1848.1h59.7v1.5h-59.7zM232.2 1887.2h59.7v2.8h-59.7zM232.2 1903.4h59.7v1.5h-59.7zM232.2 1910.2h59.7v1.5h-59.7zM232.2 1923.7h59.7v1.5h-59.7zM232.2 1926.4h59.7v1.5h-59.7zM232.2 1943.9h59.7v2.8h-59.7zM232.2 1950.7h59.7v2.8h-59.7zM232.2 1956.1h59.7v2.8h-59.7zM232.2 1960.1h59.7v2.8h-59.7zM232.2 1973.6h59.7v4.2h-59.7zM232.2 1979h59.7v1.5h-59.7zM232.2 1997.9h59.7v1.5h-59.7zM232.2 2024.9h59.7v1.5h-59.7zM232.2 2029h59.7v1.5h-59.7zM232.2 2039.8h59.7v2.8h-59.7zM232.2 2163.9h59.7v2.8h-59.7zM232.2 2169.3h59.7v1.5h-59.7zM232.2 2200.4h59.7v4.2h-59.7zM232.2 2205.8h59.7v2.8h-59.7zM232.2 2370.5h59.7v2.8h-59.7zM232.2 2389.4h59.7v2.8h-59.7zM232.2 2404.2h59.7v1.5h-59.7zM232.2 2406.9h59.7v1.5h-59.7zM232.2 2413.7h59.7v1.5h-59.7zM232.2 2417.7h59.7v1.5h-59.7zM232.2 2420.4h59.7v1.5h-59.7zM232.2 2427.2h59.7v1.5h-59.7zM291.7 1811.6h59.7v1.5h-59.7zM291.7 1814.3h59.7v2.8h-59.7zM291.7 1868.3h59.7v1.5h-59.7zM291.7 1872.4h59.7v1.5h-59.7zM291.7 1885.9h59.7v1.5h-59.7zM291.7 1889.9h59.7v1.5h-59.7zM291.7 1907.5h59.7v1.5h-59.7zM291.7 1914.2h59.7v1.5h-59.7zM291.7 1933.1h59.7v1.5h-59.7zM291.7 1937.2h59.7v2.8h-59.7zM291.7 1968.2h59.7v2.8h-59.7zM291.7 1976.3h59.7v2.8h-59.7zM291.7 1980.4h59.7v5.5h-59.7zM291.7 1987.1h59.7v2.8h-59.7zM291.7 1991.2h59.7v1.5h-59.7zM291.7 2016.8h59.7v1.5h-59.7zM291.7 2031.7h59.7v1.5h-59.7zM291.7 2047.9h59.7v2.8h-59.7zM291.7 2053.3h59.7v4.2h-59.7zM291.7 2072.2h59.7v1.5h-59.7zM291.7 2096.5h59.7v2.8h-59.7zM291.7 2199h59.7v1.5h-59.7zM291.7 2371.8h59.7v1.5h-59.7zM351.3 1796.8h59.7v1.5h-59.7zM351.3 1806.2h59.7v2.8h-59.7zM351.3 1814.3h59.7v1.5h-59.7zM351.3 1819.7h59.7v1.5h-59.7zM351.3 1822.4h59.7v2.8h-59.7zM351.3 1826.5h59.7v2.8h-59.7zM351.3 1830.5h59.7v4.2h-59.7zM351.3 1846.7h59.7v1.5h-59.7zM351.3 1856.2h59.7v1.5h-59.7zM351.3 1858.9h59.7v1.5h-59.7zM351.3 1867h59.7v1.5h-59.7zM351.3 1872.4h59.7v1.5h-59.7zM351.3 1885.9h59.7v1.5h-59.7zM351.3 1888.6h59.7v1.5h-59.7zM351.3 1891.3h59.7v1.5h-59.7zM351.3 1903.4h59.7v2.8h-59.7zM351.3 1910.2h59.7v1.5h-59.7zM351.3 1914.2h59.7v4.2h-59.7zM351.3 1919.6h59.7v1.5h-59.7zM351.3 1923.7h59.7v2.8h-59.7zM351.3 1927.7h59.7v1.5h-59.7zM351.3 1937.2h59.7v1.5h-59.7zM351.3 1948h59.7v1.5h-59.7zM351.3 1950.7h59.7v1.5h-59.7zM351.3 1953.4h59.7v1.5h-59.7zM351.3 1958.8h59.7v1.5h-59.7zM351.3 1961.5h59.7v2.8h-59.7zM351.3 1966.9h59.7v2.8h-59.7zM351.3 1972.3h59.7v1.5h-59.7zM351.3 1977.7h59.7v1.5h-59.7zM351.3 1983.1h59.7v6.9h-59.7zM351.3 2057.3h59.7v6.9h-59.7zM351.3 2065.4h59.7v1.5h-59.7zM351.3 2087h59.7v1.5h-59.7zM351.3 2146.4h59.7v1.5h-59.7zM351.3 2155.8h59.7v2.8h-59.7zM351.3 2162.6h59.7v1.5h-59.7zM351.3 2182.8h59.7v1.5h-59.7zM351.3 2207.1h59.7v1.5h-59.7zM351.3 2335.4h59.7v1.5h-59.7zM351.3 2338.1h59.7v1.5h-59.7zM351.3 2342.1h59.7v1.5h-59.7zM351.3 2382.6h59.7v1.5h-59.7zM351.3 2388h59.7v4.2h-59.7zM351.3 2394.8h59.7v1.5h-59.7zM351.3 2408.3h59.7v1.5h-59.7zM410.8 2062.7h59.7v1.5h-59.7zM410.8 2066.8h59.7v1.5h-59.7zM410.8 2069.5h59.7v2.8h-59.7zM410.8 2089.7h59.7v1.5h-59.7zM410.8 2149.1h59.7v1.5h-59.7zM410.8 2161.2h59.7v1.5h-59.7zM410.8 2282.7h59.7v1.5h-59.7zM410.8 2288.1h59.7v1.5h-59.7zM410.8 2293.5h59.7v1.5h-59.7zM410.8 2296.2h59.7v2.8h-59.7zM410.8 2303h59.7v2.8h-59.7zM410.8 2315.1h59.7v4.2h-59.7zM410.8 2330h59.7v4.2h-59.7zM470.4 1981.7h59.7v4.2h-59.7zM470.4 1987.1h59.7v1.5h-59.7zM470.4 2061.4h59.7v2.8h-59.7zM470.4 2065.4h59.7v1.5h-59.7zM470.4 2153.1h59.7v2.8h-59.7zM470.4 2157.2h59.7v4.2h-59.7zM470.4 2178.8h59.7v1.5h-59.7zM470.4 2323.2h59.7v1.5h-59.7zM470.4 2328.6h59.7v1.5h-59.7zM470.4 2332.7h59.7v1.5h-59.7zM470.4 2343.5h59.7v1.5h-59.7zM470.4 2346.2h59.7v1.5h-59.7zM470.4 2354.3h59.7v2.8h-59.7zM470.4 2400.2h59.7v1.5h-59.7zM529.9 1806.2h59.7v2.8h-59.7zM529.9 1810.3h59.7v4.2h-59.7zM529.9 1829.2h59.7v1.5h-59.7zM529.9 1831.9h59.7v1.5h-59.7zM529.9 1862.9h59.7v1.5h-59.7zM529.9 1912.9h59.7v1.5h-59.7zM529.9 1919.6h59.7v1.5h-59.7zM529.9 1931.8h59.7v1.5h-59.7zM529.9 1934.5h59.7v1.5h-59.7zM529.9 1953.4h59.7v1.5h-59.7zM529.9 1997.9h59.7v2.8h-59.7zM529.9 2003.3h59.7v2.8h-59.7zM529.9 2007.4h59.7v4.2h-59.7zM529.9 2014.1h59.7v2.8h-59.7zM529.9 2020.9h59.7v1.5h-59.7zM529.9 2046.5h59.7v1.5h-59.7zM529.9 2054.6h59.7v1.5h-59.7zM529.9 2061.4h59.7v1.5h-59.7zM529.9 2064.1h59.7v1.5h-59.7zM529.9 2069.5h59.7v1.5h-59.7zM529.9 2072.2h59.7v2.8h-59.7zM529.9 2080.3h59.7v1.5h-59.7zM529.9 2174.7h59.7v2.8h-59.7zM529.9 2315.1h59.7v1.5h-59.7zM529.9 2317.8h59.7v1.5h-59.7zM529.9 2371.8h59.7v1.5h-59.7zM529.9 2374.5h59.7v1.5h-59.7zM529.9 2388h59.7v1.5h-59.7zM529.9 2408.3h59.7v2.8h-59.7zM529.9 2415h59.7v4.2h-59.7zM529.9 2421.8h59.7v1.5h-59.7zM529.9 2429.9h59.7v1.5h-59.7zM589.5 1894h59.7v2.8h-59.7zM589.5 2298.9h59.7v1.5h-59.7zM589.5 2301.6h59.7v1.5h-59.7zM589.5 2327.3h59.7v2.8h-59.7zM589.5 2343.5h59.7v1.5h-59.7zM589.5 2348.9h59.7v1.5h-59.7zM589.5 2389.4h59.7v1.5h-59.7zM589.5 2397.5h59.7v2.8h-59.7zM589.5 2401.5h59.7v1.5h-59.7zM649 1900.7h59.7v1.5h-59.7zM649 1907.5h59.7v1.5h-59.7zM649 1912.9h59.7v4.2h-59.7zM649 1931.8h59.7v1.5h-59.7zM649 1934.5h59.7v2.8h-59.7zM649 1939.9h59.7v1.5h-59.7zM649 1942.6h59.7v2.8h-59.7zM649 1981.7h59.7v4.2h-59.7zM649 1989.8h59.7v4.2h-59.7zM649 2258.4h59.7v1.5h-59.7zM649 2276h59.7v1.5h-59.7zM649 2278.7h59.7v2.8h-59.7zM649 2290.8h59.7v2.8h-59.7zM649 2294.9h59.7v1.5h-59.7zM649 2308.4h59.7v4.2h-59.7zM649 2319.2h59.7v2.8h-59.7zM649 2325.9h59.7v1.5h-59.7zM649 2336.7h59.7v2.8h-59.7zM649 2352.9h59.7v1.5h-59.7zM649 2374.5h59.7v1.5h-59.7zM649 2408.3h59.7v2.8h-59.7zM649 2412.3h59.7v1.5h-59.7zM649 2416.4h59.7v1.5h-59.7zM649 2423.1h59.7v6.9h-59.7zM708.6 2288.1h59.7v1.5h-59.7zM708.6 2292.2h59.7v1.5h-59.7zM708.6 2294.9h59.7v1.5h-59.7zM708.6 2304.3h59.7v1.5h-59.7zM708.6 2309.7h59.7v1.5h-59.7zM708.6 2313.8h59.7v1.5h-59.7zM708.6 2316.5h59.7v1.5h-59.7zM708.6 2327.3h59.7v1.5h-59.7zM708.6 2331.3h59.7v1.5h-59.7zM708.6 2340.8h59.7v2.8h-59.7zM708.6 2344.8h59.7v1.5h-59.7zM708.6 2350.2h59.7v4.2h-59.7zM708.6 2359.7h59.7v2.8h-59.7zM708.6 2363.7h59.7v1.5h-59.7zM708.6 2366.4h59.7v1.5h-59.7zM708.6 2370.5h59.7v1.5h-59.7zM708.6 2374.5h59.7v1.5h-59.7zM708.6 2378.6h59.7v1.5h-59.7zM708.6 2384h59.7v1.5h-59.7zM708.6 2388h59.7v2.8h-59.7zM708.6 2392.1h59.7v1.5h-59.7zM708.6 2408.3h59.7v5.5h-59.7zM708.6 2416.4h59.7v1.5h-59.7zM708.6 2420.4h59.7v5.5h-59.7zM708.6 2427.2h59.7v4.2h-59.7z"/>
<path fill="#3737c9" shape-rendering="crispEdges" d="M113.1 1808.9h59.7v1.5h-59.7zM113.1 1834.6h59.7v2.8h-59.7zM113.1 1838.6h59.7v2.8h-59.7zM113.1 1864.3h59.7v8.2h-59.7zM113.1 1902.1h59.7v2.8h-59.7zM113.1 1907.5h59.7v1.5h-59.7zM113.1 1914.2h59.7v1.5h-59.7zM113.1 1916.9h59.7v1.5h-59.7zM113.1 1953.4h59.7v1.5h-59.7zM113.1 1968.2h59.7v1.5h-59.7zM113.1 1972.3h59.7v1.5h-59.7zM113.1 1975h59.7v1.5h-59.7zM113.1 1981.7h59.7v1.5h-59.7zM113.1 1984.4h59.7v1.5h-59.7zM113.1 1995.2h59.7v1.5h-59.7zM113.1 1997.9h59.7v1.5h-59.7zM113.1 2003.3h59.7v1.5h-59.7zM113.1 2007.4h59.7v1.5h-59.7zM113.1 2020.9h59.7v1.5h-59.7zM113.1 2029h59.7v1.5h-59.7zM113.1 2031.7h59.7v6.9h-59.7zM113.1 2045.2h59.7v1.5h-59.7zM113.1 2066.8h59.7v1.5h-59.7zM113.1 2069.5h59.7v4.2h-59.7zM113.1 2143.7h59.7v2.8h-59.7zM113.1 2150.4h59.7v1.5h-59.7zM113.1 2161.2h59.7v1.5h-59.7zM113.1 2165.3h59.7v8.2h-59.7zM113.1 2409.6h59.7v1.5h-59.7zM113.1 2421.8h59.7v1.5h-59.7zM113.1 2427.2h59.7v1.5h-59.7zM172.6 1902.1h59.7v1.5h-59.7zM172.6 1915.6h59.7v1.5h-59.7zM172.6 1919.6h59.7v2.8h-59.7zM172.6 1938.5h59.7v1.5h-59.7zM172.6 1969.6h59.7v1.5h-59.7zM172.6 1992.5h59.7v5.5h-59.7zM172.6 1999.3h59.7v1.5h-59.7zM172.6 2002h59.7v1.5h-59.7zM172.6 2007.4h59.7v1.5h-59.7zM172.6 2016.8h59.7v1.5h-59.7zM172.6 2023.6h59.7v1.5h-59.7zM172.6 2027.6h59.7v1.5h-59.7zM172.6 2035.7h59.7v2.8h-59.7zM172.6 2041.1h59.7v2.8h-59.7zM172.6 2060h59.7v4.2h-59.7zM172.6 2065.4h59.7v2.8h-59.7zM172.6 2392.1h59.7v1.5h-59.7zM172.6 2394.8h59.7v1.5h-59.7zM232.2 1810.3h59.7v1.5h-59.7zM232.2 1814.3h59.7v4.2h-59.7zM232.2 1949.3h59.7v1.5h-59.7zM232.2 1958.8h59.7v1.5h-59.7zM232.2 2031.7h59.7v1.5h-59.7zM232.2 2092.4h59.7v1.5h-59.7zM232.2 2162.6h59.7v1.5h-59.7zM232.2 2168h59.7v1.5h-59.7zM232.2 2170.7h59.7v1.5h-59.7zM232.2 2197.7h59.7v2.8h-59.7zM232.2 2204.4h59.7v1.5h-59.7zM291.7 1813h59.7v1.5h-59.7zM291.7 1819.7h59.7v2.8h-59.7zM291.7 1845.4h59.7v2.8h-59.7zM291.7 1849.4h59.7v1.5h-59.7zM291.7 1854.8h59.7v4.2h-59.7zM291.7 1861.6h59.7v5.5h-59.7zM291.7 1869.7h59.7v2.8h-59.7zM291.7 1891.3h59.7v2.8h-59.7zM291.7 1957.4h59.7v2.8h-59.7zM291.7 1970.9h59.7v5.5h-59.7zM291.7 1989.8h59.7v1.5h-59.7zM291.7 1992.5h59.7v1.5h-59.7zM291.7 1996.6h59.7v2.8h-59.7zM291.7 2000.6h59.7v2.8h-59.7zM291.7 2051.9h59.7v1.5h-59.7zM291.7 2074.9h59.7v1.5h-59.7zM291.7 2168h59.7v2.8h-59.7zM291.7 2172h59.7v1.5h-59.7zM291.7 2178.8h59.7v1.5h-59.7zM291.7 2351.6h59.7v5.5h-59.7zM351.3 1829.2h59.7v1.5h-59.7zM351.3 1865.6h59.7v1.5h-59.7zM351.3 1873.7h59.7v1.5h-59.7zM351.3 1900.7h59.7v2.8h-59.7zM351.3 1906.1h59.7v4.2h-59.7zM351.3 1921h59.7v1.5h-59.7zM351.3 1926.4h59.7v1.5h-59.7zM351.3 1938.5h59.7v1.5h-59.7zM351.3 1941.2h59.7v6.9h-59.7zM351.3 1952h59.7v1.5h-59.7zM351.3 1954.7h59.7v1.5h-59.7zM351.3 1960.1h59.7v1.5h-59.7zM351.3 1969.6h59.7v1.5h-59.7zM351.3 2049.2h59.7v1.5h-59.7zM351.3 2056h59.7v1.5h-59.7zM351.3 2068.1h59.7v4.2h-59.7zM351.3 2077.6h59.7v2.8h-59.7zM351.3 2084.3h59.7v1.5h-59.7zM351.3 2200.4h59.7v2.8h-59.7zM351.3 2204.4h59.7v2.8h-59.7zM351.3 2340.8h59.7v1.5h-59.7zM351.3 2366.4h59.7v1.5h-59.7zM351.3 2384h59.7v4.2h-59.7zM351.3 2396.1h59.7v12.3h-59.7zM351.3 2409.6h59.7v2.8h-59.7zM410.8 2064.1h59.7v1.5h-59.7zM410.8 2068.1h59.7v1.5h-59.7zM410.8 2154.5h59.7v1.5h-59.7zM410.8 2284.1h59.7v4.2h-59.7zM410.8 2289.5h59.7v1.5h-59.7zM410.8 2294.9h59.7v1.5h-59.7zM410.8 2312.4h59.7v2.8h-59.7zM410.8 2321.9h59.7v1.5h-59.7zM410.8 2335.4h59.7v5.5h-59.7zM470.4 2325.9h59.7v2.8h-59.7zM470.4 2330h59.7v2.8h-59.7zM470.4 2334h59.7v6.9h-59.7zM529.9 1808.9h59.7v1.5h-59.7zM529.9 1827.8h59.7v1.5h-59.7zM529.9 1854.8h59.7v1.5h-59.7zM529.9 1864.3h59.7v1.5h-59.7zM529.9 1906.1h59.7v1.5h-59.7zM529.9 1933.1h59.7v1.5h-59.7zM529.9 1954.7h59.7v1.5h-59.7zM529.9 1958.8h59.7v4.2h-59.7zM529.9 1996.6h59.7v1.5h-59.7zM529.9 2002h59.7v1.5h-59.7zM529.9 2006h59.7v1.5h-59.7zM529.9 2011.4h59.7v2.8h-59.7zM529.9 2016.8h59.7v4.2h-59.7zM529.9 2026.3h59.7v2.8h-59.7zM529.9 2062.7h59.7v1.5h-59.7zM529.9 2065.4h59.7v4.2h-59.7zM529.9 2078.9h59.7v1.5h-59.7zM529.9 2081.6h59.7v2.8h-59.7zM529.9 2177.4h59.7v4.2h-59.7zM529.9 2296.2h59.7v2.8h-59.7zM529.9 2300.3h59.7v6.9h-59.7zM529.9 2367.8h59.7v1.5h-59.7zM529.9 2373.2h59.7v1.5h-59.7zM529.9 2413.7h59.7v1.5h-59.7zM529.9 2420.4h59.7v1.5h-59.7zM529.9 2427.2h59.7v2.8h-59.7zM589.5 1811.6h59.7v5.5h-59.7zM589.5 1858.9h59.7v1.5h-59.7zM589.5 1879.1h59.7v1.5h-59.7zM589.5 1884.5h59.7v6.9h-59.7zM589.5 1892.6h59.7v1.5h-59.7zM589.5 2293.5h59.7v1.5h-59.7zM589.5 2297.6h59.7v1.5h-59.7zM589.5 2303h59.7v15h-59.7zM589.5 2325.9h59.7v1.5h-59.7zM589.5 2331.3h59.7v1.5h-59.7zM589.5 2335.4h59.7v2.8h-59.7zM589.5 2339.4h59.7v4.2h-59.7zM589.5 2344.8h59.7v4.2h-59.7zM589.5 2350.2h59.7v8.2h-59.7zM589.5 2363.7h59.7v1.5h-59.7zM589.5 2396.1h59.7v1.5h-59.7zM589.5 2400.2h59.7v1.5h-59.7zM589.5 2402.9h59.7v1.5h-59.7zM589.5 2405.6h59.7v4.2h-59.7zM589.5 2411h59.7v4.2h-59.7zM589.5 2421.8h59.7v1.5h-59.7zM589.5 2424.5h59.7v1.5h-59.7zM589.5 2427.2h59.7v1.5h-59.7zM649 1933.1h59.7v1.5h-59.7zM649 1968.2h59.7v1.5h-59.7zM649 1972.3h59.7v4.2h-59.7zM649 1977.7h59.7v1.5h-59.7zM649 1980.4h59.7v1.5h-59.7zM649 1987.1h59.7v2.8h-59.7zM649 2270.6h59.7v1.5h-59.7zM649 2274.6h59.7v1.5h-59.7zM649 2296.2h59.7v6.9h-59.7zM649 2304.3h59.7v4.2h-59.7zM649 2312.4h59.7v4.2h-59.7zM649 2321.9h59.7v2.8h-59.7zM649 2330h59.7v1.5h-59.7zM649 2332.7h59.7v1.5h-59.7zM649 2339.4h59.7v2.8h-59.7zM649 2355.6h59.7v1.5h-59.7zM649 2370.5h59.7v4.2h-59.7zM649 2375.9h59.7v8.2h-59.7zM649 2388h59.7v6.9h-59.7zM649 2396.1h59.7v12.3h-59.7zM649 2411h59.7v1.5h-59.7zM649 2413.7h59.7v2.8h-59.7zM649 2417.7h59.7v5.5h-59.7zM708.6 2305.7h59.7v2.8h-59.7zM708.6 2315.1h59.7v1.5h-59.7zM708.6 2325.9h59.7v1.5h-59.7zM708.6 2332.7h59.7v1.5h-59.7zM708.6 2336.7h59.7v4.2h-59.7zM708.6 2343.5h59.7v1.5h-59.7zM708.6 2346.2h59.7v1.5h-59.7zM708.6 2362.4h59.7v1.5h-59.7zM708.6 2367.8h59.7v1.5h-59.7zM708.6 2375.9h59.7v2.8h-59.7zM708.6 2379.9h59.7v1.5h-59.7zM708.6 2382.6h59.7v1.5h-59.7zM708.6 2385.3h59.7v1.5h-59.7zM708.6 2390.7h59.7v1.5h-59.7z"/>
<path fill="#2525db" shape-rendering="crispEdges" d="M113.1 1837.3h59.7v1.5h-59.7zM113.1 1848.1h59.7v2.8h-59.7zM113.1 1853.5h59.7v1.5h-59.7zM113.1 1862.9h59.7v1.5h-59.7zM113.1 1891.3h59.7v1.5h-59.7zM113.1 1908.8h59.7v2.8h-59.7zM113.1 1960.1h59.7v1.5h-59.7zM113.1 1973.6h59.7v1.5h-59.7zM113.1 1996.6h59.7v1.5h-59.7zM113.1 1999.3h59.7v1.5h-59.7zM113.1 2068.1h59.7v1.5h-59.7zM113.1 2147.7h59.7v2.8h-59.7zM113.1 2151.8h59.7v2.8h-59.7zM113.1 2155.8h59.7v4.2h-59.7zM113.1 2181.5h59.7v1.5h-59.7zM113.1 2423.1h59.7v4.2h-59.7zM113.1 2428.5h59.7v2.8h-59.7zM172.6 1900.7h59.7v1.5h-59.7zM172.6 2022.2h59.7v1.5h-59.7zM172.6 2024.9h59.7v2.8h-59.7zM172.6 2029h59.7v6.9h-59.7zM172.6 2039.8h59.7v1.5h-59.7zM172.6 2178.8h59.7v1.5h-59.7zM172.6 2393.4h59.7v1.5h-59.7zM232.2 1906.1h59.7v1.5h-59.7zM232.2 1946.6h59.7v2.8h-59.7zM232.2 2084.3h59.7v4.2h-59.7zM232.2 2091.1h59.7v1.5h-59.7zM232.2 2166.6h59.7v1.5h-59.7zM291.7 1848.1h59.7v1.5h-59.7zM291.7 1850.8h59.7v4.2h-59.7zM291.7 1858.9h59.7v2.8h-59.7zM291.7 1867h59.7v1.5h-59.7zM291.7 1894h59.7v4.2h-59.7zM291.7 1993.9h59.7v2.8h-59.7zM291.7 2003.3h59.7v2.8h-59.7zM291.7 2007.4h59.7v2.8h-59.7zM291.7 2046.5h59.7v1.5h-59.7zM291.7 2050.6h59.7v1.5h-59.7zM291.7 2073.5h59.7v1.5h-59.7zM291.7 2076.2h59.7v1.5h-59.7zM291.7 2146.4h59.7v4.2h-59.7zM291.7 2151.8h59.7v1.5h-59.7zM291.7 2162.6h59.7v5.5h-59.7zM291.7 2176.1h59.7v2.8h-59.7zM291.7 2180.1h59.7v1.5h-59.7zM291.7 2182.8h59.7v1.5h-59.7zM291.7 2189.6h59.7v1.5h-59.7zM291.7 2357h59.7v1.5h-59.7zM291.7 2359.7h59.7v6.9h-59.7zM291.7 2367.8h59.7v1.5h-59.7zM351.3 1868.3h59.7v2.8h-59.7zM351.3 1935.8h59.7v1.5h-59.7zM351.3 1949.3h59.7v1.5h-59.7zM351.3 1956.1h59.7v2.8h-59.7zM351.3 1970.9h59.7v1.5h-59.7zM351.3 2047.9h59.7v1.5h-59.7zM351.3 2050.6h59.7v4.2h-59.7zM351.3 2072.2h59.7v2.8h-59.7zM351.3 2076.2h59.7v1.5h-59.7zM351.3 2080.3h59.7v4.2h-59.7zM351.3 2085.7h59.7v1.5h-59.7zM351.3 2203.1h59.7v1.5h-59.7zM351.3 2208.5h59.7v1.5h-59.7zM351.3 2339.4h59.7v1.5h-59.7zM351.3 2363.7h59.7v2.8h-59.7zM351.3 2367.8h59.7v1.5h-59.7zM410.8 2319.2h59.7v1.5h-59.7zM410.8 2334h59.7v1.5h-59.7zM470.4 2324.6h59.7v1.5h-59.7zM529.9 1796.8h59.7v2.8h-59.7zM529.9 1800.8h59.7v1.5h-59.7zM529.9 2022.2h59.7v4.2h-59.7zM529.9 2029h59.7v1.5h-59.7zM529.9 2037.1h59.7v1.5h-59.7zM529.9 2043.8h59.7v1.5h-59.7zM529.9 2181.5h59.7v1.5h-59.7zM529.9 2369.1h59.7v2.8h-59.7zM589.5 1810.3h59.7v1.5h-59.7zM589.5 1817h59.7v1.5h-59.7zM589.5 1860.2h59.7v1.5h-59.7zM589.5 1864.3h59.7v1.5h-59.7zM589.5 1880.5h59.7v4.2h-59.7zM589.5 1891.3h59.7v1.5h-59.7zM589.5 2292.2h59.7v1.5h-59.7zM589.5 2294.9h59.7v2.8h-59.7zM589.5 2317.8h59.7v2.8h-59.7zM589.5 2321.9h59.7v4.2h-59.7zM589.5 2330h59.7v1.5h-59.7zM589.5 2332.7h59.7v2.8h-59.7zM589.5 2358.3h59.7v5.5h-59.7zM589.5 2365.1h59.7v2.8h-59.7zM589.5 2381.3h59.7v5.5h-59.7zM589.5 2388h59.7v1.5h-59.7zM589.5 2390.7h59.7v4.2h-59.7zM589.5 2404.2h59.7v1.5h-59.7zM589.5 2409.6h59.7v1.5h-59.7zM589.5 2415h59.7v6.9h-59.7zM589.5 2423.1h59.7v1.5h-59.7zM589.5 2425.8h59.7v1.5h-59.7zM589.5 2428.5h59.7v2.8h-59.7zM649 1966.9h59.7v1.5h-59.7zM649 1969.6h59.7v2.8h-59.7zM649 1976.3h59.7v1.5h-59.7zM649 1979h59.7v1.5h-59.7zM649 2303h59.7v1.5h-59.7zM649 2316.5h59.7v2.8h-59.7zM649 2328.6h59.7v1.5h-59.7zM649 2331.3h59.7v1.5h-59.7zM649 2335.4h59.7v1.5h-59.7zM649 2343.5h59.7v4.2h-59.7zM649 2348.9h59.7v4.2h-59.7zM649 2354.3h59.7v1.5h-59.7zM649 2357h59.7v4.2h-59.7zM649 2362.4h59.7v8.2h-59.7zM649 2384h59.7v4.2h-59.7zM649 2394.8h59.7v1.5h-59.7zM708.6 2334h59.7v1.5h-59.7zM708.6 2381.3h59.7v1.5h-59.7z"/>
<path fill="#1212ed" shape-rendering="crispEdges" d="M113.1 1850.8h59.7v2.8h-59.7zM113.1 1961.5h59.7v1.5h-59.7zM113.1 2008.7h59.7v8.2h-59.7zM113.1 2018.2h59.7v2.8h-59.7zM113.1 2154.5h59.7v1.5h-59.7zM232.2 1965.5h59.7v2.8h-59.7zM232.2 2088.4h59.7v2.8h-59.7zM232.2 2161.2h59.7v1.5h-59.7zM291.7 1833.2h59.7v8.2h-59.7zM291.7 1842.7h59.7v2.8h-59.7zM291.7 1876.4h59.7v4.2h-59.7zM291.7 1883.2h59.7v2.8h-59.7zM291.7 1898h59.7v2.8h-59.7zM291.7 1949.3h59.7v2.8h-59.7zM291.7 1999.3h59.7v1.5h-59.7zM291.7 2006h59.7v1.5h-59.7zM291.7 2077.6h59.7v1.5h-59.7zM291.7 2150.4h59.7v1.5h-59.7zM291.7 2170.7h59.7v1.5h-59.7zM291.7 2173.4h59.7v2.8h-59.7zM291.7 2181.5h59.7v1.5h-59.7zM291.7 2184.2h59.7v5.5h-59.7zM291.7 2190.9h59.7v4.2h-59.7zM291.7 2200.4h59.7v9.6h-59.7zM291.7 2358.3h59.7v1.5h-59.7zM291.7 2366.4h59.7v1.5h-59.7zM351.3 1929.1h59.7v1.5h-59.7zM351.3 1933.1h59.7v1.5h-59.7zM351.3 1939.9h59.7v1.5h-59.7zM351.3 2046.5h59.7v1.5h-59.7zM351.3 2074.9h59.7v1.5h-59.7zM351.3 2197.7h59.7v2.8h-59.7zM410.8 2096.5h59.7v8.2h-59.7zM410.8 2108.6h59.7v5.5h-59.7zM410.8 2119.4h59.7v6.9h-59.7zM410.8 2128.8h59.7v8.2h-59.7zM410.8 2142.3h59.7v6.9h-59.7zM410.8 2211.2h59.7v27.1h-59.7zM410.8 2240.9h59.7v9.6h-59.7zM410.8 2253h59.7v2.8h-59.7zM410.8 2257.1h59.7v5.5h-59.7zM410.8 2263.8h59.7v9.6h-59.7zM410.8 2274.6h59.7v6.9h-59.7zM470.4 2100.5h59.7v1.5h-59.7zM470.4 2116.7h59.7v5.5h-59.7zM470.4 2123.4h59.7v4.2h-59.7zM470.4 2130.2h59.7v2.8h-59.7zM470.4 2138.3h59.7v5.5h-59.7zM470.4 2147.7h59.7v1.5h-59.7zM470.4 2217.9h59.7v1.5h-59.7zM470.4 2220.6h59.7v1.5h-59.7zM470.4 2226h59.7v1.5h-59.7zM470.4 2228.7h59.7v1.5h-59.7zM470.4 2253h59.7v1.5h-59.7zM470.4 2259.8h59.7v8.2h-59.7zM470.4 2269.2h59.7v1.5h-59.7zM470.4 2274.6h59.7v1.5h-59.7zM470.4 2286.8h59.7v1.5h-59.7zM529.9 1799.5h59.7v1.5h-59.7zM529.9 1802.2h59.7v1.5h-59.7zM529.9 2035.7h59.7v1.5h-59.7zM529.9 2038.4h59.7v1.5h-59.7zM529.9 2041.1h59.7v2.8h-59.7zM589.5 1861.6h59.7v2.8h-59.7zM589.5 1865.6h59.7v4.2h-59.7zM589.5 2320.5h59.7v1.5h-59.7zM589.5 2367.8h59.7v13.6h-59.7zM589.5 2386.7h59.7v1.5h-59.7zM589.5 2394.8h59.7v1.5h-59.7zM649 2342.1h59.7v1.5h-59.7zM649 2347.5h59.7v1.5h-59.7zM649 2361h59.7v1.5h-59.7zM708.6 2335.4h59.7v1.5h-59.7z"/>
<path fill="#0000ff" shape-rendering="crispEdges" d="M113.1 2016.8h59.7v1.5h-59.7zM232.2 1904.8h59.7v1.5h-59.7zM291.7 1841.3h59.7v1.5h-59.7zM291.7 1873.7h59.7v2.8h-59.7zM291.7 1880.5h59.7v2.8h-59.7zM291.7 1941.2h59.7v8.2h-59.7zM291.7 1952h59.7v5.5h-59.7zM291.7 2153.1h59.7v2.8h-59.7zM351.3 1930.4h59.7v2.8h-59.7zM351.3 1934.5h59.7v1.5h-59.7zM410.8 2095.1h59.7v1.5h-59.7zM410.8 2104.6h59.7v4.2h-59.7zM410.8 2114h59.7v5.5h-59.7zM410.8 2126.1h59.7v2.8h-59.7zM410.8 2136.9h59.7v5.5h-59.7zM410.8 2208.5h59.7v2.8h-59.7zM410.8 2238.2h59.7v2.8h-59.7zM410.8 2250.3h59.7v2.8h-59.7zM410.8 2255.7h59.7v1.5h-59.7zM410.8 2262.5h59.7v1.5h-59.7zM410.8 2273.3h59.7v1.5h-59.7zM470.4 2095.1h59.7v5.5h-59.7zM470.4 2101.9h59.7v15h-59.7zM470.4 2122.1h59.7v1.5h-59.7zM470.4 2127.5h59.7v2.8h-59.7zM470.4 2132.9h59.7v5.5h-59.7zM470.4 2143.7h59.7v4.2h-59.7zM470.4 2205.8h59.7v12.3h-59.7zM470.4 2219.3h59.7v1.5h-59.7zM470.4 2222h59.7v4.2h-59.7zM470.4 2227.4h59.7v1.5h-59.7zM470.4 2230.1h59.7v23.1h-59.7zM470.4 2254.4h59.7v5.5h-59.7zM470.4 2267.9h59.7v1.5h-59.7zM470.4 2270.6h59.7v4.2h-59.7zM470.4 2276h59.7v10.9h-59.7zM529.9 2030.3h59.7v5.5h-59.7zM529.9 2039.8h59.7v1.5h-59.7z"/>
<rect x="291.7" y="1833.1" width="59.5" height="1.1" fill="#fff"/>
<rect x="291.7" y="1846.9" width="59.5" height="1.1" fill="#fff"/>
<rect x="351.3" y="1989.5" width="59.5" height="1.1" fill="#fff"/>
<rect x="351.3" y="1990.9" width="59.5" height="1.1" fill="#fff"/>
<rect x="291.7" y="2183" width="59.5" height="1.1" fill="#fff"/>
<rect x="291.7" y="2186.5" width="59.5" height="1.1" fill="#fff"/>
<rect x="291.7" y="2190" width="59.5" height="1.1" fill="#fff"/>
<rect x="410.8" y="2237.7" width="59.5" height="1.1" fill="#fff"/>
<rect x="470.4" y="2126.6" width="59.5" height="1.1" fill="#fff"/>
<rect x="589.5" y="2293.5" width="59.5" height="1.1" fill="#fff"/>
<rect x="589.5" y="2304.5" width="59.5" height="1.1" fill="#fff"/>
<rect x="589.5" y="2308.8" width="59.5" height="1.1" fill="#fff"/>
<rect x="589.5" y="2316.3" width="59.5" height="1.1" fill="#fff"/>
<rect x="46.5" y="1804.5" width="55.1" height="21.8" fill="#ffa500"/>
<rect x="46.5" y="1826" width="55.1" height="21.8" fill="#eda012"/>
<rect x="46.5" y="1847.6" width="55.1" height="21.8" fill="#db9a25"/>
<rect x="46.5" y="1869.1" width="55.1" height="21.8" fill="#c99537"/>
<rect x="46.5" y="1890.6" width="55.1" height="21.8" fill="#b69049"/>
<rect x="46.5" y="1912.1" width="55.1" height="21.8" fill="#a48b5b"/>
<rect x="46.5" y="1933.7" width="55.1" height="21.8" fill="#92856e"/>
<rect x="46.5" y="1955.2" width="55.1" height="21.8" fill="#808080"/>
<rect x="46.5" y="1976.7" width="55.1" height="21.8" fill="#6e6e92"/>
<rect x="46.5" y="1998.2" width="55.1" height="21.8" fill="#5b5ba4"/>
<rect x="46.5" y="2019.8" width="55.1" height="21.8" fill="#4949b6"/>
<rect x="46.5" y="2041.3" width="55.1" height="21.8" fill="#3737c9"/>
<rect x="46.5" y="2062.8" width="55.1" height="21.8" fill="#2525db"/>
<rect x="46.5" y="2084.3" width="55.1" height="21.8" fill="#1212ed"/>
<rect x="46.5" y="2105.9" width="55.1" height="21.8" fill="#0000ff"/>
<rect x="46.5" y="1804.5" width="55.1" height="322.9" fill="none" stroke="#000" stroke-width="1.4"/>
<line x1="46.5" y1="1804.5" x2="46.5" y2="2127.4" stroke="#000" stroke-width="2.6"/>
<line x1="37" y1="1845.3" x2="46.5" y2="1845.3" stroke="#000" stroke-width="2.2"/>
<text x="35.5" y="1855.6" font-size="28.5" text-anchor="end">2</text>
<line x1="37" y1="1905.5" x2="46.5" y2="1905.5" stroke="#000" stroke-width="2.2"/>
<text x="35.5" y="1915.8" font-size="28.5" text-anchor="end">1</text>
<line x1="37" y1="1965.7" x2="46.5" y2="1965.7" stroke="#000" stroke-width="2.2"/>
<text x="35.5" y="1976" font-size="28.5" text-anchor="end">0</text>
<line x1="37" y1="2026.3" x2="46.5" y2="2026.3" stroke="#000" stroke-width="2.2"/>
<text x="35.5" y="2036.6" font-size="28.5" text-anchor="end">−1</text>
<line x1="37" y1="2086.5" x2="46.5" y2="2086.5" stroke="#000" stroke-width="2.2"/>
<text x="35.5" y="2096.8" font-size="28.5" text-anchor="end">−2</text>
<text x="55" y="2164.7" font-size="22.5" text-anchor="middle">Log<tspan font-size="16" dy="5">2</tspan><tspan dy="-5"> CPM</tspan></text>
<path d="M142.7 1791.7V1760.6H202.2V1791.7M172.4 1760.6V1741.8H261.7V1791.7M217.1 1741.8V1732.6H321.2V1791.7M269.1 1732.6V1725.8H381.1V1791.7M440.2 1791.7V1780.6H499.7V1791.7M678.2 1791.7V1744.6H738.1V1791.7M618.7 1791.7V1733H708.2V1744.6M559.2 1791.7V1697.9H663.4V1733M470 1780.6V1668.7H611.3V1697.9M325.1 1725.8V1654.4H540.6V1668.7" fill="none" stroke="#000" stroke-width="1.5"/>
<text x="135.6" y="2480.8" font-size="29" text-anchor="middle">WT</text>
<text x="195.8" y="2480.8" font-size="29" text-anchor="middle">WT</text>
<text x="256" y="2480.8" font-size="29" text-anchor="middle">WT</text>
<text x="316" y="2480.8" font-size="29" text-anchor="middle">WT</text>
<text x="376" y="2480.8" font-size="29" text-anchor="middle">WT</text>
<text x="435.6" y="2460.2" font-size="29" text-anchor="middle">Input</text>
<text x="434.2" y="2494.5" font-size="29" text-anchor="middle">(-)</text>
<text x="503.8" y="2460.2" font-size="29" text-anchor="middle">Input</text>
<text x="503.8" y="2494.5" font-size="29" text-anchor="middle">(+)</text>
<text x="557.6" y="2480.8" font-size="29" text-anchor="middle">KO</text>
<text x="618.8" y="2480.8" font-size="29" text-anchor="middle">KO</text>
<text x="679" y="2480.8" font-size="29" text-anchor="middle">KO</text>
<text x="739.2" y="2480.8" font-size="29" text-anchor="middle">KO</text>
<text x="14.2" y="1703" font-size="39.5" font-weight="bold">G</text>
<!-- panel_h -->
<text x="767.1" y="1705.1" font-size="39.5" font-weight="bold">H</text>
<line x1="973.5" y1="1775.8" x2="973.5" y2="2421" stroke="#BEBEBE" stroke-width="1.6"/>
<text x="775.9" y="1862.7" font-size="25.7">QKI KO up PAP</text>
<line x1="995" y1="1857.2" x2="1064.5" y2="1857.2" stroke="#BEBEBE" stroke-width="2.4"/>
<rect x="1019.6" y="1846.5" width="19.5" height="21.5" rx="1.5" fill="#000"/>
<text x="1029" y="1834.6" font-size="18.5" text-anchor="middle">(5)</text>
<text x="775.9" y="2024.8" font-size="25.7">QKI KO up CLIP</text>
<line x1="1048.7" y1="2019.3" x2="1157.6" y2="2019.3" stroke="#BEBEBE" stroke-width="2.4"/>
<rect x="1095.6" y="2011.5" width="14.2" height="15.6" rx="1.5" fill="#000"/>
<text x="1103.5" y="1998.3" font-size="18.5" text-anchor="middle">(4)</text>
<text x="784.9" y="2185.7" font-size="25.7">WT up PAP</text>
<line x1="1087.2" y1="2180.2" x2="1357.3" y2="2180.2" stroke="#BEBEBE" stroke-width="2.4"/>
<rect x="1216.9" y="2174.8" width="9.8" height="10.8" rx="1.5" fill="#000"/>
<text x="1224" y="2161.5" font-size="18.5" text-anchor="middle">(8)</text>
<text x="784.9" y="2346.5" font-size="25.7">WT up CLIP</text>
<line x1="1062.9" y1="2341" x2="1115.6" y2="2341" stroke="#BEBEBE" stroke-width="2.4"/>
<rect x="1079.7" y="2328.6" width="22.6" height="24.9" rx="1.5" fill="#000"/>
<text x="1090.6" y="2323.2" font-size="18.5" text-anchor="middle">(2)</text>
<line x1="941.9" y1="2421.3" x2="1384.1" y2="2421.3" stroke="#000" stroke-width="2.2"/>
<line x1="941.9" y1="2421.3" x2="941.9" y2="2428" stroke="#000" stroke-width="1.8"/>
<text x="941.9" y="2446.8" font-size="19.5" text-anchor="middle">0</text>
<line x1="973.5" y1="2421.3" x2="973.5" y2="2428" stroke="#000" stroke-width="1.8"/>
<text x="973.5" y="2446.8" font-size="19.5" text-anchor="middle">1</text>
<line x1="1005.1" y1="2421.3" x2="1005.1" y2="2428" stroke="#000" stroke-width="1.8"/>
<text x="1005.1" y="2446.8" font-size="19.5" text-anchor="middle">2</text>
<line x1="1036.7" y1="2421.3" x2="1036.7" y2="2428" stroke="#000" stroke-width="1.8"/>
<text x="1036.7" y="2446.8" font-size="19.5" text-anchor="middle">3</text>
<line x1="1068.2" y1="2421.3" x2="1068.2" y2="2428" stroke="#000" stroke-width="1.8"/>
<text x="1068.2" y="2446.8" font-size="19.5" text-anchor="middle">4</text>
<line x1="1099.8" y1="2421.3" x2="1099.8" y2="2428" stroke="#000" stroke-width="1.8"/>
<text x="1099.8" y="2446.8" font-size="19.5" text-anchor="middle">5</text>
<line x1="1131.4" y1="2421.3" x2="1131.4" y2="2428" stroke="#000" stroke-width="1.8"/>
<text x="1131.4" y="2446.8" font-size="19.5" text-anchor="middle">6</text>
<line x1="1163" y1="2421.3" x2="1163" y2="2428" stroke="#000" stroke-width="1.8"/>
<text x="1163" y="2446.8" font-size="19.5" text-anchor="middle">7</text>
<line x1="1194.6" y1="2421.3" x2="1194.6" y2="2428" stroke="#000" stroke-width="1.8"/>
<text x="1194.6" y="2446.8" font-size="19.5" text-anchor="middle">8</text>
<line x1="1226.2" y1="2421.3" x2="1226.2" y2="2428" stroke="#000" stroke-width="1.8"/>
<text x="1226.2" y="2446.8" font-size="19.5" text-anchor="middle">9</text>
<line x1="1257.8" y1="2421.3" x2="1257.8" y2="2428" stroke="#000" stroke-width="1.8"/>
<text x="1257.8" y="2446.8" font-size="19.5" text-anchor="middle">10</text>
<line x1="1289.3" y1="2421.3" x2="1289.3" y2="2428" stroke="#000" stroke-width="1.8"/>
<text x="1289.3" y="2446.8" font-size="19.5" text-anchor="middle">11</text>
<line x1="1320.9" y1="2421.3" x2="1320.9" y2="2428" stroke="#000" stroke-width="1.8"/>
<text x="1320.9" y="2446.8" font-size="19.5" text-anchor="middle">12</text>
<line x1="1352.5" y1="2421.3" x2="1352.5" y2="2428" stroke="#000" stroke-width="1.8"/>
<text x="1352.5" y="2446.8" font-size="19.5" text-anchor="middle">13</text>
<line x1="1384.1" y1="2421.3" x2="1384.1" y2="2428" stroke="#000" stroke-width="1.8"/>
<text x="1384.1" y="2446.8" font-size="19.5" text-anchor="middle">14</text>
<text x="1193.8" y="2474.2" font-size="24.5" text-anchor="middle">Odds ratio</text>
<!-- panel_ij -->
<rect x="1512.5" y="1685.5" width="409.5" height="381.1" fill="#fff"/>
<line x1="1577.1" y1="1685.5" x2="1577.1" y2="2066.6" stroke="#EBEBEB" stroke-width="1.1"/>
<line x1="1670.8" y1="1685.5" x2="1670.8" y2="2066.6" stroke="#EBEBEB" stroke-width="1.1"/>
<line x1="1764.4" y1="1685.5" x2="1764.4" y2="2066.6" stroke="#EBEBEB" stroke-width="1.1"/>
<line x1="1858.1" y1="1685.5" x2="1858.1" y2="2066.6" stroke="#EBEBEB" stroke-width="1.1"/>
<line x1="1512.5" y1="2006.9" x2="1922" y2="2006.9" stroke="#EBEBEB" stroke-width="1.1"/>
<line x1="1512.5" y1="1919.7" x2="1922" y2="1919.7" stroke="#EBEBEB" stroke-width="1.1"/>
<line x1="1512.5" y1="1832.6" x2="1922" y2="1832.6" stroke="#EBEBEB" stroke-width="1.1"/>
<line x1="1512.5" y1="1745.4" x2="1922" y2="1745.4" stroke="#EBEBEB" stroke-width="1.1"/>
<line x1="1530.3" y1="1685.5" x2="1530.3" y2="2066.6" stroke="#EBEBEB" stroke-width="2.2"/>
<line x1="1623.9" y1="1685.5" x2="1623.9" y2="2066.6" stroke="#EBEBEB" stroke-width="2.2"/>
<line x1="1717.6" y1="1685.5" x2="1717.6" y2="2066.6" stroke="#EBEBEB" stroke-width="2.2"/>
<line x1="1811.2" y1="1685.5" x2="1811.2" y2="2066.6" stroke="#EBEBEB" stroke-width="2.2"/>
<line x1="1904.9" y1="1685.5" x2="1904.9" y2="2066.6" stroke="#EBEBEB" stroke-width="2.2"/>
<line x1="1512.5" y1="2050.5" x2="1922" y2="2050.5" stroke="#EBEBEB" stroke-width="2.2"/>
<line x1="1512.5" y1="1963.3" x2="1922" y2="1963.3" stroke="#EBEBEB" stroke-width="2.2"/>
<line x1="1512.5" y1="1876.2" x2="1922" y2="1876.2" stroke="#EBEBEB" stroke-width="2.2"/>
<line x1="1512.5" y1="1789" x2="1922" y2="1789" stroke="#EBEBEB" stroke-width="2.2"/>
<line x1="1512.5" y1="1701.8" x2="1922" y2="1701.8" stroke="#EBEBEB" stroke-width="2.2"/>
<path d="M1512.5,2050.3 C1516.2,2050 1526.9,2049.5 1534.7,2048.6 C1542.5,2047.7 1551.1,2046.4 1559.3,2045 C1567.5,2043.6 1577.2,2041.7 1584,2040.2 C1590.8,2038.8 1593.2,2038.9 1600,2036.3 C1606.8,2033.7 1617,2028.8 1624.7,2024.7 C1632.4,2020.6 1639.3,2017.7 1646.2,2011.5 C1653.1,2005.3 1659.9,1996.7 1665.9,1987.6 C1671.9,1978.5 1676.9,1968.5 1682.4,1957.1 C1687.9,1945.7 1693.4,1932.9 1698.9,1919.2 C1704.4,1905.5 1709.9,1889.2 1715.4,1874.7 C1720.9,1860.2 1726.4,1844.8 1731.9,1831.9 C1737.4,1819 1742.9,1807.5 1748.4,1797.3 C1753.9,1787.1 1759.9,1778.3 1764.8,1770.9 C1769.7,1763.5 1772.5,1758.6 1778,1752.7 C1783.5,1746.8 1791.8,1740.1 1797.8,1735.4 C1803.8,1730.7 1807.4,1728.1 1814.3,1724.7 C1821.2,1721.3 1831.4,1717.4 1839,1714.8 C1846.6,1712.2 1852.3,1710.8 1860,1709.1 C1867.7,1707.4 1874.8,1705.9 1885,1704.8 C1895.2,1703.7 1915,1702.7 1921,1702.3" fill="none" stroke="#7F7F7F" stroke-width="3.6"/>
<polyline points="1512.5,2050.5 1570.4,2050.5 1570.4,2047.6 1603.7,2047.6 1603.7,2045.1 1625.9,2045.1 1625.9,1981 1641.9,1981 1641.9,1973.6 1649.3,1973.6 1649.3,1968.7 1655.5,1968.7 1655.5,1963.2 1661.7,1963.2 1661.7,1957.6 1665.9,1957.6 1665.9,1927.2 1670.3,1927.2 1670.3,1882.4 1671.5,1882.4 1671.5,1867.6 1673.3,1867.6 1673.3,1855.7 1680.2,1855.7 1680.2,1832.5 1692.5,1832.5 1692.5,1827.6 1700.6,1827.6 1700.6,1817 1703.6,1817 1703.6,1809.6 1709.8,1809.6 1709.8,1799.7 1712.2,1799.7 1712.2,1796.5 1715.9,1796.5 1715.9,1794.1 1729,1794.1 1729,1791.1 1735.6,1791.1 1735.6,1778.8 1736.9,1778.8 1736.9,1766.9 1740.6,1766.9 1740.6,1763.5 1743.8,1763.5 1743.8,1741.3 1764.7,1741.3 1764.7,1735.6 1767.2,1735.6 1767.2,1709.7 1782.5,1709.7 1782.5,1707.3 1803,1707.3 1803,1704.8 1851.6,1704.8 1851.6,1702.3 1921.3,1701.8" fill="none" stroke="#A020F0" stroke-width="3.2"/>
<rect x="1512.5" y="1685.5" width="409.5" height="381.1" fill="none" stroke="#333" stroke-width="3"/>
<line x1="1506.5" y1="2050.5" x2="1511" y2="2050.5" stroke="#333" stroke-width="1.8"/>
<text x="1504" y="2059.5" font-size="25.2" text-anchor="end" fill="#4D4D4D">0.00</text>
<line x1="1506.5" y1="1963.3" x2="1511" y2="1963.3" stroke="#333" stroke-width="1.8"/>
<text x="1504" y="1972.3" font-size="25.2" text-anchor="end" fill="#4D4D4D">0.25</text>
<line x1="1506.5" y1="1876.2" x2="1511" y2="1876.2" stroke="#333" stroke-width="1.8"/>
<text x="1504" y="1885.2" font-size="25.2" text-anchor="end" fill="#4D4D4D">0.50</text>
<line x1="1506.5" y1="1789" x2="1511" y2="1789" stroke="#333" stroke-width="1.8"/>
<text x="1504" y="1798" font-size="25.2" text-anchor="end" fill="#4D4D4D">0.75</text>
<line x1="1506.5" y1="1701.8" x2="1511" y2="1701.8" stroke="#333" stroke-width="1.8"/>
<text x="1504" y="1710.8" font-size="25.2" text-anchor="end" fill="#4D4D4D">1.00</text>
<line x1="1530.3" y1="2068.1" x2="1530.3" y2="2072.6" stroke="#333" stroke-width="1.8"/>
<text x="1530.3" y="2093.2" font-size="25" text-anchor="middle" fill="#4D4D4D">−1.0</text>
<line x1="1623.9" y1="2068.1" x2="1623.9" y2="2072.6" stroke="#333" stroke-width="1.8"/>
<text x="1623.9" y="2093.2" font-size="25" text-anchor="middle" fill="#4D4D4D">−0.5</text>
<line x1="1717.6" y1="2068.1" x2="1717.6" y2="2072.6" stroke="#333" stroke-width="1.8"/>
<text x="1717.6" y="2093.2" font-size="25" text-anchor="middle" fill="#4D4D4D">0.0</text>
<line x1="1811.2" y1="2068.1" x2="1811.2" y2="2072.6" stroke="#333" stroke-width="1.8"/>
<text x="1811.2" y="2093.2" font-size="25" text-anchor="middle" fill="#4D4D4D">0.5</text>
<line x1="1904.9" y1="2068.1" x2="1904.9" y2="2072.6" stroke="#333" stroke-width="1.8"/>
<text x="1904.9" y="2093.2" font-size="25" text-anchor="middle" fill="#4D4D4D">1.0</text>
<text x="1715.2" y="2123.7" font-size="34.5" text-anchor="middle">Log<tspan font-size="25" dy="8">2</tspan><tspan dy="-8"> Fold Change</tspan></text>
<text x="0" y="0" font-size="32" text-anchor="middle" transform="translate(1440,1890.5) rotate(-90)">Cumulative Fraction</text>
<text x="1768.4" y="1895.4" font-size="24.6" fill="#A020F0">Qk Targets</text>
<text x="1767.7" y="1947.7" font-size="25.2" fill="#333">All genes</text>
<text x="1390.9" y="1703.7" font-size="39.5" font-weight="bold">I</text>
<rect x="1464.1" y="2136.9" width="452.1" height="304.6" fill="#fff"/>
<line x1="1502.6" y1="2136.9" x2="1502.6" y2="2441.5" stroke="#EBEBEB" stroke-width="2.2"/>
<line x1="1578.4" y1="2136.9" x2="1578.4" y2="2441.5" stroke="#EBEBEB" stroke-width="2.2"/>
<line x1="1654.3" y1="2136.9" x2="1654.3" y2="2441.5" stroke="#EBEBEB" stroke-width="2.2"/>
<line x1="1730.1" y1="2136.9" x2="1730.1" y2="2441.5" stroke="#EBEBEB" stroke-width="2.2"/>
<line x1="1805.9" y1="2136.9" x2="1805.9" y2="2441.5" stroke="#EBEBEB" stroke-width="2.2"/>
<line x1="1881.8" y1="2136.9" x2="1881.8" y2="2441.5" stroke="#EBEBEB" stroke-width="2.2"/>
<line x1="1464.1" y1="2221.8" x2="1916.2" y2="2221.8" stroke="#EBEBEB" stroke-width="2.2"/>
<line x1="1464.1" y1="2357.4" x2="1916.2" y2="2357.4" stroke="#EBEBEB" stroke-width="2.2"/>
<line x1="1611" y1="2357.4" x2="1704.6" y2="2357.4" stroke="#7F7F7F" stroke-width="3.2"/>
<line x1="1754" y1="2357.4" x2="1840.9" y2="2357.4" stroke="#7F7F7F" stroke-width="3.2"/>
<line x1="1704.6" y1="2357.4" x2="1722.4" y2="2357.4" stroke="#7F7F7F" stroke-width="1.4"/>
<line x1="1735.9" y1="2357.4" x2="1754" y2="2357.4" stroke="#7F7F7F" stroke-width="1.4"/>
<circle cx="1499.4" cy="2357.4" r="2.1" fill="#7F7F7F"/>
<circle cx="1545.5" cy="2357.4" r="2.1" fill="#7F7F7F"/>
<circle cx="1549" cy="2357.4" r="2.1" fill="#7F7F7F"/>
<circle cx="1556.6" cy="2357.4" r="2.1" fill="#7F7F7F"/>
<circle cx="1592.9" cy="2357.4" r="2.1" fill="#7F7F7F"/>
<circle cx="1605.3" cy="2357.4" r="2.1" fill="#7F7F7F"/>
<circle cx="1842.6" cy="2357.4" r="2.1" fill="#7F7F7F"/>
<circle cx="1846" cy="2357.4" r="2.1" fill="#7F7F7F"/>
<circle cx="1849" cy="2357.4" r="2.1" fill="#7F7F7F"/>
<circle cx="1854.3" cy="2357.4" r="2.1" fill="#7F7F7F"/>
<circle cx="1867.1" cy="2357.4" r="2.1" fill="#7F7F7F"/>
<circle cx="1892.4" cy="2357.4" r="2.1" fill="#7F7F7F"/>
<rect x="1722.4" y="2306" width="13.5" height="101.9" fill="none" stroke="#7F7F7F" stroke-width="1.4"/>
<line x1="1729.8" y1="2306" x2="1729.8" y2="2407.9" stroke="#7F7F7F" stroke-width="2.2"/>
<line x1="1715.7" y1="2221.8" x2="1725.8" y2="2221.8" stroke="#A020F0" stroke-width="1.4"/>
<line x1="1739" y1="2221.8" x2="1753.4" y2="2221.8" stroke="#A020F0" stroke-width="1.4"/>
<circle cx="1707" cy="2221.8" r="2.1" fill="#A020F0"/>
<rect x="1725.8" y="2170.7" width="13.2" height="101.6" fill="none" stroke="#A020F0" stroke-width="1.4"/>
<line x1="1737.6" y1="2170.7" x2="1737.6" y2="2272.3" stroke="#A020F0" stroke-width="2.4"/>
<line x1="1491" y1="2223.5" x2="1491" y2="2355.7" stroke="#000" stroke-width="1.5"/>
<text x="0" y="0" font-size="30" text-anchor="middle" transform="translate(1492,2290) rotate(-90)">****</text>
<rect x="1464.1" y="2136.9" width="452.1" height="304.6" fill="none" stroke="#333" stroke-width="3"/>
<line x1="1578.4" y1="2443" x2="1578.4" y2="2448.5" stroke="#333" stroke-width="3"/>
<text x="1575.4" y="2476.9" font-size="27" text-anchor="middle">5</text>
<line x1="1730.1" y1="2443" x2="1730.1" y2="2448.5" stroke="#333" stroke-width="3"/>
<text x="1727.6" y="2476.9" font-size="27" text-anchor="middle">0</text>
<line x1="1881.8" y1="2443" x2="1881.8" y2="2448.5" stroke="#333" stroke-width="3"/>
<text x="1874.8" y="2476.9" font-size="27" text-anchor="middle">−5</text>
<text x="1715.2" y="2505.5" font-size="34.5" text-anchor="middle">Log<tspan font-size="25" dy="8">2</tspan><tspan dy="-8"> Fold Change</tspan></text>
<text x="1392.6" y="2131.5" font-size="39.5" font-weight="bold">J</text>
</svg>
</body></html>
